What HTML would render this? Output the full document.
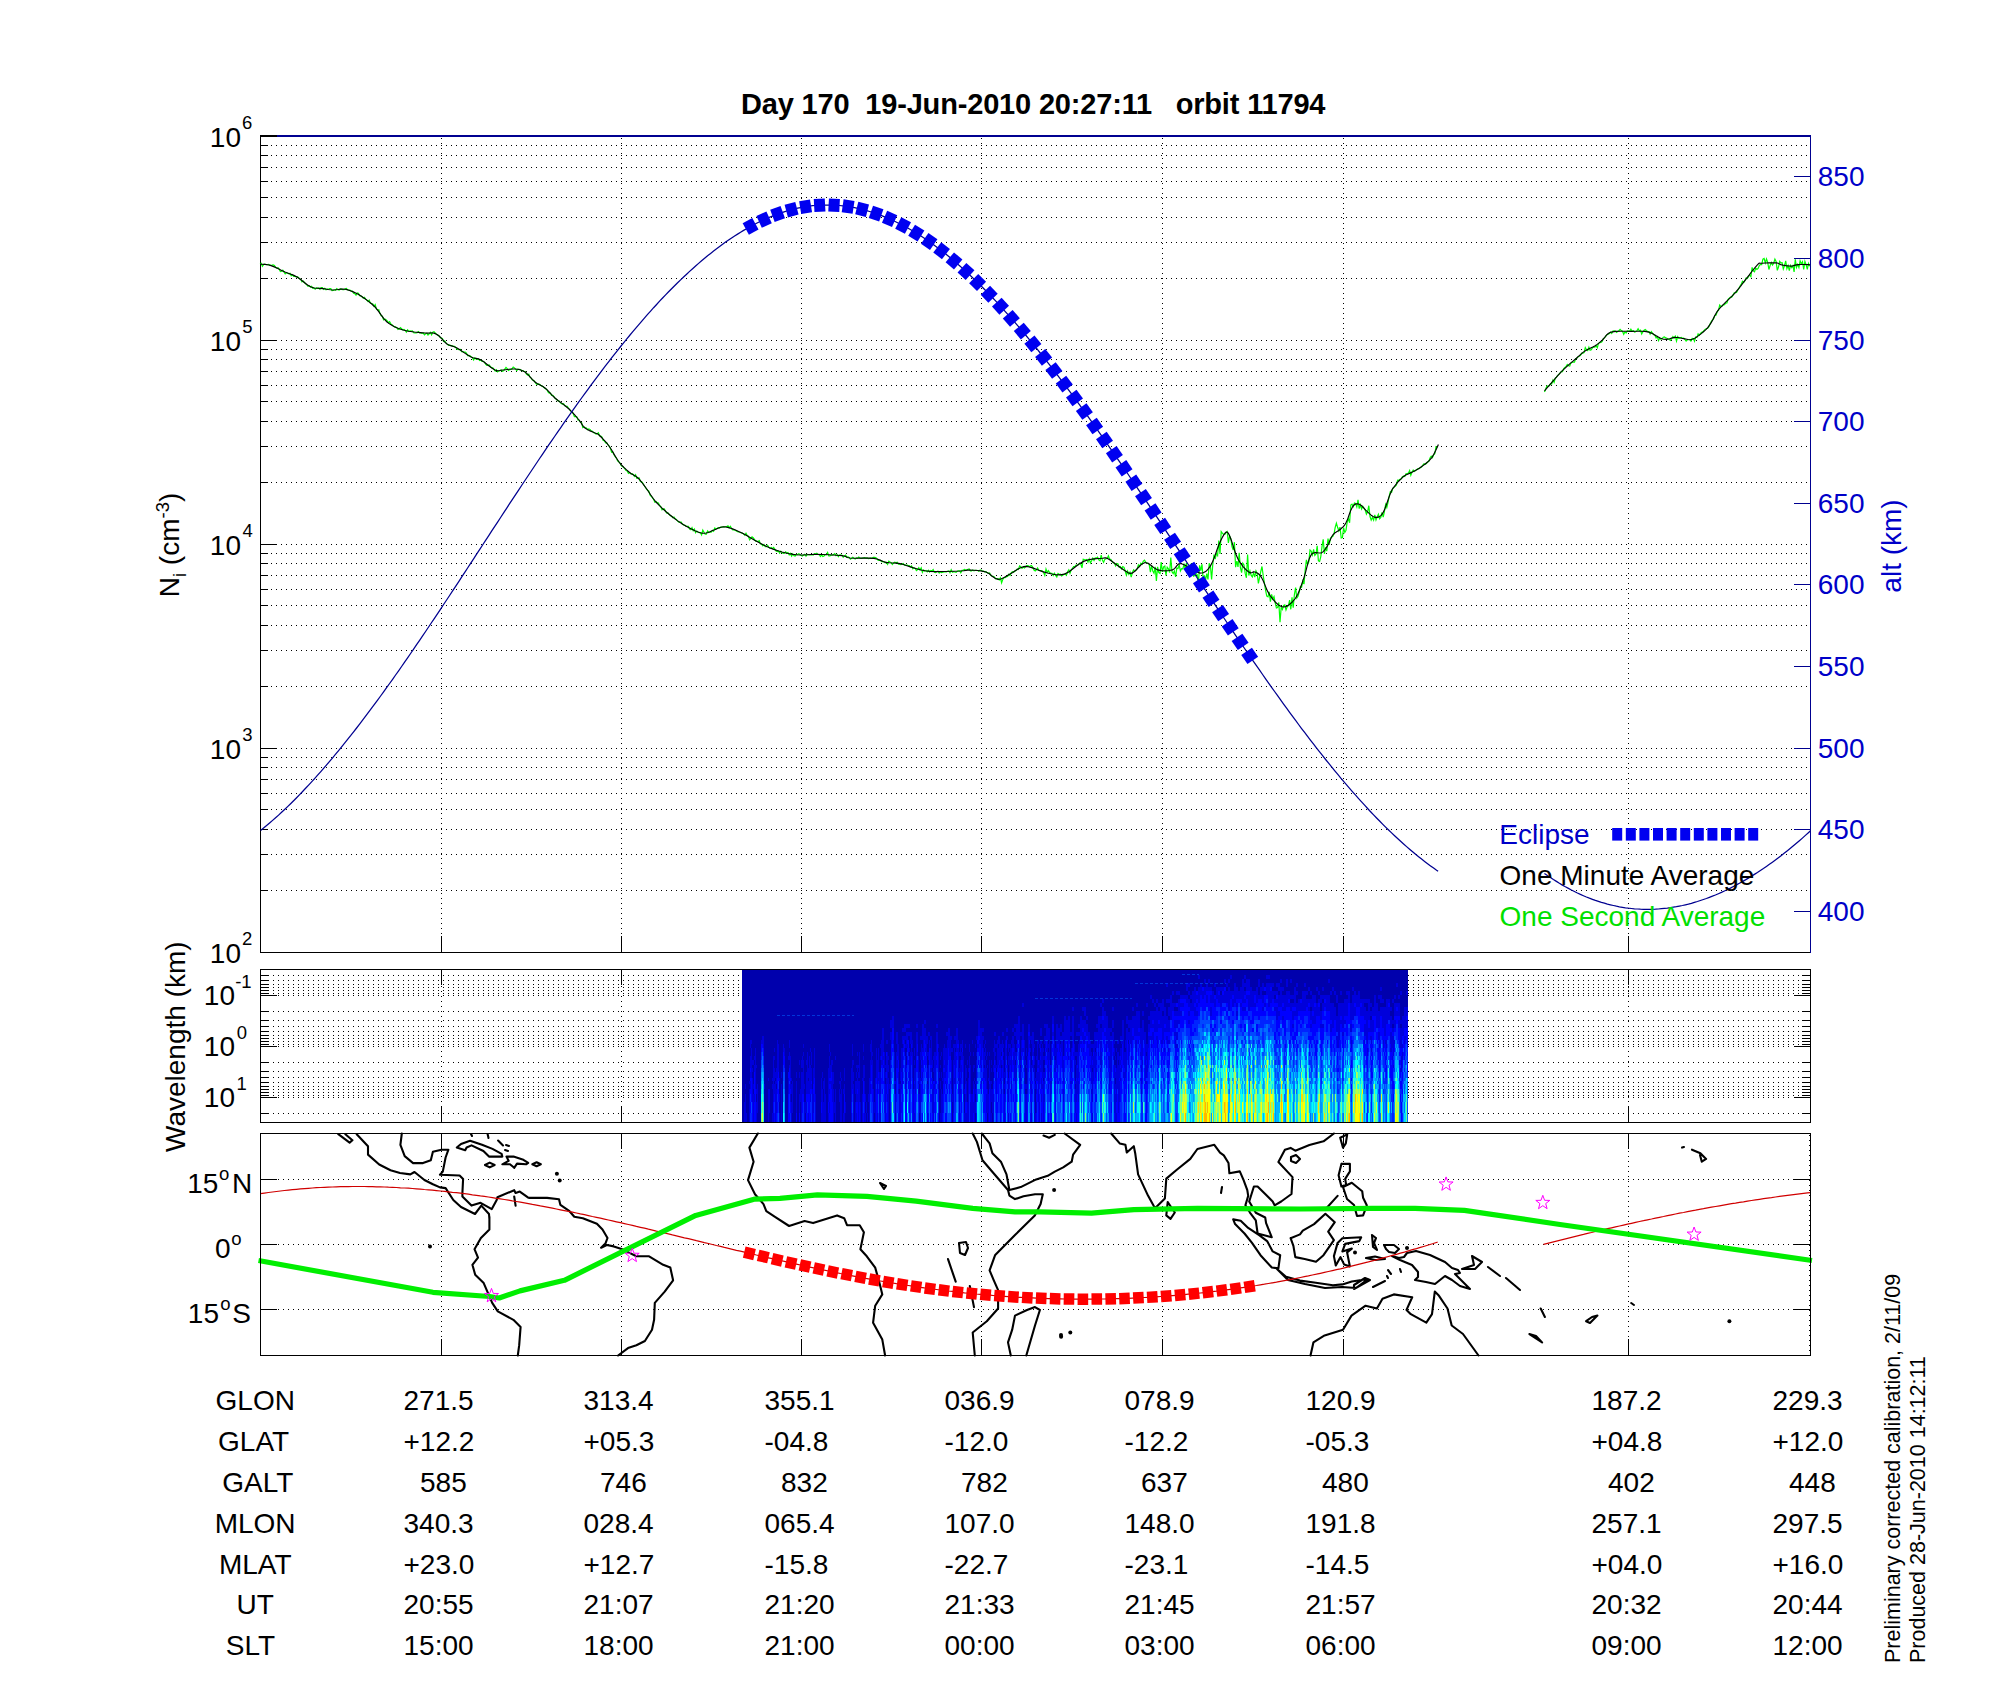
<!DOCTYPE html>
<html><head><meta charset="utf-8"><style>
html,body{margin:0;padding:0;background:#fff;width:2000px;height:1700px;overflow:hidden}
svg{display:block}
text{font-family:"Liberation Sans",sans-serif;font-size:28px}
</style></head><body>
<svg width="2000" height="1700" viewBox="0 0 2000 1700">
<rect width="2000" height="1700" fill="#fff"/>
<text x="741" y="114" font-weight="bold" style="white-space:pre;font-size:29px" textLength="584.5" lengthAdjust="spacing">Day 170  19-Jun-2010 20:27:11   orbit 11794</text>
<g shape-rendering="crispEdges" fill="none">
<path d="M261 890.5H1810M261 854.5H1810M261 829.5H1810M261 809.5H1810M261 793.5H1810M261 779.5H1810M261 767.5H1810M261 757.5H1810M261 748.5H1810M261 686.5H1810M261 650.5H1810M261 625.5H1810M261 605.5H1810M261 589.5H1810M261 575.5H1810M261 563.5H1810M261 553.5H1810M261 544.5H1810M261 482.5H1810M261 446.5H1810M261 421.5H1810M261 401.5H1810M261 385.5H1810M261 371.5H1810M261 359.5H1810M261 349.5H1810M261 340.5H1810M261 278.5H1810M261 242.5H1810M261 217.5H1810M261 197.5H1810M261 181.5H1810M261 167.5H1810M261 155.5H1810M261 145.5H1810M441.5 138V936M621.5 138V936M801.5 138V936M981.5 138V936M1162.5 138V936M1343.5 138V936M1628.5 138V936" stroke="#000" stroke-width="1" stroke-dasharray="1 4"/>
<path d="M260 890.5H268M260 854.5H268M260 829.5H268M260 809.5H268M260 793.5H268M260 779.5H268M260 767.5H268M260 757.5H268M260 748.5H277M260 686.5H268M260 650.5H268M260 625.5H268M260 605.5H268M260 589.5H268M260 575.5H268M260 563.5H268M260 553.5H268M260 544.5H277M260 482.5H268M260 446.5H268M260 421.5H268M260 401.5H268M260 385.5H268M260 371.5H268M260 359.5H268M260 349.5H268M260 340.5H277M260 278.5H268M260 242.5H268M260 217.5H268M260 197.5H268M260 181.5H268M260 167.5H268M260 155.5H268M260 145.5H268M260 136H277M441.5 936V952M621.5 936V952M801.5 936V952M981.5 936V952M1162.5 936V952M1343.5 936V952M1628.5 936V952" stroke="#000" stroke-width="1"/>
<path d="M260.5 135V953M260 952.5H1811" stroke="#000" stroke-width="1"/>
<path d="M1810.5 135V953M1794 911.5H1810M1794 829.5H1810M1794 748.5H1810M1794 666.5H1810M1794 584.5H1810M1794 503.5H1810M1794 421.5H1810M1794 340.5H1810M1794 258.5H1810M1794 176.5H1810" stroke="#000090" stroke-width="1"/>
<path d="M260 136H1811" stroke="#000090" stroke-width="2"/>
<path d="M260 136H277" stroke="#000" stroke-width="2"/>
</g>
<text x="209.87" y="962.50">10</text>
<text x="242.07" y="945.00" style="font-size:18.5px">2</text>
<text x="209.87" y="758.50">10</text>
<text x="242.30" y="741.00" style="font-size:18.5px">3</text>
<text x="209.87" y="554.50">10</text>
<text x="242.58" y="537.00" style="font-size:18.5px">4</text>
<text x="209.87" y="350.50">10</text>
<text x="242.26" y="333.00" style="font-size:18.5px">5</text>
<text x="209.87" y="146.50">10</text>
<text x="242.06" y="129.00" style="font-size:18.5px">6</text>
<text x="1817.78" y="921.00" fill="#0000c8">400</text>
<text x="1817.78" y="839.00" fill="#0000c8">450</text>
<text x="1817.78" y="758.00" fill="#0000c8">500</text>
<text x="1817.78" y="676.00" fill="#0000c8">550</text>
<text x="1817.78" y="594.00" fill="#0000c8">600</text>
<text x="1817.78" y="513.00" fill="#0000c8">650</text>
<text x="1817.78" y="431.00" fill="#0000c8">700</text>
<text x="1817.78" y="350.00" fill="#0000c8">750</text>
<text x="1817.78" y="268.00" fill="#0000c8">800</text>
<text x="1817.78" y="186.00" fill="#0000c8">850</text>
<text transform="translate(178.8 545) rotate(-90)" text-anchor="middle"><tspan>N</tspan><tspan style="font-size:18.5px" dy="7">i</tspan><tspan dy="-7"> (cm</tspan><tspan style="font-size:18.5px" dy="-10">-3</tspan><tspan dy="10">)</tspan></text>
<text transform="translate(1900.8 546) rotate(-90)" text-anchor="middle" fill="#0000c8">alt (km)</text>
<path d="M260 263.8 L261.2 263.3 L262.4 266.2 L263.6 264.6 L264.8 264.2 L266 264.5 L267.2 264.9 L268.4 264.3 L269.6 264.9 L270.8 265.4 L272 265.2 L273.2 264.9 L274.4 265.4 L275.6 267.4 L276.8 268.2 L278 267.8 L279.2 269.2 L280.4 271.6 L281.6 271.2 L282.8 270.1 L284 272.1 L285.2 273.8 L286.4 272.8 L287.6 273 L288.8 273.8 L290 273.3 L291.2 275.7 L292.4 274.6 L293.6 276.3 L294.8 276.3 L296 276.8 L297.2 276.6 L298.4 277.5 L299.6 278.9 L300.8 279.4 L302 281.8 L303.2 281.1 L304.4 282.5 L305.6 283.9 L306.8 284.9 L308 286.3 L309.2 285.8 L310.4 287 L311.6 286.3 L312.8 288.3 L314 288 L315.2 289.2 L316.4 287.9 L317.6 288.2 L318.8 288.2 L320 289.3 L321.2 287.6 L322.4 287.6 L323.6 289.3 L324.8 288.3 L326 289.7 L327.2 289.1 L328.4 289.3 L329.6 288.5 L330.8 288.5 L332 290.6 L333.2 290.5 L334.4 289.8 L335.6 290.2 L336.8 288.6 L338 289.6 L339.2 290 L340.4 288.9 L341.6 289.1 L342.8 289.7 L344 289.7 L345.2 288.9 L346.4 288.5 L347.6 289.8 L348.8 290.2 L350 290.2 L351.2 291.2 L352.4 291.1 L353.6 293.3 L354.8 293.7 L356 295.1 L357.2 292.9 L358.4 293.2 L359.6 295.6 L360.8 295.8 L362 296.7 L363.2 298.2 L364.4 297.3 L365.6 298.8 L366.8 300.2 L368 301.6 L369.2 300.1 L370.4 303.2 L371.6 303.5 L372.8 304 L374 306.3 L375.2 304.7 L376.4 308.9 L377.6 310.1 L378.8 309.8 L380 313.6 L381.2 315.7 L382.4 316.3 L383.6 319.8 L384.8 319 L386 319.8 L387.2 320.8 L388.4 322.8 L389.6 321.7 L390.8 323.9 L392 324.8 L393.2 325.9 L394.4 326.8 L395.6 326.9 L396.8 327.6 L398 329.5 L399.2 328.9 L400.4 327.6 L401.6 328.7 L402.8 329.9 L404 329.4 L405.2 330.3 L406.4 332 L407.6 329.8 L408.8 331.3 L410 330.9 L411.2 331.2 L412.4 331 L413.6 332.8 L414.8 332.9 L416 332.8 L417.2 332.7 L418.4 331.7 L419.6 333 L420.8 333 L422 333.4 L423.2 333 L424.4 334.8 L425.6 333.7 L426.8 333.2 L428 335.1 L429.2 333.9 L430.4 332.3 L431.6 334.8 L432.8 332.2 L434 331.7 L435.2 332.8 L436.4 334.2 L437.6 335.1 L438.8 335.4 L440 337.3 L441.2 338.2 L442.4 338.5 L443.6 341.4 L444.8 341 L446 342.9 L447.2 344.1 L448.4 345.2 L449.6 344.8 L450.8 345.6 L452 345.9 L453.2 346.2 L454.4 346.4 L455.6 347.2 L456.8 349 L458 349.4 L459.2 349.7 L460.4 349.5 L461.6 351.6 L462.8 351.7 L464 352.1 L465.2 352 L466.4 353.1 L467.6 355.6 L468.8 355.4 L470 355.9 L471.2 356.7 L472.4 357.6 L473.6 359.9 L474.8 357.8 L476 359 L477.2 359.4 L478.4 358.7 L479.6 360.5 L480.8 359.9 L482 361.4 L483.2 361.3 L484.4 362.1 L485.6 364.1 L486.8 365.4 L488 365.2 L489.2 364.9 L490.4 366.6 L491.6 367.6 L492.8 367.9 L494 369.3 L495.2 371.1 L496.4 369.8 L497.6 371.8 L498.8 370.8 L500 370.6 L501.2 370 L502.4 371.2 L503.6 370.8 L504.8 369.1 L506 367.4 L507.2 368.6 L508.4 370.4 L509.6 369.7 L510.8 369.4 L512 368.9 L513.2 367 L514.4 367.9 L515.6 369.2 L516.8 370.5 L518 369.2 L519.2 369.3 L520.4 369.6 L521.6 370.7 L522.8 370.7 L524 371.3 L525.2 371.6 L526.4 374.1 L527.6 375 L528.8 374.2 L530 377.2 L531.2 378.1 L532.4 380 L533.6 380.3 L534.8 381.6 L536 383.6 L537.2 384.5 L538.4 384 L539.6 384.3 L540.8 385.5 L542 386.1 L543.2 386.7 L544.4 388 L545.6 388.6 L546.8 389.6 L548 392 L549.2 393.2 L550.4 393.2 L551.6 395.3 L552.8 395.3 L554 396.7 L555.2 398.5 L556.4 399.2 L557.6 400.6 L558.8 400.8 L560 402.2 L561.2 403.5 L562.4 404.1 L563.6 403.7 L564.8 405.7 L566 406.1 L567.2 406.2 L568.4 408 L569.6 409.5 L570.8 411.3 L572 411.5 L573.2 413.6 L574.4 416.7 L575.6 416.7 L576.8 416.8 L578 419.9 L579.2 420.3 L580.4 422.3 L581.6 422.8 L582.8 427.7 L584 427 L585.2 427.6 L586.4 428 L587.6 429.7 L588.8 429 L590 429.4 L591.2 430.9 L592.4 431.2 L593.6 432.7 L594.8 432.8 L596 434 L597.2 433.7 L598.4 432.8 L599.6 435.9 L600.8 436 L602 437 L603.2 440.4 L604.4 440.8 L605.6 442.8 L606.8 442.8 L608 444.8 L609.2 446 L610.4 448.3 L611.6 452.2 L612.8 451.9 L614 454.7 L615.2 456.7 L616.4 458 L617.6 460.8 L618.8 461.8 L620 463.1 L621.2 465.7 L622.4 466.6 L623.6 467.3 L624.8 468.7 L626 470.6 L627.2 471 L628.4 473.3 L629.6 472.5 L630.8 473.8 L632 473.6 L633.2 474.5 L634.4 476.4 L635.6 474.8 L636.8 478.4 L638 478.2 L639.2 478 L640.4 481.7 L641.6 481.7 L642.8 483.1 L644 485.3 L645.2 487 L646.4 488.9 L647.6 490.2 L648.8 491.2 L650 494.9 L651.2 496.4 L652.4 497.6 L653.6 499.3 L654.8 502.2 L656 501.5 L657.2 502.7 L658.4 503 L659.6 505.5 L660.8 506.6 L662 509.8 L663.2 509 L664.4 508.8 L665.6 511.4 L666.8 513.1 L668 512.9 L669.2 514.7 L670.4 515.7 L671.6 516.1 L672.8 517.8 L674 517 L675.2 518.8 L676.4 519.4 L677.6 521.2 L678.8 522.2 L680 522 L681.2 522.1 L682.4 524.3 L683.6 524.9 L684.8 525 L686 526.3 L687.2 526.3 L688.4 526.4 L689.6 529.1 L690.8 529.7 L692 527.6 L693.2 530.8 L694.4 529 L695.6 532.6 L696.8 531 L698 532 L699.2 532.7 L700.4 532.7 L701.6 534.9 L702.8 530.1 L704 532.2 L705.2 534.1 L706.4 534.2 L707.6 530.9 L708.8 532.5 L710 532.1 L711.2 532.1 L712.4 530.3 L713.6 531.3 L714.8 527.9 L716 528.9 L717.2 528.3 L718.4 527.6 L719.6 528 L720.8 527.1 L722 527.1 L723.2 526.8 L724.4 527 L725.6 526.5 L726.8 526.6 L728 525.9 L729.2 527.9 L730.4 526.3 L731.6 528.6 L732.8 529.8 L734 529.9 L735.2 530.2 L736.4 530.9 L737.6 531.6 L738.8 532 L740 532.2 L741.2 533 L742.4 533 L743.6 533.9 L744.8 535.3 L746 533.2 L747.2 535.5 L748.4 536.2 L749.6 539.8 L750.8 538.3 L752 536.9 L753.2 537.8 L754.4 539.4 L755.6 541.2 L756.8 541 L758 541.5 L759.2 540.7 L760.4 543.9 L761.6 544.1 L762.8 545.8 L764 544.5 L765.2 546.6 L766.4 546.7 L767.6 545.3 L768.8 547.4 L770 548.2 L771.2 547.5 L772.4 548.7 L773.6 547.5 L774.8 549 L776 551.1 L777.2 551.5 L778.4 550.9 L779.6 553.1 L780.8 551.2 L782 552.6 L783.2 553.3 L784.4 553.1 L785.6 551.9 L786.8 553 L788 552.5 L789.2 554.9 L790.4 553.4 L791.6 556.2 L792.8 553.9 L794 555.7 L795.2 556 L796.4 554.4 L797.6 554.7 L798.8 553.7 L800 554.5 L801.2 555.5 L802.4 556 L803.6 554.9 L804.8 554.2 L806 556.1 L807.2 554.4 L808.4 554.7 L809.6 554.8 L810.8 554.8 L812 554.6 L813.2 555.1 L814.4 553.6 L815.6 553.9 L816.8 553.2 L818 554.5 L819.2 554.7 L820.4 556.5 L821.6 554.8 L822.8 556.6 L824 556 L825.2 554.7 L826.4 554.7 L827.6 552.5 L828.8 555.9 L830 555.9 L831.2 554.9 L832.4 555.2 L833.6 554.4 L834.8 553.6 L836 555.6 L837.2 554.6 L838.4 556.6 L839.6 555 L840.8 554.9 L842 555.2 L843.2 557.2 L844.4 555.9 L845.6 555.1 L846.8 557.2 L848 556.9 L849.2 557.4 L850.4 559.1 L851.6 558.3 L852.8 557.3 L854 558.3 L855.2 559 L856.4 557.9 L857.6 558.2 L858.8 557 L860 558.2 L861.2 558.3 L862.4 558.1 L863.6 557.8 L864.8 557.7 L866 558.2 L867.2 557.9 L868.4 558.7 L869.6 558.4 L870.8 558.1 L872 558.4 L873.2 557.4 L874.4 557.3 L875.6 557.5 L876.8 558.5 L878 560.1 L879.2 560.3 L880.4 560.3 L881.6 561.6 L882.8 561.4 L884 562.1 L885.2 562.9 L886.4 562.3 L887.6 564.3 L888.8 561.2 L890 562 L891.2 562.6 L892.4 564.5 L893.6 563 L894.8 562.3 L896 562.9 L897.2 562.3 L898.4 564.1 L899.6 564.2 L900.8 564.7 L902 564.3 L903.2 563.6 L904.4 565.1 L905.6 565 L906.8 565.1 L908 565.4 L909.2 565.6 L910.4 566.9 L911.6 565.9 L912.8 568.8 L914 567.8 L915.2 568.5 L916.4 570.5 L917.6 569.5 L918.8 567.6 L920 570 L921.2 567.8 L922.4 572.4 L923.6 570 L924.8 571.1 L926 570.4 L927.2 571.8 L928.4 570.3 L929.6 572 L930.8 570.5 L932 570.9 L933.2 569.5 L934.4 572.2 L935.6 572.5 L936.8 571.5 L938 571.2 L939.2 573 L940.4 571.7 L941.6 572.6 L942.8 572.1 L944 571.9 L945.2 571.8 L946.4 571.9 L947.6 571.3 L948.8 570.9 L950 572.8 L951.2 569.8 L952.4 572.2 L953.6 571.7 L954.8 572 L956 572.4 L957.2 571.3 L958.4 570.8 L959.6 570.8 L960.8 572.8 L962 570.3 L963.2 570.3 L964.4 569.5 L965.6 569.9 L966.8 570 L968 569.2 L969.2 569 L970.4 570.9 L971.6 570.9 L972.8 570 L974 570.9 L975.2 570.3 L976.4 570.4 L977.6 570.5 L978.8 571.2 L980 570.1 L981.2 570.1 L982.4 571.3 L983.6 571.2 L984.8 571.8 L986 571.6 L987.2 572.8 L988.4 573.3 L989.6 573 L990.8 575.3 L992 576.1 L993.2 576.4 L994.4 576.9 L995.6 578.8 L996.8 578.6 L998 578.6 L999.2 579.9 L1000.4 577.9 L1001.6 582.8 L1002.8 579.4 L1004 577.6 L1005.2 577.7 L1006.4 576.8 L1007.6 576.4 L1008.8 574.3 L1010 575.4 L1011.2 572.9 L1012.4 571.8 L1013.6 572.2 L1014.8 571.1 L1016 570.5 L1017.2 568.9 L1018.4 569.4 L1019.6 565.9 L1020.8 566.6 L1022 568.3 L1023.2 567.1 L1024.4 567.9 L1025.6 566.9 L1026.8 565.5 L1028 565.6 L1029.2 566.9 L1030.4 565.9 L1031.6 565.6 L1032.8 567.4 L1034 570.1 L1035.2 570.9 L1036.4 569.8 L1037.6 567.9 L1038.8 570.5 L1040 570.7 L1041.2 570.6 L1042.4 571 L1043.6 572.4 L1044.8 575.3 L1046 569.1 L1047.2 572.4 L1048.4 570.6 L1049.6 572.5 L1050.8 573.3 L1052 573.4 L1053.2 575.5 L1054.4 573.2 L1055.6 575.3 L1056.8 576.9 L1058 573.5 L1059.2 574.5 L1060.4 574.2 L1061.6 576 L1062.8 575.2 L1064 574 L1065.2 573.8 L1066.4 575.2 L1067.6 571.7 L1068.8 569.8 L1070 573.2 L1071.2 569.8 L1072.4 568.4 L1073.6 566.7 L1074.8 566.7 L1076 565.2 L1077.2 565.2 L1078.4 564.7 L1079.6 563.2 L1080.8 564.3 L1082 567.8 L1083.2 559.2 L1084.4 559.6 L1085.6 559.8 L1086.8 559.4 L1088 562.2 L1089.2 558.9 L1090.4 562.9 L1091.6 560.7 L1092.8 558.2 L1094 560.5 L1095.2 557.9 L1096.4 558 L1097.6 557.1 L1098.8 559.9 L1100 560.8 L1101.2 555.2 L1102.4 560 L1103.6 562.4 L1104.8 559.4 L1106 558.8 L1107.2 558.4 L1108.4 555.9 L1109.6 559.1 L1110.8 559.2 L1112 561.4 L1113.2 562.7 L1114.4 563.3 L1115.6 565.8 L1116.8 563.4 L1118 563.9 L1119.2 567.1 L1120.4 566.5 L1121.6 568.9 L1122.8 566.6 L1124 567.3 L1125.2 571 L1126.4 575.1 L1127.6 571.2 L1128.8 574.3 L1130 572.2 L1131.2 577.1 L1132.4 572.5 L1133.6 569.8 L1134.8 571 L1136 570.4 L1137.2 568.8 L1138.4 564.9 L1139.6 566.5 L1140.8 563.2 L1142 564.2 L1143.2 561.3 L1144.4 560.2 L1145.6 561.9 L1146.8 563.2 L1148 563.3 L1149.2 564.4 L1150.4 572.1 L1151.6 565.6 L1152.8 571 L1154 573.2 L1155.2 566.9 L1156.4 580.9 L1157.6 566.8 L1158.8 572.6 L1160 573.5 L1161.2 562.1 L1162.4 571.9 L1163.6 566.9 L1164.8 566 L1166 575.5 L1167.2 567.3 L1168.4 568.8 L1169.6 572.5 L1170.8 557.6 L1172 571.9 L1173.2 573.5 L1174.4 571.1 L1175.6 577 L1176.8 568.1 L1178 568.5 L1179.2 564.9 L1180.4 571 L1181.6 568.7 L1182.8 568.8 L1184 564.5 L1185.2 568.8 L1186.4 563.4 L1187.6 568.1 L1188.8 571.8 L1190 573.7 L1191.2 563.5 L1192.4 569.2 L1193.6 576.2 L1194.8 575.6 L1196 573.7 L1197.2 574.5 L1198.4 583.7 L1199.6 565.3 L1200.8 570.6 L1202 564.2 L1203.2 580.1 L1204.4 575.4 L1205.6 580 L1206.8 573.5 L1208 579.4 L1209.2 563.3 L1210.4 566 L1211.6 579.4 L1212.8 564.3 L1214 554.6 L1215.2 559.2 L1216.4 553.5 L1217.6 555.5 L1218.8 540.5 L1220 554 L1221.2 531.6 L1222.4 533.1 L1223.6 534.4 L1224.8 534.4 L1226 532.1 L1227.2 531.5 L1228.4 542.9 L1229.6 536.2 L1230.8 538.5 L1232 546.5 L1233.2 550.1 L1234.4 542.2 L1235.6 567.2 L1236.8 561 L1238 567 L1239.2 552.8 L1240.4 567.6 L1241.6 572.7 L1242.8 563.1 L1244 564.9 L1245.2 573.4 L1246.4 577.8 L1247.6 554.5 L1248.8 575.5 L1250 571 L1251.2 575.5 L1252.4 576.9 L1253.6 572.7 L1254.8 577.1 L1256 571 L1257.2 573.5 L1258.4 583.4 L1259.6 577.4 L1260.8 571.5 L1262 566.5 L1263.2 575.7 L1264.4 583.1 L1265.6 590.3 L1266.8 596.2 L1268 596.8 L1269.2 591.9 L1270.4 601.6 L1271.6 594.3 L1272.8 598.9 L1274 596.5 L1275.2 602.8 L1276.4 608 L1277.6 607.5 L1278.8 602.5 L1280 622.2 L1281.2 607.3 L1282.4 609.5 L1283.6 605.5 L1284.8 604.9 L1286 610 L1287.2 606.8 L1288.4 605.6 L1289.6 600.2 L1290.8 609.3 L1292 597.2 L1293.2 607.7 L1294.4 594.5 L1295.6 587.6 L1296.8 598 L1298 596.3 L1299.2 592.1 L1300.4 586.5 L1301.6 587.3 L1302.8 580.9 L1304 584.1 L1305.2 570 L1306.4 559.8 L1307.6 564.5 L1308.8 561.8 L1310 550 L1311.2 551.1 L1312.4 554.9 L1313.6 549.4 L1314.8 555.5 L1316 554.1 L1317.2 545.8 L1318.4 560.9 L1319.6 561.4 L1320.8 556.6 L1322 546.7 L1323.2 539.3 L1324.4 553.8 L1325.6 547.3 L1326.8 551.1 L1328 538.5 L1329.2 544.8 L1330.4 538.4 L1331.6 537.2 L1332.8 536.3 L1334 533.8 L1335.2 527.5 L1336.4 523.2 L1337.6 527.3 L1338.8 530.8 L1340 527.1 L1341.2 538 L1342.4 537.6 L1343.6 527.7 L1344.8 532.3 L1346 530.2 L1347.2 522 L1348.4 518.6 L1349.6 522.8 L1350.8 505.1 L1352 504.1 L1353.2 506.7 L1354.4 503.1 L1355.6 503.5 L1356.8 506.8 L1358 499.8 L1359.2 508.6 L1360.4 504.9 L1361.6 509 L1362.8 506.3 L1364 508.2 L1365.2 510.2 L1366.4 514.2 L1367.6 511.7 L1368.8 505.7 L1370 516.5 L1371.2 520.2 L1372.4 517.5 L1373.6 520.2 L1374.8 514.8 L1376 519.9 L1377.2 516.7 L1378.4 514.3 L1379.6 518.8 L1380.8 517.5 L1382 512.4 L1383.2 517 L1384.4 511.7 L1385.6 504.5 L1386.8 507.5 L1388 502.3 L1389.2 496.1 L1390.4 491.5 L1391.6 492.3 L1392.8 488.4 L1394 487.4 L1395.2 486.4 L1396.4 485 L1397.6 480.2 L1398.8 480.3 L1400 479.4 L1401.2 479.1 L1402.4 476.8 L1403.6 476.1 L1404.8 476.5 L1406 473.8 L1407.2 473.5 L1408.4 473.2 L1409.6 470.6 L1410.8 475.3 L1412 472.2 L1413.2 470 L1414.4 471.5 L1415.6 470.6 L1416.8 469.4 L1418 468.6 L1419.2 468.6 L1420.4 467.5 L1421.6 467 L1422.8 465 L1424 463.7 L1425.2 464.3 L1426.4 463.5 L1427.6 461.8 L1428.8 461.5 L1430 457.9 L1431.2 456.2 L1432.4 457.6 L1433.6 454.9 L1434.8 453.6 L1436 446.8 L1437.2 447.8" fill="none" stroke="#00ff00" stroke-width="1.2"/>
<path d="M1544.5 391.9 L1545.7 389 L1546.9 386 L1548.1 386.4 L1549.3 385.7 L1550.5 383.7 L1551.7 384 L1552.9 380.1 L1554.1 382.4 L1555.3 378.2 L1556.5 377.1 L1557.7 375.3 L1558.9 374.4 L1560.1 373 L1561.3 371.3 L1562.5 371.5 L1563.7 368.7 L1564.9 367.5 L1566.1 366.3 L1567.3 364.5 L1568.5 365.8 L1569.7 366 L1570.9 363.1 L1572.1 362.4 L1573.3 362.2 L1574.5 362.1 L1575.7 358.6 L1576.9 358.2 L1578.1 356.7 L1579.3 356.3 L1580.5 355.3 L1581.7 353.2 L1582.9 353.2 L1584.1 352.5 L1585.3 347.6 L1586.5 349.7 L1587.7 350.6 L1588.9 347.2 L1590.1 350.2 L1591.3 349.8 L1592.5 347.8 L1593.7 347.1 L1594.9 347.2 L1596.1 345.5 L1597.3 347.7 L1598.5 343.3 L1599.7 342.6 L1600.9 342.4 L1602.1 341.5 L1603.3 338.6 L1604.5 337.9 L1605.7 336.3 L1606.9 334.7 L1608.1 334.3 L1609.3 333.5 L1610.5 332.2 L1611.7 333.4 L1612.9 331 L1614.1 330.8 L1615.3 331.1 L1616.5 332.5 L1617.7 331.6 L1618.9 330.7 L1620.1 329.3 L1621.3 330.6 L1622.5 331.2 L1623.7 334.2 L1624.9 331.9 L1626.1 333 L1627.3 331 L1628.5 331.1 L1629.7 331.4 L1630.9 329.2 L1632.1 331.3 L1633.3 330.8 L1634.5 332.1 L1635.7 331.7 L1636.9 330.9 L1638.1 328.8 L1639.3 330.9 L1640.5 330.2 L1641.7 333.9 L1642.9 331.8 L1644.1 330.3 L1645.3 329.5 L1646.5 330.7 L1647.7 331.6 L1648.9 331.6 L1650.1 334.2 L1651.3 331.7 L1652.5 333.1 L1653.7 334.7 L1654.9 335.2 L1656.1 338 L1657.3 336.6 L1658.5 340.6 L1659.7 337.9 L1660.9 339.3 L1662.1 338.6 L1663.3 337.3 L1664.5 336.9 L1665.7 337.9 L1666.9 338.3 L1668.1 339 L1669.3 339.4 L1670.5 340.3 L1671.7 338.7 L1672.9 336.5 L1674.1 337.9 L1675.3 336.1 L1676.5 341 L1677.7 336.6 L1678.9 338.4 L1680.1 338 L1681.3 337.4 L1682.5 338.3 L1683.7 338.1 L1684.9 339.5 L1686.1 341 L1687.3 339.8 L1688.5 339.5 L1689.7 339.5 L1690.9 341.1 L1692.1 338.3 L1693.3 338.5 L1694.5 341.2 L1695.7 337 L1696.9 337.5 L1698.1 333.9 L1699.3 335.2 L1700.5 333.4 L1701.7 332.3 L1702.9 331.9 L1704.1 330.3 L1705.3 329.2 L1706.5 328.7 L1707.7 328.3 L1708.9 326.8 L1710.1 324.1 L1711.3 321.6 L1712.5 320 L1713.7 318.6 L1714.9 315.4 L1716.1 315 L1717.3 311.3 L1718.5 310.5 L1719.7 305.1 L1720.9 306.4 L1722.1 306.1 L1723.3 304.8 L1724.5 304.6 L1725.7 303.1 L1726.9 303 L1728.1 299.4 L1729.3 298.2 L1730.5 297 L1731.7 297.1 L1732.9 295.4 L1734.1 293.1 L1735.3 292.7 L1736.5 292.4 L1737.7 290.1 L1738.9 288.5 L1740.1 286 L1741.3 284 L1742.5 281.3 L1743.7 282.5 L1744.9 280.8 L1746.1 278 L1747.3 278.6 L1748.5 276.8 L1749.7 274.8 L1750.9 276.6 L1752.1 267.4 L1753.3 270.8 L1754.5 271.7 L1755.7 268.2 L1756.9 269.5 L1758.1 268.4 L1759.3 265.5 L1760.5 264.3 L1761.7 264.5 L1762.9 259.2 L1764.1 258.4 L1765.3 263 L1766.5 259 L1767.7 262.4 L1768.9 269.5 L1770.1 265.6 L1771.3 262.6 L1772.5 265.1 L1773.7 263.2 L1774.9 259.2 L1776.1 261.5 L1777.3 270.4 L1778.5 267 L1779.7 261.3 L1780.9 262.8 L1782.1 262.7 L1783.3 269 L1784.5 265.7 L1785.7 260.9 L1786.9 268.7 L1788.1 265.5 L1789.3 270.7 L1790.5 265.5 L1791.7 267.6 L1792.9 265.7 L1794.1 271.9 L1795.3 259.4 L1796.5 267.5 L1797.7 264.4 L1798.9 267.5 L1800.1 260.8 L1801.3 263.8 L1802.5 261.7 L1803.7 269.5 L1804.9 261.5 L1806.1 264.7 L1807.3 269.4 L1808.5 263.4 L1809.7 266.2" fill="none" stroke="#00ff00" stroke-width="1.2"/>
<path d="M260 264 L261.9 264.2 L264.6 264.4 L267.8 264.8 L271 265.6 L274.3 266.9 L277.9 268.6 L281.6 270.4 L285 272 L288.1 273.2 L291 274.3 L293.9 275.4 L297 277 L300.4 279.3 L304 282.2 L307.6 285 L311 287 L314.2 288 L317.2 288.3 L320.2 288.4 L323 288.6 L325.6 289 L328.1 289.5 L330.5 289.8 L333 290 L335.5 289.8 L338.1 289.5 L340.6 289.1 L343 289 L345.1 289.2 L347 289.6 L348.9 290.2 L351 291 L353.3 291.9 L355.6 292.9 L358.2 294.3 L361 296 L364.3 298.2 L367.9 300.9 L371.5 303.8 L375 307 L378 310.6 L380.9 314.7 L383.8 318.6 L387 322 L390.6 324.6 L394.4 326.8 L398.5 328.5 L403 330 L408.4 331.2 L414.5 332 L420.3 332.6 L425 333 L428 333.1 L430 333 L431.5 332.9 L433 333 L434.6 333.4 L436 334 L437.4 334.8 L439 336 L440.8 337.7 L442.8 339.9 L444.8 342.2 L447 344 L449.3 345.2 L451.6 345.9 L454.2 346.7 L457 348 L460.3 350 L464 352.6 L467.7 355.1 L471 357 L473.7 358 L476 358.4 L478.3 358.9 L481 360 L484.4 362.2 L488.1 365.2 L491.8 368 L495 370 L497.3 370.7 L499.1 370.7 L500.9 370.3 L503 370 L505.8 369.7 L508.9 369.3 L512 369 L515 369 L517.6 369.3 L520.1 369.8 L522.5 370.7 L525 372 L527.5 374.1 L530 376.8 L532.5 379.6 L535 382 L537.5 383.7 L540 385 L542.5 386.3 L545 388 L547.4 390.2 L549.8 392.7 L552.2 395.3 L555 398 L558.3 400.7 L562 403.4 L565.7 406.2 L569 409 L571.9 411.8 L574.5 414.7 L576.9 417.5 L579 420 L580.7 422.3 L582 424.4 L583.3 426.3 L585 428 L587.4 429.5 L590.1 430.9 L592.8 432 L595 433 L596.3 433.5 L597 433.6 L597.7 433.9 L599 435 L601.1 437 L603.6 439.6 L606.4 442.7 L609 446 L611.5 449.8 L614 454.1 L616.5 458.3 L619 462 L621.5 465 L624.1 467.6 L626.6 469.9 L629 472 L631.3 473.7 L633.6 475 L635.8 476.3 L638 478 L640 480.1 L641.9 482.5 L643.9 485.1 L646 488 L648.3 491.2 L650.6 494.8 L653.2 498.5 L656 502 L659.2 505.4 L662.8 508.8 L666.4 512 L670 515 L673.5 517.8 L677 520.4 L680.5 522.8 L684 525 L687.6 527.1 L691.4 529.1 L694.9 530.7 L698 532 L700.4 532.8 L702.4 533.1 L704.1 533.2 L706 533 L708 532.5 L710 531.8 L712 530.8 L714 530 L716 529.2 L718 528.2 L720 527.5 L722 527 L723.9 526.9 L725.8 527 L727.7 527.4 L730 528 L732.6 528.9 L735.5 530 L738.6 531.4 L742 533 L745.8 535 L750 537.4 L754.2 539.9 L758 542 L761.2 543.7 L764 545.2 L766.8 546.6 L770 548 L773.8 549.4 L777.9 550.8 L782 552 L786 553 L789.6 553.8 L793 554.4 L796.4 554.8 L800 555 L803.6 555 L807.2 554.8 L811.2 554.5 L816 554.4 L822.2 554.5 L829.5 554.8 L836.5 555.2 L842 555.6 L844.9 556.2 L846.1 556.8 L847.3 557.5 L850 558 L855.2 558.2 L861.8 558.1 L868.5 558.1 L874 558.4 L877.8 559.2 L880.6 560.4 L883.1 561.5 L886 562.4 L889.4 562.8 L892.9 563 L896.5 563.1 L900 563.6 L903.5 564.5 L906.9 565.7 L910.4 566.9 L914 568 L917.5 569 L921 570 L925 570.8 L930 571.4 L937 571.6 L945.4 571.5 L953.6 571.2 L960 571 L963.8 570.7 L965.9 570.4 L967.5 570.1 L970 570 L973.7 570.2 L977.9 570.5 L982.1 571.1 L986 572 L989.3 573.8 L992.2 576.2 L995.1 578.3 L998 579.4 L1001 579 L1004.1 577.5 L1007.1 575.7 L1010 574 L1012.7 572.4 L1015.2 570.7 L1017.7 569.2 L1020 568 L1022 567.2 L1023.7 566.6 L1025.7 566.4 L1028.5 566.7 L1032.6 567.9 L1037.5 569.7 L1042.6 571.6 L1047.5 573 L1051.8 574 L1056 574.7 L1060.2 574.9 L1064.5 574.1 L1069.1 571.7 L1073.9 568 L1078.7 564.2 L1083.5 561.4 L1088.6 559.8 L1093.8 558.9 L1098.7 558.5 L1102.6 558.2 L1104.9 557.9 L1106 557.9 L1107 558.3 L1108.9 559.3 L1112.2 561.5 L1116.2 564.5 L1120.3 567.5 L1123.8 569.9 L1126.3 571.5 L1128.1 572.8 L1129.9 573.4 L1132.2 573.1 L1135.1 571 L1138.3 567.5 L1141.7 564.2 L1145 562.5 L1148.1 563.3 L1151.2 565.5 L1154.4 568.1 L1157.7 569.9 L1161.4 570.6 L1165.4 570.8 L1169.2 570.5 L1172.5 569.9 L1174.8 568.4 L1176.5 566.1 L1178.3 564.1 L1181 563.5 L1185.2 565.2 L1190.4 568.4 L1195.6 571.5 L1200 573.1 L1203.3 572.8 L1206 571.3 L1208.3 568.9 L1210.6 565.7 L1212.9 561.1 L1215.1 555.4 L1217.1 549.5 L1219 544.5 L1220.8 540.6 L1222.5 537.1 L1224 534.5 L1225.4 532.8 L1226.5 532.1 L1227.4 532.2 L1228.4 533.4 L1229.7 536 L1231.5 540.7 L1233.5 547.1 L1235.7 553.7 L1238.1 559.3 L1240.7 563.5 L1243.5 567.1 L1246.3 570 L1248.7 572 L1250.6 572.8 L1252.1 572.5 L1253.5 571.9 L1255 572 L1256.5 572.7 L1258.1 573.5 L1259.7 575 L1261.4 577.3 L1263.3 581.1 L1265.3 585.9 L1267.4 590.9 L1269.9 595.3 L1272.8 599.1 L1276 602.8 L1279.3 605.6 L1282.6 607 L1285.9 606.6 L1289.2 604.8 L1292.4 601.9 L1295.3 598.5 L1297.8 594.2 L1300 589 L1302 583.4 L1303.8 578.1 L1305.4 572.8 L1306.8 567.3 L1308.1 562.3 L1309.4 558.4 L1310.6 555.9 L1311.6 554.3 L1312.7 553.4 L1314.1 552.7 L1315.8 552.5 L1317.8 552.8 L1319.8 553 L1321.6 552.7 L1323.2 551.6 L1324.6 550.1 L1325.9 548.2 L1327.3 546.1 L1328.7 543.5 L1330 540.4 L1331.4 537.3 L1332.9 534.8 L1334.7 533 L1336.7 531.7 L1338.7 530.5 L1340.5 529.2 L1342 527.8 L1343.4 526.6 L1344.7 524.9 L1346.1 522.6 L1347.7 518.9 L1349.3 514.3 L1351 509.9 L1352.7 506.6 L1354.3 504.8 L1355.9 503.9 L1357.5 503.8 L1359.3 504.2 L1361.3 505.5 L1363.5 507.7 L1365.7 510.2 L1367.8 512.2 L1369.7 513.9 L1371.6 515.6 L1373.4 516.8 L1375.3 517.4 L1377.2 517.4 L1379 516.9 L1380.9 515.6 L1382.8 513.2 L1384.8 509 L1386.8 503.5 L1388.8 497.8 L1390.4 493.4 L1391.5 490.9 L1392.1 489.5 L1392.9 488.4 L1394.1 486.8 L1396 484.4 L1398.4 481.5 L1401 478.8 L1403.5 476.5 L1405.8 475 L1408.2 473.9 L1410.5 472.9 L1412.9 471.8 L1415.3 470.5 L1417.7 469.2 L1420 467.7 L1422.4 466.1 L1424.8 464.3 L1427.3 462.3 L1429.6 460.1 L1431.8 457.6 L1433.8 454.3 L1435.7 450.5 L1437.3 447 L1438.4 444.5" fill="none" stroke="#000" stroke-width="1.15"/>
<path d="M1544.5 390.8 L1547.7 387.1 L1552.3 381.8 L1557.3 376.1 L1561.9 371.2 L1565.9 367.4 L1569.7 363.9 L1573.3 360.9 L1576.4 358.2 L1579 355.9 L1581 354.1 L1583 352.4 L1585.1 350.9 L1587.6 349.5 L1590.2 348.3 L1592.8 347.1 L1595.2 345.8 L1597.2 344.4 L1598.9 343.1 L1600.6 341.6 L1602.5 340 L1604.3 338 L1606 335.7 L1608.2 333.6 L1611.2 332.1 L1615.5 331.4 L1620.8 331.2 L1626.4 331.2 L1631.5 331.3 L1636.1 331.2 L1640.6 331.2 L1644.8 331.4 L1648.9 332.1 L1652.8 333.7 L1656.5 335.9 L1660 338 L1663.4 339.3 L1666.6 339.4 L1669.6 338.7 L1672.4 337.9 L1675 337.4 L1677.4 337.5 L1679.5 337.8 L1681.6 338.3 L1683.7 338.6 L1685.8 339 L1687.9 339.5 L1690 339.7 L1692.4 339.3 L1695.2 337.9 L1698.3 335.9 L1701.3 333.6 L1704 331.3 L1706.1 329.3 L1707.9 327.3 L1709.5 325.1 L1711.2 322.6 L1712.8 319.7 L1714.3 316.6 L1716.1 313.2 L1718.5 309.6 L1722 305.8 L1726.2 301.7 L1730.5 297.6 L1734.4 293.6 L1737.6 289.9 L1740.5 286.3 L1743.2 282.7 L1746 279.1 L1749.1 275.2 L1752.2 271 L1755.2 267.3 L1757.6 264.6 L1759 263.3 L1759.6 263 L1760.4 263.2 L1762 263.2 L1765.2 263 L1769.3 262.9 L1773.4 262.8 L1776.5 262.9 L1778.2 263.2 L1778.9 263.6 L1779.5 264.1 L1780.8 264.6 L1783 265.1 L1785.7 265.6 L1788.5 265.9 L1791 266.1 L1792.9 265.9 L1794.5 265.4 L1796.2 264.9 L1798.2 264.6 L1801.1 264.5 L1804.5 264.5 L1807.6 264.6 L1809.8 264.6" fill="none" stroke="#000" stroke-width="1.15"/>
<path d="M260.6 830.5 L263.6 828.1 L266.6 825.6 L269.6 823 L272.6 820.4 L275.6 817.8 L278.6 815.1 L281.6 812.3 L284.6 809.5 L287.6 806.6 L290.6 803.7 L293.6 800.7 L296.6 797.7 L299.6 794.6 L302.6 791.5 L305.6 788.3 L308.6 785.1 L311.6 781.9 L314.6 778.6 L317.6 775.2 L320.6 771.8 L323.6 768.4 L326.6 764.9 L329.6 761.4 L332.6 757.8 L335.6 754.2 L338.6 750.6 L341.6 746.9 L344.6 743.2 L347.6 739.4 L350.6 735.7 L353.6 731.8 L356.6 728 L359.6 724.1 L362.6 720.2 L365.6 716.2 L368.6 712.2 L371.6 708.2 L374.6 704.1 L377.6 700.1 L380.6 696 L383.6 691.8 L386.6 687.7 L389.6 683.5 L392.6 679.3 L395.6 675 L398.6 670.8 L401.6 666.5 L404.6 662.2 L407.6 657.8 L410.6 653.5 L413.6 649.1 L416.6 644.7 L419.6 640.3 L422.6 635.9 L425.6 631.5 L428.6 627 L431.6 622.5 L434.6 618.1 L437.6 613.6 L440.6 609.1 L443.6 604.5 L446.6 600 L449.6 595.5 L452.6 590.9 L455.6 586.3 L458.6 581.8 L461.6 577.2 L464.6 572.6 L467.6 568 L470.6 563.4 L473.6 558.8 L476.6 554.2 L479.6 549.6 L482.6 545 L485.6 540.4 L488.6 535.8 L491.6 531.2 L494.6 526.7 L497.6 522.1 L500.6 517.5 L503.6 512.9 L506.6 508.3 L509.6 503.7 L512.6 499.2 L515.6 494.6 L518.6 490.1 L521.6 485.5 L524.6 481 L527.6 476.5 L530.6 472 L533.6 467.5 L536.6 463 L539.6 458.5 L542.6 454.1 L545.6 449.7 L548.6 445.2 L551.6 440.8 L554.6 436.5 L557.6 432.1 L560.6 427.8 L563.6 423.4 L566.6 419.1 L569.6 414.9 L572.6 410.6 L575.6 406.4 L578.6 402.2 L581.6 398 L584.6 393.9 L587.6 389.8 L590.6 385.7 L593.6 381.6 L596.6 377.6 L599.6 373.6 L602.6 369.6 L605.6 365.7 L608.6 361.8 L611.6 357.9 L614.6 354.1 L617.6 350.3 L620.6 346.5 L623.6 342.8 L626.6 339.1 L629.6 335.5 L632.6 331.8 L635.6 328.3 L638.6 324.8 L641.6 321.3 L644.6 317.8 L647.6 314.4 L650.6 311.1 L653.6 307.7 L656.6 304.5 L659.6 301.2 L662.6 298 L665.6 294.9 L668.6 291.8 L671.6 288.7 L674.6 285.7 L677.6 282.8 L680.6 279.9 L683.6 277 L686.6 274.2 L689.6 271.4 L692.6 268.7 L695.6 266 L698.6 263.4 L701.6 260.8 L704.6 258.3 L707.6 255.8 L710.6 253.4 L713.6 251.1 L716.6 248.7 L719.6 246.5 L722.6 244.3 L725.6 242.1 L728.6 240 L731.6 238 L734.6 236 L737.6 234.1 L740.6 232.2 L743.6 230.4 L746.6 228.7 L749.6 227 L752.6 225.3 L755.6 223.8 L758.6 222.2 L761.6 220.8 L764.6 219.4 L767.6 218.1 L770.6 216.8 L773.6 215.6 L776.6 214.4 L779.6 213.3 L782.6 212.3 L785.6 211.4 L788.6 210.5 L791.6 209.7 L794.6 208.9 L797.6 208.2 L800.6 207.6 L803.6 207 L806.6 206.5 L809.6 206.1 L812.6 205.7 L815.6 205.5 L818.6 205.2 L821.6 205.1 L824.6 205 L827.6 205 L830.6 205 L833.6 205.1 L836.6 205.3 L839.6 205.5 L842.6 205.8 L845.6 206.2 L848.6 206.6 L851.6 207.1 L854.6 207.7 L857.6 208.3 L860.6 209 L863.6 209.8 L866.6 210.6 L869.6 211.5 L872.6 212.4 L875.6 213.4 L878.6 214.5 L881.6 215.6 L884.6 216.8 L887.6 218 L890.6 219.4 L893.6 220.7 L896.6 222.2 L899.6 223.7 L902.6 225.2 L905.6 226.8 L908.6 228.5 L911.6 230.2 L914.6 232 L917.6 233.9 L920.6 235.8 L923.6 237.7 L926.6 239.8 L929.6 241.8 L932.6 244 L935.6 246.2 L938.6 248.4 L941.6 250.7 L944.6 253.1 L947.6 255.5 L950.6 258 L953.6 260.5 L956.6 263.1 L959.6 265.7 L962.6 268.4 L965.6 271.1 L968.6 273.9 L971.6 276.7 L974.6 279.6 L977.6 282.5 L980.6 285.4 L983.6 288.5 L986.6 291.5 L989.6 294.6 L992.6 297.8 L995.6 300.9 L998.6 304.2 L1001.6 307.4 L1004.6 310.8 L1007.6 314.1 L1010.6 317.5 L1013.6 320.9 L1016.6 324.4 L1019.6 327.9 L1022.6 331.5 L1025.6 335 L1028.6 338.7 L1031.6 342.3 L1034.6 346 L1037.6 349.7 L1040.6 353.5 L1043.6 357.3 L1046.6 361.1 L1049.6 364.9 L1052.6 368.8 L1055.6 372.7 L1058.6 376.6 L1061.6 380.6 L1064.6 384.6 L1067.6 388.6 L1070.6 392.7 L1073.6 396.7 L1076.6 400.8 L1079.6 404.9 L1082.6 409.1 L1085.6 413.2 L1088.6 417.4 L1091.6 421.6 L1094.6 425.9 L1097.6 430.1 L1100.6 434.4 L1103.6 438.7 L1106.6 443 L1109.6 447.3 L1112.6 451.6 L1115.6 456 L1118.6 460.4 L1121.6 464.7 L1124.6 469.1 L1127.6 473.5 L1130.6 478 L1133.6 482.4 L1136.6 486.9 L1139.6 491.3 L1142.6 495.8 L1145.6 500.2 L1148.6 504.7 L1151.6 509.2 L1154.6 513.7 L1157.6 518.2 L1160.6 522.7 L1163.6 527.2 L1166.6 531.8 L1169.6 536.3 L1172.6 540.8 L1175.6 545.3 L1178.6 549.9 L1181.6 554.4 L1184.6 558.9 L1187.6 563.5 L1190.6 568 L1193.6 572.5 L1196.6 577 L1199.6 581.6 L1202.6 586.1 L1205.6 590.6 L1208.6 595.1 L1211.6 599.6 L1214.6 604.1 L1217.6 608.6 L1220.6 613.1 L1223.6 617.5 L1226.6 622 L1229.6 626.4 L1232.6 630.9 L1235.6 635.3 L1238.6 639.7 L1241.6 644.1 L1244.6 648.5 L1247.6 652.9 L1250.6 657.3 L1253.6 661.6 L1256.6 665.9 L1259.6 670.2 L1262.6 674.5 L1265.6 678.8 L1268.6 683.1 L1271.6 687.3 L1274.6 691.5 L1277.6 695.7 L1280.6 699.9 L1283.6 704.1 L1286.6 708.2 L1289.6 712.3 L1292.6 716.4 L1295.6 720.4 L1298.6 724.5 L1301.6 728.5 L1304.6 732.4 L1307.6 736.4 L1310.6 740.3 L1313.6 744.2 L1316.6 748.1 L1319.6 751.9 L1322.6 755.7 L1325.6 759.5 L1328.6 763.2 L1331.6 766.9 L1334.6 770.6 L1337.6 774.2 L1340.6 777.8 L1343.6 781.4 L1346.6 784.9 L1349.6 788.4 L1352.6 791.8 L1355.6 795.2 L1358.6 798.6 L1361.6 801.9 L1364.6 805.2 L1367.6 808.5 L1370.6 811.7 L1373.6 814.9 L1376.6 818 L1379.6 821 L1382.6 824.1 L1385.6 827.1 L1388.6 830 L1391.6 832.9 L1394.6 835.7 L1397.6 838.5 L1400.6 841.3 L1403.6 844 L1406.6 846.6 L1409.6 849.2 L1412.6 851.8 L1415.6 854.3 L1418.6 856.7 L1421.6 859.1 L1424.6 861.4 L1427.6 863.7 L1430.6 865.9 L1433.6 868.1 L1436.6 870.2 L1438.1 871.2" fill="none" stroke="#000090" stroke-width="1.25"/>
<path d="M1544.4 873.4 L1547.4 875.5 L1550.4 877.5 L1553.4 879.5 L1556.4 881.4 L1559.4 883.3 L1562.4 885.1 L1565.4 886.8 L1568.4 888.4 L1571.4 890 L1574.4 891.5 L1577.4 893 L1580.4 894.4 L1583.4 895.7 L1586.4 897 L1589.4 898.2 L1592.4 899.3 L1595.4 900.4 L1598.4 901.4 L1601.4 902.4 L1604.4 903.2 L1607.4 904.1 L1610.4 904.8 L1613.4 905.5 L1616.4 906.2 L1619.4 906.8 L1622.4 907.3 L1625.4 907.8 L1628.4 908.2 L1631.4 908.5 L1634.4 908.8 L1637.4 909 L1640.4 909.2 L1643.4 909.3 L1646.4 909.4 L1649.4 909.4 L1652.4 909.3 L1655.4 909.2 L1658.4 909 L1661.4 908.7 L1664.4 908.4 L1667.4 908.1 L1670.4 907.7 L1673.4 907.2 L1676.4 906.7 L1679.4 906.1 L1682.4 905.5 L1685.4 904.8 L1688.4 904.1 L1691.4 903.3 L1694.4 902.4 L1697.4 901.5 L1700.4 900.5 L1703.4 899.5 L1706.4 898.5 L1709.4 897.3 L1712.4 896.2 L1715.4 895 L1718.4 893.7 L1721.4 892.4 L1724.4 891 L1727.4 889.5 L1730.4 888.1 L1733.4 886.5 L1736.4 884.9 L1739.4 883.3 L1742.4 881.6 L1745.4 879.9 L1748.4 878.1 L1751.4 876.3 L1754.4 874.4 L1757.4 872.5 L1760.4 870.5 L1763.4 868.5 L1766.4 866.4 L1769.4 864.3 L1772.4 862.2 L1775.4 860 L1778.4 857.7 L1781.4 855.4 L1784.4 853.1 L1787.4 850.7 L1790.4 848.3 L1793.4 845.8 L1796.4 843.3 L1799.4 840.7 L1802.4 838.1 L1805.4 835.4 L1808.4 832.7 L1810.5 830.8" fill="none" stroke="#000090" stroke-width="1.25"/>
<g fill="#0000f0"><rect x="745.1" y="219.9" width="11.0" height="13.0" transform="rotate(-28.8 750.6 226.4)"/><rect x="758.6" y="213.1" width="11.0" height="13.0" transform="rotate(-24.6 764.1 219.6)"/><rect x="772.1" y="207.6" width="11.0" height="13.0" transform="rotate(-20.0 777.6 214.1)"/><rect x="786.1" y="203.2" width="11.0" height="13.0" transform="rotate(-14.8 791.6 209.7)"/><rect x="800.1" y="200.2" width="11.0" height="13.0" transform="rotate(-9.1 805.6 206.7)"/><rect x="814.1" y="198.7" width="11.0" height="13.0" transform="rotate(-3.2 819.6 205.2)"/><rect x="828.6" y="198.7" width="11.0" height="13.0" transform="rotate(2.9 834.1 205.2)"/><rect x="842.6" y="200.1" width="11.0" height="13.0" transform="rotate(8.6 848.1 206.6)"/><rect x="856.6" y="202.9" width="11.0" height="13.0" transform="rotate(14.1 862.1 209.4)"/><rect x="870.6" y="207.1" width="11.0" height="13.0" transform="rotate(19.2 876.1 213.6)"/><rect x="884.1" y="212.4" width="11.0" height="13.0" transform="rotate(23.8 889.6 218.9)"/><rect x="897.6" y="219.0" width="11.0" height="13.0" transform="rotate(28.0 903.1 225.5)"/><rect x="910.8" y="226.6" width="11.0" height="13.0" transform="rotate(31.7 916.3 233.1)"/><rect x="923.7" y="235.0" width="11.0" height="13.0" transform="rotate(35.0 929.2 241.5)"/><rect x="936.1" y="244.2" width="11.0" height="13.0" transform="rotate(37.9 941.6 250.7)"/><rect x="948.5" y="254.4" width="11.0" height="13.0" transform="rotate(40.4 954.0 260.9)"/><rect x="960.5" y="264.9" width="11.0" height="13.0" transform="rotate(42.6 966.0 271.4)"/><rect x="972.1" y="276.0" width="11.0" height="13.0" transform="rotate(44.4 977.6 282.5)"/><rect x="983.7" y="287.7" width="11.0" height="13.0" transform="rotate(46.1 989.2 294.2)"/><rect x="995.0" y="299.7" width="11.0" height="13.0" transform="rotate(47.5 1000.5 306.2)"/><rect x="1005.8" y="311.8" width="11.0" height="13.0" transform="rotate(48.8 1011.3 318.3)"/><rect x="1016.8" y="324.6" width="11.0" height="13.0" transform="rotate(49.9 1022.3 331.1)"/><rect x="1027.4" y="337.4" width="11.0" height="13.0" transform="rotate(50.8 1032.9 343.9)"/><rect x="1038.1" y="350.8" width="11.0" height="13.0" transform="rotate(51.7 1043.6 357.3)"/><rect x="1048.4" y="364.0" width="11.0" height="13.0" transform="rotate(52.5 1053.9 370.5)"/><rect x="1058.8" y="377.6" width="11.0" height="13.0" transform="rotate(53.1 1064.3 384.1)"/><rect x="1069.0" y="391.5" width="11.0" height="13.0" transform="rotate(53.7 1074.5 398.0)"/><rect x="1078.9" y="405.1" width="11.0" height="13.0" transform="rotate(54.2 1084.4 411.6)"/><rect x="1089.1" y="419.4" width="11.0" height="13.0" transform="rotate(54.7 1094.6 425.9)"/><rect x="1099.0" y="433.5" width="11.0" height="13.0" transform="rotate(55.1 1104.5 440.0)"/><rect x="1108.9" y="447.7" width="11.0" height="13.0" transform="rotate(55.4 1114.4 454.2)"/><rect x="1118.5" y="461.8" width="11.0" height="13.0" transform="rotate(55.7 1124.0 468.3)"/><rect x="1128.4" y="476.3" width="11.0" height="13.0" transform="rotate(56.0 1133.9 482.8)"/><rect x="1138.0" y="490.6" width="11.0" height="13.0" transform="rotate(56.2 1143.5 497.1)"/><rect x="1147.6" y="505.0" width="11.0" height="13.0" transform="rotate(56.3 1153.1 511.5)"/><rect x="1157.2" y="519.4" width="11.0" height="13.0" transform="rotate(56.4 1162.7 525.9)"/><rect x="1167.1" y="534.3" width="11.0" height="13.0" transform="rotate(56.5 1172.6 540.8)"/><rect x="1176.7" y="548.8" width="11.0" height="13.0" transform="rotate(56.5 1182.2 555.3)"/><rect x="1186.3" y="563.3" width="11.0" height="13.0" transform="rotate(56.5 1191.8 569.8)"/><rect x="1195.9" y="577.8" width="11.0" height="13.0" transform="rotate(56.4 1201.4 584.3)"/><rect x="1205.5" y="592.2" width="11.0" height="13.0" transform="rotate(56.3 1211.0 598.7)"/><rect x="1215.1" y="606.6" width="11.0" height="13.0" transform="rotate(56.2 1220.6 613.1)"/><rect x="1224.7" y="620.8" width="11.0" height="13.0" transform="rotate(56.0 1230.2 627.3)"/><rect x="1234.6" y="635.4" width="11.0" height="13.0" transform="rotate(55.7 1240.1 641.9)"/><rect x="1244.2" y="649.4" width="11.0" height="13.0" transform="rotate(55.5 1249.7 655.9)"/></g>
<text x="1499.30" y="843.60" fill="#0000c8">Eclipse</text>
<g fill="#0000f0"><rect x="1612.2" y="828" width="10" height="12.6"/><rect x="1625.8" y="828" width="10" height="12.6"/><rect x="1639.4" y="828" width="10" height="12.6"/><rect x="1653.0" y="828" width="10" height="12.6"/><rect x="1666.6" y="828" width="10" height="12.6"/><rect x="1680.2" y="828" width="10" height="12.6"/><rect x="1693.8" y="828" width="10" height="12.6"/><rect x="1707.4" y="828" width="10" height="12.6"/><rect x="1721.0" y="828" width="10" height="12.6"/><rect x="1734.6" y="828" width="10" height="12.6"/><rect x="1748.2" y="828" width="10" height="12.6"/></g>
<text x="1499.57" y="884.70">One Minute Average</text>
<text x="1499.57" y="926.00" fill="#00e000">One Second Average</text>
<g shape-rendering="crispEdges" fill="none">
<path d="M263 975.5H1800M263 980.5H1800M263 984.5H1800M263 987.5H1800M263 990.5H1800M263 993.5H1800M263 995.5H1792M263 1011.5H1800M263 1020.5H1800M263 1026.5H1800M263 1031.5H1800M263 1035.5H1800M263 1038.5H1800M263 1041.5H1800M263 1044.5H1800M263 1046.5H1792M263 1062.5H1800M263 1071.5H1800M263 1077.5H1800M263 1082.5H1800M263 1086.5H1800M263 1089.5H1800M263 1092.5H1800M263 1095.5H1800M263 1097.5H1792M263 1113.5H1800M441.5 986V1106M621.5 986V1106M801.5 986V1106M981.5 986V1106M1162.5 986V1106M1343.5 986V1106M1628.5 986V1106" stroke="#000" stroke-dasharray="1 4"/>
<path d="M260 975.5H268M1802 975.5H1811M260 980.5H268M1802 980.5H1811M260 984.5H268M1802 984.5H1811M260 987.5H268M1802 987.5H1811M260 990.5H268M1802 990.5H1811M260 993.5H268M1802 993.5H1811M260 995.5H277M1794 995.5H1811M260 1011.5H268M1802 1011.5H1811M260 1020.5H268M1802 1020.5H1811M260 1026.5H268M1802 1026.5H1811M260 1031.5H268M1802 1031.5H1811M260 1035.5H268M1802 1035.5H1811M260 1038.5H268M1802 1038.5H1811M260 1041.5H268M1802 1041.5H1811M260 1044.5H268M1802 1044.5H1811M260 1046.5H277M1794 1046.5H1811M260 1062.5H268M1802 1062.5H1811M260 1071.5H268M1802 1071.5H1811M260 1077.5H268M1802 1077.5H1811M260 1082.5H268M1802 1082.5H1811M260 1086.5H268M1802 1086.5H1811M260 1089.5H268M1802 1089.5H1811M260 1092.5H268M1802 1092.5H1811M260 1095.5H268M1802 1095.5H1811M260 1097.5H277M1794 1097.5H1811M260 1113.5H268M1802 1113.5H1811M441.5 969V985M441.5 1106V1122M621.5 969V985M621.5 1106V1122M801.5 969V985M801.5 1106V1122M981.5 969V985M981.5 1106V1122M1162.5 969V985M1162.5 1106V1122M1343.5 969V985M1343.5 1106V1122M1628.5 969V985M1628.5 1106V1122" stroke="#000"/>
</g>
<g shape-rendering="crispEdges"><rect x="742" y="969" width="666" height="153" fill="#0000ad"/><path fill="#0000db" d="M744 1113.2h3V1122h-3zM749 1113.2h1V1122h-1zM753 1113.2h1V1122h-1zM756 1113.2h1V1122h-1zM768 1113.2h1V1122h-1zM772 1113.2h2V1122h-2zM775 1113.2h1V1122h-1zM779 1113.2h1V1122h-1zM781 1113.2h1V1122h-1zM791 1113.2h1V1122h-1zM801 1113.2h1V1122h-1zM804 1113.2h1V1122h-1zM808 1113.2h1V1122h-1zM812 1113.2h1V1122h-1zM815 1113.2h1V1122h-1zM821 1113.2h5V1122h-5zM828 1113.2h1V1122h-1zM833 1113.2h1V1122h-1zM835 1113.2h1V1122h-1zM840 1113.2h2V1122h-2zM843 1113.2h2V1122h-2zM851 1113.2h1V1122h-1zM853 1113.2h1V1122h-1zM855 1113.2h2V1122h-2zM858 1113.2h1V1122h-1zM860 1113.2h1V1122h-1zM862 1113.2h1V1122h-1zM864 1113.2h2V1122h-2zM867 1113.2h1V1122h-1zM869 1113.2h1V1122h-1zM873 1113.2h1V1122h-1zM875 1113.2h1V1122h-1zM877 1113.2h1V1122h-1zM879 1113.2h2V1122h-2zM885 1113.2h1V1122h-1zM888 1113.2h1V1122h-1zM890 1113.2h1V1122h-1zM899 1113.2h2V1122h-2zM913 1113.2h2V1122h-2zM920 1113.2h1V1122h-1zM927 1113.2h1V1122h-1zM933 1113.2h1V1122h-1zM940 1113.2h2V1122h-2zM959 1113.2h1V1122h-1zM964 1113.2h5V1122h-5zM970 1113.2h3V1122h-3zM974 1113.2h1V1122h-1zM988 1113.2h1V1122h-1zM990 1113.2h2V1122h-2zM993 1113.2h1V1122h-1zM1004 1113.2h1V1122h-1zM1008 1113.2h1V1122h-1zM1025 1113.2h2V1122h-2zM1031 1113.2h1V1122h-1zM1034 1113.2h2V1122h-2zM1039 1113.2h1V1122h-1zM1041 1113.2h1V1122h-1zM1043 1113.2h1V1122h-1zM1076 1113.2h1V1122h-1zM1092 1113.2h1V1122h-1zM1115 1113.2h2V1122h-2zM744 1101.8h2V1113.2h-2zM749 1101.8h1V1113.2h-1zM753 1101.8h1V1113.2h-1zM756 1101.8h2V1113.2h-2zM768 1101.8h2V1113.2h-2zM775 1101.8h2V1113.2h-2zM781 1101.8h1V1113.2h-1zM791 1101.8h2V1113.2h-2zM796 1101.8h1V1113.2h-1zM799 1101.8h1V1113.2h-1zM801 1101.8h1V1113.2h-1zM804 1101.8h3V1113.2h-3zM812 1101.8h2V1113.2h-2zM815 1101.8h1V1113.2h-1zM822 1101.8h4V1113.2h-4zM829 1101.8h1V1113.2h-1zM833 1101.8h3V1113.2h-3zM840 1101.8h2V1113.2h-2zM845 1101.8h1V1113.2h-1zM853 1101.8h1V1113.2h-1zM855 1101.8h1V1113.2h-1zM858 1101.8h1V1113.2h-1zM860 1101.8h1V1113.2h-1zM862 1101.8h1V1113.2h-1zM866 1101.8h1V1113.2h-1zM869 1101.8h1V1113.2h-1zM873 1101.8h3V1113.2h-3zM879 1101.8h1V1113.2h-1zM885 1101.8h1V1113.2h-1zM888 1101.8h1V1113.2h-1zM895 1101.8h1V1113.2h-1zM899 1101.8h2V1113.2h-2zM913 1101.8h1V1113.2h-1zM919 1101.8h2V1113.2h-2zM932 1101.8h2V1113.2h-2zM941 1101.8h2V1113.2h-2zM953 1101.8h1V1113.2h-1zM959 1101.8h1V1113.2h-1zM967 1101.8h2V1113.2h-2zM970 1101.8h6V1113.2h-6zM986 1101.8h3V1113.2h-3zM990 1101.8h1V1113.2h-1zM992 1101.8h2V1113.2h-2zM1004 1101.8h1V1113.2h-1zM1025 1101.8h2V1113.2h-2zM1031 1101.8h1V1113.2h-1zM1036 1101.8h1V1113.2h-1zM1039 1101.8h1V1113.2h-1zM1043 1101.8h1V1113.2h-1zM1075 1101.8h1V1113.2h-1zM1114 1101.8h2V1113.2h-2zM1118 1101.8h1V1113.2h-1zM745 1094.4h1V1101.8h-1zM749 1094.4h1V1101.8h-1zM752 1094.4h3V1101.8h-3zM757 1094.4h1V1101.8h-1zM768 1094.4h2V1101.8h-2zM773 1094.4h1V1101.8h-1zM775 1094.4h2V1101.8h-2zM779 1094.4h1V1101.8h-1zM781 1094.4h1V1101.8h-1zM790 1094.4h1V1101.8h-1zM792 1094.4h1V1101.8h-1zM796 1094.4h1V1101.8h-1zM799 1094.4h3V1101.8h-3zM810 1094.4h1V1101.8h-1zM812 1094.4h2V1101.8h-2zM815 1094.4h1V1101.8h-1zM821 1094.4h2V1101.8h-2zM824 1094.4h2V1101.8h-2zM828 1094.4h1V1101.8h-1zM832 1094.4h2V1101.8h-2zM835 1094.4h1V1101.8h-1zM839 1094.4h3V1101.8h-3zM851 1094.4h1V1101.8h-1zM853 1094.4h1V1101.8h-1zM856 1094.4h4V1101.8h-4zM862 1094.4h1V1101.8h-1zM865 1094.4h1V1101.8h-1zM868 1094.4h2V1101.8h-2zM873 1094.4h1V1101.8h-1zM875 1094.4h1V1101.8h-1zM879 1094.4h1V1101.8h-1zM885 1094.4h1V1101.8h-1zM887 1094.4h2V1101.8h-2zM895 1094.4h1V1101.8h-1zM899 1094.4h2V1101.8h-2zM913 1094.4h1V1101.8h-1zM919 1094.4h2V1101.8h-2zM932 1094.4h2V1101.8h-2zM941 1094.4h2V1101.8h-2zM951 1094.4h3V1101.8h-3zM959 1094.4h1V1101.8h-1zM965 1094.4h2V1101.8h-2zM968 1094.4h1V1101.8h-1zM971 1094.4h2V1101.8h-2zM974 1094.4h1V1101.8h-1zM986 1094.4h3V1101.8h-3zM990 1094.4h4V1101.8h-4zM1004 1094.4h1V1101.8h-1zM1008 1094.4h1V1101.8h-1zM1025 1094.4h2V1101.8h-2zM1034 1094.4h1V1101.8h-1zM1038 1094.4h1V1101.8h-1zM1041 1094.4h1V1101.8h-1zM1043 1094.4h2V1101.8h-2zM1050 1094.4h1V1101.8h-1zM1063 1094.4h1V1101.8h-1zM1075 1094.4h2V1101.8h-2zM1078 1094.4h1V1101.8h-1zM1092 1094.4h1V1101.8h-1zM1114 1094.4h3V1101.8h-3zM1118 1094.4h2V1101.8h-2zM749 1088.8h1V1094.4h-1zM752 1088.8h1V1094.4h-1zM756 1088.8h2V1094.4h-2zM768 1088.8h2V1094.4h-2zM773 1088.8h4V1094.4h-4zM781 1088.8h1V1094.4h-1zM788 1088.8h1V1094.4h-1zM791 1088.8h2V1094.4h-2zM796 1088.8h1V1094.4h-1zM800 1088.8h4V1094.4h-4zM806 1088.8h4V1094.4h-4zM812 1088.8h1V1094.4h-1zM821 1088.8h2V1094.4h-2zM824 1088.8h1V1094.4h-1zM828 1088.8h2V1094.4h-2zM832 1088.8h2V1094.4h-2zM835 1088.8h1V1094.4h-1zM839 1088.8h1V1094.4h-1zM841 1088.8h1V1094.4h-1zM843 1088.8h2V1094.4h-2zM851 1088.8h1V1094.4h-1zM853 1088.8h1V1094.4h-1zM855 1088.8h2V1094.4h-2zM858 1088.8h2V1094.4h-2zM864 1088.8h1V1094.4h-1zM869 1088.8h2V1094.4h-2zM873 1088.8h1V1094.4h-1zM875 1088.8h1V1094.4h-1zM877 1088.8h1V1094.4h-1zM879 1088.8h2V1094.4h-2zM885 1088.8h2V1094.4h-2zM888 1088.8h1V1094.4h-1zM898 1088.8h1V1094.4h-1zM900 1088.8h1V1094.4h-1zM906 1088.8h1V1094.4h-1zM913 1088.8h1V1094.4h-1zM915 1088.8h1V1094.4h-1zM918 1088.8h1V1094.4h-1zM920 1088.8h1V1094.4h-1zM927 1088.8h1V1094.4h-1zM932 1088.8h2V1094.4h-2zM941 1088.8h1V1094.4h-1zM953 1088.8h1V1094.4h-1zM959 1088.8h2V1094.4h-2zM963 1088.8h2V1094.4h-2zM966 1088.8h1V1094.4h-1zM968 1088.8h1V1094.4h-1zM970 1088.8h1V1094.4h-1zM974 1088.8h2V1094.4h-2zM987 1088.8h1V1094.4h-1zM990 1088.8h3V1094.4h-3zM996 1088.8h1V1094.4h-1zM1001 1088.8h1V1094.4h-1zM1003 1088.8h1V1094.4h-1zM1007 1088.8h2V1094.4h-2zM1015 1088.8h1V1094.4h-1zM1027 1088.8h1V1094.4h-1zM1031 1088.8h1V1094.4h-1zM1034 1088.8h1V1094.4h-1zM1036 1088.8h1V1094.4h-1zM1038 1088.8h1V1094.4h-1zM1043 1088.8h1V1094.4h-1zM1050 1088.8h1V1094.4h-1zM1063 1088.8h1V1094.4h-1zM1075 1088.8h4V1094.4h-4zM1091 1088.8h2V1094.4h-2zM1114 1088.8h1V1094.4h-1zM1116 1088.8h1V1094.4h-1zM1118 1088.8h2V1094.4h-2zM1141 1088.8h1V1094.4h-1zM745 1084.4h1V1088.8h-1zM750 1084.4h1V1088.8h-1zM752 1084.4h2V1088.8h-2zM755 1084.4h1V1088.8h-1zM757 1084.4h1V1088.8h-1zM764 1084.4h1V1088.8h-1zM772 1084.4h4V1088.8h-4zM781 1084.4h1V1088.8h-1zM788 1084.4h1V1088.8h-1zM790 1084.4h3V1088.8h-3zM796 1084.4h1V1088.8h-1zM801 1084.4h4V1088.8h-4zM806 1084.4h6V1088.8h-6zM821 1084.4h1V1088.8h-1zM823 1084.4h2V1088.8h-2zM828 1084.4h1V1088.8h-1zM831 1084.4h2V1088.8h-2zM840 1084.4h1V1088.8h-1zM844 1084.4h1V1088.8h-1zM851 1084.4h3V1088.8h-3zM855 1084.4h5V1088.8h-5zM864 1084.4h1V1088.8h-1zM869 1084.4h2V1088.8h-2zM872 1084.4h1V1088.8h-1zM875 1084.4h1V1088.8h-1zM877 1084.4h1V1088.8h-1zM879 1084.4h2V1088.8h-2zM885 1084.4h2V1088.8h-2zM888 1084.4h3V1088.8h-3zM894 1084.4h1V1088.8h-1zM899 1084.4h3V1088.8h-3zM905 1084.4h1V1088.8h-1zM910 1084.4h1V1088.8h-1zM914 1084.4h2V1088.8h-2zM920 1084.4h1V1088.8h-1zM927 1084.4h2V1088.8h-2zM933 1084.4h2V1088.8h-2zM938 1084.4h1V1088.8h-1zM940 1084.4h1V1088.8h-1zM946 1084.4h1V1088.8h-1zM951 1084.4h1V1088.8h-1zM953 1084.4h1V1088.8h-1zM959 1084.4h1V1088.8h-1zM963 1084.4h1V1088.8h-1zM966 1084.4h1V1088.8h-1zM968 1084.4h1V1088.8h-1zM970 1084.4h1V1088.8h-1zM973 1084.4h2V1088.8h-2zM986 1084.4h1V1088.8h-1zM989 1084.4h2V1088.8h-2zM996 1084.4h1V1088.8h-1zM1003 1084.4h2V1088.8h-2zM1008 1084.4h1V1088.8h-1zM1011 1084.4h1V1088.8h-1zM1020 1084.4h1V1088.8h-1zM1025 1084.4h3V1088.8h-3zM1030 1084.4h2V1088.8h-2zM1035 1084.4h2V1088.8h-2zM1038 1084.4h1V1088.8h-1zM1041 1084.4h3V1088.8h-3zM1048 1084.4h1V1088.8h-1zM1050 1084.4h1V1088.8h-1zM1076 1084.4h3V1088.8h-3zM1092 1084.4h1V1088.8h-1zM1109 1084.4h1V1088.8h-1zM1114 1084.4h6V1088.8h-6zM749 1080.7h2V1084.4h-2zM752 1080.7h1V1084.4h-1zM755 1080.7h1V1084.4h-1zM773 1080.7h1V1084.4h-1zM775 1080.7h2V1084.4h-2zM788 1080.7h1V1084.4h-1zM790 1080.7h1V1084.4h-1zM792 1080.7h1V1084.4h-1zM796 1080.7h1V1084.4h-1zM801 1080.7h3V1084.4h-3zM806 1080.7h5V1084.4h-5zM813 1080.7h1V1084.4h-1zM821 1080.7h1V1084.4h-1zM823 1080.7h2V1084.4h-2zM828 1080.7h6V1084.4h-6zM839 1080.7h2V1084.4h-2zM851 1080.7h2V1084.4h-2zM855 1080.7h5V1084.4h-5zM864 1080.7h1V1084.4h-1zM869 1080.7h1V1084.4h-1zM872 1080.7h1V1084.4h-1zM875 1080.7h1V1084.4h-1zM877 1080.7h1V1084.4h-1zM879 1080.7h2V1084.4h-2zM884 1080.7h1V1084.4h-1zM886 1080.7h3V1084.4h-3zM890 1080.7h1V1084.4h-1zM895 1080.7h1V1084.4h-1zM898 1080.7h1V1084.4h-1zM902 1080.7h1V1084.4h-1zM905 1080.7h2V1084.4h-2zM910 1080.7h1V1084.4h-1zM915 1080.7h1V1084.4h-1zM918 1080.7h2V1084.4h-2zM922 1080.7h1V1084.4h-1zM928 1080.7h1V1084.4h-1zM932 1080.7h1V1084.4h-1zM935 1080.7h1V1084.4h-1zM940 1080.7h1V1084.4h-1zM943 1080.7h1V1084.4h-1zM945 1080.7h1V1084.4h-1zM951 1080.7h1V1084.4h-1zM953 1080.7h3V1084.4h-3zM959 1080.7h2V1084.4h-2zM963 1080.7h1V1084.4h-1zM965 1080.7h2V1084.4h-2zM968 1080.7h1V1084.4h-1zM970 1080.7h1V1084.4h-1zM973 1080.7h1V1084.4h-1zM975 1080.7h2V1084.4h-2zM981 1080.7h1V1084.4h-1zM983 1080.7h1V1084.4h-1zM986 1080.7h1V1084.4h-1zM990 1080.7h2V1084.4h-2zM993 1080.7h1V1084.4h-1zM996 1080.7h1V1084.4h-1zM1001 1080.7h1V1084.4h-1zM1003 1080.7h1V1084.4h-1zM1007 1080.7h2V1084.4h-2zM1011 1080.7h1V1084.4h-1zM1015 1080.7h1V1084.4h-1zM1020 1080.7h1V1084.4h-1zM1024 1080.7h1V1084.4h-1zM1027 1080.7h1V1084.4h-1zM1030 1080.7h1V1084.4h-1zM1038 1080.7h2V1084.4h-2zM1041 1080.7h1V1084.4h-1zM1043 1080.7h2V1084.4h-2zM1050 1080.7h2V1084.4h-2zM1055 1080.7h1V1084.4h-1zM1063 1080.7h1V1084.4h-1zM1070 1080.7h2V1084.4h-2zM1075 1080.7h4V1084.4h-4zM1091 1080.7h2V1084.4h-2zM1109 1080.7h1V1084.4h-1zM1114 1080.7h1V1084.4h-1zM1116 1080.7h4V1084.4h-4zM1141 1080.7h1V1084.4h-1zM1145 1080.7h2V1084.4h-2zM752 1077.5h1V1080.7h-1zM755 1077.5h1V1080.7h-1zM768 1077.5h1V1080.7h-1zM772 1077.5h3V1080.7h-3zM776 1077.5h1V1080.7h-1zM779 1077.5h1V1080.7h-1zM788 1077.5h1V1080.7h-1zM791 1077.5h1V1080.7h-1zM801 1077.5h3V1080.7h-3zM806 1077.5h2V1080.7h-2zM809 1077.5h3V1080.7h-3zM813 1077.5h1V1080.7h-1zM821 1077.5h1V1080.7h-1zM824 1077.5h1V1080.7h-1zM828 1077.5h1V1080.7h-1zM832 1077.5h2V1080.7h-2zM841 1077.5h1V1080.7h-1zM844 1077.5h1V1080.7h-1zM851 1077.5h3V1080.7h-3zM857 1077.5h1V1080.7h-1zM862 1077.5h2V1080.7h-2zM869 1077.5h2V1080.7h-2zM872 1077.5h1V1080.7h-1zM875 1077.5h1V1080.7h-1zM877 1077.5h4V1080.7h-4zM884 1077.5h1V1080.7h-1zM886 1077.5h3V1080.7h-3zM890 1077.5h1V1080.7h-1zM894 1077.5h1V1080.7h-1zM898 1077.5h1V1080.7h-1zM900 1077.5h1V1080.7h-1zM902 1077.5h1V1080.7h-1zM905 1077.5h2V1080.7h-2zM909 1077.5h2V1080.7h-2zM914 1077.5h2V1080.7h-2zM919 1077.5h3V1080.7h-3zM927 1077.5h2V1080.7h-2zM932 1077.5h1V1080.7h-1zM934 1077.5h2V1080.7h-2zM938 1077.5h1V1080.7h-1zM942 1077.5h2V1080.7h-2zM951 1077.5h1V1080.7h-1zM953 1077.5h3V1080.7h-3zM958 1077.5h3V1080.7h-3zM963 1077.5h1V1080.7h-1zM965 1077.5h1V1080.7h-1zM968 1077.5h1V1080.7h-1zM970 1077.5h1V1080.7h-1zM974 1077.5h1V1080.7h-1zM976 1077.5h1V1080.7h-1zM985 1077.5h2V1080.7h-2zM988 1077.5h2V1080.7h-2zM993 1077.5h1V1080.7h-1zM995 1077.5h2V1080.7h-2zM1000 1077.5h1V1080.7h-1zM1003 1077.5h1V1080.7h-1zM1008 1077.5h1V1080.7h-1zM1015 1077.5h1V1080.7h-1zM1020 1077.5h1V1080.7h-1zM1024 1077.5h1V1080.7h-1zM1027 1077.5h1V1080.7h-1zM1031 1077.5h1V1080.7h-1zM1034 1077.5h6V1080.7h-6zM1041 1077.5h1V1080.7h-1zM1044 1077.5h1V1080.7h-1zM1048 1077.5h1V1080.7h-1zM1063 1077.5h1V1080.7h-1zM1077 1077.5h1V1080.7h-1zM1091 1077.5h3V1080.7h-3zM1101 1077.5h1V1080.7h-1zM1109 1077.5h2V1080.7h-2zM1114 1077.5h1V1080.7h-1zM1116 1077.5h3V1080.7h-3zM1120 1077.5h1V1080.7h-1zM1124 1077.5h1V1080.7h-1zM1141 1077.5h1V1080.7h-1zM750 1072.3h2V1077.5h-2zM755 1072.3h1V1077.5h-1zM773 1072.3h5V1077.5h-5zM781 1072.3h1V1077.5h-1zM790 1072.3h1V1077.5h-1zM796 1072.3h1V1077.5h-1zM799 1072.3h1V1077.5h-1zM801 1072.3h3V1077.5h-3zM806 1072.3h6V1077.5h-6zM813 1072.3h2V1077.5h-2zM822 1072.3h1V1077.5h-1zM828 1072.3h3V1077.5h-3zM832 1072.3h2V1077.5h-2zM840 1072.3h1V1077.5h-1zM844 1072.3h1V1077.5h-1zM851 1072.3h3V1077.5h-3zM856 1072.3h1V1077.5h-1zM858 1072.3h2V1077.5h-2zM863 1072.3h2V1077.5h-2zM870 1072.3h1V1077.5h-1zM872 1072.3h1V1077.5h-1zM876 1072.3h2V1077.5h-2zM879 1072.3h2V1077.5h-2zM884 1072.3h2V1077.5h-2zM887 1072.3h1V1077.5h-1zM890 1072.3h1V1077.5h-1zM894 1072.3h1V1077.5h-1zM898 1072.3h1V1077.5h-1zM900 1072.3h1V1077.5h-1zM902 1072.3h1V1077.5h-1zM905 1072.3h2V1077.5h-2zM909 1072.3h2V1077.5h-2zM912 1072.3h1V1077.5h-1zM914 1072.3h2V1077.5h-2zM918 1072.3h2V1077.5h-2zM922 1072.3h1V1077.5h-1zM927 1072.3h2V1077.5h-2zM934 1072.3h2V1077.5h-2zM938 1072.3h2V1077.5h-2zM941 1072.3h1V1077.5h-1zM943 1072.3h3V1077.5h-3zM951 1072.3h1V1077.5h-1zM953 1072.3h1V1077.5h-1zM955 1072.3h1V1077.5h-1zM959 1072.3h1V1077.5h-1zM961 1072.3h1V1077.5h-1zM963 1072.3h1V1077.5h-1zM965 1072.3h2V1077.5h-2zM970 1072.3h1V1077.5h-1zM976 1072.3h1V1077.5h-1zM983 1072.3h4V1077.5h-4zM989 1072.3h1V1077.5h-1zM996 1072.3h1V1077.5h-1zM998 1072.3h1V1077.5h-1zM1001 1072.3h1V1077.5h-1zM1003 1072.3h3V1077.5h-3zM1014 1072.3h3V1077.5h-3zM1019 1072.3h2V1077.5h-2zM1027 1072.3h1V1077.5h-1zM1031 1072.3h1V1077.5h-1zM1034 1072.3h1V1077.5h-1zM1036 1072.3h4V1077.5h-4zM1042 1072.3h3V1077.5h-3zM1048 1072.3h1V1077.5h-1zM1050 1072.3h2V1077.5h-2zM1063 1072.3h1V1077.5h-1zM1071 1072.3h1V1077.5h-1zM1074 1072.3h1V1077.5h-1zM1076 1072.3h3V1077.5h-3zM1091 1072.3h3V1077.5h-3zM1095 1072.3h1V1077.5h-1zM1109 1072.3h2V1077.5h-2zM1114 1072.3h6V1077.5h-6zM1123 1072.3h3V1077.5h-3zM1145 1072.3h2V1077.5h-2zM751 1068h2V1072.3h-2zM754 1068h2V1072.3h-2zM773 1068h2V1072.3h-2zM776 1068h3V1072.3h-3zM790 1068h1V1072.3h-1zM803 1068h1V1072.3h-1zM807 1068h5V1072.3h-5zM813 1068h2V1072.3h-2zM828 1068h4V1072.3h-4zM844 1068h1V1072.3h-1zM851 1068h2V1072.3h-2zM857 1068h1V1072.3h-1zM859 1068h1V1072.3h-1zM863 1068h2V1072.3h-2zM870 1068h1V1072.3h-1zM872 1068h1V1072.3h-1zM876 1068h3V1072.3h-3zM884 1068h1V1072.3h-1zM886 1068h3V1072.3h-3zM890 1068h1V1072.3h-1zM894 1068h1V1072.3h-1zM900 1068h3V1072.3h-3zM905 1068h1V1072.3h-1zM909 1068h2V1072.3h-2zM912 1068h1V1072.3h-1zM914 1068h2V1072.3h-2zM918 1068h1V1072.3h-1zM927 1068h2V1072.3h-2zM930 1068h2V1072.3h-2zM933 1068h3V1072.3h-3zM938 1068h1V1072.3h-1zM945 1068h2V1072.3h-2zM951 1068h1V1072.3h-1zM953 1068h1V1072.3h-1zM955 1068h1V1072.3h-1zM958 1068h4V1072.3h-4zM963 1068h1V1072.3h-1zM965 1068h2V1072.3h-2zM968 1068h1V1072.3h-1zM970 1068h1V1072.3h-1zM973 1068h1V1072.3h-1zM976 1068h1V1072.3h-1zM984 1068h3V1072.3h-3zM989 1068h1V1072.3h-1zM991 1068h1V1072.3h-1zM993 1068h1V1072.3h-1zM1001 1068h1V1072.3h-1zM1003 1068h1V1072.3h-1zM1005 1068h1V1072.3h-1zM1007 1068h1V1072.3h-1zM1009 1068h1V1072.3h-1zM1011 1068h1V1072.3h-1zM1014 1068h3V1072.3h-3zM1020 1068h1V1072.3h-1zM1024 1068h1V1072.3h-1zM1027 1068h1V1072.3h-1zM1030 1068h2V1072.3h-2zM1033 1068h2V1072.3h-2zM1039 1068h4V1072.3h-4zM1048 1068h1V1072.3h-1zM1050 1068h1V1072.3h-1zM1054 1068h2V1072.3h-2zM1063 1068h1V1072.3h-1zM1070 1068h1V1072.3h-1zM1074 1068h1V1072.3h-1zM1076 1068h3V1072.3h-3zM1083 1068h1V1072.3h-1zM1091 1068h1V1072.3h-1zM1093 1068h1V1072.3h-1zM1095 1068h2V1072.3h-2zM1100 1068h1V1072.3h-1zM1110 1068h2V1072.3h-2zM1114 1068h1V1072.3h-1zM1116 1068h6V1072.3h-6zM1125 1068h2V1072.3h-2zM1141 1068h1V1072.3h-1zM1145 1068h3V1072.3h-3zM1400 1068h2V1072.3h-2zM750 1064.5h2V1068h-2zM754 1064.5h3V1068h-3zM773 1064.5h1V1068h-1zM777 1064.5h2V1068h-2zM789 1064.5h2V1068h-2zM801 1064.5h3V1068h-3zM807 1064.5h1V1068h-1zM809 1064.5h2V1068h-2zM814 1064.5h1V1068h-1zM829 1064.5h3V1068h-3zM852 1064.5h1V1068h-1zM856 1064.5h4V1068h-4zM863 1064.5h2V1068h-2zM870 1064.5h1V1068h-1zM872 1064.5h1V1068h-1zM876 1064.5h3V1068h-3zM883 1064.5h6V1068h-6zM890 1064.5h1V1068h-1zM894 1064.5h1V1068h-1zM896 1064.5h2V1068h-2zM901 1064.5h2V1068h-2zM905 1064.5h2V1068h-2zM909 1064.5h2V1068h-2zM912 1064.5h1V1068h-1zM918 1064.5h1V1068h-1zM921 1064.5h2V1068h-2zM928 1064.5h1V1068h-1zM932 1064.5h1V1068h-1zM934 1064.5h2V1068h-2zM938 1064.5h1V1068h-1zM940 1064.5h1V1068h-1zM943 1064.5h4V1068h-4zM951 1064.5h1V1068h-1zM953 1064.5h1V1068h-1zM955 1064.5h1V1068h-1zM958 1064.5h1V1068h-1zM960 1064.5h2V1068h-2zM963 1064.5h1V1068h-1zM965 1064.5h1V1068h-1zM969 1064.5h2V1068h-2zM973 1064.5h2V1068h-2zM976 1064.5h1V1068h-1zM981 1064.5h1V1068h-1zM983 1064.5h1V1068h-1zM985 1064.5h1V1068h-1zM987 1064.5h1V1068h-1zM989 1064.5h1V1068h-1zM993 1064.5h5V1068h-5zM999 1064.5h2V1068h-2zM1002 1064.5h2V1068h-2zM1007 1064.5h1V1068h-1zM1009 1064.5h1V1068h-1zM1011 1064.5h1V1068h-1zM1014 1064.5h2V1068h-2zM1024 1064.5h1V1068h-1zM1026 1064.5h2V1068h-2zM1030 1064.5h4V1068h-4zM1037 1064.5h3V1068h-3zM1041 1064.5h2V1068h-2zM1044 1064.5h1V1068h-1zM1047 1064.5h2V1068h-2zM1055 1064.5h1V1068h-1zM1057 1064.5h1V1068h-1zM1062 1064.5h2V1068h-2zM1070 1064.5h2V1068h-2zM1074 1064.5h1V1068h-1zM1076 1064.5h1V1068h-1zM1078 1064.5h1V1068h-1zM1090 1064.5h6V1068h-6zM1101 1064.5h1V1068h-1zM1109 1064.5h3V1068h-3zM1114 1064.5h2V1068h-2zM1117 1064.5h3V1068h-3zM1121 1064.5h1V1068h-1zM1124 1064.5h3V1068h-3zM1141 1064.5h1V1068h-1zM1145 1064.5h3V1068h-3zM1393 1064.5h1V1068h-1zM1401 1064.5h1V1068h-1zM750 1060h4V1064.5h-4zM755 1060h1V1064.5h-1zM773 1060h1V1064.5h-1zM777 1060h2V1064.5h-2zM790 1060h1V1064.5h-1zM799 1060h1V1064.5h-1zM801 1060h3V1064.5h-3zM806 1060h2V1064.5h-2zM809 1060h1V1064.5h-1zM811 1060h1V1064.5h-1zM814 1060h1V1064.5h-1zM829 1060h1V1064.5h-1zM831 1060h2V1064.5h-2zM852 1060h2V1064.5h-2zM859 1060h1V1064.5h-1zM870 1060h3V1064.5h-3zM876 1060h3V1064.5h-3zM881 1060h2V1064.5h-2zM884 1060h1V1064.5h-1zM886 1060h2V1064.5h-2zM890 1060h1V1064.5h-1zM894 1060h1V1064.5h-1zM896 1060h2V1064.5h-2zM901 1060h2V1064.5h-2zM905 1060h1V1064.5h-1zM909 1060h2V1064.5h-2zM912 1060h1V1064.5h-1zM914 1060h1V1064.5h-1zM918 1060h1V1064.5h-1zM922 1060h1V1064.5h-1zM930 1060h3V1064.5h-3zM934 1060h3V1064.5h-3zM938 1060h1V1064.5h-1zM943 1060h1V1064.5h-1zM945 1060h3V1064.5h-3zM951 1060h1V1064.5h-1zM953 1060h3V1064.5h-3zM958 1060h1V1064.5h-1zM960 1060h1V1064.5h-1zM963 1060h1V1064.5h-1zM967 1060h1V1064.5h-1zM969 1060h1V1064.5h-1zM976 1060h1V1064.5h-1zM980 1060h1V1064.5h-1zM983 1060h3V1064.5h-3zM989 1060h1V1064.5h-1zM991 1060h1V1064.5h-1zM995 1060h1V1064.5h-1zM997 1060h2V1064.5h-2zM1000 1060h2V1064.5h-2zM1003 1060h1V1064.5h-1zM1005 1060h1V1064.5h-1zM1008 1060h4V1064.5h-4zM1013 1060h2V1064.5h-2zM1019 1060h2V1064.5h-2zM1024 1060h2V1064.5h-2zM1027 1060h1V1064.5h-1zM1030 1060h1V1064.5h-1zM1032 1060h1V1064.5h-1zM1034 1060h1V1064.5h-1zM1037 1060h1V1064.5h-1zM1039 1060h4V1064.5h-4zM1048 1060h1V1064.5h-1zM1051 1060h1V1064.5h-1zM1055 1060h2V1064.5h-2zM1062 1060h2V1064.5h-2zM1070 1060h2V1064.5h-2zM1074 1060h2V1064.5h-2zM1077 1060h2V1064.5h-2zM1091 1060h1V1064.5h-1zM1093 1060h4V1064.5h-4zM1100 1060h2V1064.5h-2zM1109 1060h3V1064.5h-3zM1117 1060h1V1064.5h-1zM1119 1060h2V1064.5h-2zM1123 1060h4V1064.5h-4zM1128 1060h1V1064.5h-1zM1142 1060h1V1064.5h-1zM1145 1060h1V1064.5h-1zM1147 1060h1V1064.5h-1zM1401 1060h1V1064.5h-1zM750 1056.3h2V1060h-2zM754 1056.3h2V1060h-2zM773 1056.3h2V1060h-2zM777 1056.3h2V1060h-2zM788 1056.3h3V1060h-3zM802 1056.3h1V1060h-1zM807 1056.3h1V1060h-1zM809 1056.3h1V1060h-1zM811 1056.3h1V1060h-1zM814 1056.3h1V1060h-1zM829 1056.3h1V1060h-1zM835 1056.3h1V1060h-1zM859 1056.3h1V1060h-1zM863 1056.3h1V1060h-1zM871 1056.3h1V1060h-1zM876 1056.3h1V1060h-1zM878 1056.3h1V1060h-1zM880 1056.3h1V1060h-1zM882 1056.3h3V1060h-3zM886 1056.3h3V1060h-3zM894 1056.3h1V1060h-1zM896 1056.3h1V1060h-1zM898 1056.3h1V1060h-1zM901 1056.3h2V1060h-2zM905 1056.3h1V1060h-1zM909 1056.3h2V1060h-2zM912 1056.3h1V1060h-1zM918 1056.3h1V1060h-1zM920 1056.3h3V1060h-3zM928 1056.3h1V1060h-1zM930 1056.3h2V1060h-2zM933 1056.3h3V1060h-3zM938 1056.3h1V1060h-1zM940 1056.3h1V1060h-1zM943 1056.3h5V1060h-5zM954 1056.3h3V1060h-3zM958 1056.3h1V1060h-1zM961 1056.3h3V1060h-3zM969 1056.3h1V1060h-1zM980 1056.3h2V1060h-2zM983 1056.3h2V1060h-2zM986 1056.3h1V1060h-1zM994 1056.3h1V1060h-1zM997 1056.3h4V1060h-4zM1005 1056.3h1V1060h-1zM1008 1056.3h2V1060h-2zM1011 1056.3h1V1060h-1zM1013 1056.3h2V1060h-2zM1016 1056.3h1V1060h-1zM1019 1056.3h1V1060h-1zM1021 1056.3h1V1060h-1zM1024 1056.3h1V1060h-1zM1027 1056.3h1V1060h-1zM1030 1056.3h1V1060h-1zM1034 1056.3h1V1060h-1zM1036 1056.3h2V1060h-2zM1041 1056.3h4V1060h-4zM1047 1056.3h3V1060h-3zM1051 1056.3h1V1060h-1zM1054 1056.3h1V1060h-1zM1056 1056.3h1V1060h-1zM1062 1056.3h1V1060h-1zM1068 1056.3h1V1060h-1zM1070 1056.3h1V1060h-1zM1074 1056.3h1V1060h-1zM1077 1056.3h2V1060h-2zM1083 1056.3h1V1060h-1zM1091 1056.3h5V1060h-5zM1100 1056.3h2V1060h-2zM1108 1056.3h4V1060h-4zM1113 1056.3h1V1060h-1zM1115 1056.3h1V1060h-1zM1117 1056.3h3V1060h-3zM1121 1056.3h1V1060h-1zM1123 1056.3h4V1060h-4zM1128 1056.3h1V1060h-1zM1131 1056.3h1V1060h-1zM1141 1056.3h1V1060h-1zM1145 1056.3h3V1060h-3zM1392 1056.3h1V1060h-1zM1401 1056.3h2V1060h-2zM751 1052.2h1V1056.3h-1zM755 1052.2h1V1056.3h-1zM777 1052.2h2V1056.3h-2zM784 1052.2h1V1056.3h-1zM789 1052.2h1V1056.3h-1zM803 1052.2h1V1056.3h-1zM807 1052.2h1V1056.3h-1zM811 1052.2h1V1056.3h-1zM814 1052.2h1V1056.3h-1zM830 1052.2h1V1056.3h-1zM852 1052.2h1V1056.3h-1zM857 1052.2h1V1056.3h-1zM859 1052.2h1V1056.3h-1zM871 1052.2h2V1056.3h-2zM876 1052.2h1V1056.3h-1zM878 1052.2h1V1056.3h-1zM881 1052.2h2V1056.3h-2zM884 1052.2h1V1056.3h-1zM887 1052.2h1V1056.3h-1zM894 1052.2h1V1056.3h-1zM896 1052.2h3V1056.3h-3zM901 1052.2h2V1056.3h-2zM906 1052.2h1V1056.3h-1zM908 1052.2h1V1056.3h-1zM910 1052.2h3V1056.3h-3zM914 1052.2h1V1056.3h-1zM916 1052.2h2V1056.3h-2zM920 1052.2h2V1056.3h-2zM926 1052.2h3V1056.3h-3zM930 1052.2h2V1056.3h-2zM934 1052.2h3V1056.3h-3zM938 1052.2h1V1056.3h-1zM941 1052.2h1V1056.3h-1zM943 1052.2h5V1056.3h-5zM949 1052.2h2V1056.3h-2zM954 1052.2h2V1056.3h-2zM958 1052.2h5V1056.3h-5zM970 1052.2h1V1056.3h-1zM973 1052.2h1V1056.3h-1zM976 1052.2h1V1056.3h-1zM981 1052.2h1V1056.3h-1zM983 1052.2h3V1056.3h-3zM987 1052.2h1V1056.3h-1zM989 1052.2h1V1056.3h-1zM994 1052.2h2V1056.3h-2zM997 1052.2h4V1056.3h-4zM1003 1052.2h1V1056.3h-1zM1005 1052.2h2V1056.3h-2zM1009 1052.2h3V1056.3h-3zM1013 1052.2h4V1056.3h-4zM1019 1052.2h1V1056.3h-1zM1024 1052.2h1V1056.3h-1zM1026 1052.2h1V1056.3h-1zM1032 1052.2h2V1056.3h-2zM1037 1052.2h1V1056.3h-1zM1040 1052.2h3V1056.3h-3zM1045 1052.2h1V1056.3h-1zM1047 1052.2h3V1056.3h-3zM1051 1052.2h1V1056.3h-1zM1054 1052.2h3V1056.3h-3zM1060 1052.2h1V1056.3h-1zM1062 1052.2h1V1056.3h-1zM1064 1052.2h1V1056.3h-1zM1067 1052.2h1V1056.3h-1zM1070 1052.2h2V1056.3h-2zM1073 1052.2h6V1056.3h-6zM1089 1052.2h3V1056.3h-3zM1094 1052.2h3V1056.3h-3zM1098 1052.2h1V1056.3h-1zM1100 1052.2h2V1056.3h-2zM1110 1052.2h2V1056.3h-2zM1113 1052.2h2V1056.3h-2zM1117 1052.2h2V1056.3h-2zM1120 1052.2h2V1056.3h-2zM1123 1052.2h4V1056.3h-4zM1128 1052.2h1V1056.3h-1zM1140 1052.2h3V1056.3h-3zM1145 1052.2h1V1056.3h-1zM1147 1052.2h1V1056.3h-1zM1367 1052.2h1V1056.3h-1zM1393 1052.2h1V1056.3h-1zM1402 1052.2h1V1056.3h-1zM751 1047.9h1V1052.2h-1zM755 1047.9h1V1052.2h-1zM774 1047.9h1V1052.2h-1zM777 1047.9h2V1052.2h-2zM783 1047.9h2V1052.2h-2zM810 1047.9h1V1052.2h-1zM814 1047.9h1V1052.2h-1zM829 1047.9h1V1052.2h-1zM852 1047.9h1V1052.2h-1zM863 1047.9h1V1052.2h-1zM870 1047.9h2V1052.2h-2zM876 1047.9h1V1052.2h-1zM878 1047.9h1V1052.2h-1zM881 1047.9h3V1052.2h-3zM897 1047.9h2V1052.2h-2zM901 1047.9h2V1052.2h-2zM904 1047.9h1V1052.2h-1zM909 1047.9h1V1052.2h-1zM911 1047.9h1V1052.2h-1zM914 1047.9h1V1052.2h-1zM916 1047.9h1V1052.2h-1zM921 1047.9h3V1052.2h-3zM925 1047.9h2V1052.2h-2zM930 1047.9h2V1052.2h-2zM936 1047.9h1V1052.2h-1zM943 1047.9h5V1052.2h-5zM949 1047.9h4V1052.2h-4zM954 1047.9h1V1052.2h-1zM956 1047.9h3V1052.2h-3zM960 1047.9h1V1052.2h-1zM969 1047.9h1V1052.2h-1zM981 1047.9h1V1052.2h-1zM983 1047.9h1V1052.2h-1zM985 1047.9h1V1052.2h-1zM993 1047.9h2V1052.2h-2zM997 1047.9h5V1052.2h-5zM1005 1047.9h2V1052.2h-2zM1008 1047.9h1V1052.2h-1zM1010 1047.9h2V1052.2h-2zM1014 1047.9h1V1052.2h-1zM1019 1047.9h1V1052.2h-1zM1021 1047.9h4V1052.2h-4zM1026 1047.9h1V1052.2h-1zM1028 1047.9h1V1052.2h-1zM1030 1047.9h1V1052.2h-1zM1032 1047.9h1V1052.2h-1zM1037 1047.9h1V1052.2h-1zM1041 1047.9h3V1052.2h-3zM1046 1047.9h2V1052.2h-2zM1049 1047.9h1V1052.2h-1zM1051 1047.9h1V1052.2h-1zM1054 1047.9h4V1052.2h-4zM1059 1047.9h1V1052.2h-1zM1061 1047.9h2V1052.2h-2zM1064 1047.9h1V1052.2h-1zM1071 1047.9h1V1052.2h-1zM1074 1047.9h1V1052.2h-1zM1078 1047.9h2V1052.2h-2zM1081 1047.9h1V1052.2h-1zM1083 1047.9h1V1052.2h-1zM1089 1047.9h2V1052.2h-2zM1093 1047.9h2V1052.2h-2zM1100 1047.9h1V1052.2h-1zM1106 1047.9h1V1052.2h-1zM1109 1047.9h3V1052.2h-3zM1114 1047.9h1V1052.2h-1zM1116 1047.9h1V1052.2h-1zM1120 1047.9h2V1052.2h-2zM1123 1047.9h1V1052.2h-1zM1126 1047.9h1V1052.2h-1zM1128 1047.9h2V1052.2h-2zM1136 1047.9h1V1052.2h-1zM1141 1047.9h2V1052.2h-2zM1145 1047.9h3V1052.2h-3zM1161 1047.9h1V1052.2h-1zM1164 1047.9h1V1052.2h-1zM1168 1047.9h1V1052.2h-1zM1367 1047.9h1V1052.2h-1zM1371 1047.9h1V1052.2h-1zM1390 1047.9h2V1052.2h-2zM1393 1047.9h1V1052.2h-1zM750 1043.7h1V1047.9h-1zM763 1043.7h1V1047.9h-1zM777 1043.7h2V1047.9h-2zM783 1043.7h1V1047.9h-1zM789 1043.7h1V1047.9h-1zM803 1043.7h1V1047.9h-1zM829 1043.7h1V1047.9h-1zM852 1043.7h1V1047.9h-1zM863 1043.7h1V1047.9h-1zM870 1043.7h2V1047.9h-2zM880 1043.7h4V1047.9h-4zM897 1043.7h2V1047.9h-2zM903 1043.7h1V1047.9h-1zM905 1043.7h3V1047.9h-3zM912 1043.7h1V1047.9h-1zM916 1043.7h1V1047.9h-1zM921 1043.7h1V1047.9h-1zM923 1043.7h1V1047.9h-1zM926 1043.7h1V1047.9h-1zM929 1043.7h1V1047.9h-1zM931 1043.7h1V1047.9h-1zM936 1043.7h1V1047.9h-1zM938 1043.7h1V1047.9h-1zM944 1043.7h1V1047.9h-1zM947 1043.7h4V1047.9h-4zM953 1043.7h4V1047.9h-4zM960 1043.7h3V1047.9h-3zM965 1043.7h1V1047.9h-1zM969 1043.7h1V1047.9h-1zM975 1043.7h1V1047.9h-1zM977 1043.7h2V1047.9h-2zM981 1043.7h2V1047.9h-2zM984 1043.7h1V1047.9h-1zM994 1043.7h4V1047.9h-4zM999 1043.7h5V1047.9h-5zM1005 1043.7h1V1047.9h-1zM1008 1043.7h3V1047.9h-3zM1012 1043.7h3V1047.9h-3zM1016 1043.7h1V1047.9h-1zM1021 1043.7h1V1047.9h-1zM1024 1043.7h1V1047.9h-1zM1028 1043.7h2V1047.9h-2zM1032 1043.7h3V1047.9h-3zM1037 1043.7h1V1047.9h-1zM1039 1043.7h2V1047.9h-2zM1042 1043.7h1V1047.9h-1zM1045 1043.7h1V1047.9h-1zM1047 1043.7h3V1047.9h-3zM1051 1043.7h1V1047.9h-1zM1054 1043.7h1V1047.9h-1zM1056 1043.7h1V1047.9h-1zM1059 1043.7h4V1047.9h-4zM1064 1043.7h1V1047.9h-1zM1067 1043.7h1V1047.9h-1zM1072 1043.7h1V1047.9h-1zM1074 1043.7h1V1047.9h-1zM1078 1043.7h2V1047.9h-2zM1087 1043.7h10V1047.9h-10zM1098 1043.7h1V1047.9h-1zM1100 1043.7h2V1047.9h-2zM1106 1043.7h1V1047.9h-1zM1108 1043.7h4V1047.9h-4zM1113 1043.7h1V1047.9h-1zM1123 1043.7h1V1047.9h-1zM1125 1043.7h2V1047.9h-2zM1128 1043.7h2V1047.9h-2zM1131 1043.7h1V1047.9h-1zM1135 1043.7h2V1047.9h-2zM1141 1043.7h2V1047.9h-2zM1145 1043.7h4V1047.9h-4zM1151 1043.7h1V1047.9h-1zM1157 1043.7h1V1047.9h-1zM1175 1043.7h3V1047.9h-3zM1337 1043.7h2V1047.9h-2zM1351 1043.7h1V1047.9h-1zM1379 1043.7h1V1047.9h-1zM1383 1043.7h1V1047.9h-1zM1386 1043.7h1V1047.9h-1zM1391 1043.7h3V1047.9h-3zM1400 1043.7h3V1047.9h-3zM750 1039.6h2V1043.7h-2zM761 1039.6h3V1043.7h-3zM777 1039.6h1V1043.7h-1zM789 1039.6h1V1043.7h-1zM871 1039.6h1V1043.7h-1zM881 1039.6h3V1043.7h-3zM886 1039.6h2V1043.7h-2zM891 1039.6h1V1043.7h-1zM893 1039.6h1V1043.7h-1zM896 1039.6h2V1043.7h-2zM902 1039.6h1V1043.7h-1zM904 1039.6h1V1043.7h-1zM906 1039.6h1V1043.7h-1zM910 1039.6h3V1043.7h-3zM916 1039.6h2V1043.7h-2zM923 1039.6h1V1043.7h-1zM925 1039.6h3V1043.7h-3zM929 1039.6h1V1043.7h-1zM931 1039.6h1V1043.7h-1zM936 1039.6h2V1043.7h-2zM947 1039.6h4V1043.7h-4zM956 1039.6h3V1043.7h-3zM962 1039.6h1V1043.7h-1zM972 1039.6h1V1043.7h-1zM979 1039.6h4V1043.7h-4zM985 1039.6h1V1043.7h-1zM994 1039.6h1V1043.7h-1zM997 1039.6h3V1043.7h-3zM1002 1039.6h1V1043.7h-1zM1005 1039.6h1V1043.7h-1zM1011 1039.6h3V1043.7h-3zM1019 1039.6h1V1043.7h-1zM1021 1039.6h1V1043.7h-1zM1024 1039.6h1V1043.7h-1zM1028 1039.6h1V1043.7h-1zM1031 1039.6h3V1043.7h-3zM1037 1039.6h2V1043.7h-2zM1040 1039.6h2V1043.7h-2zM1044 1039.6h2V1043.7h-2zM1047 1039.6h1V1043.7h-1zM1049 1039.6h1V1043.7h-1zM1054 1039.6h1V1043.7h-1zM1056 1039.6h4V1043.7h-4zM1061 1039.6h2V1043.7h-2zM1064 1039.6h1V1043.7h-1zM1067 1039.6h1V1043.7h-1zM1072 1039.6h1V1043.7h-1zM1079 1039.6h3V1043.7h-3zM1083 1039.6h2V1043.7h-2zM1087 1039.6h1V1043.7h-1zM1090 1039.6h1V1043.7h-1zM1094 1039.6h3V1043.7h-3zM1098 1039.6h1V1043.7h-1zM1100 1039.6h2V1043.7h-2zM1106 1039.6h6V1043.7h-6zM1113 1039.6h2V1043.7h-2zM1117 1039.6h2V1043.7h-2zM1121 1039.6h3V1043.7h-3zM1125 1039.6h2V1043.7h-2zM1130 1039.6h2V1043.7h-2zM1135 1039.6h2V1043.7h-2zM1138 1039.6h1V1043.7h-1zM1140 1039.6h3V1043.7h-3zM1144 1039.6h2V1043.7h-2zM1148 1039.6h1V1043.7h-1zM1153 1039.6h1V1043.7h-1zM1157 1039.6h1V1043.7h-1zM1161 1039.6h2V1043.7h-2zM1164 1039.6h1V1043.7h-1zM1167 1039.6h3V1043.7h-3zM1175 1039.6h1V1043.7h-1zM1337 1039.6h2V1043.7h-2zM1351 1039.6h1V1043.7h-1zM1364 1039.6h1V1043.7h-1zM1367 1039.6h1V1043.7h-1zM1371 1039.6h1V1043.7h-1zM1383 1039.6h1V1043.7h-1zM1385 1039.6h2V1043.7h-2zM1390 1039.6h5V1043.7h-5zM1400 1039.6h2V1043.7h-2zM1404 1039.6h1V1043.7h-1zM1407 1039.6h1V1043.7h-1zM762 1035.7h2V1039.6h-2zM882 1035.7h2V1039.6h-2zM890 1035.7h2V1039.6h-2zM896 1035.7h2V1039.6h-2zM902 1035.7h6V1039.6h-6zM910 1035.7h2V1039.6h-2zM916 1035.7h2V1039.6h-2zM920 1035.7h8V1039.6h-8zM930 1035.7h2V1039.6h-2zM936 1035.7h2V1039.6h-2zM948 1035.7h4V1039.6h-4zM954 1035.7h4V1039.6h-4zM976 1035.7h2V1039.6h-2zM980 1035.7h4V1039.6h-4zM998 1035.7h2V1039.6h-2zM1006 1035.7h2V1039.6h-2zM1012 1035.7h2V1039.6h-2zM1016 1035.7h4V1039.6h-4zM1022 1035.7h2V1039.6h-2zM1028 1035.7h6V1039.6h-6zM1044 1035.7h6V1039.6h-6zM1056 1035.7h14V1039.6h-14zM1072 1035.7h2V1039.6h-2zM1082 1035.7h4V1039.6h-4zM1088 1035.7h2V1039.6h-2zM1094 1035.7h8V1039.6h-8zM1106 1035.7h8V1039.6h-8zM1120 1035.7h4V1039.6h-4zM1126 1035.7h8V1039.6h-8zM1140 1035.7h6V1039.6h-6zM1148 1035.7h6V1039.6h-6zM1156 1035.7h2V1039.6h-2zM1162 1035.7h2V1039.6h-2zM1166 1035.7h2V1039.6h-2zM1176 1035.7h2V1039.6h-2zM1336 1035.7h4V1039.6h-4zM1366 1035.7h2V1039.6h-2zM1370 1035.7h2V1039.6h-2zM1378 1035.7h2V1039.6h-2zM1390 1035.7h4V1039.6h-4zM1400 1035.7h2V1039.6h-2zM1404 1035.7h2V1039.6h-2zM882 1031.6h2V1035.7h-2zM890 1031.6h2V1035.7h-2zM896 1031.6h2V1035.7h-2zM906 1031.6h6V1035.7h-6zM916 1031.6h2V1035.7h-2zM922 1031.6h4V1035.7h-4zM928 1031.6h2V1035.7h-2zM936 1031.6h2V1035.7h-2zM946 1031.6h4V1035.7h-4zM956 1031.6h2V1035.7h-2zM978 1031.6h4V1035.7h-4zM994 1031.6h2V1035.7h-2zM1002 1031.6h2V1035.7h-2zM1014 1031.6h10V1035.7h-10zM1032 1031.6h2V1035.7h-2zM1040 1031.6h2V1035.7h-2zM1046 1031.6h4V1035.7h-4zM1052 1031.6h2V1035.7h-2zM1056 1031.6h4V1035.7h-4zM1062 1031.6h12V1035.7h-12zM1076 1031.6h8V1035.7h-8zM1086 1031.6h4V1035.7h-4zM1094 1031.6h8V1035.7h-8zM1104 1031.6h6V1035.7h-6zM1112 1031.6h2V1035.7h-2zM1122 1031.6h2V1035.7h-2zM1126 1031.6h6V1035.7h-6zM1134 1031.6h12V1035.7h-12zM1152 1031.6h2V1035.7h-2zM1162 1031.6h2V1035.7h-2zM1174 1031.6h4V1035.7h-4zM1338 1031.6h2V1035.7h-2zM1342 1031.6h2V1035.7h-2zM1364 1031.6h4V1035.7h-4zM1378 1031.6h2V1035.7h-2zM1384 1031.6h2V1035.7h-2zM1390 1031.6h2V1035.7h-2zM1400 1031.6h4V1035.7h-4zM882 1027.6h2V1031.6h-2zM902 1027.6h4V1031.6h-4zM922 1027.6h4V1031.6h-4zM948 1027.6h2V1031.6h-2zM956 1027.6h2V1031.6h-2zM978 1027.6h6V1031.6h-6zM1006 1027.6h2V1031.6h-2zM1012 1027.6h2V1031.6h-2zM1016 1027.6h4V1031.6h-4zM1022 1027.6h2V1031.6h-2zM1028 1027.6h2V1031.6h-2zM1040 1027.6h2V1031.6h-2zM1046 1027.6h4V1031.6h-4zM1056 1027.6h6V1031.6h-6zM1064 1027.6h6V1031.6h-6zM1072 1027.6h2V1031.6h-2zM1080 1027.6h2V1031.6h-2zM1084 1027.6h4V1031.6h-4zM1098 1027.6h6V1031.6h-6zM1106 1027.6h6V1031.6h-6zM1122 1027.6h2V1031.6h-2zM1126 1027.6h2V1031.6h-2zM1130 1027.6h2V1031.6h-2zM1134 1027.6h4V1031.6h-4zM1140 1027.6h4V1031.6h-4zM1148 1027.6h2V1031.6h-2zM1154 1027.6h4V1031.6h-4zM1162 1027.6h8V1031.6h-8zM1330 1027.6h2V1031.6h-2zM1336 1027.6h4V1031.6h-4zM1350 1027.6h2V1031.6h-2zM1364 1027.6h10V1031.6h-10zM1384 1027.6h2V1031.6h-2zM1392 1027.6h2V1031.6h-2zM1400 1027.6h4V1031.6h-4zM890 1023.6h4V1027.6h-4zM904 1023.6h6V1027.6h-6zM916 1023.6h2V1027.6h-2zM922 1023.6h2V1027.6h-2zM936 1023.6h2V1027.6h-2zM978 1023.6h2V1027.6h-2zM1014 1023.6h6V1027.6h-6zM1022 1023.6h2V1027.6h-2zM1028 1023.6h2V1027.6h-2zM1044 1023.6h4V1027.6h-4zM1056 1023.6h2V1027.6h-2zM1060 1023.6h2V1027.6h-2zM1064 1023.6h6V1027.6h-6zM1072 1023.6h2V1027.6h-2zM1078 1023.6h10V1027.6h-10zM1096 1023.6h4V1027.6h-4zM1102 1023.6h6V1027.6h-6zM1112 1023.6h2V1027.6h-2zM1122 1023.6h2V1027.6h-2zM1128 1023.6h12V1027.6h-12zM1142 1023.6h2V1027.6h-2zM1148 1023.6h16V1027.6h-16zM1166 1023.6h4V1027.6h-4zM1174 1023.6h4V1027.6h-4zM1292 1023.6h2V1027.6h-2zM1310 1023.6h2V1027.6h-2zM1320 1023.6h4V1027.6h-4zM1330 1023.6h4V1027.6h-4zM1336 1023.6h4V1027.6h-4zM1342 1023.6h2V1027.6h-2zM1350 1023.6h2V1027.6h-2zM1364 1023.6h4V1027.6h-4zM1370 1023.6h4V1027.6h-4zM1376 1023.6h4V1027.6h-4zM1382 1023.6h4V1027.6h-4zM1390 1023.6h2V1027.6h-2zM1394 1023.6h2V1027.6h-2zM1398 1023.6h2V1027.6h-2zM1402 1023.6h6V1027.6h-6zM890 1019.6h4V1023.6h-4zM924 1019.6h2V1023.6h-2zM978 1019.6h2V1023.6h-2zM1018 1019.6h2V1023.6h-2zM1052 1019.6h2V1023.6h-2zM1064 1019.6h6V1023.6h-6zM1072 1019.6h2V1023.6h-2zM1080 1019.6h6V1023.6h-6zM1098 1019.6h10V1023.6h-10zM1112 1019.6h2V1023.6h-2zM1122 1019.6h2V1023.6h-2zM1126 1019.6h14V1023.6h-14zM1142 1019.6h2V1023.6h-2zM1150 1019.6h2V1023.6h-2zM1154 1019.6h4V1023.6h-4zM1160 1019.6h10V1023.6h-10zM1174 1019.6h6V1023.6h-6zM1188 1019.6h2V1023.6h-2zM1312 1019.6h4V1023.6h-4zM1332 1019.6h2V1023.6h-2zM1336 1019.6h10V1023.6h-10zM1366 1019.6h2V1023.6h-2zM1370 1019.6h4V1023.6h-4zM1376 1019.6h4V1023.6h-4zM1382 1019.6h6V1023.6h-6zM1390 1019.6h6V1023.6h-6zM1398 1019.6h10V1023.6h-10zM892 1015.5h2V1019.6h-2zM1018 1015.5h2V1019.6h-2zM1052 1015.5h2V1019.6h-2zM1064 1015.5h2V1019.6h-2zM1068 1015.5h2V1019.6h-2zM1072 1015.5h2V1019.6h-2zM1080 1015.5h2V1019.6h-2zM1086 1015.5h2V1019.6h-2zM1098 1015.5h4V1019.6h-4zM1104 1015.5h4V1019.6h-4zM1126 1015.5h2V1019.6h-2zM1132 1015.5h8V1019.6h-8zM1148 1015.5h20V1019.6h-20zM1170 1015.5h2V1019.6h-2zM1276 1015.5h2V1019.6h-2zM1282 1015.5h2V1019.6h-2zM1292 1015.5h2V1019.6h-2zM1310 1015.5h6V1019.6h-6zM1320 1015.5h2V1019.6h-2zM1330 1015.5h10V1019.6h-10zM1342 1015.5h2V1019.6h-2zM1350 1015.5h4V1019.6h-4zM1364 1015.5h6V1019.6h-6zM1376 1015.5h4V1019.6h-4zM1382 1015.5h10V1019.6h-10zM1402 1015.5h4V1019.6h-4zM1084 1011.2h2V1015.5h-2zM1102 1011.2h4V1015.5h-4zM1136 1011.2h4V1015.5h-4zM1142 1011.2h2V1015.5h-2zM1150 1011.2h12V1015.5h-12zM1164 1011.2h2V1015.5h-2zM1168 1011.2h4V1015.5h-4zM1174 1011.2h8V1015.5h-8zM1188 1011.2h2V1015.5h-2zM1194 1011.2h4V1015.5h-4zM1210 1011.2h2V1015.5h-2zM1236 1011.2h2V1015.5h-2zM1276 1011.2h4V1015.5h-4zM1292 1011.2h6V1015.5h-6zM1310 1011.2h2V1015.5h-2zM1314 1011.2h8V1015.5h-8zM1330 1011.2h6V1015.5h-6zM1338 1011.2h10V1015.5h-10zM1350 1011.2h6V1015.5h-6zM1360 1011.2h30V1015.5h-30zM1394 1011.2h6V1015.5h-6zM1404 1011.2h4V1015.5h-4zM1072 1007.2h2V1011.2h-2zM1082 1007.2h4V1011.2h-4zM1102 1007.2h2V1011.2h-2zM1112 1007.2h2V1011.2h-2zM1132 1007.2h2V1011.2h-2zM1156 1007.2h2V1011.2h-2zM1160 1007.2h6V1011.2h-6zM1168 1007.2h6V1011.2h-6zM1178 1007.2h2V1011.2h-2zM1190 1007.2h6V1011.2h-6zM1210 1007.2h2V1011.2h-2zM1228 1007.2h2V1011.2h-2zM1242 1007.2h4V1011.2h-4zM1248 1007.2h2V1011.2h-2zM1262 1007.2h2V1011.2h-2zM1274 1007.2h4V1011.2h-4zM1282 1007.2h4V1011.2h-4zM1290 1007.2h2V1011.2h-2zM1296 1007.2h10V1011.2h-10zM1308 1007.2h2V1011.2h-2zM1312 1007.2h8V1011.2h-8zM1322 1007.2h2V1011.2h-2zM1326 1007.2h10V1011.2h-10zM1338 1007.2h10V1011.2h-10zM1350 1007.2h6V1011.2h-6zM1360 1007.2h6V1011.2h-6zM1368 1007.2h2V1011.2h-2zM1372 1007.2h6V1011.2h-6zM1380 1007.2h12V1011.2h-12zM1394 1007.2h2V1011.2h-2zM1398 1007.2h2V1011.2h-2zM1404 1007.2h4V1011.2h-4zM1022 1003.1h2V1007.2h-2zM1100 1003.1h2V1007.2h-2zM1136 1003.1h2V1007.2h-2zM1146 1003.1h2V1007.2h-2zM1154 1003.1h2V1007.2h-2zM1158 1003.1h6V1007.2h-6zM1170 1003.1h6V1007.2h-6zM1178 1003.1h6V1007.2h-6zM1188 1003.1h6V1007.2h-6zM1196 1003.1h2V1007.2h-2zM1214 1003.1h2V1007.2h-2zM1220 1003.1h2V1007.2h-2zM1228 1003.1h2V1007.2h-2zM1232 1003.1h2V1007.2h-2zM1236 1003.1h2V1007.2h-2zM1240 1003.1h2V1007.2h-2zM1248 1003.1h8V1007.2h-8zM1264 1003.1h2V1007.2h-2zM1268 1003.1h2V1007.2h-2zM1278 1003.1h4V1007.2h-4zM1284 1003.1h24V1007.2h-24zM1310 1003.1h4V1007.2h-4zM1316 1003.1h2V1007.2h-2zM1322 1003.1h12V1007.2h-12zM1338 1003.1h10V1007.2h-10zM1350 1003.1h4V1007.2h-4zM1356 1003.1h4V1007.2h-4zM1362 1003.1h2V1007.2h-2zM1368 1003.1h4V1007.2h-4zM1374 1003.1h4V1007.2h-4zM1386 1003.1h2V1007.2h-2zM1394 1003.1h6V1007.2h-6zM1102 999h2V1003.1h-2zM1152 999h2V1003.1h-2zM1156 999h2V1003.1h-2zM1162 999h2V1003.1h-2zM1166 999h6V1003.1h-6zM1178 999h2V1003.1h-2zM1186 999h4V1003.1h-4zM1192 999h4V1003.1h-4zM1198 999h2V1003.1h-2zM1206 999h2V1003.1h-2zM1210 999h6V1003.1h-6zM1218 999h12V1003.1h-12zM1232 999h4V1003.1h-4zM1242 999h4V1003.1h-4zM1248 999h6V1003.1h-6zM1256 999h2V1003.1h-2zM1262 999h2V1003.1h-2zM1268 999h4V1003.1h-4zM1274 999h14V1003.1h-14zM1294 999h2V1003.1h-2zM1298 999h2V1003.1h-2zM1302 999h14V1003.1h-14zM1318 999h4V1003.1h-4zM1326 999h4V1003.1h-4zM1336 999h2V1003.1h-2zM1344 999h6V1003.1h-6zM1352 999h18V1003.1h-18zM1374 999h2V1003.1h-2zM1380 999h4V1003.1h-4zM1386 999h4V1003.1h-4zM1392 999h2V1003.1h-2zM1150 995h2V999h-2zM1170 995h2V999h-2zM1180 995h8V999h-8zM1190 995h10V999h-10zM1202 995h2V999h-2zM1206 995h2V999h-2zM1210 995h4V999h-4zM1216 995h16V999h-16zM1234 995h10V999h-10zM1246 995h8V999h-8zM1256 995h8V999h-8zM1268 995h6V999h-6zM1278 995h18V999h-18zM1302 995h4V999h-4zM1312 995h4V999h-4zM1320 995h10V999h-10zM1336 995h2V999h-2zM1348 995h2V999h-2zM1352 995h8V999h-8zM1374 995h2V999h-2zM1378 995h4V999h-4zM1394 995h2V999h-2zM1398 995h2V999h-2zM1172 990.9h2V995h-2zM1176 990.9h4V995h-4zM1188 990.9h2V995h-2zM1192 990.9h4V995h-4zM1198 990.9h8V995h-8zM1212 990.9h2V995h-2zM1216 990.9h2V995h-2zM1224 990.9h22V995h-22zM1250 990.9h8V995h-8zM1260 990.9h2V995h-2zM1266 990.9h12V995h-12zM1280 990.9h2V995h-2zM1286 990.9h4V995h-4zM1294 990.9h4V995h-4zM1302 990.9h6V995h-6zM1310 990.9h2V995h-2zM1318 990.9h2V995h-2zM1330 990.9h2V995h-2zM1334 990.9h2V995h-2zM1340 990.9h2V995h-2zM1346 990.9h4V995h-4zM1354 990.9h2V995h-2zM1358 990.9h2V995h-2zM1400 990.9h2V995h-2zM1406 990.9h2V995h-2zM1186 986.8h2V990.9h-2zM1194 986.8h2V990.9h-2zM1198 986.8h4V990.9h-4zM1204 986.8h8V990.9h-8zM1216 986.8h8V990.9h-8zM1228 986.8h2V990.9h-2zM1234 986.8h4V990.9h-4zM1240 986.8h4V990.9h-4zM1246 986.8h6V990.9h-6zM1256 986.8h2V990.9h-2zM1260 986.8h4V990.9h-4zM1266 986.8h4V990.9h-4zM1278 986.8h6V990.9h-6zM1294 986.8h2V990.9h-2zM1308 986.8h2V990.9h-2zM1316 986.8h2V990.9h-2zM1322 986.8h2V990.9h-2zM1332 986.8h2V990.9h-2zM1352 986.8h2V990.9h-2zM1380 986.8h2V990.9h-2zM1166 982.8h2V986.8h-2zM1186 982.8h4V986.8h-4zM1200 982.8h2V986.8h-2zM1206 982.8h2V986.8h-2zM1214 982.8h2V986.8h-2zM1226 982.8h2V986.8h-2zM1234 982.8h2V986.8h-2zM1242 982.8h8V986.8h-8zM1258 982.8h2V986.8h-2zM1262 982.8h2V986.8h-2zM1266 982.8h8V986.8h-8zM1276 982.8h4V986.8h-4zM1286 982.8h2V986.8h-2zM1296 982.8h2V986.8h-2zM1304 982.8h2V986.8h-2zM1396 982.8h2V986.8h-2zM1204 978.7h2V982.8h-2zM1208 978.7h2V982.8h-2zM1224 978.7h2V982.8h-2zM1228 978.7h2V982.8h-2zM1242 978.7h2V982.8h-2zM1246 978.7h4V982.8h-4zM1258 978.7h2V982.8h-2zM1280 978.7h2V982.8h-2zM1286 978.7h2V982.8h-2zM1290 978.7h2V982.8h-2zM1328 978.7h2V982.8h-2zM1198 974.7h2V978.7h-2zM1230 974.7h2V978.7h-2zM1244 974.7h2V978.7h-2zM1266 974.7h4V978.7h-4z"/><path fill="#0000ff" d="M752 1113.2h1V1122h-1zM754 1113.2h2V1122h-2zM774 1113.2h1V1122h-1zM776 1113.2h1V1122h-1zM788 1113.2h2V1122h-2zM796 1113.2h1V1122h-1zM799 1113.2h1V1122h-1zM806 1113.2h2V1122h-2zM809 1113.2h2V1122h-2zM813 1113.2h1V1122h-1zM829 1113.2h4V1122h-4zM857 1113.2h1V1122h-1zM859 1113.2h1V1122h-1zM863 1113.2h1V1122h-1zM876 1113.2h1V1122h-1zM886 1113.2h2V1122h-2zM898 1113.2h1V1122h-1zM902 1113.2h1V1122h-1zM905 1113.2h2V1122h-2zM912 1113.2h1V1122h-1zM915 1113.2h1V1122h-1zM922 1113.2h1V1122h-1zM928 1113.2h1V1122h-1zM930 1113.2h1V1122h-1zM932 1113.2h1V1122h-1zM935 1113.2h1V1122h-1zM938 1113.2h1V1122h-1zM942 1113.2h1V1122h-1zM945 1113.2h2V1122h-2zM951 1113.2h1V1122h-1zM953 1113.2h1V1122h-1zM960 1113.2h1V1122h-1zM973 1113.2h1V1122h-1zM976 1113.2h1V1122h-1zM985 1113.2h2V1122h-2zM989 1113.2h1V1122h-1zM996 1113.2h1V1122h-1zM1000 1113.2h1V1122h-1zM1003 1113.2h1V1122h-1zM1005 1113.2h1V1122h-1zM1010 1113.2h1V1122h-1zM1015 1113.2h1V1122h-1zM1020 1113.2h1V1122h-1zM1024 1113.2h1V1122h-1zM1027 1113.2h1V1122h-1zM1030 1113.2h1V1122h-1zM1036 1113.2h1V1122h-1zM1038 1113.2h1V1122h-1zM1042 1113.2h1V1122h-1zM1044 1113.2h1V1122h-1zM1048 1113.2h1V1122h-1zM1050 1113.2h2V1122h-2zM1055 1113.2h1V1122h-1zM1063 1113.2h1V1122h-1zM1071 1113.2h1V1122h-1zM1074 1113.2h2V1122h-2zM1077 1113.2h2V1122h-2zM1091 1113.2h1V1122h-1zM1114 1113.2h1V1122h-1zM1117 1113.2h3V1122h-3zM1124 1113.2h2V1122h-2zM1145 1113.2h2V1122h-2zM1401 1113.2h1V1122h-1zM750 1101.8h1V1113.2h-1zM752 1101.8h1V1113.2h-1zM754 1101.8h2V1113.2h-2zM773 1101.8h1V1113.2h-1zM777 1101.8h1V1113.2h-1zM788 1101.8h1V1113.2h-1zM790 1101.8h1V1113.2h-1zM802 1101.8h1V1113.2h-1zM808 1101.8h2V1113.2h-2zM821 1101.8h1V1113.2h-1zM828 1101.8h1V1113.2h-1zM830 1101.8h3V1113.2h-3zM844 1101.8h1V1113.2h-1zM851 1101.8h1V1113.2h-1zM856 1101.8h2V1113.2h-2zM859 1101.8h1V1113.2h-1zM864 1101.8h1V1113.2h-1zM876 1101.8h2V1113.2h-2zM880 1101.8h1V1113.2h-1zM884 1101.8h1V1113.2h-1zM887 1101.8h1V1113.2h-1zM890 1101.8h1V1113.2h-1zM901 1101.8h2V1113.2h-2zM905 1101.8h2V1113.2h-2zM909 1101.8h1V1113.2h-1zM912 1101.8h1V1113.2h-1zM914 1101.8h2V1113.2h-2zM927 1101.8h1V1113.2h-1zM934 1101.8h2V1113.2h-2zM943 1101.8h1V1113.2h-1zM951 1101.8h1V1113.2h-1zM961 1101.8h1V1113.2h-1zM965 1101.8h2V1113.2h-2zM983 1101.8h3V1113.2h-3zM989 1101.8h1V1113.2h-1zM996 1101.8h2V1113.2h-2zM1000 1101.8h2V1113.2h-2zM1003 1101.8h1V1113.2h-1zM1007 1101.8h1V1113.2h-1zM1014 1101.8h2V1113.2h-2zM1020 1101.8h1V1113.2h-1zM1027 1101.8h1V1113.2h-1zM1034 1101.8h1V1113.2h-1zM1038 1101.8h1V1113.2h-1zM1041 1101.8h2V1113.2h-2zM1044 1101.8h1V1113.2h-1zM1050 1101.8h1V1113.2h-1zM1055 1101.8h1V1113.2h-1zM1063 1101.8h1V1113.2h-1zM1076 1101.8h3V1113.2h-3zM1091 1101.8h1V1113.2h-1zM1111 1101.8h1V1113.2h-1zM1116 1101.8h2V1113.2h-2zM1119 1101.8h1V1113.2h-1zM1124 1101.8h1V1113.2h-1zM1146 1101.8h1V1113.2h-1zM1401 1101.8h1V1113.2h-1zM751 1094.4h1V1101.8h-1zM755 1094.4h1V1101.8h-1zM774 1094.4h1V1101.8h-1zM778 1094.4h1V1101.8h-1zM788 1094.4h1V1101.8h-1zM802 1094.4h2V1101.8h-2zM806 1094.4h4V1101.8h-4zM814 1094.4h1V1101.8h-1zM829 1094.4h3V1101.8h-3zM844 1094.4h1V1101.8h-1zM863 1094.4h2V1101.8h-2zM872 1094.4h1V1101.8h-1zM876 1094.4h2V1101.8h-2zM880 1094.4h1V1101.8h-1zM884 1094.4h1V1101.8h-1zM886 1094.4h1V1101.8h-1zM890 1094.4h1V1101.8h-1zM896 1094.4h1V1101.8h-1zM902 1094.4h1V1101.8h-1zM905 1094.4h2V1101.8h-2zM909 1094.4h1V1101.8h-1zM912 1094.4h1V1101.8h-1zM914 1094.4h2V1101.8h-2zM918 1094.4h1V1101.8h-1zM921 1094.4h1V1101.8h-1zM927 1094.4h2V1101.8h-2zM930 1094.4h2V1101.8h-2zM935 1094.4h1V1101.8h-1zM938 1094.4h1V1101.8h-1zM943 1094.4h1V1101.8h-1zM945 1094.4h2V1101.8h-2zM955 1094.4h1V1101.8h-1zM960 1094.4h2V1101.8h-2zM963 1094.4h1V1101.8h-1zM970 1094.4h1V1101.8h-1zM973 1094.4h1V1101.8h-1zM976 1094.4h1V1101.8h-1zM984 1094.4h2V1101.8h-2zM989 1094.4h1V1101.8h-1zM996 1094.4h1V1101.8h-1zM998 1094.4h1V1101.8h-1zM1000 1094.4h2V1101.8h-2zM1003 1094.4h1V1101.8h-1zM1005 1094.4h1V1101.8h-1zM1007 1094.4h1V1101.8h-1zM1011 1094.4h1V1101.8h-1zM1013 1094.4h1V1101.8h-1zM1015 1094.4h2V1101.8h-2zM1020 1094.4h1V1101.8h-1zM1027 1094.4h1V1101.8h-1zM1030 1094.4h2V1101.8h-2zM1036 1094.4h2V1101.8h-2zM1039 1094.4h1V1101.8h-1zM1042 1094.4h1V1101.8h-1zM1055 1094.4h1V1101.8h-1zM1060 1094.4h1V1101.8h-1zM1071 1094.4h1V1101.8h-1zM1074 1094.4h1V1101.8h-1zM1077 1094.4h1V1101.8h-1zM1091 1094.4h1V1101.8h-1zM1095 1094.4h2V1101.8h-2zM1117 1094.4h1V1101.8h-1zM1120 1094.4h1V1101.8h-1zM1124 1094.4h2V1101.8h-2zM1141 1094.4h1V1101.8h-1zM1146 1094.4h1V1101.8h-1zM1393 1094.4h1V1101.8h-1zM1400 1094.4h1V1101.8h-1zM750 1088.8h2V1094.4h-2zM754 1088.8h2V1094.4h-2zM777 1088.8h2V1094.4h-2zM789 1088.8h2V1094.4h-2zM810 1088.8h2V1094.4h-2zM813 1088.8h2V1094.4h-2zM830 1088.8h2V1094.4h-2zM852 1088.8h1V1094.4h-1zM857 1088.8h1V1094.4h-1zM863 1088.8h1V1094.4h-1zM871 1088.8h2V1094.4h-2zM876 1088.8h1V1094.4h-1zM878 1088.8h1V1094.4h-1zM882 1088.8h1V1094.4h-1zM884 1088.8h1V1094.4h-1zM887 1088.8h1V1094.4h-1zM890 1088.8h1V1094.4h-1zM894 1088.8h1V1094.4h-1zM896 1088.8h1V1094.4h-1zM901 1088.8h2V1094.4h-2zM905 1088.8h1V1094.4h-1zM909 1088.8h1V1094.4h-1zM912 1088.8h1V1094.4h-1zM914 1088.8h1V1094.4h-1zM921 1088.8h2V1094.4h-2zM928 1088.8h1V1094.4h-1zM934 1088.8h3V1094.4h-3zM938 1088.8h1V1094.4h-1zM943 1088.8h2V1094.4h-2zM947 1088.8h1V1094.4h-1zM949 1088.8h1V1094.4h-1zM951 1088.8h1V1094.4h-1zM955 1088.8h1V1094.4h-1zM958 1088.8h1V1094.4h-1zM961 1088.8h1V1094.4h-1zM965 1088.8h1V1094.4h-1zM969 1088.8h1V1094.4h-1zM973 1088.8h1V1094.4h-1zM976 1088.8h1V1094.4h-1zM981 1088.8h1V1094.4h-1zM983 1088.8h4V1094.4h-4zM989 1088.8h1V1094.4h-1zM993 1088.8h1V1094.4h-1zM995 1088.8h1V1094.4h-1zM997 1088.8h2V1094.4h-2zM1005 1088.8h1V1094.4h-1zM1010 1088.8h2V1094.4h-2zM1016 1088.8h1V1094.4h-1zM1020 1088.8h1V1094.4h-1zM1024 1088.8h1V1094.4h-1zM1030 1088.8h1V1094.4h-1zM1032 1088.8h1V1094.4h-1zM1037 1088.8h1V1094.4h-1zM1040 1088.8h3V1094.4h-3zM1044 1088.8h1V1094.4h-1zM1047 1088.8h2V1094.4h-2zM1051 1088.8h1V1094.4h-1zM1054 1088.8h2V1094.4h-2zM1062 1088.8h1V1094.4h-1zM1064 1088.8h1V1094.4h-1zM1071 1088.8h1V1094.4h-1zM1109 1088.8h3V1094.4h-3zM1115 1088.8h1V1094.4h-1zM1120 1088.8h2V1094.4h-2zM1124 1088.8h1V1094.4h-1zM1126 1088.8h1V1094.4h-1zM1128 1088.8h1V1094.4h-1zM1145 1088.8h3V1094.4h-3zM1168 1088.8h1V1094.4h-1zM1402 1088.8h1V1094.4h-1zM751 1084.4h1V1088.8h-1zM754 1084.4h1V1088.8h-1zM777 1084.4h1V1088.8h-1zM789 1084.4h1V1088.8h-1zM813 1084.4h2V1088.8h-2zM829 1084.4h2V1088.8h-2zM863 1084.4h1V1088.8h-1zM871 1084.4h1V1088.8h-1zM884 1084.4h1V1088.8h-1zM887 1084.4h1V1088.8h-1zM896 1084.4h1V1088.8h-1zM898 1084.4h1V1088.8h-1zM902 1084.4h1V1088.8h-1zM906 1084.4h1V1088.8h-1zM908 1084.4h2V1088.8h-2zM912 1084.4h1V1088.8h-1zM918 1084.4h1V1088.8h-1zM921 1084.4h2V1088.8h-2zM930 1084.4h3V1088.8h-3zM935 1084.4h1V1088.8h-1zM943 1084.4h2V1088.8h-2zM949 1084.4h1V1088.8h-1zM955 1084.4h1V1088.8h-1zM958 1084.4h1V1088.8h-1zM960 1084.4h1V1088.8h-1zM965 1084.4h1V1088.8h-1zM969 1084.4h1V1088.8h-1zM976 1084.4h1V1088.8h-1zM980 1084.4h2V1088.8h-2zM983 1084.4h3V1088.8h-3zM993 1084.4h1V1088.8h-1zM995 1084.4h1V1088.8h-1zM997 1084.4h2V1088.8h-2zM1000 1084.4h2V1088.8h-2zM1005 1084.4h1V1088.8h-1zM1009 1084.4h1V1088.8h-1zM1015 1084.4h2V1088.8h-2zM1019 1084.4h1V1088.8h-1zM1021 1084.4h1V1088.8h-1zM1024 1084.4h1V1088.8h-1zM1034 1084.4h1V1088.8h-1zM1039 1084.4h1V1088.8h-1zM1044 1084.4h1V1088.8h-1zM1051 1084.4h1V1088.8h-1zM1054 1084.4h2V1088.8h-2zM1063 1084.4h2V1088.8h-2zM1070 1084.4h2V1088.8h-2zM1074 1084.4h1V1088.8h-1zM1083 1084.4h1V1088.8h-1zM1095 1084.4h1V1088.8h-1zM1101 1084.4h1V1088.8h-1zM1110 1084.4h2V1088.8h-2zM1120 1084.4h2V1088.8h-2zM1124 1084.4h3V1088.8h-3zM1128 1084.4h1V1088.8h-1zM1141 1084.4h1V1088.8h-1zM1144 1084.4h4V1088.8h-4zM1351 1084.4h1V1088.8h-1zM1392 1084.4h2V1088.8h-2zM1400 1084.4h2V1088.8h-2zM751 1080.7h1V1084.4h-1zM754 1080.7h1V1084.4h-1zM777 1080.7h1V1084.4h-1zM811 1080.7h1V1084.4h-1zM814 1080.7h1V1084.4h-1zM863 1080.7h1V1084.4h-1zM870 1080.7h1V1084.4h-1zM876 1080.7h1V1084.4h-1zM878 1080.7h1V1084.4h-1zM881 1080.7h3V1084.4h-3zM894 1080.7h1V1084.4h-1zM896 1080.7h1V1084.4h-1zM901 1080.7h1V1084.4h-1zM903 1080.7h1V1084.4h-1zM908 1080.7h2V1084.4h-2zM912 1080.7h1V1084.4h-1zM914 1080.7h1V1084.4h-1zM920 1080.7h1V1084.4h-1zM930 1080.7h1V1084.4h-1zM933 1080.7h2V1084.4h-2zM936 1080.7h1V1084.4h-1zM938 1080.7h1V1084.4h-1zM944 1080.7h1V1084.4h-1zM946 1080.7h2V1084.4h-2zM950 1080.7h1V1084.4h-1zM961 1080.7h1V1084.4h-1zM969 1080.7h1V1084.4h-1zM984 1080.7h2V1084.4h-2zM989 1080.7h1V1084.4h-1zM995 1080.7h1V1084.4h-1zM997 1080.7h4V1084.4h-4zM1005 1080.7h1V1084.4h-1zM1009 1080.7h1V1084.4h-1zM1016 1080.7h1V1084.4h-1zM1019 1080.7h1V1084.4h-1zM1031 1080.7h2V1084.4h-2zM1034 1080.7h1V1084.4h-1zM1036 1080.7h2V1084.4h-2zM1040 1080.7h1V1084.4h-1zM1042 1080.7h1V1084.4h-1zM1048 1080.7h2V1084.4h-2zM1054 1080.7h1V1084.4h-1zM1057 1080.7h2V1084.4h-2zM1060 1080.7h1V1084.4h-1zM1062 1080.7h1V1084.4h-1zM1064 1080.7h1V1084.4h-1zM1072 1080.7h1V1084.4h-1zM1074 1080.7h1V1084.4h-1zM1079 1080.7h1V1084.4h-1zM1084 1080.7h1V1084.4h-1zM1093 1080.7h3V1084.4h-3zM1100 1080.7h2V1084.4h-2zM1110 1080.7h2V1084.4h-2zM1120 1080.7h2V1084.4h-2zM1123 1080.7h4V1084.4h-4zM1131 1080.7h1V1084.4h-1zM1142 1080.7h1V1084.4h-1zM1147 1080.7h1V1084.4h-1zM1168 1080.7h1V1084.4h-1zM1392 1080.7h2V1084.4h-2zM1400 1080.7h2V1084.4h-2zM750 1077.5h2V1080.7h-2zM754 1077.5h1V1080.7h-1zM777 1077.5h2V1080.7h-2zM789 1077.5h2V1080.7h-2zM814 1077.5h1V1080.7h-1zM829 1077.5h3V1080.7h-3zM871 1077.5h1V1080.7h-1zM876 1077.5h1V1080.7h-1zM881 1077.5h2V1080.7h-2zM896 1077.5h1V1080.7h-1zM901 1077.5h1V1080.7h-1zM912 1077.5h1V1080.7h-1zM918 1077.5h1V1080.7h-1zM922 1077.5h1V1080.7h-1zM930 1077.5h2V1080.7h-2zM944 1077.5h4V1080.7h-4zM961 1077.5h1V1080.7h-1zM969 1077.5h1V1080.7h-1zM981 1077.5h4V1080.7h-4zM997 1077.5h3V1080.7h-3zM1001 1077.5h1V1080.7h-1zM1005 1077.5h1V1080.7h-1zM1007 1077.5h1V1080.7h-1zM1009 1077.5h1V1080.7h-1zM1011 1077.5h1V1080.7h-1zM1013 1077.5h2V1080.7h-2zM1016 1077.5h1V1080.7h-1zM1019 1077.5h1V1080.7h-1zM1021 1077.5h1V1080.7h-1zM1030 1077.5h1V1080.7h-1zM1040 1077.5h1V1080.7h-1zM1042 1077.5h1V1080.7h-1zM1047 1077.5h1V1080.7h-1zM1049 1077.5h3V1080.7h-3zM1054 1077.5h2V1080.7h-2zM1057 1077.5h1V1080.7h-1zM1059 1077.5h2V1080.7h-2zM1064 1077.5h1V1080.7h-1zM1070 1077.5h3V1080.7h-3zM1074 1077.5h1V1080.7h-1zM1076 1077.5h1V1080.7h-1zM1078 1077.5h2V1080.7h-2zM1089 1077.5h2V1080.7h-2zM1094 1077.5h3V1080.7h-3zM1098 1077.5h1V1080.7h-1zM1119 1077.5h1V1080.7h-1zM1121 1077.5h1V1080.7h-1zM1125 1077.5h2V1080.7h-2zM1128 1077.5h1V1080.7h-1zM1140 1077.5h1V1080.7h-1zM1142 1077.5h1V1080.7h-1zM1144 1077.5h2V1080.7h-2zM1163 1077.5h1V1080.7h-1zM1337 1077.5h1V1080.7h-1zM1351 1077.5h1V1080.7h-1zM1391 1077.5h2V1080.7h-2zM1402 1077.5h1V1080.7h-1zM754 1072.3h1V1077.5h-1zM778 1072.3h1V1077.5h-1zM788 1072.3h2V1077.5h-2zM831 1072.3h1V1077.5h-1zM871 1072.3h1V1077.5h-1zM878 1072.3h1V1077.5h-1zM882 1072.3h1V1077.5h-1zM886 1072.3h1V1077.5h-1zM896 1072.3h2V1077.5h-2zM901 1072.3h1V1077.5h-1zM908 1072.3h1V1077.5h-1zM921 1072.3h1V1077.5h-1zM926 1072.3h1V1077.5h-1zM930 1072.3h1V1077.5h-1zM946 1072.3h2V1077.5h-2zM954 1072.3h1V1077.5h-1zM958 1072.3h1V1077.5h-1zM960 1072.3h1V1077.5h-1zM969 1072.3h1V1077.5h-1zM994 1072.3h2V1077.5h-2zM999 1072.3h2V1077.5h-2zM1002 1072.3h1V1077.5h-1zM1007 1072.3h1V1077.5h-1zM1009 1072.3h3V1077.5h-3zM1024 1072.3h1V1077.5h-1zM1030 1072.3h1V1077.5h-1zM1040 1072.3h2V1077.5h-2zM1045 1072.3h1V1077.5h-1zM1047 1072.3h1V1077.5h-1zM1054 1072.3h4V1077.5h-4zM1060 1072.3h1V1077.5h-1zM1070 1072.3h1V1077.5h-1zM1079 1072.3h1V1077.5h-1zM1084 1072.3h1V1077.5h-1zM1087 1072.3h1V1077.5h-1zM1089 1072.3h1V1077.5h-1zM1094 1072.3h1V1077.5h-1zM1096 1072.3h1V1077.5h-1zM1098 1072.3h1V1077.5h-1zM1100 1072.3h2V1077.5h-2zM1111 1072.3h1V1077.5h-1zM1113 1072.3h1V1077.5h-1zM1120 1072.3h1V1077.5h-1zM1126 1072.3h1V1077.5h-1zM1128 1072.3h1V1077.5h-1zM1131 1072.3h1V1077.5h-1zM1135 1072.3h1V1077.5h-1zM1141 1072.3h2V1077.5h-2zM1144 1072.3h1V1077.5h-1zM1147 1072.3h1V1077.5h-1zM1167 1072.3h2V1077.5h-2zM1371 1072.3h2V1077.5h-2zM1379 1072.3h1V1077.5h-1zM1386 1072.3h1V1077.5h-1zM1390 1072.3h3V1077.5h-3zM1400 1072.3h1V1077.5h-1zM1402 1072.3h1V1077.5h-1zM750 1068h1V1072.3h-1zM789 1068h1V1072.3h-1zM871 1068h1V1072.3h-1zM882 1068h1V1072.3h-1zM896 1068h3V1072.3h-3zM906 1068h1V1072.3h-1zM916 1068h2V1072.3h-2zM921 1068h3V1072.3h-3zM943 1068h2V1072.3h-2zM947 1068h1V1072.3h-1zM949 1068h2V1072.3h-2zM954 1068h1V1072.3h-1zM962 1068h1V1072.3h-1zM969 1068h1V1072.3h-1zM981 1068h1V1072.3h-1zM983 1068h1V1072.3h-1zM994 1068h2V1072.3h-2zM997 1068h4V1072.3h-4zM1002 1068h1V1072.3h-1zM1010 1068h1V1072.3h-1zM1012 1068h2V1072.3h-2zM1019 1068h1V1072.3h-1zM1021 1068h1V1072.3h-1zM1028 1068h1V1072.3h-1zM1037 1068h2V1072.3h-2zM1045 1068h1V1072.3h-1zM1047 1068h1V1072.3h-1zM1049 1068h1V1072.3h-1zM1051 1068h1V1072.3h-1zM1057 1068h1V1072.3h-1zM1060 1068h1V1072.3h-1zM1062 1068h1V1072.3h-1zM1064 1068h1V1072.3h-1zM1071 1068h2V1072.3h-2zM1084 1068h1V1072.3h-1zM1088 1068h1V1072.3h-1zM1090 1068h1V1072.3h-1zM1094 1068h1V1072.3h-1zM1101 1068h1V1072.3h-1zM1108 1068h2V1072.3h-2zM1113 1068h1V1072.3h-1zM1115 1068h1V1072.3h-1zM1123 1068h2V1072.3h-2zM1131 1068h1V1072.3h-1zM1135 1068h1V1072.3h-1zM1142 1068h1V1072.3h-1zM1144 1068h1V1072.3h-1zM1157 1068h1V1072.3h-1zM1164 1068h1V1072.3h-1zM1168 1068h1V1072.3h-1zM1177 1068h1V1072.3h-1zM1337 1068h2V1072.3h-2zM1367 1068h1V1072.3h-1zM1371 1068h1V1072.3h-1zM1379 1068h1V1072.3h-1zM1385 1068h2V1072.3h-2zM1390 1068h3V1072.3h-3zM1407 1068h1V1072.3h-1zM784 1064.5h1V1068h-1zM871 1064.5h1V1068h-1zM881 1064.5h2V1068h-2zM891 1064.5h1V1068h-1zM898 1064.5h1V1068h-1zM903 1064.5h1V1068h-1zM916 1064.5h2V1068h-2zM923 1064.5h1V1068h-1zM925 1064.5h1V1068h-1zM930 1064.5h2V1068h-2zM936 1064.5h2V1068h-2zM947 1064.5h1V1068h-1zM949 1064.5h2V1068h-2zM954 1064.5h1V1068h-1zM956 1064.5h1V1068h-1zM962 1064.5h1V1068h-1zM977 1064.5h1V1068h-1zM979 1064.5h2V1068h-2zM998 1064.5h1V1068h-1zM1005 1064.5h2V1068h-2zM1010 1064.5h1V1068h-1zM1012 1064.5h2V1068h-2zM1016 1064.5h1V1068h-1zM1019 1064.5h1V1068h-1zM1021 1064.5h1V1068h-1zM1028 1064.5h1V1068h-1zM1040 1064.5h1V1068h-1zM1049 1064.5h3V1068h-3zM1054 1064.5h1V1068h-1zM1056 1064.5h1V1068h-1zM1060 1064.5h2V1068h-2zM1064 1064.5h1V1068h-1zM1072 1064.5h1V1068h-1zM1077 1064.5h1V1068h-1zM1081 1064.5h1V1068h-1zM1083 1064.5h2V1068h-2zM1086 1064.5h4V1068h-4zM1096 1064.5h1V1068h-1zM1098 1064.5h1V1068h-1zM1106 1064.5h1V1068h-1zM1108 1064.5h1V1068h-1zM1113 1064.5h1V1068h-1zM1120 1064.5h1V1068h-1zM1122 1064.5h2V1068h-2zM1129 1064.5h1V1068h-1zM1132 1064.5h1V1068h-1zM1136 1064.5h1V1068h-1zM1140 1064.5h1V1068h-1zM1142 1064.5h1V1068h-1zM1148 1064.5h1V1068h-1zM1151 1064.5h1V1068h-1zM1158 1064.5h1V1068h-1zM1161 1064.5h1V1068h-1zM1167 1064.5h2V1068h-2zM1176 1064.5h1V1068h-1zM1351 1064.5h1V1068h-1zM1364 1064.5h1V1068h-1zM1367 1064.5h1V1068h-1zM1371 1064.5h1V1068h-1zM1379 1064.5h1V1068h-1zM1386 1064.5h1V1068h-1zM1390 1064.5h3V1068h-3zM1402 1064.5h1V1068h-1zM1407 1064.5h1V1068h-1zM783 1060h2V1064.5h-2zM883 1060h1V1064.5h-1zM898 1060h1V1064.5h-1zM907 1060h2V1064.5h-2zM911 1060h1V1064.5h-1zM916 1060h2V1064.5h-2zM921 1060h1V1064.5h-1zM923 1060h4V1064.5h-4zM929 1060h1V1064.5h-1zM937 1060h1V1064.5h-1zM944 1060h1V1064.5h-1zM949 1060h2V1064.5h-2zM956 1060h1V1064.5h-1zM961 1060h2V1064.5h-2zM978 1060h1V1064.5h-1zM981 1060h1V1064.5h-1zM994 1060h1V1064.5h-1zM999 1060h1V1064.5h-1zM1002 1060h1V1064.5h-1zM1012 1060h1V1064.5h-1zM1016 1060h1V1064.5h-1zM1021 1060h1V1064.5h-1zM1028 1060h1V1064.5h-1zM1033 1060h1V1064.5h-1zM1038 1060h1V1064.5h-1zM1045 1060h3V1064.5h-3zM1049 1060h1V1064.5h-1zM1054 1060h1V1064.5h-1zM1057 1060h5V1064.5h-5zM1064 1060h1V1064.5h-1zM1067 1060h1V1064.5h-1zM1072 1060h1V1064.5h-1zM1081 1060h1V1064.5h-1zM1084 1060h1V1064.5h-1zM1087 1060h4V1064.5h-4zM1092 1060h1V1064.5h-1zM1106 1060h1V1064.5h-1zM1108 1060h1V1064.5h-1zM1121 1060h2V1064.5h-2zM1131 1060h1V1064.5h-1zM1135 1060h2V1064.5h-2zM1141 1060h1V1064.5h-1zM1144 1060h1V1064.5h-1zM1146 1060h1V1064.5h-1zM1148 1060h1V1064.5h-1zM1153 1060h1V1064.5h-1zM1157 1060h2V1064.5h-2zM1161 1060h1V1064.5h-1zM1163 1060h2V1064.5h-2zM1167 1060h3V1064.5h-3zM1176 1060h1V1064.5h-1zM1337 1060h1V1064.5h-1zM1351 1060h1V1064.5h-1zM1366 1060h2V1064.5h-2zM1371 1060h2V1064.5h-2zM1379 1060h1V1064.5h-1zM1385 1060h1V1064.5h-1zM1390 1060h1V1064.5h-1zM1392 1060h2V1064.5h-2zM1399 1060h2V1064.5h-2zM1402 1060h1V1064.5h-1zM783 1056.3h2V1060h-2zM881 1056.3h1V1060h-1zM891 1056.3h1V1060h-1zM897 1056.3h1V1060h-1zM903 1056.3h1V1060h-1zM907 1056.3h1V1060h-1zM911 1056.3h1V1060h-1zM916 1056.3h1V1060h-1zM924 1056.3h3V1060h-3zM929 1056.3h1V1060h-1zM936 1056.3h2V1060h-2zM948 1056.3h3V1060h-3zM957 1056.3h1V1060h-1zM982 1056.3h1V1060h-1zM1001 1056.3h2V1060h-2zM1006 1056.3h1V1060h-1zM1010 1056.3h1V1060h-1zM1015 1056.3h1V1060h-1zM1023 1056.3h1V1060h-1zM1028 1056.3h2V1060h-2zM1033 1056.3h1V1060h-1zM1040 1056.3h1V1060h-1zM1045 1056.3h2V1060h-2zM1052 1056.3h1V1060h-1zM1057 1056.3h5V1060h-5zM1063 1056.3h5V1060h-5zM1069 1056.3h1V1060h-1zM1071 1056.3h3V1060h-3zM1080 1056.3h1V1060h-1zM1084 1056.3h2V1060h-2zM1087 1056.3h4V1060h-4zM1096 1056.3h1V1060h-1zM1098 1056.3h2V1060h-2zM1104 1056.3h1V1060h-1zM1106 1056.3h1V1060h-1zM1120 1056.3h1V1060h-1zM1122 1056.3h1V1060h-1zM1127 1056.3h1V1060h-1zM1132 1056.3h1V1060h-1zM1135 1056.3h2V1060h-2zM1140 1056.3h1V1060h-1zM1142 1056.3h1V1060h-1zM1144 1056.3h1V1060h-1zM1148 1056.3h2V1060h-2zM1153 1056.3h1V1060h-1zM1157 1056.3h2V1060h-2zM1161 1056.3h2V1060h-2zM1164 1056.3h1V1060h-1zM1169 1056.3h1V1060h-1zM1175 1056.3h3V1060h-3zM1316 1056.3h1V1060h-1zM1337 1056.3h1V1060h-1zM1366 1056.3h2V1060h-2zM1370 1056.3h1V1060h-1zM1372 1056.3h1V1060h-1zM1378 1056.3h3V1060h-3zM1385 1056.3h2V1060h-2zM1390 1056.3h2V1060h-2zM1404 1056.3h1V1060h-1zM763 1052.2h1V1056.3h-1zM783 1052.2h1V1056.3h-1zM883 1052.2h1V1056.3h-1zM886 1052.2h1V1056.3h-1zM891 1052.2h1V1056.3h-1zM904 1052.2h1V1056.3h-1zM922 1052.2h3V1056.3h-3zM929 1052.2h1V1056.3h-1zM937 1052.2h1V1056.3h-1zM948 1052.2h1V1056.3h-1zM956 1052.2h2V1056.3h-2zM979 1052.2h2V1056.3h-2zM982 1052.2h1V1056.3h-1zM1002 1052.2h1V1056.3h-1zM1012 1052.2h1V1056.3h-1zM1021 1052.2h2V1056.3h-2zM1028 1052.2h2V1056.3h-2zM1053 1052.2h1V1056.3h-1zM1057 1052.2h3V1056.3h-3zM1061 1052.2h1V1056.3h-1zM1065 1052.2h1V1056.3h-1zM1068 1052.2h1V1056.3h-1zM1072 1052.2h1V1056.3h-1zM1079 1052.2h1V1056.3h-1zM1082 1052.2h7V1056.3h-7zM1093 1052.2h1V1056.3h-1zM1106 1052.2h4V1056.3h-4zM1112 1052.2h1V1056.3h-1zM1122 1052.2h1V1056.3h-1zM1127 1052.2h1V1056.3h-1zM1129 1052.2h1V1056.3h-1zM1131 1052.2h2V1056.3h-2zM1135 1052.2h2V1056.3h-2zM1138 1052.2h1V1056.3h-1zM1143 1052.2h2V1056.3h-2zM1148 1052.2h2V1056.3h-2zM1151 1052.2h1V1056.3h-1zM1153 1052.2h1V1056.3h-1zM1155 1052.2h1V1056.3h-1zM1157 1052.2h2V1056.3h-2zM1161 1052.2h5V1056.3h-5zM1167 1052.2h3V1056.3h-3zM1175 1052.2h2V1056.3h-2zM1309 1052.2h1V1056.3h-1zM1315 1052.2h2V1056.3h-2zM1321 1052.2h1V1056.3h-1zM1334 1052.2h1V1056.3h-1zM1337 1052.2h1V1056.3h-1zM1343 1052.2h1V1056.3h-1zM1364 1052.2h3V1056.3h-3zM1371 1052.2h2V1056.3h-2zM1378 1052.2h3V1056.3h-3zM1384 1052.2h1V1056.3h-1zM1386 1052.2h1V1056.3h-1zM1390 1052.2h3V1056.3h-3zM1399 1052.2h3V1056.3h-3zM1403 1052.2h2V1056.3h-2zM1407 1052.2h1V1056.3h-1zM761 1047.9h1V1052.2h-1zM763 1047.9h1V1052.2h-1zM891 1047.9h3V1052.2h-3zM903 1047.9h1V1052.2h-1zM907 1047.9h2V1052.2h-2zM917 1047.9h1V1052.2h-1zM924 1047.9h1V1052.2h-1zM929 1047.9h1V1052.2h-1zM937 1047.9h1V1052.2h-1zM948 1047.9h1V1052.2h-1zM962 1047.9h1V1052.2h-1zM977 1047.9h4V1052.2h-4zM982 1047.9h1V1052.2h-1zM1002 1047.9h1V1052.2h-1zM1012 1047.9h2V1052.2h-2zM1017 1047.9h1V1052.2h-1zM1029 1047.9h1V1052.2h-1zM1033 1047.9h1V1052.2h-1zM1040 1047.9h1V1052.2h-1zM1045 1047.9h1V1052.2h-1zM1052 1047.9h2V1052.2h-2zM1058 1047.9h1V1052.2h-1zM1060 1047.9h1V1052.2h-1zM1065 1047.9h5V1052.2h-5zM1072 1047.9h2V1052.2h-2zM1082 1047.9h1V1052.2h-1zM1084 1047.9h1V1052.2h-1zM1086 1047.9h3V1052.2h-3zM1096 1047.9h1V1052.2h-1zM1098 1047.9h1V1052.2h-1zM1101 1047.9h2V1052.2h-2zM1104 1047.9h2V1052.2h-2zM1108 1047.9h1V1052.2h-1zM1112 1047.9h2V1052.2h-2zM1122 1047.9h1V1052.2h-1zM1127 1047.9h1V1052.2h-1zM1131 1047.9h2V1052.2h-2zM1135 1047.9h1V1052.2h-1zM1138 1047.9h1V1052.2h-1zM1140 1047.9h1V1052.2h-1zM1143 1047.9h2V1052.2h-2zM1148 1047.9h2V1052.2h-2zM1153 1047.9h1V1052.2h-1zM1155 1047.9h1V1052.2h-1zM1157 1047.9h2V1052.2h-2zM1163 1047.9h1V1052.2h-1zM1165 1047.9h1V1052.2h-1zM1169 1047.9h1V1052.2h-1zM1175 1047.9h4V1052.2h-4zM1190 1047.9h1V1052.2h-1zM1296 1047.9h1V1052.2h-1zM1315 1047.9h2V1052.2h-2zM1321 1047.9h1V1052.2h-1zM1331 1047.9h1V1052.2h-1zM1334 1047.9h1V1052.2h-1zM1340 1047.9h1V1052.2h-1zM1343 1047.9h1V1052.2h-1zM1350 1047.9h2V1052.2h-2zM1364 1047.9h3V1052.2h-3zM1368 1047.9h1V1052.2h-1zM1377 1047.9h3V1052.2h-3zM1383 1047.9h1V1052.2h-1zM1385 1047.9h2V1052.2h-2zM1392 1047.9h1V1052.2h-1zM1394 1047.9h1V1052.2h-1zM1400 1047.9h3V1052.2h-3zM1404 1047.9h1V1052.2h-1zM761 1043.7h2V1047.9h-2zM891 1043.7h1V1047.9h-1zM893 1043.7h1V1047.9h-1zM904 1043.7h1V1047.9h-1zM908 1043.7h1V1047.9h-1zM911 1043.7h1V1047.9h-1zM917 1043.7h1V1047.9h-1zM924 1043.7h2V1047.9h-2zM937 1043.7h1V1047.9h-1zM957 1043.7h2V1047.9h-2zM979 1043.7h2V1047.9h-2zM1006 1043.7h1V1047.9h-1zM1017 1043.7h3V1047.9h-3zM1022 1043.7h2V1047.9h-2zM1046 1043.7h1V1047.9h-1zM1053 1043.7h1V1047.9h-1zM1057 1043.7h2V1047.9h-2zM1065 1043.7h1V1047.9h-1zM1068 1043.7h1V1047.9h-1zM1073 1043.7h1V1047.9h-1zM1080 1043.7h5V1047.9h-5zM1086 1043.7h1V1047.9h-1zM1097 1043.7h1V1047.9h-1zM1104 1043.7h2V1047.9h-2zM1107 1043.7h1V1047.9h-1zM1112 1043.7h1V1047.9h-1zM1122 1043.7h1V1047.9h-1zM1127 1043.7h1V1047.9h-1zM1132 1043.7h1V1047.9h-1zM1139 1043.7h2V1047.9h-2zM1144 1043.7h1V1047.9h-1zM1149 1043.7h1V1047.9h-1zM1152 1043.7h5V1047.9h-5zM1161 1043.7h2V1047.9h-2zM1164 1043.7h1V1047.9h-1zM1167 1043.7h1V1047.9h-1zM1189 1043.7h1V1047.9h-1zM1193 1043.7h1V1047.9h-1zM1285 1043.7h1V1047.9h-1zM1293 1043.7h1V1047.9h-1zM1297 1043.7h1V1047.9h-1zM1309 1043.7h1V1047.9h-1zM1311 1043.7h1V1047.9h-1zM1315 1043.7h2V1047.9h-2zM1320 1043.7h2V1047.9h-2zM1330 1043.7h2V1047.9h-2zM1333 1043.7h1V1047.9h-1zM1336 1043.7h1V1047.9h-1zM1339 1043.7h2V1047.9h-2zM1342 1043.7h2V1047.9h-2zM1363 1043.7h5V1047.9h-5zM1370 1043.7h3V1047.9h-3zM1380 1043.7h1V1047.9h-1zM1384 1043.7h2V1047.9h-2zM1390 1043.7h1V1047.9h-1zM1394 1043.7h1V1047.9h-1zM1399 1043.7h1V1047.9h-1zM1403 1043.7h2V1047.9h-2zM1407 1043.7h1V1047.9h-1zM892 1039.6h1V1043.7h-1zM903 1039.6h1V1043.7h-1zM907 1039.6h2V1043.7h-2zM924 1039.6h1V1043.7h-1zM977 1039.6h2V1043.7h-2zM1006 1039.6h1V1043.7h-1zM1017 1039.6h1V1043.7h-1zM1022 1039.6h2V1043.7h-2zM1029 1039.6h1V1043.7h-1zM1046 1039.6h1V1043.7h-1zM1052 1039.6h1V1043.7h-1zM1065 1039.6h2V1043.7h-2zM1068 1039.6h2V1043.7h-2zM1073 1039.6h1V1043.7h-1zM1082 1039.6h1V1043.7h-1zM1085 1039.6h2V1043.7h-2zM1088 1039.6h2V1043.7h-2zM1097 1039.6h1V1043.7h-1zM1099 1039.6h1V1043.7h-1zM1103 1039.6h2V1043.7h-2zM1112 1039.6h1V1043.7h-1zM1127 1039.6h1V1043.7h-1zM1129 1039.6h1V1043.7h-1zM1132 1039.6h1V1043.7h-1zM1137 1039.6h1V1043.7h-1zM1149 1039.6h1V1043.7h-1zM1151 1039.6h1V1043.7h-1zM1154 1039.6h3V1043.7h-3zM1158 1039.6h1V1043.7h-1zM1160 1039.6h1V1043.7h-1zM1163 1039.6h1V1043.7h-1zM1166 1039.6h1V1043.7h-1zM1174 1039.6h1V1043.7h-1zM1181 1039.6h1V1043.7h-1zM1190 1039.6h1V1043.7h-1zM1276 1039.6h1V1043.7h-1zM1279 1039.6h1V1043.7h-1zM1289 1039.6h2V1043.7h-2zM1293 1039.6h1V1043.7h-1zM1296 1039.6h1V1043.7h-1zM1310 1039.6h1V1043.7h-1zM1314 1039.6h1V1043.7h-1zM1316 1039.6h2V1043.7h-2zM1321 1039.6h2V1043.7h-2zM1327 1039.6h1V1043.7h-1zM1330 1039.6h2V1043.7h-2zM1334 1039.6h1V1043.7h-1zM1336 1039.6h1V1043.7h-1zM1339 1039.6h2V1043.7h-2zM1342 1039.6h2V1043.7h-2zM1345 1039.6h1V1043.7h-1zM1350 1039.6h1V1043.7h-1zM1352 1039.6h1V1043.7h-1zM1363 1039.6h1V1043.7h-1zM1366 1039.6h1V1043.7h-1zM1377 1039.6h1V1043.7h-1zM1379 1039.6h2V1043.7h-2zM1384 1039.6h1V1043.7h-1zM1399 1039.6h1V1043.7h-1zM1403 1039.6h1V1043.7h-1zM1405 1039.6h1V1043.7h-1zM892 1035.7h2V1039.6h-2zM978 1035.7h2V1039.6h-2zM1052 1035.7h2V1039.6h-2zM1080 1035.7h2V1039.6h-2zM1086 1035.7h2V1039.6h-2zM1102 1035.7h4V1039.6h-4zM1134 1035.7h6V1039.6h-6zM1154 1035.7h2V1039.6h-2zM1158 1035.7h4V1039.6h-4zM1164 1035.7h2V1039.6h-2zM1168 1035.7h2V1039.6h-2zM1174 1035.7h2V1039.6h-2zM1274 1035.7h2V1039.6h-2zM1292 1035.7h4V1039.6h-4zM1308 1035.7h6V1039.6h-6zM1320 1035.7h4V1039.6h-4zM1330 1035.7h2V1039.6h-2zM1342 1035.7h2V1039.6h-2zM1350 1035.7h2V1039.6h-2zM1364 1035.7h2V1039.6h-2zM1368 1035.7h2V1039.6h-2zM1372 1035.7h2V1039.6h-2zM1376 1035.7h2V1039.6h-2zM1382 1035.7h6V1039.6h-6zM1398 1035.7h2V1039.6h-2zM1402 1035.7h2V1039.6h-2zM1406 1035.7h2V1039.6h-2zM892 1031.6h2V1035.7h-2zM1028 1031.6h2V1035.7h-2zM1084 1031.6h2V1035.7h-2zM1102 1031.6h2V1035.7h-2zM1132 1031.6h2V1035.7h-2zM1148 1031.6h4V1035.7h-4zM1154 1031.6h8V1035.7h-8zM1164 1031.6h8V1035.7h-8zM1190 1031.6h4V1035.7h-4zM1274 1031.6h2V1035.7h-2zM1278 1031.6h2V1035.7h-2zM1284 1031.6h2V1035.7h-2zM1290 1031.6h2V1035.7h-2zM1294 1031.6h4V1035.7h-4zM1312 1031.6h4V1035.7h-4zM1320 1031.6h4V1035.7h-4zM1330 1031.6h6V1035.7h-6zM1346 1031.6h2V1035.7h-2zM1368 1031.6h6V1035.7h-6zM1376 1031.6h2V1035.7h-2zM1380 1031.6h4V1035.7h-4zM1386 1031.6h4V1035.7h-4zM1392 1031.6h2V1035.7h-2zM1398 1031.6h2V1035.7h-2zM1404 1031.6h4V1035.7h-4zM892 1027.6h2V1031.6h-2zM1052 1027.6h2V1031.6h-2zM1082 1027.6h2V1031.6h-2zM1104 1027.6h2V1031.6h-2zM1132 1027.6h2V1031.6h-2zM1138 1027.6h2V1031.6h-2zM1150 1027.6h4V1031.6h-4zM1158 1027.6h4V1031.6h-4zM1170 1027.6h6V1031.6h-6zM1178 1027.6h2V1031.6h-2zM1190 1027.6h2V1031.6h-2zM1194 1027.6h2V1031.6h-2zM1212 1027.6h2V1031.6h-2zM1244 1027.6h2V1031.6h-2zM1252 1027.6h2V1031.6h-2zM1256 1027.6h2V1031.6h-2zM1276 1027.6h2V1031.6h-2zM1284 1027.6h2V1031.6h-2zM1290 1027.6h4V1031.6h-4zM1296 1027.6h2V1031.6h-2zM1310 1027.6h8V1031.6h-8zM1320 1027.6h4V1031.6h-4zM1326 1027.6h2V1031.6h-2zM1332 1027.6h4V1031.6h-4zM1340 1027.6h8V1031.6h-8zM1360 1027.6h4V1031.6h-4zM1374 1027.6h2V1031.6h-2zM1378 1027.6h6V1031.6h-6zM1386 1027.6h6V1031.6h-6zM1394 1027.6h2V1031.6h-2zM1398 1027.6h2V1031.6h-2zM1404 1027.6h4V1031.6h-4zM1052 1023.6h2V1027.6h-2zM1164 1023.6h2V1027.6h-2zM1172 1023.6h2V1027.6h-2zM1180 1023.6h4V1027.6h-4zM1186 1023.6h6V1027.6h-6zM1210 1023.6h2V1027.6h-2zM1214 1023.6h2V1027.6h-2zM1240 1023.6h2V1027.6h-2zM1244 1023.6h2V1027.6h-2zM1256 1023.6h2V1027.6h-2zM1276 1023.6h4V1027.6h-4zM1282 1023.6h4V1027.6h-4zM1290 1023.6h2V1027.6h-2zM1296 1023.6h2V1027.6h-2zM1300 1023.6h2V1027.6h-2zM1306 1023.6h4V1027.6h-4zM1312 1023.6h8V1027.6h-8zM1326 1023.6h2V1027.6h-2zM1334 1023.6h2V1027.6h-2zM1340 1023.6h2V1027.6h-2zM1346 1023.6h2V1027.6h-2zM1352 1023.6h2V1027.6h-2zM1360 1023.6h4V1027.6h-4zM1368 1023.6h2V1027.6h-2zM1374 1023.6h2V1027.6h-2zM1380 1023.6h2V1027.6h-2zM1386 1023.6h4V1027.6h-4zM1152 1019.6h2V1023.6h-2zM1158 1019.6h2V1023.6h-2zM1172 1019.6h2V1023.6h-2zM1180 1019.6h4V1023.6h-4zM1186 1019.6h2V1023.6h-2zM1190 1019.6h4V1023.6h-4zM1220 1019.6h2V1023.6h-2zM1232 1019.6h2V1023.6h-2zM1250 1019.6h4V1023.6h-4zM1276 1019.6h4V1023.6h-4zM1282 1019.6h4V1023.6h-4zM1290 1019.6h4V1023.6h-4zM1296 1019.6h4V1023.6h-4zM1302 1019.6h2V1023.6h-2zM1308 1019.6h4V1023.6h-4zM1316 1019.6h6V1023.6h-6zM1326 1019.6h6V1023.6h-6zM1334 1019.6h2V1023.6h-2zM1346 1019.6h6V1023.6h-6zM1358 1019.6h8V1023.6h-8zM1368 1019.6h2V1023.6h-2zM1374 1019.6h2V1023.6h-2zM1380 1019.6h2V1023.6h-2zM1396 1019.6h2V1023.6h-2zM1102 1015.5h2V1019.6h-2zM1172 1015.5h26V1019.6h-26zM1210 1015.5h6V1019.6h-6zM1228 1015.5h2V1019.6h-2zM1236 1015.5h2V1019.6h-2zM1242 1015.5h2V1019.6h-2zM1248 1015.5h2V1019.6h-2zM1252 1015.5h2V1019.6h-2zM1258 1015.5h2V1019.6h-2zM1278 1015.5h4V1019.6h-4zM1284 1015.5h8V1019.6h-8zM1294 1015.5h4V1019.6h-4zM1300 1015.5h4V1019.6h-4zM1308 1015.5h2V1019.6h-2zM1316 1015.5h4V1019.6h-4zM1322 1015.5h8V1019.6h-8zM1340 1015.5h2V1019.6h-2zM1344 1015.5h6V1019.6h-6zM1358 1015.5h6V1019.6h-6zM1372 1015.5h4V1019.6h-4zM1380 1015.5h2V1019.6h-2zM1394 1015.5h6V1019.6h-6zM1406 1015.5h2V1019.6h-2zM1172 1011.2h2V1015.5h-2zM1184 1011.2h4V1015.5h-4zM1190 1011.2h4V1015.5h-4zM1198 1011.2h2V1015.5h-2zM1212 1011.2h6V1015.5h-6zM1220 1011.2h2V1015.5h-2zM1226 1011.2h2V1015.5h-2zM1232 1011.2h2V1015.5h-2zM1240 1011.2h8V1015.5h-8zM1252 1011.2h14V1015.5h-14zM1268 1011.2h8V1015.5h-8zM1280 1011.2h12V1015.5h-12zM1298 1011.2h12V1015.5h-12zM1312 1011.2h2V1015.5h-2zM1322 1011.2h2V1015.5h-2zM1326 1011.2h4V1015.5h-4zM1348 1011.2h2V1015.5h-2zM1356 1011.2h4V1015.5h-4zM1180 1007.2h10V1011.2h-10zM1196 1007.2h4V1011.2h-4zM1202 1007.2h4V1011.2h-4zM1208 1007.2h2V1011.2h-2zM1212 1007.2h4V1011.2h-4zM1220 1007.2h6V1011.2h-6zM1230 1007.2h2V1011.2h-2zM1236 1007.2h2V1011.2h-2zM1240 1007.2h2V1011.2h-2zM1250 1007.2h6V1011.2h-6zM1258 1007.2h4V1011.2h-4zM1266 1007.2h6V1011.2h-6zM1278 1007.2h4V1011.2h-4zM1286 1007.2h4V1011.2h-4zM1292 1007.2h4V1011.2h-4zM1306 1007.2h2V1011.2h-2zM1324 1007.2h2V1011.2h-2zM1348 1007.2h2V1011.2h-2zM1356 1007.2h4V1011.2h-4zM1396 1007.2h2V1011.2h-2zM1176 1003.1h2V1007.2h-2zM1184 1003.1h4V1007.2h-4zM1194 1003.1h2V1007.2h-2zM1198 1003.1h16V1007.2h-16zM1216 1003.1h4V1007.2h-4zM1226 1003.1h2V1007.2h-2zM1230 1003.1h2V1007.2h-2zM1234 1003.1h2V1007.2h-2zM1242 1003.1h6V1007.2h-6zM1256 1003.1h8V1007.2h-8zM1266 1003.1h2V1007.2h-2zM1270 1003.1h8V1007.2h-8zM1282 1003.1h2V1007.2h-2zM1308 1003.1h2V1007.2h-2zM1314 1003.1h2V1007.2h-2zM1318 1003.1h2V1007.2h-2zM1348 1003.1h2V1007.2h-2zM1354 1003.1h2V1007.2h-2zM1360 1003.1h2V1007.2h-2zM1388 1003.1h2V1007.2h-2zM1180 999h6V1003.1h-6zM1196 999h2V1003.1h-2zM1200 999h6V1003.1h-6zM1208 999h2V1003.1h-2zM1216 999h2V1003.1h-2zM1230 999h2V1003.1h-2zM1236 999h6V1003.1h-6zM1246 999h2V1003.1h-2zM1254 999h2V1003.1h-2zM1258 999h4V1003.1h-4zM1264 999h2V1003.1h-2zM1272 999h2V1003.1h-2zM1288 999h2V1003.1h-2zM1300 999h2V1003.1h-2zM1324 999h2V1003.1h-2zM1200 995h2V999h-2zM1204 995h2V999h-2zM1208 995h2V999h-2zM1214 995h2V999h-2zM1232 995h2V999h-2zM1244 995h2V999h-2zM1254 995h2V999h-2zM1264 995h4V999h-4zM1276 995h2V999h-2zM1196 990.9h2V995h-2zM1206 990.9h6V995h-6zM1218 990.9h2V995h-2zM1222 990.9h2V995h-2zM1246 990.9h4V995h-4zM1202 986.8h2V990.9h-2zM1224 986.8h2V990.9h-2zM1264 986.8h2V990.9h-2zM1270 986.8h2V990.9h-2z"/><path fill="#0024ff" d="M750 1113.2h2V1122h-2zM777 1113.2h1V1122h-1zM790 1113.2h1V1122h-1zM802 1113.2h2V1122h-2zM811 1113.2h1V1122h-1zM814 1113.2h1V1122h-1zM852 1113.2h1V1122h-1zM872 1113.2h1V1122h-1zM878 1113.2h1V1122h-1zM884 1113.2h1V1122h-1zM894 1113.2h1V1122h-1zM896 1113.2h1V1122h-1zM901 1113.2h1V1122h-1zM909 1113.2h2V1122h-2zM918 1113.2h1V1122h-1zM921 1113.2h1V1122h-1zM931 1113.2h1V1122h-1zM943 1113.2h1V1122h-1zM954 1113.2h2V1122h-2zM958 1113.2h1V1122h-1zM961 1113.2h1V1122h-1zM963 1113.2h1V1122h-1zM969 1113.2h1V1122h-1zM983 1113.2h2V1122h-2zM997 1113.2h1V1122h-1zM1001 1113.2h1V1122h-1zM1007 1113.2h1V1122h-1zM1009 1113.2h1V1122h-1zM1011 1113.2h1V1122h-1zM1013 1113.2h2V1122h-2zM1016 1113.2h1V1122h-1zM1019 1113.2h1V1122h-1zM1037 1113.2h1V1122h-1zM1040 1113.2h1V1122h-1zM1047 1113.2h1V1122h-1zM1049 1113.2h1V1122h-1zM1054 1113.2h1V1122h-1zM1070 1113.2h1V1122h-1zM1094 1113.2h3V1122h-3zM1101 1113.2h1V1122h-1zM1109 1113.2h3V1122h-3zM1120 1113.2h2V1122h-2zM1123 1113.2h1V1122h-1zM1126 1113.2h1V1122h-1zM1128 1113.2h1V1122h-1zM1141 1113.2h2V1122h-2zM1176 1113.2h1V1122h-1zM1367 1113.2h1V1122h-1zM1392 1113.2h2V1122h-2zM1402 1113.2h1V1122h-1zM774 1101.8h1V1113.2h-1zM778 1101.8h1V1113.2h-1zM789 1101.8h1V1113.2h-1zM803 1101.8h1V1113.2h-1zM807 1101.8h1V1113.2h-1zM810 1101.8h2V1113.2h-2zM814 1101.8h1V1113.2h-1zM863 1101.8h1V1113.2h-1zM871 1101.8h2V1113.2h-2zM882 1101.8h1V1113.2h-1zM886 1101.8h1V1113.2h-1zM894 1101.8h1V1113.2h-1zM896 1101.8h3V1113.2h-3zM910 1101.8h1V1113.2h-1zM918 1101.8h1V1113.2h-1zM928 1101.8h1V1113.2h-1zM930 1101.8h2V1113.2h-2zM938 1101.8h1V1113.2h-1zM946 1101.8h1V1113.2h-1zM954 1101.8h2V1113.2h-2zM960 1101.8h1V1113.2h-1zM963 1101.8h1V1113.2h-1zM969 1101.8h1V1113.2h-1zM976 1101.8h1V1113.2h-1zM995 1101.8h1V1113.2h-1zM998 1101.8h2V1113.2h-2zM1002 1101.8h1V1113.2h-1zM1005 1101.8h1V1113.2h-1zM1008 1101.8h2V1113.2h-2zM1011 1101.8h1V1113.2h-1zM1024 1101.8h1V1113.2h-1zM1030 1101.8h1V1113.2h-1zM1037 1101.8h1V1113.2h-1zM1040 1101.8h1V1113.2h-1zM1047 1101.8h1V1113.2h-1zM1054 1101.8h1V1113.2h-1zM1064 1101.8h1V1113.2h-1zM1070 1101.8h2V1113.2h-2zM1074 1101.8h1V1113.2h-1zM1090 1101.8h1V1113.2h-1zM1092 1101.8h1V1113.2h-1zM1094 1101.8h2V1113.2h-2zM1109 1101.8h2V1113.2h-2zM1120 1101.8h2V1113.2h-2zM1126 1101.8h1V1113.2h-1zM1141 1101.8h2V1113.2h-2zM1145 1101.8h1V1113.2h-1zM1147 1101.8h1V1113.2h-1zM1167 1101.8h2V1113.2h-2zM1367 1101.8h1V1113.2h-1zM1371 1101.8h1V1113.2h-1zM1392 1101.8h1V1113.2h-1zM1400 1101.8h1V1113.2h-1zM750 1094.4h1V1101.8h-1zM777 1094.4h1V1101.8h-1zM789 1094.4h1V1101.8h-1zM811 1094.4h1V1101.8h-1zM852 1094.4h1V1101.8h-1zM870 1094.4h2V1101.8h-2zM883 1094.4h1V1101.8h-1zM894 1094.4h1V1101.8h-1zM897 1094.4h2V1101.8h-2zM901 1094.4h1V1101.8h-1zM910 1094.4h1V1101.8h-1zM916 1094.4h1V1101.8h-1zM922 1094.4h1V1101.8h-1zM934 1094.4h1V1101.8h-1zM944 1094.4h1V1101.8h-1zM949 1094.4h1V1101.8h-1zM954 1094.4h1V1101.8h-1zM958 1094.4h1V1101.8h-1zM969 1094.4h1V1101.8h-1zM983 1094.4h1V1101.8h-1zM994 1094.4h2V1101.8h-2zM999 1094.4h1V1101.8h-1zM1002 1094.4h1V1101.8h-1zM1009 1094.4h2V1101.8h-2zM1012 1094.4h1V1101.8h-1zM1014 1094.4h1V1101.8h-1zM1019 1094.4h1V1101.8h-1zM1024 1094.4h1V1101.8h-1zM1028 1094.4h1V1101.8h-1zM1032 1094.4h1V1101.8h-1zM1040 1094.4h1V1101.8h-1zM1047 1094.4h3V1101.8h-3zM1051 1094.4h1V1101.8h-1zM1054 1094.4h1V1101.8h-1zM1064 1094.4h1V1101.8h-1zM1067 1094.4h1V1101.8h-1zM1070 1094.4h1V1101.8h-1zM1089 1094.4h1V1101.8h-1zM1100 1094.4h2V1101.8h-2zM1109 1094.4h3V1101.8h-3zM1121 1094.4h1V1101.8h-1zM1123 1094.4h1V1101.8h-1zM1126 1094.4h1V1101.8h-1zM1128 1094.4h1V1101.8h-1zM1145 1094.4h1V1101.8h-1zM1147 1094.4h1V1101.8h-1zM1167 1094.4h1V1101.8h-1zM1351 1094.4h1V1101.8h-1zM1367 1094.4h1V1101.8h-1zM1371 1094.4h1V1101.8h-1zM1379 1094.4h1V1101.8h-1zM1391 1094.4h2V1101.8h-2zM1402 1094.4h1V1101.8h-1zM881 1088.8h1V1094.4h-1zM897 1088.8h1V1094.4h-1zM910 1088.8h1V1094.4h-1zM916 1088.8h1V1094.4h-1zM923 1088.8h2V1094.4h-2zM926 1088.8h1V1094.4h-1zM930 1088.8h1V1094.4h-1zM945 1088.8h2V1094.4h-2zM950 1088.8h1V1094.4h-1zM954 1088.8h1V1094.4h-1zM999 1088.8h2V1094.4h-2zM1002 1088.8h1V1094.4h-1zM1009 1088.8h1V1094.4h-1zM1012 1088.8h3V1094.4h-3zM1019 1088.8h1V1094.4h-1zM1028 1088.8h1V1094.4h-1zM1039 1088.8h1V1094.4h-1zM1049 1088.8h1V1094.4h-1zM1057 1088.8h1V1094.4h-1zM1059 1088.8h3V1094.4h-3zM1068 1088.8h1V1094.4h-1zM1070 1088.8h1V1094.4h-1zM1072 1088.8h1V1094.4h-1zM1074 1088.8h1V1094.4h-1zM1079 1088.8h1V1094.4h-1zM1088 1088.8h2V1094.4h-2zM1093 1088.8h4V1094.4h-4zM1100 1088.8h2V1094.4h-2zM1106 1088.8h1V1094.4h-1zM1108 1088.8h1V1094.4h-1zM1117 1088.8h1V1094.4h-1zM1122 1088.8h2V1094.4h-2zM1125 1088.8h1V1094.4h-1zM1142 1088.8h1V1094.4h-1zM1157 1088.8h1V1094.4h-1zM1161 1088.8h1V1094.4h-1zM1167 1088.8h1V1094.4h-1zM1337 1088.8h2V1094.4h-2zM1351 1088.8h1V1094.4h-1zM1367 1088.8h1V1094.4h-1zM1371 1088.8h1V1094.4h-1zM1379 1088.8h1V1094.4h-1zM1383 1088.8h1V1094.4h-1zM1392 1088.8h2V1094.4h-2zM1400 1088.8h2V1094.4h-2zM778 1084.4h1V1088.8h-1zM876 1084.4h1V1088.8h-1zM878 1084.4h1V1088.8h-1zM881 1084.4h3V1088.8h-3zM897 1084.4h1V1088.8h-1zM911 1084.4h1V1088.8h-1zM916 1084.4h2V1088.8h-2zM924 1084.4h1V1088.8h-1zM926 1084.4h1V1088.8h-1zM937 1084.4h1V1088.8h-1zM945 1084.4h1V1088.8h-1zM947 1084.4h2V1088.8h-2zM950 1084.4h1V1088.8h-1zM954 1084.4h1V1088.8h-1zM956 1084.4h1V1088.8h-1zM961 1084.4h1V1088.8h-1zM994 1084.4h1V1088.8h-1zM999 1084.4h1V1088.8h-1zM1006 1084.4h2V1088.8h-2zM1012 1084.4h3V1088.8h-3zM1028 1084.4h1V1088.8h-1zM1032 1084.4h2V1088.8h-2zM1037 1084.4h1V1088.8h-1zM1040 1084.4h1V1088.8h-1zM1046 1084.4h2V1088.8h-2zM1049 1084.4h1V1088.8h-1zM1057 1084.4h1V1088.8h-1zM1060 1084.4h1V1088.8h-1zM1062 1084.4h1V1088.8h-1zM1068 1084.4h2V1088.8h-2zM1079 1084.4h1V1088.8h-1zM1081 1084.4h1V1088.8h-1zM1087 1084.4h1V1088.8h-1zM1090 1084.4h2V1088.8h-2zM1093 1084.4h2V1088.8h-2zM1096 1084.4h1V1088.8h-1zM1100 1084.4h1V1088.8h-1zM1106 1084.4h1V1088.8h-1zM1108 1084.4h1V1088.8h-1zM1113 1084.4h1V1088.8h-1zM1123 1084.4h1V1088.8h-1zM1131 1084.4h1V1088.8h-1zM1135 1084.4h2V1088.8h-2zM1140 1084.4h1V1088.8h-1zM1142 1084.4h1V1088.8h-1zM1153 1084.4h1V1088.8h-1zM1157 1084.4h1V1088.8h-1zM1161 1084.4h1V1088.8h-1zM1164 1084.4h1V1088.8h-1zM1167 1084.4h2V1088.8h-2zM1175 1084.4h1V1088.8h-1zM1177 1084.4h1V1088.8h-1zM1337 1084.4h1V1088.8h-1zM1364 1084.4h1V1088.8h-1zM1366 1084.4h2V1088.8h-2zM1379 1084.4h1V1088.8h-1zM1390 1084.4h2V1088.8h-2zM1394 1084.4h1V1088.8h-1zM1402 1084.4h1V1088.8h-1zM778 1080.7h1V1084.4h-1zM789 1080.7h1V1084.4h-1zM871 1080.7h1V1084.4h-1zM891 1080.7h1V1084.4h-1zM897 1080.7h1V1084.4h-1zM916 1080.7h2V1084.4h-2zM921 1080.7h1V1084.4h-1zM931 1080.7h1V1084.4h-1zM949 1080.7h1V1084.4h-1zM956 1080.7h3V1084.4h-3zM962 1080.7h1V1084.4h-1zM977 1080.7h1V1084.4h-1zM980 1080.7h1V1084.4h-1zM994 1080.7h1V1084.4h-1zM1006 1080.7h1V1084.4h-1zM1010 1080.7h1V1084.4h-1zM1013 1080.7h2V1084.4h-2zM1021 1080.7h1V1084.4h-1zM1028 1080.7h1V1084.4h-1zM1033 1080.7h1V1084.4h-1zM1045 1080.7h1V1084.4h-1zM1047 1080.7h1V1084.4h-1zM1056 1080.7h1V1084.4h-1zM1059 1080.7h1V1084.4h-1zM1061 1080.7h1V1084.4h-1zM1067 1080.7h1V1084.4h-1zM1069 1080.7h1V1084.4h-1zM1083 1080.7h1V1084.4h-1zM1088 1080.7h1V1084.4h-1zM1090 1080.7h1V1084.4h-1zM1096 1080.7h1V1084.4h-1zM1112 1080.7h2V1084.4h-2zM1128 1080.7h1V1084.4h-1zM1140 1080.7h1V1084.4h-1zM1148 1080.7h2V1084.4h-2zM1151 1080.7h1V1084.4h-1zM1161 1080.7h1V1084.4h-1zM1163 1080.7h2V1084.4h-2zM1167 1080.7h1V1084.4h-1zM1175 1080.7h2V1084.4h-2zM1321 1080.7h1V1084.4h-1zM1342 1080.7h1V1084.4h-1zM1370 1080.7h2V1084.4h-2zM1383 1080.7h4V1084.4h-4zM1390 1080.7h1V1084.4h-1zM1402 1080.7h1V1084.4h-1zM883 1077.5h1V1080.7h-1zM897 1077.5h1V1080.7h-1zM907 1077.5h1V1080.7h-1zM911 1077.5h1V1080.7h-1zM916 1077.5h1V1080.7h-1zM923 1077.5h1V1080.7h-1zM936 1077.5h1V1080.7h-1zM949 1077.5h2V1080.7h-2zM956 1077.5h1V1080.7h-1zM962 1077.5h1V1080.7h-1zM1002 1077.5h1V1080.7h-1zM1010 1077.5h1V1080.7h-1zM1028 1077.5h2V1080.7h-2zM1032 1077.5h2V1080.7h-2zM1046 1077.5h1V1080.7h-1zM1056 1077.5h1V1080.7h-1zM1058 1077.5h1V1080.7h-1zM1061 1077.5h1V1080.7h-1zM1066 1077.5h2V1080.7h-2zM1069 1077.5h1V1080.7h-1zM1073 1077.5h1V1080.7h-1zM1081 1077.5h3V1080.7h-3zM1087 1077.5h1V1080.7h-1zM1100 1077.5h1V1080.7h-1zM1106 1077.5h1V1080.7h-1zM1111 1077.5h1V1080.7h-1zM1122 1077.5h2V1080.7h-2zM1129 1077.5h1V1080.7h-1zM1131 1077.5h1V1080.7h-1zM1135 1077.5h2V1080.7h-2zM1146 1077.5h4V1080.7h-4zM1157 1077.5h2V1080.7h-2zM1164 1077.5h1V1080.7h-1zM1167 1077.5h3V1080.7h-3zM1175 1077.5h2V1080.7h-2zM1321 1077.5h1V1080.7h-1zM1338 1077.5h1V1080.7h-1zM1342 1077.5h2V1080.7h-2zM1364 1077.5h1V1080.7h-1zM1367 1077.5h2V1080.7h-2zM1371 1077.5h2V1080.7h-2zM1383 1077.5h1V1080.7h-1zM1385 1077.5h2V1080.7h-2zM1390 1077.5h1V1080.7h-1zM1399 1077.5h1V1080.7h-1zM1401 1077.5h1V1080.7h-1zM881 1072.3h1V1077.5h-1zM883 1072.3h1V1077.5h-1zM891 1072.3h1V1077.5h-1zM903 1072.3h1V1077.5h-1zM911 1072.3h1V1077.5h-1zM916 1072.3h2V1077.5h-2zM923 1072.3h2V1077.5h-2zM929 1072.3h1V1077.5h-1zM931 1072.3h1V1077.5h-1zM936 1072.3h1V1077.5h-1zM948 1072.3h2V1077.5h-2zM956 1072.3h2V1077.5h-2zM962 1072.3h1V1077.5h-1zM977 1072.3h1V1077.5h-1zM980 1072.3h3V1077.5h-3zM997 1072.3h1V1077.5h-1zM1006 1072.3h1V1077.5h-1zM1013 1072.3h1V1077.5h-1zM1021 1072.3h2V1077.5h-2zM1028 1072.3h1V1077.5h-1zM1032 1072.3h2V1077.5h-2zM1049 1072.3h1V1077.5h-1zM1059 1072.3h1V1077.5h-1zM1062 1072.3h1V1077.5h-1zM1064 1072.3h1V1077.5h-1zM1067 1072.3h1V1077.5h-1zM1069 1072.3h1V1077.5h-1zM1072 1072.3h1V1077.5h-1zM1081 1072.3h1V1077.5h-1zM1083 1072.3h1V1077.5h-1zM1088 1072.3h1V1077.5h-1zM1090 1072.3h1V1077.5h-1zM1106 1072.3h3V1077.5h-3zM1121 1072.3h2V1077.5h-2zM1129 1072.3h1V1077.5h-1zM1132 1072.3h1V1077.5h-1zM1148 1072.3h2V1077.5h-2zM1155 1072.3h1V1077.5h-1zM1157 1072.3h2V1077.5h-2zM1161 1072.3h3V1077.5h-3zM1169 1072.3h1V1077.5h-1zM1176 1072.3h1V1077.5h-1zM1316 1072.3h1V1077.5h-1zM1321 1072.3h1V1077.5h-1zM1331 1072.3h1V1077.5h-1zM1337 1072.3h1V1077.5h-1zM1339 1072.3h1V1077.5h-1zM1342 1072.3h1V1077.5h-1zM1364 1072.3h1V1077.5h-1zM1366 1072.3h2V1077.5h-2zM1383 1072.3h1V1077.5h-1zM1385 1072.3h1V1077.5h-1zM1399 1072.3h1V1077.5h-1zM1401 1072.3h1V1077.5h-1zM1407 1072.3h1V1077.5h-1zM783 1068h2V1072.3h-2zM881 1068h1V1072.3h-1zM883 1068h1V1072.3h-1zM904 1068h1V1072.3h-1zM907 1068h2V1072.3h-2zM911 1068h1V1072.3h-1zM924 1068h3V1072.3h-3zM929 1068h1V1072.3h-1zM936 1068h2V1072.3h-2zM948 1068h1V1072.3h-1zM956 1068h2V1072.3h-2zM980 1068h1V1072.3h-1zM982 1068h1V1072.3h-1zM1006 1068h1V1072.3h-1zM1023 1068h1V1072.3h-1zM1032 1068h1V1072.3h-1zM1046 1068h1V1072.3h-1zM1056 1068h1V1072.3h-1zM1058 1068h2V1072.3h-2zM1061 1068h1V1072.3h-1zM1067 1068h2V1072.3h-2zM1073 1068h1V1072.3h-1zM1079 1068h3V1072.3h-3zM1087 1068h1V1072.3h-1zM1089 1068h1V1072.3h-1zM1097 1068h2V1072.3h-2zM1106 1068h1V1072.3h-1zM1112 1068h1V1072.3h-1zM1122 1068h1V1072.3h-1zM1128 1068h2V1072.3h-2zM1136 1068h1V1072.3h-1zM1138 1068h1V1072.3h-1zM1140 1068h1V1072.3h-1zM1148 1068h1V1072.3h-1zM1151 1068h1V1072.3h-1zM1153 1068h1V1072.3h-1zM1161 1068h2V1072.3h-2zM1175 1068h2V1072.3h-2zM1284 1068h1V1072.3h-1zM1311 1068h1V1072.3h-1zM1316 1068h1V1072.3h-1zM1333 1068h2V1072.3h-2zM1336 1068h1V1072.3h-1zM1339 1068h2V1072.3h-2zM1342 1068h1V1072.3h-1zM1350 1068h1V1072.3h-1zM1364 1068h1V1072.3h-1zM1370 1068h1V1072.3h-1zM1372 1068h1V1072.3h-1zM1380 1068h1V1072.3h-1zM1384 1068h1V1072.3h-1zM1393 1068h2V1072.3h-2zM1399 1068h1V1072.3h-1zM1402 1068h1V1072.3h-1zM1404 1068h1V1072.3h-1zM783 1064.5h1V1068h-1zM893 1064.5h1V1068h-1zM904 1064.5h1V1068h-1zM907 1064.5h2V1068h-2zM911 1064.5h1V1068h-1zM926 1064.5h1V1068h-1zM929 1064.5h1V1068h-1zM948 1064.5h1V1068h-1zM957 1064.5h1V1068h-1zM982 1064.5h1V1068h-1zM1018 1064.5h1V1068h-1zM1022 1064.5h1V1068h-1zM1029 1064.5h1V1068h-1zM1045 1064.5h2V1068h-2zM1058 1064.5h2V1068h-2zM1065 1064.5h5V1068h-5zM1073 1064.5h1V1068h-1zM1079 1064.5h2V1068h-2zM1082 1064.5h1V1068h-1zM1097 1064.5h1V1068h-1zM1099 1064.5h2V1068h-2zM1104 1064.5h1V1068h-1zM1107 1064.5h1V1068h-1zM1112 1064.5h1V1068h-1zM1128 1064.5h1V1068h-1zM1131 1064.5h1V1068h-1zM1135 1064.5h1V1068h-1zM1144 1064.5h1V1068h-1zM1150 1064.5h1V1068h-1zM1153 1064.5h1V1068h-1zM1157 1064.5h1V1068h-1zM1162 1064.5h1V1068h-1zM1169 1064.5h1V1068h-1zM1174 1064.5h1V1068h-1zM1190 1064.5h1V1068h-1zM1193 1064.5h1V1068h-1zM1284 1064.5h1V1068h-1zM1293 1064.5h1V1068h-1zM1311 1064.5h1V1068h-1zM1316 1064.5h1V1068h-1zM1321 1064.5h1V1068h-1zM1333 1064.5h2V1068h-2zM1336 1064.5h4V1068h-4zM1342 1064.5h2V1068h-2zM1350 1064.5h1V1068h-1zM1352 1064.5h1V1068h-1zM1366 1064.5h1V1068h-1zM1372 1064.5h1V1068h-1zM1378 1064.5h1V1068h-1zM1380 1064.5h1V1068h-1zM1383 1064.5h3V1068h-3zM1399 1064.5h2V1068h-2zM763 1060h1V1064.5h-1zM891 1060h1V1064.5h-1zM893 1060h1V1064.5h-1zM903 1060h1V1064.5h-1zM948 1060h1V1064.5h-1zM957 1060h1V1064.5h-1zM977 1060h1V1064.5h-1zM979 1060h1V1064.5h-1zM982 1060h1V1064.5h-1zM1006 1060h1V1064.5h-1zM1017 1060h1V1064.5h-1zM1023 1060h1V1064.5h-1zM1029 1060h1V1064.5h-1zM1065 1060h2V1064.5h-2zM1068 1060h2V1064.5h-2zM1073 1060h1V1064.5h-1zM1079 1060h2V1064.5h-2zM1082 1060h2V1064.5h-2zM1085 1060h1V1064.5h-1zM1097 1060h3V1064.5h-3zM1102 1060h1V1064.5h-1zM1104 1060h2V1064.5h-2zM1107 1060h1V1064.5h-1zM1112 1060h2V1064.5h-2zM1127 1060h1V1064.5h-1zM1129 1060h1V1064.5h-1zM1132 1060h1V1064.5h-1zM1137 1060h2V1064.5h-2zM1140 1060h1V1064.5h-1zM1149 1060h1V1064.5h-1zM1151 1060h1V1064.5h-1zM1155 1060h1V1064.5h-1zM1162 1060h1V1064.5h-1zM1166 1060h1V1064.5h-1zM1174 1060h1V1064.5h-1zM1178 1060h1V1064.5h-1zM1189 1060h1V1064.5h-1zM1275 1060h1V1064.5h-1zM1278 1060h2V1064.5h-2zM1284 1060h2V1064.5h-2zM1293 1060h1V1064.5h-1zM1296 1060h1V1064.5h-1zM1309 1060h3V1064.5h-3zM1316 1060h1V1064.5h-1zM1321 1060h1V1064.5h-1zM1330 1060h2V1064.5h-2zM1334 1060h1V1064.5h-1zM1338 1060h1V1064.5h-1zM1342 1060h2V1064.5h-2zM1352 1060h1V1064.5h-1zM1364 1060h2V1064.5h-2zM1370 1060h1V1064.5h-1zM1377 1060h1V1064.5h-1zM1380 1060h1V1064.5h-1zM1383 1060h2V1064.5h-2zM1391 1060h1V1064.5h-1zM1405 1060h1V1064.5h-1zM1407 1060h1V1064.5h-1zM761 1056.3h1V1060h-1zM763 1056.3h1V1060h-1zM893 1056.3h1V1060h-1zM904 1056.3h1V1060h-1zM908 1056.3h1V1060h-1zM917 1056.3h1V1060h-1zM923 1056.3h1V1060h-1zM977 1056.3h2V1060h-2zM1012 1056.3h1V1060h-1zM1018 1056.3h1V1060h-1zM1022 1056.3h1V1060h-1zM1032 1056.3h1V1060h-1zM1079 1056.3h1V1060h-1zM1081 1056.3h2V1060h-2zM1086 1056.3h1V1060h-1zM1097 1056.3h1V1060h-1zM1105 1056.3h1V1060h-1zM1107 1056.3h1V1060h-1zM1112 1056.3h1V1060h-1zM1129 1056.3h2V1060h-2zM1133 1056.3h1V1060h-1zM1138 1056.3h2V1060h-2zM1151 1056.3h2V1060h-2zM1155 1056.3h2V1060h-2zM1163 1056.3h1V1060h-1zM1165 1056.3h4V1060h-4zM1174 1056.3h1V1060h-1zM1178 1056.3h1V1060h-1zM1188 1056.3h2V1060h-2zM1193 1056.3h1V1060h-1zM1278 1056.3h1V1060h-1zM1284 1056.3h2V1060h-2zM1290 1056.3h1V1060h-1zM1293 1056.3h1V1060h-1zM1311 1056.3h1V1060h-1zM1314 1056.3h1V1060h-1zM1320 1056.3h1V1060h-1zM1331 1056.3h1V1060h-1zM1338 1056.3h3V1060h-3zM1342 1056.3h2V1060h-2zM1351 1056.3h2V1060h-2zM1364 1056.3h1V1060h-1zM1377 1056.3h1V1060h-1zM1383 1056.3h2V1060h-2zM1389 1056.3h1V1060h-1zM1393 1056.3h1V1060h-1zM1400 1056.3h1V1060h-1zM1403 1056.3h1V1060h-1zM1407 1056.3h1V1060h-1zM761 1052.2h1V1056.3h-1zM892 1052.2h2V1056.3h-2zM903 1052.2h1V1056.3h-1zM907 1052.2h1V1056.3h-1zM925 1052.2h1V1056.3h-1zM977 1052.2h2V1056.3h-2zM1017 1052.2h2V1056.3h-2zM1023 1052.2h1V1056.3h-1zM1046 1052.2h1V1056.3h-1zM1052 1052.2h1V1056.3h-1zM1066 1052.2h1V1056.3h-1zM1069 1052.2h1V1056.3h-1zM1080 1052.2h2V1056.3h-2zM1097 1052.2h1V1056.3h-1zM1099 1052.2h1V1056.3h-1zM1102 1052.2h1V1056.3h-1zM1104 1052.2h1V1056.3h-1zM1139 1052.2h1V1056.3h-1zM1154 1052.2h1V1056.3h-1zM1156 1052.2h1V1056.3h-1zM1160 1052.2h1V1056.3h-1zM1166 1052.2h1V1056.3h-1zM1178 1052.2h1V1056.3h-1zM1190 1052.2h1V1056.3h-1zM1192 1052.2h2V1056.3h-2zM1249 1052.2h1V1056.3h-1zM1275 1052.2h2V1056.3h-2zM1284 1052.2h1V1056.3h-1zM1286 1052.2h1V1056.3h-1zM1293 1052.2h1V1056.3h-1zM1296 1052.2h2V1056.3h-2zM1310 1052.2h1V1056.3h-1zM1312 1052.2h1V1056.3h-1zM1314 1052.2h1V1056.3h-1zM1322 1052.2h1V1056.3h-1zM1330 1052.2h2V1056.3h-2zM1339 1052.2h1V1056.3h-1zM1352 1052.2h1V1056.3h-1zM1368 1052.2h1V1056.3h-1zM1370 1052.2h1V1056.3h-1zM1377 1052.2h1V1056.3h-1zM1382 1052.2h1V1056.3h-1zM1385 1052.2h1V1056.3h-1zM1405 1052.2h1V1056.3h-1zM762 1047.9h1V1052.2h-1zM1080 1047.9h1V1052.2h-1zM1085 1047.9h1V1052.2h-1zM1097 1047.9h1V1052.2h-1zM1099 1047.9h1V1052.2h-1zM1107 1047.9h1V1052.2h-1zM1130 1047.9h1V1052.2h-1zM1137 1047.9h1V1052.2h-1zM1139 1047.9h1V1052.2h-1zM1150 1047.9h3V1052.2h-3zM1154 1047.9h1V1052.2h-1zM1156 1047.9h1V1052.2h-1zM1159 1047.9h2V1052.2h-2zM1167 1047.9h1V1052.2h-1zM1170 1047.9h1V1052.2h-1zM1181 1047.9h1V1052.2h-1zM1187 1047.9h1V1052.2h-1zM1189 1047.9h1V1052.2h-1zM1192 1047.9h2V1052.2h-2zM1228 1047.9h1V1052.2h-1zM1274 1047.9h2V1052.2h-2zM1279 1047.9h1V1052.2h-1zM1284 1047.9h2V1052.2h-2zM1289 1047.9h2V1052.2h-2zM1294 1047.9h1V1052.2h-1zM1297 1047.9h1V1052.2h-1zM1300 1047.9h1V1052.2h-1zM1309 1047.9h1V1052.2h-1zM1317 1047.9h1V1052.2h-1zM1320 1047.9h1V1052.2h-1zM1322 1047.9h1V1052.2h-1zM1330 1047.9h1V1052.2h-1zM1332 1047.9h2V1052.2h-2zM1335 1047.9h5V1052.2h-5zM1352 1047.9h1V1052.2h-1zM1363 1047.9h1V1052.2h-1zM1370 1047.9h1V1052.2h-1zM1372 1047.9h1V1052.2h-1zM1375 1047.9h1V1052.2h-1zM1380 1047.9h1V1052.2h-1zM1382 1047.9h1V1052.2h-1zM1384 1047.9h1V1052.2h-1zM1389 1047.9h1V1052.2h-1zM1399 1047.9h1V1052.2h-1zM1405 1047.9h1V1052.2h-1zM1407 1047.9h1V1052.2h-1zM892 1043.7h1V1047.9h-1zM1052 1043.7h1V1047.9h-1zM1066 1043.7h1V1047.9h-1zM1069 1043.7h1V1047.9h-1zM1085 1043.7h1V1047.9h-1zM1099 1043.7h1V1047.9h-1zM1102 1043.7h2V1047.9h-2zM1130 1043.7h1V1047.9h-1zM1133 1043.7h1V1047.9h-1zM1137 1043.7h2V1047.9h-2zM1143 1043.7h1V1047.9h-1zM1150 1043.7h1V1047.9h-1zM1158 1043.7h3V1047.9h-3zM1163 1043.7h1V1047.9h-1zM1165 1043.7h2V1047.9h-2zM1168 1043.7h1V1047.9h-1zM1174 1043.7h1V1047.9h-1zM1179 1043.7h1V1047.9h-1zM1181 1043.7h1V1047.9h-1zM1188 1043.7h1V1047.9h-1zM1191 1043.7h2V1047.9h-2zM1213 1043.7h1V1047.9h-1zM1228 1043.7h1V1047.9h-1zM1237 1043.7h1V1047.9h-1zM1244 1043.7h1V1047.9h-1zM1257 1043.7h1V1047.9h-1zM1263 1043.7h1V1047.9h-1zM1274 1043.7h7V1047.9h-7zM1284 1043.7h1V1047.9h-1zM1286 1043.7h1V1047.9h-1zM1289 1043.7h2V1047.9h-2zM1294 1043.7h3V1047.9h-3zM1298 1043.7h1V1047.9h-1zM1312 1043.7h1V1047.9h-1zM1314 1043.7h1V1047.9h-1zM1322 1043.7h1V1047.9h-1zM1327 1043.7h1V1047.9h-1zM1332 1043.7h1V1047.9h-1zM1334 1043.7h2V1047.9h-2zM1344 1043.7h2V1047.9h-2zM1347 1043.7h1V1047.9h-1zM1350 1043.7h1V1047.9h-1zM1352 1043.7h1V1047.9h-1zM1368 1043.7h1V1047.9h-1zM1373 1043.7h1V1047.9h-1zM1375 1043.7h1V1047.9h-1zM1378 1043.7h1V1047.9h-1zM1387 1043.7h1V1047.9h-1zM1389 1043.7h1V1047.9h-1zM1405 1043.7h1V1047.9h-1zM1018 1039.6h1V1043.7h-1zM1053 1039.6h1V1043.7h-1zM1102 1039.6h1V1043.7h-1zM1105 1039.6h1V1043.7h-1zM1133 1039.6h2V1043.7h-2zM1139 1039.6h1V1043.7h-1zM1143 1039.6h1V1043.7h-1zM1152 1039.6h1V1043.7h-1zM1165 1039.6h1V1043.7h-1zM1170 1039.6h1V1043.7h-1zM1172 1039.6h2V1043.7h-2zM1176 1039.6h1V1043.7h-1zM1178 1039.6h2V1043.7h-2zM1188 1039.6h1V1043.7h-1zM1192 1039.6h1V1043.7h-1zM1211 1039.6h1V1043.7h-1zM1213 1039.6h2V1043.7h-2zM1228 1039.6h2V1043.7h-2zM1233 1039.6h1V1043.7h-1zM1236 1039.6h1V1043.7h-1zM1241 1039.6h2V1043.7h-2zM1245 1039.6h1V1043.7h-1zM1249 1039.6h1V1043.7h-1zM1253 1039.6h1V1043.7h-1zM1258 1039.6h2V1043.7h-2zM1262 1039.6h2V1043.7h-2zM1275 1039.6h1V1043.7h-1zM1277 1039.6h1V1043.7h-1zM1283 1039.6h1V1043.7h-1zM1285 1039.6h2V1043.7h-2zM1292 1039.6h1V1043.7h-1zM1294 1039.6h1V1043.7h-1zM1299 1039.6h2V1043.7h-2zM1305 1039.6h2V1043.7h-2zM1309 1039.6h1V1043.7h-1zM1311 1039.6h1V1043.7h-1zM1313 1039.6h1V1043.7h-1zM1315 1039.6h1V1043.7h-1zM1323 1039.6h1V1043.7h-1zM1333 1039.6h1V1043.7h-1zM1335 1039.6h1V1043.7h-1zM1341 1039.6h1V1043.7h-1zM1344 1039.6h1V1043.7h-1zM1347 1039.6h1V1043.7h-1zM1353 1039.6h1V1043.7h-1zM1368 1039.6h3V1043.7h-3zM1372 1039.6h2V1043.7h-2zM1378 1039.6h1V1043.7h-1zM1382 1039.6h1V1043.7h-1zM1389 1039.6h1V1043.7h-1zM1397 1039.6h2V1043.7h-2zM1402 1039.6h1V1043.7h-1zM1406 1039.6h1V1043.7h-1zM1170 1035.7h2V1039.6h-2zM1178 1035.7h4V1039.6h-4zM1188 1035.7h4V1039.6h-4zM1212 1035.7h2V1039.6h-2zM1228 1035.7h2V1039.6h-2zM1232 1035.7h2V1039.6h-2zM1236 1035.7h2V1039.6h-2zM1244 1035.7h2V1039.6h-2zM1262 1035.7h2V1039.6h-2zM1276 1035.7h4V1039.6h-4zM1282 1035.7h4V1039.6h-4zM1290 1035.7h2V1039.6h-2zM1314 1035.7h4V1039.6h-4zM1332 1035.7h4V1039.6h-4zM1340 1035.7h2V1039.6h-2zM1344 1035.7h4V1039.6h-4zM1352 1035.7h2V1039.6h-2zM1360 1035.7h4V1039.6h-4zM1374 1035.7h2V1039.6h-2zM1380 1035.7h2V1039.6h-2zM1388 1035.7h2V1039.6h-2zM1396 1035.7h2V1039.6h-2zM1172 1031.6h2V1035.7h-2zM1178 1031.6h4V1035.7h-4zM1186 1031.6h4V1035.7h-4zM1194 1031.6h4V1035.7h-4zM1210 1031.6h2V1035.7h-2zM1214 1031.6h2V1035.7h-2zM1220 1031.6h2V1035.7h-2zM1232 1031.6h2V1035.7h-2zM1236 1031.6h2V1035.7h-2zM1242 1031.6h2V1035.7h-2zM1248 1031.6h2V1035.7h-2zM1256 1031.6h4V1035.7h-4zM1262 1031.6h2V1035.7h-2zM1276 1031.6h2V1035.7h-2zM1280 1031.6h2V1035.7h-2zM1292 1031.6h2V1035.7h-2zM1300 1031.6h2V1035.7h-2zM1308 1031.6h4V1035.7h-4zM1316 1031.6h2V1035.7h-2zM1326 1031.6h4V1035.7h-4zM1336 1031.6h2V1035.7h-2zM1340 1031.6h2V1035.7h-2zM1344 1031.6h2V1035.7h-2zM1348 1031.6h4V1035.7h-4zM1358 1031.6h4V1035.7h-4zM1374 1031.6h2V1035.7h-2zM1394 1031.6h4V1035.7h-4zM1176 1027.6h2V1031.6h-2zM1180 1027.6h4V1031.6h-4zM1186 1027.6h4V1031.6h-4zM1192 1027.6h2V1031.6h-2zM1196 1027.6h2V1031.6h-2zM1210 1027.6h2V1031.6h-2zM1214 1027.6h4V1031.6h-4zM1220 1027.6h2V1031.6h-2zM1232 1027.6h2V1031.6h-2zM1240 1027.6h2V1031.6h-2zM1248 1027.6h4V1031.6h-4zM1268 1027.6h2V1031.6h-2zM1272 1027.6h4V1031.6h-4zM1278 1027.6h4V1031.6h-4zM1286 1027.6h4V1031.6h-4zM1294 1027.6h2V1031.6h-2zM1298 1027.6h12V1031.6h-12zM1318 1027.6h2V1031.6h-2zM1324 1027.6h2V1031.6h-2zM1328 1027.6h2V1031.6h-2zM1348 1027.6h2V1031.6h-2zM1352 1027.6h4V1031.6h-4zM1376 1027.6h2V1031.6h-2zM1396 1027.6h2V1031.6h-2zM1170 1023.6h2V1027.6h-2zM1178 1023.6h2V1027.6h-2zM1192 1023.6h6V1027.6h-6zM1202 1023.6h2V1027.6h-2zM1216 1023.6h2V1027.6h-2zM1222 1023.6h4V1027.6h-4zM1230 1023.6h4V1027.6h-4zM1238 1023.6h2V1027.6h-2zM1242 1023.6h2V1027.6h-2zM1248 1023.6h4V1027.6h-4zM1258 1023.6h6V1027.6h-6zM1270 1023.6h6V1027.6h-6zM1288 1023.6h2V1027.6h-2zM1294 1023.6h2V1027.6h-2zM1298 1023.6h2V1027.6h-2zM1302 1023.6h2V1027.6h-2zM1324 1023.6h2V1027.6h-2zM1328 1023.6h2V1027.6h-2zM1344 1023.6h2V1027.6h-2zM1354 1023.6h6V1027.6h-6zM1396 1023.6h2V1027.6h-2zM1170 1019.6h2V1023.6h-2zM1184 1019.6h2V1023.6h-2zM1194 1019.6h6V1023.6h-6zM1210 1019.6h2V1023.6h-2zM1214 1019.6h4V1023.6h-4zM1228 1019.6h4V1023.6h-4zM1240 1019.6h4V1023.6h-4zM1248 1019.6h2V1023.6h-2zM1260 1019.6h12V1023.6h-12zM1274 1019.6h2V1023.6h-2zM1280 1019.6h2V1023.6h-2zM1288 1019.6h2V1023.6h-2zM1294 1019.6h2V1023.6h-2zM1300 1019.6h2V1023.6h-2zM1304 1019.6h4V1023.6h-4zM1322 1019.6h4V1023.6h-4zM1352 1019.6h4V1023.6h-4zM1388 1019.6h2V1023.6h-2zM1198 1015.5h2V1019.6h-2zM1202 1015.5h2V1019.6h-2zM1206 1015.5h2V1019.6h-2zM1216 1015.5h2V1019.6h-2zM1220 1015.5h2V1019.6h-2zM1224 1015.5h4V1019.6h-4zM1230 1015.5h6V1019.6h-6zM1240 1015.5h2V1019.6h-2zM1244 1015.5h4V1019.6h-4zM1250 1015.5h2V1019.6h-2zM1254 1015.5h4V1019.6h-4zM1260 1015.5h6V1019.6h-6zM1268 1015.5h8V1019.6h-8zM1298 1015.5h2V1019.6h-2zM1304 1015.5h4V1019.6h-4zM1354 1015.5h4V1019.6h-4zM1182 1011.2h2V1015.5h-2zM1202 1011.2h2V1015.5h-2zM1206 1011.2h4V1015.5h-4zM1218 1011.2h2V1015.5h-2zM1222 1011.2h2V1015.5h-2zM1230 1011.2h2V1015.5h-2zM1234 1011.2h2V1015.5h-2zM1248 1011.2h4V1015.5h-4zM1266 1011.2h2V1015.5h-2zM1324 1011.2h2V1015.5h-2zM1200 1007.2h2V1011.2h-2zM1216 1007.2h4V1011.2h-4zM1226 1007.2h2V1011.2h-2zM1232 1007.2h4V1011.2h-4zM1246 1007.2h2V1011.2h-2zM1256 1007.2h2V1011.2h-2zM1264 1007.2h2V1011.2h-2zM1272 1007.2h2V1011.2h-2zM1222 1003.1h4V1007.2h-4zM1238 1003.1h2V1007.2h-2zM1266 999h2V1003.1h-2z"/><path fill="#0049ff" d="M778 1113.2h1V1122h-1zM870 1113.2h2V1122h-2zM882 1113.2h2V1122h-2zM924 1113.2h1V1122h-1zM934 1113.2h1V1122h-1zM937 1113.2h1V1122h-1zM944 1113.2h1V1122h-1zM947 1113.2h4V1122h-4zM981 1113.2h1V1122h-1zM995 1113.2h1V1122h-1zM998 1113.2h2V1122h-2zM1032 1113.2h1V1122h-1zM1056 1113.2h1V1122h-1zM1058 1113.2h2V1122h-2zM1062 1113.2h1V1122h-1zM1064 1113.2h1V1122h-1zM1067 1113.2h1V1122h-1zM1072 1113.2h1V1122h-1zM1083 1113.2h1V1122h-1zM1087 1113.2h1V1122h-1zM1100 1113.2h1V1122h-1zM1106 1113.2h1V1122h-1zM1122 1113.2h1V1122h-1zM1129 1113.2h1V1122h-1zM1147 1113.2h2V1122h-2zM1164 1113.2h1V1122h-1zM1175 1113.2h1V1122h-1zM1177 1113.2h1V1122h-1zM1337 1113.2h2V1122h-2zM1351 1113.2h1V1122h-1zM1366 1113.2h1V1122h-1zM1372 1113.2h1V1122h-1zM1379 1113.2h1V1122h-1zM1386 1113.2h1V1122h-1zM1390 1113.2h2V1122h-2zM751 1101.8h1V1113.2h-1zM852 1101.8h1V1113.2h-1zM870 1101.8h1V1113.2h-1zM878 1101.8h1V1113.2h-1zM908 1101.8h1V1113.2h-1zM911 1101.8h1V1113.2h-1zM921 1101.8h2V1113.2h-2zM926 1101.8h1V1113.2h-1zM936 1101.8h1V1113.2h-1zM944 1101.8h2V1113.2h-2zM947 1101.8h1V1113.2h-1zM958 1101.8h1V1113.2h-1zM962 1101.8h1V1113.2h-1zM981 1101.8h1V1113.2h-1zM1010 1101.8h1V1113.2h-1zM1012 1101.8h2V1113.2h-2zM1016 1101.8h1V1113.2h-1zM1019 1101.8h1V1113.2h-1zM1045 1101.8h1V1113.2h-1zM1048 1101.8h1V1113.2h-1zM1057 1101.8h4V1113.2h-4zM1062 1101.8h1V1113.2h-1zM1068 1101.8h1V1113.2h-1zM1081 1101.8h1V1113.2h-1zM1083 1101.8h1V1113.2h-1zM1088 1101.8h1V1113.2h-1zM1093 1101.8h1V1113.2h-1zM1100 1101.8h2V1113.2h-2zM1108 1101.8h1V1113.2h-1zM1122 1101.8h2V1113.2h-2zM1125 1101.8h1V1113.2h-1zM1128 1101.8h1V1113.2h-1zM1135 1101.8h1V1113.2h-1zM1148 1101.8h1V1113.2h-1zM1163 1101.8h1V1113.2h-1zM1175 1101.8h3V1113.2h-3zM1338 1101.8h1V1113.2h-1zM1351 1101.8h1V1113.2h-1zM1364 1101.8h1V1113.2h-1zM1379 1101.8h1V1113.2h-1zM1386 1101.8h1V1113.2h-1zM1390 1101.8h1V1113.2h-1zM1393 1101.8h1V1113.2h-1zM1407 1101.8h1V1113.2h-1zM878 1094.4h1V1101.8h-1zM881 1094.4h2V1101.8h-2zM903 1094.4h1V1101.8h-1zM937 1094.4h1V1101.8h-1zM947 1094.4h2V1101.8h-2zM950 1094.4h1V1101.8h-1zM956 1094.4h1V1101.8h-1zM977 1094.4h1V1101.8h-1zM982 1094.4h1V1101.8h-1zM997 1094.4h1V1101.8h-1zM1033 1094.4h1V1101.8h-1zM1045 1094.4h1V1101.8h-1zM1056 1094.4h2V1101.8h-2zM1062 1094.4h1V1101.8h-1zM1068 1094.4h2V1101.8h-2zM1081 1094.4h1V1101.8h-1zM1090 1094.4h1V1101.8h-1zM1093 1094.4h2V1101.8h-2zM1108 1094.4h1V1101.8h-1zM1113 1094.4h1V1101.8h-1zM1129 1094.4h1V1101.8h-1zM1131 1094.4h1V1101.8h-1zM1144 1094.4h1V1101.8h-1zM1149 1094.4h1V1101.8h-1zM1157 1094.4h1V1101.8h-1zM1161 1094.4h1V1101.8h-1zM1163 1094.4h1V1101.8h-1zM1168 1094.4h1V1101.8h-1zM1175 1094.4h2V1101.8h-2zM1386 1094.4h1V1101.8h-1zM1401 1094.4h1V1101.8h-1zM883 1088.8h1V1094.4h-1zM907 1088.8h1V1094.4h-1zM911 1088.8h1V1094.4h-1zM929 1088.8h1V1094.4h-1zM931 1088.8h1V1094.4h-1zM937 1088.8h1V1094.4h-1zM948 1088.8h1V1094.4h-1zM956 1088.8h2V1094.4h-2zM962 1088.8h1V1094.4h-1zM977 1088.8h4V1094.4h-4zM994 1088.8h1V1094.4h-1zM1006 1088.8h1V1094.4h-1zM1021 1088.8h1V1094.4h-1zM1023 1088.8h1V1094.4h-1zM1029 1088.8h1V1094.4h-1zM1033 1088.8h1V1094.4h-1zM1046 1088.8h1V1094.4h-1zM1056 1088.8h1V1094.4h-1zM1069 1088.8h1V1094.4h-1zM1081 1088.8h1V1094.4h-1zM1083 1088.8h2V1094.4h-2zM1086 1088.8h2V1094.4h-2zM1090 1088.8h1V1094.4h-1zM1113 1088.8h1V1094.4h-1zM1129 1088.8h1V1094.4h-1zM1131 1088.8h1V1094.4h-1zM1135 1088.8h1V1094.4h-1zM1140 1088.8h1V1094.4h-1zM1144 1088.8h1V1094.4h-1zM1149 1088.8h1V1094.4h-1zM1162 1088.8h3V1094.4h-3zM1176 1088.8h3V1094.4h-3zM1316 1088.8h1V1094.4h-1zM1334 1088.8h1V1094.4h-1zM1339 1088.8h1V1094.4h-1zM1342 1088.8h1V1094.4h-1zM1366 1088.8h1V1094.4h-1zM1370 1088.8h1V1094.4h-1zM1372 1088.8h1V1094.4h-1zM1378 1088.8h1V1094.4h-1zM1384 1088.8h2V1094.4h-2zM1390 1088.8h2V1094.4h-2zM1404 1088.8h1V1094.4h-1zM1407 1088.8h1V1094.4h-1zM784 1084.4h1V1088.8h-1zM893 1084.4h1V1088.8h-1zM904 1084.4h1V1088.8h-1zM923 1084.4h1V1088.8h-1zM929 1084.4h1V1088.8h-1zM936 1084.4h1V1088.8h-1zM962 1084.4h1V1088.8h-1zM982 1084.4h1V1088.8h-1zM1002 1084.4h1V1088.8h-1zM1010 1084.4h1V1088.8h-1zM1022 1084.4h2V1088.8h-2zM1045 1084.4h1V1088.8h-1zM1059 1084.4h1V1088.8h-1zM1061 1084.4h1V1088.8h-1zM1066 1084.4h2V1088.8h-2zM1072 1084.4h2V1088.8h-2zM1084 1084.4h1V1088.8h-1zM1089 1084.4h1V1088.8h-1zM1098 1084.4h1V1088.8h-1zM1112 1084.4h1V1088.8h-1zM1122 1084.4h1V1088.8h-1zM1129 1084.4h1V1088.8h-1zM1148 1084.4h2V1088.8h-2zM1152 1084.4h1V1088.8h-1zM1154 1084.4h1V1088.8h-1zM1163 1084.4h1V1088.8h-1zM1285 1084.4h1V1088.8h-1zM1316 1084.4h1V1088.8h-1zM1320 1084.4h2V1088.8h-2zM1330 1084.4h1V1088.8h-1zM1333 1084.4h2V1088.8h-2zM1338 1084.4h3V1088.8h-3zM1342 1084.4h1V1088.8h-1zM1368 1084.4h1V1088.8h-1zM1370 1084.4h3V1088.8h-3zM1380 1084.4h1V1088.8h-1zM1384 1084.4h1V1088.8h-1zM1386 1084.4h1V1088.8h-1zM1404 1084.4h1V1088.8h-1zM784 1080.7h1V1084.4h-1zM904 1080.7h1V1084.4h-1zM907 1080.7h1V1084.4h-1zM911 1080.7h1V1084.4h-1zM923 1080.7h2V1084.4h-2zM926 1080.7h1V1084.4h-1zM929 1080.7h1V1084.4h-1zM937 1080.7h1V1084.4h-1zM948 1080.7h1V1084.4h-1zM982 1080.7h1V1084.4h-1zM1002 1080.7h1V1084.4h-1zM1012 1080.7h1V1084.4h-1zM1023 1080.7h1V1084.4h-1zM1029 1080.7h1V1084.4h-1zM1065 1080.7h1V1084.4h-1zM1068 1080.7h1V1084.4h-1zM1081 1080.7h1V1084.4h-1zM1086 1080.7h2V1084.4h-2zM1089 1080.7h1V1084.4h-1zM1098 1080.7h1V1084.4h-1zM1106 1080.7h3V1084.4h-3zM1122 1080.7h1V1084.4h-1zM1129 1080.7h1V1084.4h-1zM1132 1080.7h1V1084.4h-1zM1135 1080.7h1V1084.4h-1zM1137 1080.7h3V1084.4h-3zM1143 1080.7h2V1084.4h-2zM1157 1080.7h2V1084.4h-2zM1169 1080.7h1V1084.4h-1zM1177 1080.7h1V1084.4h-1zM1275 1080.7h1V1084.4h-1zM1310 1080.7h1V1084.4h-1zM1315 1080.7h1V1084.4h-1zM1320 1080.7h1V1084.4h-1zM1334 1080.7h1V1084.4h-1zM1337 1080.7h1V1084.4h-1zM1340 1080.7h1V1084.4h-1zM1350 1080.7h1V1084.4h-1zM1364 1080.7h1V1084.4h-1zM1367 1080.7h2V1084.4h-2zM1377 1080.7h1V1084.4h-1zM1379 1080.7h2V1084.4h-2zM1391 1080.7h1V1084.4h-1zM1394 1080.7h1V1084.4h-1zM1399 1080.7h1V1084.4h-1zM1403 1080.7h1V1084.4h-1zM1407 1080.7h1V1084.4h-1zM783 1077.5h2V1080.7h-2zM891 1077.5h1V1080.7h-1zM903 1077.5h2V1080.7h-2zM908 1077.5h1V1080.7h-1zM917 1077.5h1V1080.7h-1zM924 1077.5h3V1080.7h-3zM929 1077.5h1V1080.7h-1zM937 1077.5h1V1080.7h-1zM948 1077.5h1V1080.7h-1zM957 1077.5h1V1080.7h-1zM994 1077.5h1V1080.7h-1zM1006 1077.5h1V1080.7h-1zM1012 1077.5h1V1080.7h-1zM1045 1077.5h1V1080.7h-1zM1052 1077.5h1V1080.7h-1zM1062 1077.5h1V1080.7h-1zM1068 1077.5h1V1080.7h-1zM1080 1077.5h1V1080.7h-1zM1085 1077.5h2V1080.7h-2zM1088 1077.5h1V1080.7h-1zM1099 1077.5h1V1080.7h-1zM1104 1077.5h1V1080.7h-1zM1107 1077.5h2V1080.7h-2zM1112 1077.5h2V1080.7h-2zM1127 1077.5h1V1080.7h-1zM1132 1077.5h1V1080.7h-1zM1143 1077.5h1V1080.7h-1zM1153 1077.5h1V1080.7h-1zM1155 1077.5h1V1080.7h-1zM1174 1077.5h1V1080.7h-1zM1178 1077.5h1V1080.7h-1zM1278 1077.5h1V1080.7h-1zM1284 1077.5h2V1080.7h-2zM1311 1077.5h1V1080.7h-1zM1316 1077.5h1V1080.7h-1zM1320 1077.5h1V1080.7h-1zM1333 1077.5h1V1080.7h-1zM1339 1077.5h2V1080.7h-2zM1350 1077.5h1V1080.7h-1zM1365 1077.5h2V1080.7h-2zM1370 1077.5h1V1080.7h-1zM1378 1077.5h1V1080.7h-1zM1380 1077.5h1V1080.7h-1zM1384 1077.5h1V1080.7h-1zM1393 1077.5h1V1080.7h-1zM1400 1077.5h1V1080.7h-1zM1403 1077.5h2V1080.7h-2zM783 1072.3h2V1077.5h-2zM892 1072.3h1V1077.5h-1zM904 1072.3h1V1077.5h-1zM907 1072.3h1V1077.5h-1zM925 1072.3h1V1077.5h-1zM937 1072.3h1V1077.5h-1zM950 1072.3h1V1077.5h-1zM978 1072.3h2V1077.5h-2zM1012 1072.3h1V1077.5h-1zM1023 1072.3h1V1077.5h-1zM1029 1072.3h1V1077.5h-1zM1046 1072.3h1V1077.5h-1zM1053 1072.3h1V1077.5h-1zM1058 1072.3h1V1077.5h-1zM1061 1072.3h1V1077.5h-1zM1065 1072.3h2V1077.5h-2zM1068 1072.3h1V1077.5h-1zM1073 1072.3h1V1077.5h-1zM1080 1072.3h1V1077.5h-1zM1082 1072.3h1V1077.5h-1zM1085 1072.3h1V1077.5h-1zM1099 1072.3h1V1077.5h-1zM1105 1072.3h1V1077.5h-1zM1112 1072.3h1V1077.5h-1zM1127 1072.3h1V1077.5h-1zM1134 1072.3h1V1077.5h-1zM1136 1072.3h1V1077.5h-1zM1138 1072.3h1V1077.5h-1zM1140 1072.3h1V1077.5h-1zM1151 1072.3h3V1077.5h-3zM1164 1072.3h2V1077.5h-2zM1175 1072.3h1V1077.5h-1zM1178 1072.3h1V1077.5h-1zM1189 1072.3h2V1077.5h-2zM1211 1072.3h1V1077.5h-1zM1275 1072.3h1V1077.5h-1zM1277 1072.3h2V1077.5h-2zM1284 1072.3h1V1077.5h-1zM1290 1072.3h1V1077.5h-1zM1309 1072.3h3V1077.5h-3zM1315 1072.3h1V1077.5h-1zM1320 1072.3h1V1077.5h-1zM1322 1072.3h1V1077.5h-1zM1330 1072.3h1V1077.5h-1zM1334 1072.3h1V1077.5h-1zM1338 1072.3h1V1077.5h-1zM1343 1072.3h1V1077.5h-1zM1350 1072.3h3V1077.5h-3zM1365 1072.3h1V1077.5h-1zM1370 1072.3h1V1077.5h-1zM1389 1072.3h1V1077.5h-1zM1393 1072.3h1V1077.5h-1zM1403 1072.3h1V1077.5h-1zM1405 1072.3h1V1077.5h-1zM891 1068h3V1072.3h-3zM903 1068h1V1072.3h-1zM977 1068h1V1072.3h-1zM1018 1068h1V1072.3h-1zM1022 1068h1V1072.3h-1zM1029 1068h1V1072.3h-1zM1053 1068h1V1072.3h-1zM1065 1068h2V1072.3h-2zM1069 1068h1V1072.3h-1zM1082 1068h1V1072.3h-1zM1085 1068h2V1072.3h-2zM1099 1068h1V1072.3h-1zM1102 1068h1V1072.3h-1zM1105 1068h1V1072.3h-1zM1107 1068h1V1072.3h-1zM1127 1068h1V1072.3h-1zM1130 1068h1V1072.3h-1zM1132 1068h1V1072.3h-1zM1134 1068h1V1072.3h-1zM1139 1068h1V1072.3h-1zM1143 1068h1V1072.3h-1zM1149 1068h1V1072.3h-1zM1152 1068h1V1072.3h-1zM1155 1068h2V1072.3h-2zM1163 1068h1V1072.3h-1zM1169 1068h1V1072.3h-1zM1174 1068h1V1072.3h-1zM1190 1068h2V1072.3h-2zM1193 1068h1V1072.3h-1zM1211 1068h1V1072.3h-1zM1249 1068h1V1072.3h-1zM1253 1068h1V1072.3h-1zM1275 1068h1V1072.3h-1zM1279 1068h1V1072.3h-1zM1292 1068h1V1072.3h-1zM1294 1068h1V1072.3h-1zM1296 1068h2V1072.3h-2zM1309 1068h1V1072.3h-1zM1312 1068h1V1072.3h-1zM1315 1068h1V1072.3h-1zM1320 1068h3V1072.3h-3zM1330 1068h1V1072.3h-1zM1335 1068h1V1072.3h-1zM1343 1068h1V1072.3h-1zM1352 1068h1V1072.3h-1zM1366 1068h1V1072.3h-1zM1368 1068h1V1072.3h-1zM1378 1068h1V1072.3h-1zM1389 1068h1V1072.3h-1zM761 1064.5h1V1068h-1zM763 1064.5h1V1068h-1zM892 1064.5h1V1068h-1zM924 1064.5h1V1068h-1zM1017 1064.5h1V1068h-1zM1053 1064.5h1V1068h-1zM1085 1064.5h1V1068h-1zM1102 1064.5h1V1068h-1zM1127 1064.5h1V1068h-1zM1134 1064.5h1V1068h-1zM1137 1064.5h1V1068h-1zM1149 1064.5h1V1068h-1zM1152 1064.5h1V1068h-1zM1154 1064.5h3V1068h-3zM1163 1064.5h2V1068h-2zM1166 1064.5h1V1068h-1zM1175 1064.5h1V1068h-1zM1177 1064.5h2V1068h-2zM1188 1064.5h1V1068h-1zM1194 1064.5h1V1068h-1zM1228 1064.5h2V1068h-2zM1249 1064.5h1V1068h-1zM1253 1064.5h1V1068h-1zM1277 1064.5h1V1068h-1zM1279 1064.5h1V1068h-1zM1283 1064.5h1V1068h-1zM1290 1064.5h1V1068h-1zM1296 1064.5h2V1068h-2zM1300 1064.5h1V1068h-1zM1310 1064.5h1V1068h-1zM1312 1064.5h1V1068h-1zM1314 1064.5h1V1068h-1zM1317 1064.5h1V1068h-1zM1320 1064.5h1V1068h-1zM1322 1064.5h1V1068h-1zM1331 1064.5h1V1068h-1zM1340 1064.5h1V1068h-1zM1363 1064.5h1V1068h-1zM1365 1064.5h1V1068h-1zM1368 1064.5h3V1068h-3zM1375 1064.5h1V1068h-1zM1387 1064.5h1V1068h-1zM1394 1064.5h1V1068h-1zM1404 1064.5h1V1068h-1zM761 1060h1V1064.5h-1zM892 1060h1V1064.5h-1zM904 1060h1V1064.5h-1zM1052 1060h1V1064.5h-1zM1086 1060h1V1064.5h-1zM1130 1060h1V1064.5h-1zM1134 1060h1V1064.5h-1zM1139 1060h1V1064.5h-1zM1143 1060h1V1064.5h-1zM1150 1060h1V1064.5h-1zM1154 1060h1V1064.5h-1zM1156 1060h1V1064.5h-1zM1159 1060h2V1064.5h-2zM1165 1060h1V1064.5h-1zM1175 1060h1V1064.5h-1zM1177 1060h1V1064.5h-1zM1191 1060h4V1064.5h-4zM1211 1060h1V1064.5h-1zM1213 1060h1V1064.5h-1zM1228 1060h2V1064.5h-2zM1237 1060h1V1064.5h-1zM1274 1060h1V1064.5h-1zM1276 1060h2V1064.5h-2zM1283 1060h1V1064.5h-1zM1286 1060h1V1064.5h-1zM1289 1060h2V1064.5h-2zM1294 1060h1V1064.5h-1zM1297 1060h1V1064.5h-1zM1300 1060h1V1064.5h-1zM1314 1060h2V1064.5h-2zM1317 1060h1V1064.5h-1zM1320 1060h1V1064.5h-1zM1322 1060h1V1064.5h-1zM1333 1060h1V1064.5h-1zM1336 1060h1V1064.5h-1zM1339 1060h2V1064.5h-2zM1345 1060h1V1064.5h-1zM1347 1060h1V1064.5h-1zM1350 1060h1V1064.5h-1zM1363 1060h1V1064.5h-1zM1368 1060h2V1064.5h-2zM1376 1060h1V1064.5h-1zM1378 1060h1V1064.5h-1zM1382 1060h1V1064.5h-1zM1386 1060h2V1064.5h-2zM1389 1060h1V1064.5h-1zM1394 1060h1V1064.5h-1zM1404 1060h1V1064.5h-1zM892 1056.3h1V1060h-1zM979 1056.3h1V1060h-1zM1017 1056.3h1V1060h-1zM1053 1056.3h1V1060h-1zM1102 1056.3h1V1060h-1zM1143 1056.3h1V1060h-1zM1181 1056.3h1V1060h-1zM1187 1056.3h1V1060h-1zM1190 1056.3h2V1060h-2zM1194 1056.3h1V1060h-1zM1211 1056.3h1V1060h-1zM1213 1056.3h2V1060h-2zM1228 1056.3h2V1060h-2zM1244 1056.3h2V1060h-2zM1253 1056.3h1V1060h-1zM1257 1056.3h1V1060h-1zM1276 1056.3h2V1060h-2zM1279 1056.3h1V1060h-1zM1283 1056.3h1V1060h-1zM1291 1056.3h1V1060h-1zM1294 1056.3h1V1060h-1zM1297 1056.3h1V1060h-1zM1305 1056.3h2V1060h-2zM1309 1056.3h2V1060h-2zM1315 1056.3h1V1060h-1zM1317 1056.3h1V1060h-1zM1321 1056.3h1V1060h-1zM1327 1056.3h1V1060h-1zM1333 1056.3h2V1060h-2zM1336 1056.3h1V1060h-1zM1350 1056.3h1V1060h-1zM1363 1056.3h1V1060h-1zM1368 1056.3h1V1060h-1zM1371 1056.3h1V1060h-1zM1373 1056.3h1V1060h-1zM1375 1056.3h1V1060h-1zM1382 1056.3h1V1060h-1zM1388 1056.3h1V1060h-1zM1394 1056.3h1V1060h-1zM1399 1056.3h1V1060h-1zM1405 1056.3h2V1060h-2zM762 1052.2h1V1056.3h-1zM1105 1052.2h1V1056.3h-1zM1130 1052.2h1V1056.3h-1zM1133 1052.2h1V1056.3h-1zM1137 1052.2h1V1056.3h-1zM1150 1052.2h1V1056.3h-1zM1152 1052.2h1V1056.3h-1zM1173 1052.2h2V1056.3h-2zM1177 1052.2h1V1056.3h-1zM1179 1052.2h1V1056.3h-1zM1181 1052.2h2V1056.3h-2zM1187 1052.2h2V1056.3h-2zM1191 1052.2h1V1056.3h-1zM1194 1052.2h1V1056.3h-1zM1210 1052.2h2V1056.3h-2zM1213 1052.2h1V1056.3h-1zM1220 1052.2h2V1056.3h-2zM1229 1052.2h1V1056.3h-1zM1232 1052.2h2V1056.3h-2zM1236 1052.2h1V1056.3h-1zM1242 1052.2h2V1056.3h-2zM1259 1052.2h1V1056.3h-1zM1262 1052.2h2V1056.3h-2zM1274 1052.2h1V1056.3h-1zM1277 1052.2h1V1056.3h-1zM1279 1052.2h2V1056.3h-2zM1289 1052.2h3V1056.3h-3zM1294 1052.2h1V1056.3h-1zM1300 1052.2h1V1056.3h-1zM1305 1052.2h1V1056.3h-1zM1313 1052.2h1V1056.3h-1zM1323 1052.2h1V1056.3h-1zM1327 1052.2h1V1056.3h-1zM1332 1052.2h2V1056.3h-2zM1335 1052.2h1V1056.3h-1zM1338 1052.2h1V1056.3h-1zM1340 1052.2h1V1056.3h-1zM1342 1052.2h1V1056.3h-1zM1351 1052.2h1V1056.3h-1zM1363 1052.2h1V1056.3h-1zM1373 1052.2h3V1056.3h-3zM1383 1052.2h1V1056.3h-1zM1387 1052.2h1V1056.3h-1zM1389 1052.2h1V1056.3h-1zM1394 1052.2h1V1056.3h-1zM1396 1052.2h1V1056.3h-1zM1018 1047.9h1V1052.2h-1zM1103 1047.9h1V1052.2h-1zM1133 1047.9h1V1052.2h-1zM1162 1047.9h1V1052.2h-1zM1166 1047.9h1V1052.2h-1zM1171 1047.9h4V1052.2h-4zM1179 1047.9h1V1052.2h-1zM1188 1047.9h1V1052.2h-1zM1191 1047.9h1V1052.2h-1zM1210 1047.9h1V1052.2h-1zM1213 1047.9h2V1052.2h-2zM1220 1047.9h2V1052.2h-2zM1229 1047.9h1V1052.2h-1zM1236 1047.9h2V1052.2h-2zM1241 1047.9h1V1052.2h-1zM1249 1047.9h1V1052.2h-1zM1253 1047.9h1V1052.2h-1zM1257 1047.9h1V1052.2h-1zM1264 1047.9h1V1052.2h-1zM1276 1047.9h1V1052.2h-1zM1282 1047.9h2V1052.2h-2zM1286 1047.9h1V1052.2h-1zM1293 1047.9h1V1052.2h-1zM1299 1047.9h1V1052.2h-1zM1305 1047.9h1V1052.2h-1zM1310 1047.9h5V1052.2h-5zM1323 1047.9h1V1052.2h-1zM1325 1047.9h2V1052.2h-2zM1341 1047.9h1V1052.2h-1zM1346 1047.9h2V1052.2h-2zM1360 1047.9h1V1052.2h-1zM1369 1047.9h1V1052.2h-1zM1373 1047.9h1V1052.2h-1zM1376 1047.9h1V1052.2h-1zM1381 1047.9h1V1052.2h-1zM1387 1047.9h2V1052.2h-2zM1395 1047.9h1V1052.2h-1zM1403 1047.9h1V1052.2h-1zM1406 1047.9h1V1052.2h-1zM1134 1043.7h1V1047.9h-1zM1169 1043.7h4V1047.9h-4zM1178 1043.7h1V1047.9h-1zM1182 1043.7h1V1047.9h-1zM1187 1043.7h1V1047.9h-1zM1190 1043.7h1V1047.9h-1zM1197 1043.7h1V1047.9h-1zM1202 1043.7h1V1047.9h-1zM1210 1043.7h1V1047.9h-1zM1214 1043.7h1V1047.9h-1zM1218 1043.7h1V1047.9h-1zM1222 1043.7h1V1047.9h-1zM1229 1043.7h1V1047.9h-1zM1233 1043.7h1V1047.9h-1zM1236 1043.7h1V1047.9h-1zM1242 1043.7h2V1047.9h-2zM1250 1043.7h1V1047.9h-1zM1252 1043.7h2V1047.9h-2zM1258 1043.7h3V1047.9h-3zM1262 1043.7h1V1047.9h-1zM1264 1043.7h1V1047.9h-1zM1283 1043.7h1V1047.9h-1zM1291 1043.7h1V1047.9h-1zM1299 1043.7h2V1047.9h-2zM1303 1043.7h1V1047.9h-1zM1306 1043.7h1V1047.9h-1zM1310 1043.7h1V1047.9h-1zM1313 1043.7h1V1047.9h-1zM1317 1043.7h1V1047.9h-1zM1319 1043.7h1V1047.9h-1zM1325 1043.7h2V1047.9h-2zM1341 1043.7h1V1047.9h-1zM1346 1043.7h1V1047.9h-1zM1369 1043.7h1V1047.9h-1zM1374 1043.7h1V1047.9h-1zM1377 1043.7h1V1047.9h-1zM1382 1043.7h1V1047.9h-1zM1388 1043.7h1V1047.9h-1zM1398 1043.7h1V1047.9h-1zM1406 1043.7h1V1047.9h-1zM1150 1039.6h1V1043.7h-1zM1159 1039.6h1V1043.7h-1zM1171 1039.6h1V1043.7h-1zM1177 1039.6h1V1043.7h-1zM1182 1039.6h1V1043.7h-1zM1186 1039.6h1V1043.7h-1zM1191 1039.6h1V1043.7h-1zM1210 1039.6h1V1043.7h-1zM1212 1039.6h1V1043.7h-1zM1215 1039.6h1V1043.7h-1zM1217 1039.6h2V1043.7h-2zM1220 1039.6h1V1043.7h-1zM1222 1039.6h1V1043.7h-1zM1231 1039.6h2V1043.7h-2zM1248 1039.6h1V1043.7h-1zM1250 1039.6h1V1043.7h-1zM1252 1039.6h1V1043.7h-1zM1254 1039.6h1V1043.7h-1zM1256 1039.6h2V1043.7h-2zM1264 1039.6h1V1043.7h-1zM1282 1039.6h1V1043.7h-1zM1284 1039.6h1V1043.7h-1zM1297 1039.6h2V1043.7h-2zM1301 1039.6h1V1043.7h-1zM1303 1039.6h2V1043.7h-2zM1312 1039.6h1V1043.7h-1zM1318 1039.6h1V1043.7h-1zM1320 1039.6h1V1043.7h-1zM1325 1039.6h1V1043.7h-1zM1328 1039.6h1V1043.7h-1zM1332 1039.6h1V1043.7h-1zM1359 1039.6h4V1043.7h-4zM1365 1039.6h1V1043.7h-1zM1375 1039.6h2V1043.7h-2zM1381 1039.6h1V1043.7h-1zM1387 1039.6h2V1043.7h-2zM1172 1035.7h2V1039.6h-2zM1182 1035.7h2V1039.6h-2zM1186 1035.7h2V1039.6h-2zM1192 1035.7h8V1039.6h-8zM1202 1035.7h2V1039.6h-2zM1210 1035.7h2V1039.6h-2zM1218 1035.7h4V1039.6h-4zM1248 1035.7h2V1039.6h-2zM1252 1035.7h2V1039.6h-2zM1258 1035.7h4V1039.6h-4zM1264 1035.7h2V1039.6h-2zM1268 1035.7h2V1039.6h-2zM1286 1035.7h4V1039.6h-4zM1296 1035.7h6V1039.6h-6zM1304 1035.7h4V1039.6h-4zM1318 1035.7h2V1039.6h-2zM1324 1035.7h6V1039.6h-6zM1348 1035.7h2V1039.6h-2zM1354 1035.7h2V1039.6h-2zM1358 1035.7h2V1039.6h-2zM1394 1035.7h2V1039.6h-2zM1182 1031.6h4V1035.7h-4zM1198 1031.6h2V1035.7h-2zM1212 1031.6h2V1035.7h-2zM1226 1031.6h6V1035.7h-6zM1238 1031.6h4V1035.7h-4zM1250 1031.6h6V1035.7h-6zM1264 1031.6h2V1035.7h-2zM1268 1031.6h6V1035.7h-6zM1282 1031.6h2V1035.7h-2zM1286 1031.6h4V1035.7h-4zM1302 1031.6h6V1035.7h-6zM1318 1031.6h2V1035.7h-2zM1324 1031.6h2V1035.7h-2zM1352 1031.6h4V1035.7h-4zM1362 1031.6h2V1035.7h-2zM1184 1027.6h2V1031.6h-2zM1202 1027.6h2V1031.6h-2zM1206 1027.6h2V1031.6h-2zM1224 1027.6h2V1031.6h-2zM1228 1027.6h2V1031.6h-2zM1236 1027.6h4V1031.6h-4zM1242 1027.6h2V1031.6h-2zM1258 1027.6h2V1031.6h-2zM1262 1027.6h2V1031.6h-2zM1270 1027.6h2V1031.6h-2zM1282 1027.6h2V1031.6h-2zM1358 1027.6h2V1031.6h-2zM1184 1023.6h2V1027.6h-2zM1198 1023.6h4V1027.6h-4zM1204 1023.6h2V1027.6h-2zM1212 1023.6h2V1027.6h-2zM1218 1023.6h4V1027.6h-4zM1228 1023.6h2V1027.6h-2zM1236 1023.6h2V1027.6h-2zM1252 1023.6h2V1027.6h-2zM1264 1023.6h2V1027.6h-2zM1268 1023.6h2V1027.6h-2zM1286 1023.6h2V1027.6h-2zM1304 1023.6h2V1027.6h-2zM1348 1023.6h2V1027.6h-2zM1200 1019.6h10V1023.6h-10zM1218 1019.6h2V1023.6h-2zM1222 1019.6h4V1023.6h-4zM1234 1019.6h6V1023.6h-6zM1244 1019.6h2V1023.6h-2zM1254 1019.6h6V1023.6h-6zM1272 1019.6h2V1023.6h-2zM1286 1019.6h2V1023.6h-2zM1356 1019.6h2V1023.6h-2zM1200 1015.5h2V1019.6h-2zM1204 1015.5h2V1019.6h-2zM1218 1015.5h2V1019.6h-2zM1266 1015.5h2V1019.6h-2zM1200 1011.2h2V1015.5h-2zM1204 1011.2h2V1015.5h-2zM1224 1011.2h2V1015.5h-2zM1228 1011.2h2V1015.5h-2zM1238 1011.2h2V1015.5h-2zM1206 1007.2h2V1011.2h-2zM1238 1007.2h2V1011.2h-2z"/><path fill="#006dff" d="M881 1113.2h1V1122h-1zM891 1113.2h1V1122h-1zM897 1113.2h1V1122h-1zM907 1113.2h1V1122h-1zM916 1113.2h2V1122h-2zM926 1113.2h1V1122h-1zM929 1113.2h1V1122h-1zM962 1113.2h1V1122h-1zM994 1113.2h1V1122h-1zM1002 1113.2h1V1122h-1zM1012 1113.2h1V1122h-1zM1021 1113.2h1V1122h-1zM1045 1113.2h1V1122h-1zM1057 1113.2h1V1122h-1zM1060 1113.2h2V1122h-2zM1068 1113.2h1V1122h-1zM1073 1113.2h1V1122h-1zM1089 1113.2h2V1122h-2zM1093 1113.2h1V1122h-1zM1113 1113.2h1V1122h-1zM1131 1113.2h1V1122h-1zM1140 1113.2h1V1122h-1zM1157 1113.2h1V1122h-1zM1161 1113.2h3V1122h-3zM1168 1113.2h2V1122h-2zM1285 1113.2h1V1122h-1zM1293 1113.2h1V1122h-1zM1310 1113.2h1V1122h-1zM1334 1113.2h1V1122h-1zM1343 1113.2h1V1122h-1zM1370 1113.2h1V1122h-1zM1380 1113.2h1V1122h-1zM1383 1113.2h1V1122h-1zM1385 1113.2h1V1122h-1zM1394 1113.2h1V1122h-1zM1400 1113.2h1V1122h-1zM1407 1113.2h1V1122h-1zM883 1101.8h1V1113.2h-1zM891 1101.8h1V1113.2h-1zM893 1101.8h1V1113.2h-1zM916 1101.8h1V1113.2h-1zM924 1101.8h1V1113.2h-1zM929 1101.8h1V1113.2h-1zM949 1101.8h1V1113.2h-1zM956 1101.8h1V1113.2h-1zM994 1101.8h1V1113.2h-1zM1029 1101.8h1V1113.2h-1zM1032 1101.8h2V1113.2h-2zM1049 1101.8h1V1113.2h-1zM1051 1101.8h1V1113.2h-1zM1067 1101.8h1V1113.2h-1zM1072 1101.8h1V1113.2h-1zM1079 1101.8h1V1113.2h-1zM1087 1101.8h1V1113.2h-1zM1096 1101.8h2V1113.2h-2zM1106 1101.8h1V1113.2h-1zM1113 1101.8h1V1113.2h-1zM1131 1101.8h1V1113.2h-1zM1157 1101.8h1V1113.2h-1zM1161 1101.8h1V1113.2h-1zM1164 1101.8h1V1113.2h-1zM1189 1101.8h1V1113.2h-1zM1293 1101.8h1V1113.2h-1zM1339 1101.8h1V1113.2h-1zM1368 1101.8h1V1113.2h-1zM1378 1101.8h1V1113.2h-1zM1383 1101.8h1V1113.2h-1zM1385 1101.8h1V1113.2h-1zM1402 1101.8h1V1113.2h-1zM1404 1101.8h1V1113.2h-1zM893 1094.4h1V1101.8h-1zM908 1094.4h1V1101.8h-1zM911 1094.4h1V1101.8h-1zM917 1094.4h1V1101.8h-1zM923 1094.4h1V1101.8h-1zM926 1094.4h1V1101.8h-1zM936 1094.4h1V1101.8h-1zM957 1094.4h1V1101.8h-1zM980 1094.4h2V1101.8h-2zM1006 1094.4h1V1101.8h-1zM1017 1094.4h1V1101.8h-1zM1021 1094.4h2V1101.8h-2zM1046 1094.4h1V1101.8h-1zM1058 1094.4h2V1101.8h-2zM1061 1094.4h1V1101.8h-1zM1065 1094.4h2V1101.8h-2zM1072 1094.4h2V1101.8h-2zM1079 1094.4h1V1101.8h-1zM1083 1094.4h2V1101.8h-2zM1087 1094.4h2V1101.8h-2zM1106 1094.4h1V1101.8h-1zM1112 1094.4h1V1101.8h-1zM1122 1094.4h1V1101.8h-1zM1135 1094.4h2V1101.8h-2zM1142 1094.4h1V1101.8h-1zM1155 1094.4h1V1101.8h-1zM1158 1094.4h1V1101.8h-1zM1164 1094.4h1V1101.8h-1zM1169 1094.4h1V1101.8h-1zM1177 1094.4h2V1101.8h-2zM1279 1094.4h1V1101.8h-1zM1284 1094.4h2V1101.8h-2zM1311 1094.4h1V1101.8h-1zM1316 1094.4h1V1101.8h-1zM1331 1094.4h1V1101.8h-1zM1337 1094.4h3V1101.8h-3zM1350 1094.4h1V1101.8h-1zM1366 1094.4h1V1101.8h-1zM1368 1094.4h1V1101.8h-1zM1380 1094.4h1V1101.8h-1zM1384 1094.4h2V1101.8h-2zM1390 1094.4h1V1101.8h-1zM1407 1094.4h1V1101.8h-1zM784 1088.8h1V1094.4h-1zM908 1088.8h1V1094.4h-1zM982 1088.8h1V1094.4h-1zM1022 1088.8h1V1094.4h-1zM1045 1088.8h1V1094.4h-1zM1058 1088.8h1V1094.4h-1zM1067 1088.8h1V1094.4h-1zM1073 1088.8h1V1094.4h-1zM1080 1088.8h1V1094.4h-1zM1098 1088.8h1V1094.4h-1zM1104 1088.8h1V1094.4h-1zM1107 1088.8h1V1094.4h-1zM1130 1088.8h1V1094.4h-1zM1132 1088.8h1V1094.4h-1zM1136 1088.8h1V1094.4h-1zM1138 1088.8h1V1094.4h-1zM1148 1088.8h1V1094.4h-1zM1151 1088.8h1V1094.4h-1zM1153 1088.8h1V1094.4h-1zM1158 1088.8h1V1094.4h-1zM1190 1088.8h1V1094.4h-1zM1229 1088.8h1V1094.4h-1zM1249 1088.8h1V1094.4h-1zM1275 1088.8h1V1094.4h-1zM1278 1088.8h2V1094.4h-2zM1285 1088.8h1V1094.4h-1zM1293 1088.8h2V1094.4h-2zM1296 1088.8h1V1094.4h-1zM1320 1088.8h2V1094.4h-2zM1331 1088.8h1V1094.4h-1zM1333 1088.8h1V1094.4h-1zM1352 1088.8h1V1094.4h-1zM1368 1088.8h1V1094.4h-1zM1380 1088.8h1V1094.4h-1zM1386 1088.8h1V1094.4h-1zM1394 1088.8h1V1094.4h-1zM783 1084.4h1V1088.8h-1zM891 1084.4h2V1088.8h-2zM907 1084.4h1V1088.8h-1zM925 1084.4h1V1088.8h-1zM1056 1084.4h1V1088.8h-1zM1058 1084.4h1V1088.8h-1zM1080 1084.4h1V1088.8h-1zM1082 1084.4h1V1088.8h-1zM1086 1084.4h1V1088.8h-1zM1088 1084.4h1V1088.8h-1zM1099 1084.4h1V1088.8h-1zM1105 1084.4h1V1088.8h-1zM1127 1084.4h1V1088.8h-1zM1130 1084.4h1V1088.8h-1zM1132 1084.4h1V1088.8h-1zM1138 1084.4h1V1088.8h-1zM1143 1084.4h1V1088.8h-1zM1158 1084.4h1V1088.8h-1zM1160 1084.4h1V1088.8h-1zM1162 1084.4h1V1088.8h-1zM1165 1084.4h1V1088.8h-1zM1178 1084.4h1V1088.8h-1zM1188 1084.4h1V1088.8h-1zM1190 1084.4h1V1088.8h-1zM1249 1084.4h1V1088.8h-1zM1275 1084.4h1V1088.8h-1zM1277 1084.4h3V1088.8h-3zM1293 1084.4h2V1088.8h-2zM1309 1084.4h1V1088.8h-1zM1311 1084.4h1V1088.8h-1zM1331 1084.4h1V1088.8h-1zM1343 1084.4h1V1088.8h-1zM1350 1084.4h1V1088.8h-1zM1382 1084.4h1V1088.8h-1zM1385 1084.4h1V1088.8h-1zM1399 1084.4h1V1088.8h-1zM1407 1084.4h1V1088.8h-1zM783 1080.7h1V1084.4h-1zM893 1080.7h1V1084.4h-1zM925 1080.7h1V1084.4h-1zM978 1080.7h1V1084.4h-1zM1022 1080.7h1V1084.4h-1zM1046 1080.7h1V1084.4h-1zM1073 1080.7h1V1084.4h-1zM1085 1080.7h1V1084.4h-1zM1103 1080.7h1V1084.4h-1zM1105 1080.7h1V1084.4h-1zM1127 1080.7h1V1084.4h-1zM1136 1080.7h1V1084.4h-1zM1150 1080.7h1V1084.4h-1zM1153 1080.7h1V1084.4h-1zM1155 1080.7h2V1084.4h-2zM1174 1080.7h1V1084.4h-1zM1178 1080.7h1V1084.4h-1zM1189 1080.7h1V1084.4h-1zM1191 1080.7h2V1084.4h-2zM1211 1080.7h1V1084.4h-1zM1228 1080.7h1V1084.4h-1zM1249 1080.7h1V1084.4h-1zM1276 1080.7h1V1084.4h-1zM1278 1080.7h1V1084.4h-1zM1283 1080.7h1V1084.4h-1zM1290 1080.7h1V1084.4h-1zM1292 1080.7h3V1084.4h-3zM1297 1080.7h1V1084.4h-1zM1309 1080.7h1V1084.4h-1zM1311 1080.7h2V1084.4h-2zM1316 1080.7h1V1084.4h-1zM1322 1080.7h1V1084.4h-1zM1330 1080.7h2V1084.4h-2zM1333 1080.7h1V1084.4h-1zM1338 1080.7h1V1084.4h-1zM1351 1080.7h2V1084.4h-2zM1365 1080.7h2V1084.4h-2zM1369 1080.7h1V1084.4h-1zM1372 1080.7h1V1084.4h-1zM1378 1080.7h1V1084.4h-1zM1387 1080.7h1V1084.4h-1zM893 1077.5h1V1080.7h-1zM977 1077.5h4V1080.7h-4zM1017 1077.5h1V1080.7h-1zM1022 1077.5h2V1080.7h-2zM1084 1077.5h1V1080.7h-1zM1097 1077.5h1V1080.7h-1zM1130 1077.5h1V1080.7h-1zM1138 1077.5h2V1080.7h-2zM1151 1077.5h1V1080.7h-1zM1154 1077.5h1V1080.7h-1zM1161 1077.5h1V1080.7h-1zM1165 1077.5h1V1080.7h-1zM1181 1077.5h1V1080.7h-1zM1190 1077.5h4V1080.7h-4zM1211 1077.5h1V1080.7h-1zM1213 1077.5h2V1080.7h-2zM1228 1077.5h1V1080.7h-1zM1249 1077.5h1V1080.7h-1zM1253 1077.5h1V1080.7h-1zM1276 1077.5h2V1080.7h-2zM1279 1077.5h1V1080.7h-1zM1289 1077.5h2V1080.7h-2zM1293 1077.5h1V1080.7h-1zM1296 1077.5h1V1080.7h-1zM1312 1077.5h1V1080.7h-1zM1330 1077.5h2V1080.7h-2zM1334 1077.5h1V1080.7h-1zM1336 1077.5h1V1080.7h-1zM1352 1077.5h1V1080.7h-1zM1363 1077.5h1V1080.7h-1zM1369 1077.5h1V1080.7h-1zM1379 1077.5h1V1080.7h-1zM1387 1077.5h1V1080.7h-1zM1405 1077.5h1V1080.7h-1zM893 1072.3h1V1077.5h-1zM1018 1072.3h1V1077.5h-1zM1086 1072.3h1V1077.5h-1zM1097 1072.3h1V1077.5h-1zM1104 1072.3h1V1077.5h-1zM1137 1072.3h1V1077.5h-1zM1143 1072.3h1V1077.5h-1zM1150 1072.3h1V1077.5h-1zM1154 1072.3h1V1077.5h-1zM1156 1072.3h1V1077.5h-1zM1166 1072.3h1V1077.5h-1zM1188 1072.3h1V1077.5h-1zM1191 1072.3h2V1077.5h-2zM1214 1072.3h1V1077.5h-1zM1228 1072.3h1V1077.5h-1zM1245 1072.3h1V1077.5h-1zM1249 1072.3h1V1077.5h-1zM1253 1072.3h1V1077.5h-1zM1276 1072.3h1V1077.5h-1zM1283 1072.3h1V1077.5h-1zM1286 1072.3h1V1077.5h-1zM1293 1072.3h1V1077.5h-1zM1297 1072.3h1V1077.5h-1zM1305 1072.3h2V1077.5h-2zM1314 1072.3h1V1077.5h-1zM1317 1072.3h1V1077.5h-1zM1323 1072.3h1V1077.5h-1zM1327 1072.3h1V1077.5h-1zM1336 1072.3h1V1077.5h-1zM1340 1072.3h1V1077.5h-1zM1363 1072.3h1V1077.5h-1zM1368 1072.3h1V1077.5h-1zM1376 1072.3h1V1077.5h-1zM1378 1072.3h1V1077.5h-1zM1380 1072.3h1V1077.5h-1zM1387 1072.3h1V1077.5h-1zM1394 1072.3h1V1077.5h-1zM1404 1072.3h1V1077.5h-1zM1406 1072.3h1V1077.5h-1zM761 1068h1V1072.3h-1zM763 1068h1V1072.3h-1zM978 1068h2V1072.3h-2zM1017 1068h1V1072.3h-1zM1052 1068h1V1072.3h-1zM1104 1068h1V1072.3h-1zM1137 1068h1V1072.3h-1zM1150 1068h1V1072.3h-1zM1154 1068h1V1072.3h-1zM1158 1068h1V1072.3h-1zM1160 1068h1V1072.3h-1zM1165 1068h3V1072.3h-3zM1173 1068h1V1072.3h-1zM1189 1068h1V1072.3h-1zM1194 1068h1V1072.3h-1zM1213 1068h1V1072.3h-1zM1244 1068h2V1072.3h-2zM1274 1068h1V1072.3h-1zM1276 1068h2V1072.3h-2zM1283 1068h1V1072.3h-1zM1286 1068h1V1072.3h-1zM1305 1068h1V1072.3h-1zM1317 1068h1V1072.3h-1zM1325 1068h1V1072.3h-1zM1332 1068h1V1072.3h-1zM1341 1068h1V1072.3h-1zM1351 1068h1V1072.3h-1zM1360 1068h1V1072.3h-1zM1363 1068h1V1072.3h-1zM1373 1068h1V1072.3h-1zM1377 1068h1V1072.3h-1zM1383 1068h1V1072.3h-1zM1387 1068h1V1072.3h-1zM1403 1068h1V1072.3h-1zM1405 1068h1V1072.3h-1zM978 1064.5h1V1068h-1zM1023 1064.5h1V1068h-1zM1052 1064.5h1V1068h-1zM1103 1064.5h1V1068h-1zM1105 1064.5h1V1068h-1zM1130 1064.5h1V1068h-1zM1138 1064.5h2V1068h-2zM1143 1064.5h1V1068h-1zM1159 1064.5h1V1068h-1zM1165 1064.5h1V1068h-1zM1170 1064.5h1V1068h-1zM1173 1064.5h1V1068h-1zM1181 1064.5h1V1068h-1zM1187 1064.5h1V1068h-1zM1189 1064.5h1V1068h-1zM1220 1064.5h2V1068h-2zM1232 1064.5h2V1068h-2zM1237 1064.5h1V1068h-1zM1245 1064.5h1V1068h-1zM1257 1064.5h1V1068h-1zM1262 1064.5h1V1068h-1zM1274 1064.5h1V1068h-1zM1286 1064.5h1V1068h-1zM1289 1064.5h1V1068h-1zM1291 1064.5h2V1068h-2zM1294 1064.5h1V1068h-1zM1305 1064.5h2V1068h-2zM1315 1064.5h1V1068h-1zM1323 1064.5h1V1068h-1zM1328 1064.5h3V1068h-3zM1373 1064.5h2V1068h-2zM1377 1064.5h1V1068h-1zM1382 1064.5h1V1068h-1zM1388 1064.5h1V1068h-1zM1403 1064.5h1V1068h-1zM1405 1064.5h1V1068h-1zM762 1060h1V1064.5h-1zM1018 1060h1V1064.5h-1zM1022 1060h1V1064.5h-1zM1053 1060h1V1064.5h-1zM1152 1060h1V1064.5h-1zM1173 1060h1V1064.5h-1zM1179 1060h1V1064.5h-1zM1190 1060h1V1064.5h-1zM1196 1060h1V1064.5h-1zM1214 1060h1V1064.5h-1zM1221 1060h1V1064.5h-1zM1232 1060h1V1064.5h-1zM1236 1060h1V1064.5h-1zM1240 1060h1V1064.5h-1zM1242 1060h1V1064.5h-1zM1250 1060h1V1064.5h-1zM1252 1060h2V1064.5h-2zM1257 1060h3V1064.5h-3zM1263 1060h1V1064.5h-1zM1280 1060h1V1064.5h-1zM1292 1060h1V1064.5h-1zM1295 1060h1V1064.5h-1zM1308 1060h1V1064.5h-1zM1312 1060h2V1064.5h-2zM1327 1060h1V1064.5h-1zM1360 1060h1V1064.5h-1zM1374 1060h2V1064.5h-2zM1381 1060h1V1064.5h-1zM1403 1060h1V1064.5h-1zM1406 1060h1V1064.5h-1zM762 1056.3h1V1060h-1zM1103 1056.3h1V1060h-1zM1134 1056.3h1V1060h-1zM1137 1056.3h1V1060h-1zM1150 1056.3h1V1060h-1zM1154 1056.3h1V1060h-1zM1159 1056.3h2V1060h-2zM1172 1056.3h2V1060h-2zM1179 1056.3h1V1060h-1zM1182 1056.3h1V1060h-1zM1186 1056.3h1V1060h-1zM1192 1056.3h1V1060h-1zM1195 1056.3h2V1060h-2zM1202 1056.3h1V1060h-1zM1218 1056.3h1V1060h-1zM1220 1056.3h1V1060h-1zM1232 1056.3h1V1060h-1zM1236 1056.3h2V1060h-2zM1242 1056.3h1V1060h-1zM1248 1056.3h3V1060h-3zM1258 1056.3h2V1060h-2zM1262 1056.3h2V1060h-2zM1269 1056.3h1V1060h-1zM1274 1056.3h2V1060h-2zM1286 1056.3h1V1060h-1zM1296 1056.3h1V1060h-1zM1299 1056.3h2V1060h-2zM1308 1056.3h1V1060h-1zM1312 1056.3h2V1060h-2zM1323 1056.3h1V1060h-1zM1325 1056.3h1V1060h-1zM1330 1056.3h1V1060h-1zM1332 1056.3h1V1060h-1zM1341 1056.3h1V1060h-1zM1345 1056.3h1V1060h-1zM1347 1056.3h1V1060h-1zM1353 1056.3h2V1060h-2zM1365 1056.3h1V1060h-1zM1369 1056.3h1V1060h-1zM1376 1056.3h1V1060h-1zM1387 1056.3h1V1060h-1zM1397 1056.3h2V1060h-2zM1103 1052.2h1V1056.3h-1zM1134 1052.2h1V1056.3h-1zM1159 1052.2h1V1056.3h-1zM1170 1052.2h3V1056.3h-3zM1184 1052.2h1V1056.3h-1zM1186 1052.2h1V1056.3h-1zM1189 1052.2h1V1056.3h-1zM1199 1052.2h1V1056.3h-1zM1215 1052.2h1V1056.3h-1zM1218 1052.2h1V1056.3h-1zM1240 1052.2h2V1056.3h-2zM1245 1052.2h1V1056.3h-1zM1256 1052.2h3V1056.3h-3zM1264 1052.2h1V1056.3h-1zM1269 1052.2h1V1056.3h-1zM1278 1052.2h1V1056.3h-1zM1283 1052.2h1V1056.3h-1zM1285 1052.2h1V1056.3h-1zM1292 1052.2h1V1056.3h-1zM1299 1052.2h1V1056.3h-1zM1304 1052.2h1V1056.3h-1zM1308 1052.2h1V1056.3h-1zM1311 1052.2h1V1056.3h-1zM1317 1052.2h1V1056.3h-1zM1319 1052.2h2V1056.3h-2zM1325 1052.2h2V1056.3h-2zM1336 1052.2h1V1056.3h-1zM1341 1052.2h1V1056.3h-1zM1345 1052.2h1V1056.3h-1zM1347 1052.2h4V1056.3h-4zM1353 1052.2h2V1056.3h-2zM1357 1052.2h1V1056.3h-1zM1359 1052.2h1V1056.3h-1zM1361 1052.2h1V1056.3h-1zM1369 1052.2h1V1056.3h-1zM1376 1052.2h1V1056.3h-1zM1381 1052.2h1V1056.3h-1zM1395 1052.2h1V1056.3h-1zM1398 1052.2h1V1056.3h-1zM1406 1052.2h1V1056.3h-1zM1134 1047.9h1V1052.2h-1zM1186 1047.9h1V1052.2h-1zM1197 1047.9h1V1052.2h-1zM1211 1047.9h1V1052.2h-1zM1217 1047.9h2V1052.2h-2zM1227 1047.9h1V1052.2h-1zM1233 1047.9h1V1052.2h-1zM1240 1047.9h1V1052.2h-1zM1243 1047.9h3V1052.2h-3zM1248 1047.9h1V1052.2h-1zM1251 1047.9h2V1052.2h-2zM1259 1047.9h1V1052.2h-1zM1271 1047.9h2V1052.2h-2zM1278 1047.9h1V1052.2h-1zM1280 1047.9h1V1052.2h-1zM1292 1047.9h1V1052.2h-1zM1295 1047.9h1V1052.2h-1zM1303 1047.9h1V1052.2h-1zM1306 1047.9h1V1052.2h-1zM1327 1047.9h1V1052.2h-1zM1342 1047.9h1V1052.2h-1zM1344 1047.9h2V1052.2h-2zM1353 1047.9h1V1052.2h-1zM1374 1047.9h1V1052.2h-1zM1397 1047.9h1V1052.2h-1zM1173 1043.7h1V1047.9h-1zM1180 1043.7h1V1047.9h-1zM1183 1043.7h1V1047.9h-1zM1186 1043.7h1V1047.9h-1zM1194 1043.7h3V1047.9h-3zM1198 1043.7h1V1047.9h-1zM1201 1043.7h1V1047.9h-1zM1215 1043.7h1V1047.9h-1zM1225 1043.7h1V1047.9h-1zM1227 1043.7h1V1047.9h-1zM1231 1043.7h2V1047.9h-2zM1254 1043.7h1V1047.9h-1zM1271 1043.7h1V1047.9h-1zM1273 1043.7h1V1047.9h-1zM1281 1043.7h2V1047.9h-2zM1287 1043.7h1V1047.9h-1zM1304 1043.7h2V1047.9h-2zM1308 1043.7h1V1047.9h-1zM1323 1043.7h2V1047.9h-2zM1328 1043.7h2V1047.9h-2zM1353 1043.7h5V1047.9h-5zM1376 1043.7h1V1047.9h-1zM1396 1043.7h1V1047.9h-1zM1180 1039.6h1V1043.7h-1zM1183 1039.6h1V1043.7h-1zM1189 1039.6h1V1043.7h-1zM1193 1039.6h1V1043.7h-1zM1198 1039.6h4V1043.7h-4zM1203 1039.6h1V1043.7h-1zM1206 1039.6h1V1043.7h-1zM1216 1039.6h1V1043.7h-1zM1225 1039.6h1V1043.7h-1zM1230 1039.6h1V1043.7h-1zM1238 1039.6h1V1043.7h-1zM1243 1039.6h2V1043.7h-2zM1246 1039.6h1V1043.7h-1zM1251 1039.6h1V1043.7h-1zM1261 1039.6h1V1043.7h-1zM1272 1039.6h3V1043.7h-3zM1278 1039.6h1V1043.7h-1zM1280 1039.6h1V1043.7h-1zM1288 1039.6h1V1043.7h-1zM1291 1039.6h1V1043.7h-1zM1295 1039.6h1V1043.7h-1zM1307 1039.6h2V1043.7h-2zM1324 1039.6h1V1043.7h-1zM1326 1039.6h1V1043.7h-1zM1329 1039.6h1V1043.7h-1zM1346 1039.6h1V1043.7h-1zM1349 1039.6h1V1043.7h-1zM1354 1039.6h5V1043.7h-5zM1395 1039.6h2V1043.7h-2zM1184 1035.7h2V1039.6h-2zM1200 1035.7h2V1039.6h-2zM1204 1035.7h2V1039.6h-2zM1214 1035.7h4V1039.6h-4zM1222 1035.7h6V1039.6h-6zM1230 1035.7h2V1039.6h-2zM1238 1035.7h6V1039.6h-6zM1254 1035.7h4V1039.6h-4zM1270 1035.7h4V1039.6h-4zM1280 1035.7h2V1039.6h-2zM1302 1035.7h2V1039.6h-2zM1200 1031.6h4V1035.7h-4zM1206 1031.6h2V1035.7h-2zM1224 1031.6h2V1035.7h-2zM1244 1031.6h4V1035.7h-4zM1260 1031.6h2V1035.7h-2zM1266 1031.6h2V1035.7h-2zM1298 1031.6h2V1035.7h-2zM1356 1031.6h2V1035.7h-2zM1198 1027.6h4V1031.6h-4zM1204 1027.6h2V1031.6h-2zM1208 1027.6h2V1031.6h-2zM1218 1027.6h2V1031.6h-2zM1222 1027.6h2V1031.6h-2zM1226 1027.6h2V1031.6h-2zM1230 1027.6h2V1031.6h-2zM1254 1027.6h2V1031.6h-2zM1260 1027.6h2V1031.6h-2zM1264 1027.6h4V1031.6h-4zM1356 1027.6h2V1031.6h-2zM1206 1023.6h4V1027.6h-4zM1226 1023.6h2V1027.6h-2zM1254 1023.6h2V1027.6h-2zM1266 1023.6h2V1027.6h-2zM1280 1023.6h2V1027.6h-2zM1212 1019.6h2V1023.6h-2zM1226 1019.6h2V1023.6h-2zM1246 1019.6h2V1023.6h-2zM1208 1015.5h2V1019.6h-2zM1222 1015.5h2V1019.6h-2zM1238 1015.5h2V1019.6h-2z"/><path fill="#0092ff" d="M903 1113.2h1V1122h-1zM911 1113.2h1V1122h-1zM936 1113.2h1V1122h-1zM980 1113.2h1V1122h-1zM1006 1113.2h1V1122h-1zM1023 1113.2h1V1122h-1zM1028 1113.2h2V1122h-2zM1033 1113.2h1V1122h-1zM1065 1113.2h1V1122h-1zM1069 1113.2h1V1122h-1zM1079 1113.2h1V1122h-1zM1084 1113.2h1V1122h-1zM1098 1113.2h1V1122h-1zM1107 1113.2h2V1122h-2zM1112 1113.2h1V1122h-1zM1132 1113.2h1V1122h-1zM1135 1113.2h1V1122h-1zM1144 1113.2h1V1122h-1zM1149 1113.2h1V1122h-1zM1155 1113.2h1V1122h-1zM1158 1113.2h1V1122h-1zM1165 1113.2h1V1122h-1zM1178 1113.2h1V1122h-1zM1193 1113.2h1V1122h-1zM1211 1113.2h1V1122h-1zM1228 1113.2h1V1122h-1zM1275 1113.2h1V1122h-1zM1284 1113.2h1V1122h-1zM1294 1113.2h1V1122h-1zM1312 1113.2h1V1122h-1zM1314 1113.2h2V1122h-2zM1320 1113.2h1V1122h-1zM1342 1113.2h1V1122h-1zM1364 1113.2h1V1122h-1zM1371 1113.2h1V1122h-1zM1378 1113.2h1V1122h-1zM1399 1113.2h1V1122h-1zM1403 1113.2h1V1122h-1zM784 1101.8h1V1113.2h-1zM881 1101.8h1V1113.2h-1zM903 1101.8h1V1113.2h-1zM917 1101.8h1V1113.2h-1zM923 1101.8h1V1113.2h-1zM948 1101.8h1V1113.2h-1zM950 1101.8h1V1113.2h-1zM957 1101.8h1V1113.2h-1zM980 1101.8h1V1113.2h-1zM982 1101.8h1V1113.2h-1zM1006 1101.8h1V1113.2h-1zM1021 1101.8h1V1113.2h-1zM1023 1101.8h1V1113.2h-1zM1028 1101.8h1V1113.2h-1zM1056 1101.8h1V1113.2h-1zM1061 1101.8h1V1113.2h-1zM1073 1101.8h1V1113.2h-1zM1084 1101.8h1V1113.2h-1zM1089 1101.8h1V1113.2h-1zM1098 1101.8h1V1113.2h-1zM1112 1101.8h1V1113.2h-1zM1129 1101.8h1V1113.2h-1zM1132 1101.8h1V1113.2h-1zM1136 1101.8h1V1113.2h-1zM1149 1101.8h1V1113.2h-1zM1152 1101.8h2V1113.2h-2zM1162 1101.8h1V1113.2h-1zM1166 1101.8h1V1113.2h-1zM1190 1101.8h1V1113.2h-1zM1275 1101.8h1V1113.2h-1zM1320 1101.8h2V1113.2h-2zM1331 1101.8h1V1113.2h-1zM1333 1101.8h2V1113.2h-2zM1350 1101.8h1V1113.2h-1zM1370 1101.8h1V1113.2h-1zM1384 1101.8h1V1113.2h-1zM1394 1101.8h1V1113.2h-1zM1399 1101.8h1V1113.2h-1zM783 1094.4h2V1101.8h-2zM907 1094.4h1V1101.8h-1zM929 1094.4h1V1101.8h-1zM962 1094.4h1V1101.8h-1zM1023 1094.4h1V1101.8h-1zM1029 1094.4h1V1101.8h-1zM1097 1094.4h3V1101.8h-3zM1105 1094.4h1V1101.8h-1zM1107 1094.4h1V1101.8h-1zM1127 1094.4h1V1101.8h-1zM1132 1094.4h1V1101.8h-1zM1140 1094.4h1V1101.8h-1zM1143 1094.4h1V1101.8h-1zM1148 1094.4h1V1101.8h-1zM1150 1094.4h2V1101.8h-2zM1153 1094.4h1V1101.8h-1zM1189 1094.4h1V1101.8h-1zM1193 1094.4h1V1101.8h-1zM1275 1094.4h1V1101.8h-1zM1278 1094.4h1V1101.8h-1zM1293 1094.4h2V1101.8h-2zM1310 1094.4h1V1101.8h-1zM1315 1094.4h1V1101.8h-1zM1320 1094.4h1V1101.8h-1zM1330 1094.4h1V1101.8h-1zM1333 1094.4h2V1101.8h-2zM1340 1094.4h1V1101.8h-1zM1342 1094.4h2V1101.8h-2zM1377 1094.4h2V1101.8h-2zM1383 1094.4h1V1101.8h-1zM1389 1094.4h1V1101.8h-1zM783 1088.8h1V1094.4h-1zM891 1088.8h1V1094.4h-1zM903 1088.8h2V1094.4h-2zM917 1088.8h1V1094.4h-1zM925 1088.8h1V1094.4h-1zM1065 1088.8h2V1094.4h-2zM1082 1088.8h1V1094.4h-1zM1097 1088.8h1V1094.4h-1zM1099 1088.8h1V1094.4h-1zM1112 1088.8h1V1094.4h-1zM1127 1088.8h1V1094.4h-1zM1139 1088.8h1V1094.4h-1zM1143 1088.8h1V1094.4h-1zM1152 1088.8h1V1094.4h-1zM1155 1088.8h1V1094.4h-1zM1174 1088.8h2V1094.4h-2zM1191 1088.8h3V1094.4h-3zM1214 1088.8h1V1094.4h-1zM1228 1088.8h1V1094.4h-1zM1245 1088.8h1V1094.4h-1zM1263 1088.8h1V1094.4h-1zM1277 1088.8h1V1094.4h-1zM1286 1088.8h1V1094.4h-1zM1289 1088.8h1V1094.4h-1zM1309 1088.8h2V1094.4h-2zM1315 1088.8h1V1094.4h-1zM1322 1088.8h1V1094.4h-1zM1336 1088.8h1V1094.4h-1zM1340 1088.8h1V1094.4h-1zM1343 1088.8h1V1094.4h-1zM1363 1088.8h3V1094.4h-3zM1387 1088.8h1V1094.4h-1zM1399 1088.8h1V1094.4h-1zM903 1084.4h1V1088.8h-1zM957 1084.4h1V1088.8h-1zM977 1084.4h3V1088.8h-3zM1029 1084.4h1V1088.8h-1zM1102 1084.4h1V1088.8h-1zM1107 1084.4h1V1088.8h-1zM1139 1084.4h1V1088.8h-1zM1150 1084.4h2V1088.8h-2zM1155 1084.4h2V1088.8h-2zM1169 1084.4h2V1088.8h-2zM1176 1084.4h1V1088.8h-1zM1181 1084.4h1V1088.8h-1zM1189 1084.4h1V1088.8h-1zM1192 1084.4h1V1088.8h-1zM1194 1084.4h1V1088.8h-1zM1213 1084.4h1V1088.8h-1zM1221 1084.4h1V1088.8h-1zM1229 1084.4h1V1088.8h-1zM1237 1084.4h1V1088.8h-1zM1244 1084.4h1V1088.8h-1zM1253 1084.4h1V1088.8h-1zM1263 1084.4h1V1088.8h-1zM1274 1084.4h1V1088.8h-1zM1297 1084.4h1V1088.8h-1zM1300 1084.4h1V1088.8h-1zM1315 1084.4h1V1088.8h-1zM1335 1084.4h2V1088.8h-2zM1352 1084.4h1V1088.8h-1zM1365 1084.4h1V1088.8h-1zM1375 1084.4h1V1088.8h-1zM1378 1084.4h1V1088.8h-1zM1383 1084.4h1V1088.8h-1zM1387 1084.4h1V1088.8h-1zM1389 1084.4h1V1088.8h-1zM1403 1084.4h1V1088.8h-1zM1405 1084.4h1V1088.8h-1zM979 1080.7h1V1084.4h-1zM1052 1080.7h2V1084.4h-2zM1066 1080.7h1V1084.4h-1zM1080 1080.7h1V1084.4h-1zM1082 1080.7h1V1084.4h-1zM1097 1080.7h1V1084.4h-1zM1099 1080.7h1V1084.4h-1zM1102 1080.7h1V1084.4h-1zM1104 1080.7h1V1084.4h-1zM1130 1080.7h1V1084.4h-1zM1134 1080.7h1V1084.4h-1zM1152 1080.7h1V1084.4h-1zM1154 1080.7h1V1084.4h-1zM1160 1080.7h1V1084.4h-1zM1162 1080.7h1V1084.4h-1zM1165 1080.7h2V1084.4h-2zM1170 1080.7h1V1084.4h-1zM1181 1080.7h1V1084.4h-1zM1187 1080.7h2V1084.4h-2zM1193 1080.7h2V1084.4h-2zM1213 1080.7h1V1084.4h-1zM1242 1080.7h1V1084.4h-1zM1245 1080.7h1V1084.4h-1zM1253 1080.7h1V1084.4h-1zM1258 1080.7h1V1084.4h-1zM1263 1080.7h1V1084.4h-1zM1274 1080.7h1V1084.4h-1zM1296 1080.7h1V1084.4h-1zM1314 1080.7h1V1084.4h-1zM1317 1080.7h1V1084.4h-1zM1335 1080.7h2V1084.4h-2zM1339 1080.7h1V1084.4h-1zM1341 1080.7h1V1084.4h-1zM1343 1080.7h1V1084.4h-1zM1345 1080.7h1V1084.4h-1zM1363 1080.7h1V1084.4h-1zM1373 1080.7h1V1084.4h-1zM1382 1080.7h1V1084.4h-1zM1404 1080.7h2V1084.4h-2zM761 1077.5h1V1080.7h-1zM763 1077.5h1V1080.7h-1zM892 1077.5h1V1080.7h-1zM1053 1077.5h1V1080.7h-1zM1065 1077.5h1V1080.7h-1zM1102 1077.5h1V1080.7h-1zM1105 1077.5h1V1080.7h-1zM1133 1077.5h2V1080.7h-2zM1137 1077.5h1V1080.7h-1zM1150 1077.5h1V1080.7h-1zM1156 1077.5h1V1080.7h-1zM1162 1077.5h1V1080.7h-1zM1177 1077.5h1V1080.7h-1zM1187 1077.5h3V1080.7h-3zM1194 1077.5h1V1080.7h-1zM1221 1077.5h1V1080.7h-1zM1229 1077.5h1V1080.7h-1zM1232 1077.5h1V1080.7h-1zM1237 1077.5h1V1080.7h-1zM1244 1077.5h2V1080.7h-2zM1250 1077.5h1V1080.7h-1zM1259 1077.5h1V1080.7h-1zM1263 1077.5h1V1080.7h-1zM1274 1077.5h2V1080.7h-2zM1283 1077.5h1V1080.7h-1zM1294 1077.5h1V1080.7h-1zM1306 1077.5h1V1080.7h-1zM1315 1077.5h1V1080.7h-1zM1317 1077.5h1V1080.7h-1zM1327 1077.5h1V1080.7h-1zM1341 1077.5h1V1080.7h-1zM1345 1077.5h1V1080.7h-1zM1375 1077.5h2V1080.7h-2zM1382 1077.5h1V1080.7h-1zM1394 1077.5h1V1080.7h-1zM1407 1077.5h1V1080.7h-1zM761 1072.3h1V1077.5h-1zM763 1072.3h1V1077.5h-1zM1017 1072.3h1V1077.5h-1zM1052 1072.3h1V1077.5h-1zM1102 1072.3h2V1077.5h-2zM1130 1072.3h1V1077.5h-1zM1139 1072.3h1V1077.5h-1zM1160 1072.3h1V1077.5h-1zM1170 1072.3h1V1077.5h-1zM1177 1072.3h1V1077.5h-1zM1181 1072.3h1V1077.5h-1zM1196 1072.3h1V1077.5h-1zM1210 1072.3h1V1077.5h-1zM1237 1072.3h1V1077.5h-1zM1244 1072.3h1V1077.5h-1zM1250 1072.3h1V1077.5h-1zM1252 1072.3h1V1077.5h-1zM1257 1072.3h3V1077.5h-3zM1269 1072.3h1V1077.5h-1zM1274 1072.3h1V1077.5h-1zM1279 1072.3h2V1077.5h-2zM1285 1072.3h1V1077.5h-1zM1289 1072.3h1V1077.5h-1zM1295 1072.3h2V1077.5h-2zM1300 1072.3h1V1077.5h-1zM1313 1072.3h1V1077.5h-1zM1332 1072.3h2V1077.5h-2zM1335 1072.3h1V1077.5h-1zM1345 1072.3h2V1077.5h-2zM1373 1072.3h1V1077.5h-1zM1377 1072.3h1V1077.5h-1zM1382 1072.3h1V1077.5h-1zM1384 1072.3h1V1077.5h-1zM1397 1072.3h1V1077.5h-1zM762 1068h1V1072.3h-1zM1103 1068h1V1072.3h-1zM1133 1068h1V1072.3h-1zM1170 1068h2V1072.3h-2zM1178 1068h1V1072.3h-1zM1186 1068h2V1072.3h-2zM1192 1068h1V1072.3h-1zM1195 1068h1V1072.3h-1zM1210 1068h1V1072.3h-1zM1229 1068h1V1072.3h-1zM1233 1068h1V1072.3h-1zM1241 1068h1V1072.3h-1zM1250 1068h1V1072.3h-1zM1252 1068h1V1072.3h-1zM1258 1068h1V1072.3h-1zM1262 1068h2V1072.3h-2zM1278 1068h1V1072.3h-1zM1290 1068h2V1072.3h-2zM1293 1068h1V1072.3h-1zM1295 1068h1V1072.3h-1zM1306 1068h1V1072.3h-1zM1310 1068h1V1072.3h-1zM1314 1068h1V1072.3h-1zM1319 1068h1V1072.3h-1zM1323 1068h1V1072.3h-1zM1327 1068h1V1072.3h-1zM1331 1068h1V1072.3h-1zM1346 1068h1V1072.3h-1zM1365 1068h1V1072.3h-1zM1369 1068h1V1072.3h-1zM1381 1068h2V1072.3h-2zM1396 1068h1V1072.3h-1zM1406 1068h1V1072.3h-1zM762 1064.5h1V1068h-1zM1160 1064.5h1V1068h-1zM1171 1064.5h2V1068h-2zM1191 1064.5h1V1068h-1zM1195 1064.5h3V1068h-3zM1211 1064.5h1V1068h-1zM1214 1064.5h1V1068h-1zM1236 1064.5h1V1068h-1zM1240 1064.5h1V1068h-1zM1243 1064.5h2V1068h-2zM1252 1064.5h1V1068h-1zM1254 1064.5h1V1068h-1zM1256 1064.5h1V1068h-1zM1258 1064.5h1V1068h-1zM1260 1064.5h1V1068h-1zM1264 1064.5h1V1068h-1zM1272 1064.5h1V1068h-1zM1275 1064.5h1V1068h-1zM1278 1064.5h1V1068h-1zM1280 1064.5h1V1068h-1zM1285 1064.5h1V1068h-1zM1298 1064.5h1V1068h-1zM1304 1064.5h1V1068h-1zM1309 1064.5h1V1068h-1zM1313 1064.5h1V1068h-1zM1319 1064.5h1V1068h-1zM1324 1064.5h2V1068h-2zM1327 1064.5h1V1068h-1zM1332 1064.5h1V1068h-1zM1335 1064.5h1V1068h-1zM1341 1064.5h1V1068h-1zM1344 1064.5h2V1068h-2zM1357 1064.5h1V1068h-1zM1360 1064.5h1V1068h-1zM1376 1064.5h1V1068h-1zM1381 1064.5h1V1068h-1zM1389 1064.5h1V1068h-1zM1103 1060h1V1064.5h-1zM1133 1060h1V1064.5h-1zM1170 1060h3V1064.5h-3zM1180 1060h3V1064.5h-3zM1184 1060h1V1064.5h-1zM1186 1060h1V1064.5h-1zM1195 1060h1V1064.5h-1zM1197 1060h2V1064.5h-2zM1202 1060h1V1064.5h-1zM1215 1060h1V1064.5h-1zM1217 1060h1V1064.5h-1zM1220 1060h1V1064.5h-1zM1244 1060h1V1064.5h-1zM1248 1060h1V1064.5h-1zM1256 1060h1V1064.5h-1zM1260 1060h1V1064.5h-1zM1262 1060h1V1064.5h-1zM1269 1060h1V1064.5h-1zM1272 1060h1V1064.5h-1zM1291 1060h1V1064.5h-1zM1298 1060h1V1064.5h-1zM1305 1060h2V1064.5h-2zM1319 1060h1V1064.5h-1zM1325 1060h1V1064.5h-1zM1332 1060h1V1064.5h-1zM1335 1060h1V1064.5h-1zM1341 1060h1V1064.5h-1zM1349 1060h1V1064.5h-1zM1373 1060h1V1064.5h-1zM1398 1060h1V1064.5h-1zM1170 1056.3h2V1060h-2zM1199 1056.3h1V1060h-1zM1201 1056.3h1V1060h-1zM1212 1056.3h1V1060h-1zM1217 1056.3h1V1060h-1zM1221 1056.3h2V1060h-2zM1225 1056.3h1V1060h-1zM1240 1056.3h1V1060h-1zM1254 1056.3h1V1060h-1zM1260 1056.3h1V1060h-1zM1280 1056.3h1V1060h-1zM1282 1056.3h1V1060h-1zM1298 1056.3h1V1060h-1zM1322 1056.3h1V1060h-1zM1326 1056.3h1V1060h-1zM1329 1056.3h1V1060h-1zM1335 1056.3h1V1060h-1zM1344 1056.3h1V1060h-1zM1349 1056.3h1V1060h-1zM1357 1056.3h1V1060h-1zM1360 1056.3h2V1060h-2zM1374 1056.3h1V1060h-1zM1381 1056.3h1V1060h-1zM1395 1056.3h1V1060h-1zM1180 1052.2h1V1056.3h-1zM1195 1052.2h1V1056.3h-1zM1201 1052.2h1V1056.3h-1zM1205 1052.2h1V1056.3h-1zM1214 1052.2h1V1056.3h-1zM1222 1052.2h1V1056.3h-1zM1228 1052.2h1V1056.3h-1zM1244 1052.2h1V1056.3h-1zM1252 1052.2h2V1056.3h-2zM1265 1052.2h2V1056.3h-2zM1271 1052.2h2V1056.3h-2zM1282 1052.2h1V1056.3h-1zM1295 1052.2h1V1056.3h-1zM1298 1052.2h1V1056.3h-1zM1306 1052.2h1V1056.3h-1zM1318 1052.2h1V1056.3h-1zM1329 1052.2h1V1056.3h-1zM1344 1052.2h1V1056.3h-1zM1346 1052.2h1V1056.3h-1zM1388 1052.2h1V1056.3h-1zM1397 1052.2h1V1056.3h-1zM1182 1047.9h1V1052.2h-1zM1184 1047.9h1V1052.2h-1zM1194 1047.9h1V1052.2h-1zM1196 1047.9h1V1052.2h-1zM1198 1047.9h1V1052.2h-1zM1222 1047.9h2V1052.2h-2zM1225 1047.9h1V1052.2h-1zM1232 1047.9h1V1052.2h-1zM1239 1047.9h1V1052.2h-1zM1242 1047.9h1V1052.2h-1zM1246 1047.9h1V1052.2h-1zM1258 1047.9h1V1052.2h-1zM1260 1047.9h1V1052.2h-1zM1263 1047.9h1V1052.2h-1zM1268 1047.9h1V1052.2h-1zM1273 1047.9h1V1052.2h-1zM1277 1047.9h1V1052.2h-1zM1291 1047.9h1V1052.2h-1zM1298 1047.9h1V1052.2h-1zM1301 1047.9h1V1052.2h-1zM1304 1047.9h1V1052.2h-1zM1318 1047.9h2V1052.2h-2zM1329 1047.9h1V1052.2h-1zM1349 1047.9h1V1052.2h-1zM1354 1047.9h2V1052.2h-2zM1359 1047.9h1V1052.2h-1zM1361 1047.9h2V1052.2h-2zM1398 1047.9h1V1052.2h-1zM1184 1043.7h2V1047.9h-2zM1211 1043.7h1V1047.9h-1zM1217 1043.7h1V1047.9h-1zM1220 1043.7h2V1047.9h-2zM1230 1043.7h1V1047.9h-1zM1238 1043.7h1V1047.9h-1zM1241 1043.7h1V1047.9h-1zM1245 1043.7h1V1047.9h-1zM1249 1043.7h1V1047.9h-1zM1261 1043.7h1V1047.9h-1zM1266 1043.7h1V1047.9h-1zM1268 1043.7h1V1047.9h-1zM1270 1043.7h1V1047.9h-1zM1292 1043.7h1V1047.9h-1zM1302 1043.7h1V1047.9h-1zM1307 1043.7h1V1047.9h-1zM1318 1043.7h1V1047.9h-1zM1348 1043.7h2V1047.9h-2zM1359 1043.7h3V1047.9h-3zM1381 1043.7h1V1047.9h-1zM1395 1043.7h1V1047.9h-1zM1397 1043.7h1V1047.9h-1zM1184 1039.6h1V1043.7h-1zM1187 1039.6h1V1043.7h-1zM1194 1039.6h4V1043.7h-4zM1205 1039.6h1V1043.7h-1zM1219 1039.6h1V1043.7h-1zM1226 1039.6h2V1043.7h-2zM1234 1039.6h2V1043.7h-2zM1237 1039.6h1V1043.7h-1zM1239 1039.6h2V1043.7h-2zM1255 1039.6h1V1043.7h-1zM1260 1039.6h1V1043.7h-1zM1265 1039.6h1V1043.7h-1zM1269 1039.6h1V1043.7h-1zM1271 1039.6h1V1043.7h-1zM1287 1039.6h1V1043.7h-1zM1302 1039.6h1V1043.7h-1zM1319 1039.6h1V1043.7h-1zM1374 1039.6h1V1043.7h-1zM1206 1035.7h2V1039.6h-2zM1266 1035.7h2V1039.6h-2zM1218 1031.6h2V1035.7h-2zM1222 1031.6h2V1035.7h-2zM1234 1031.6h2V1035.7h-2zM1234 1027.6h2V1031.6h-2zM1234 1023.6h2V1027.6h-2z"/><path fill="#00b6ff" d="M784 1113.2h1V1122h-1zM908 1113.2h1V1122h-1zM956 1113.2h2V1122h-2zM979 1113.2h1V1122h-1zM982 1113.2h1V1122h-1zM1017 1113.2h1V1122h-1zM1046 1113.2h1V1122h-1zM1081 1113.2h1V1122h-1zM1086 1113.2h1V1122h-1zM1088 1113.2h1V1122h-1zM1097 1113.2h1V1122h-1zM1102 1113.2h1V1122h-1zM1105 1113.2h1V1122h-1zM1127 1113.2h1V1122h-1zM1136 1113.2h3V1122h-3zM1143 1113.2h1V1122h-1zM1150 1113.2h3V1122h-3zM1156 1113.2h1V1122h-1zM1166 1113.2h2V1122h-2zM1190 1113.2h1V1122h-1zM1192 1113.2h1V1122h-1zM1244 1113.2h1V1122h-1zM1249 1113.2h1V1122h-1zM1253 1113.2h1V1122h-1zM1263 1113.2h1V1122h-1zM1276 1113.2h3V1122h-3zM1283 1113.2h1V1122h-1zM1290 1113.2h1V1122h-1zM1311 1113.2h1V1122h-1zM1321 1113.2h2V1122h-2zM1331 1113.2h1V1122h-1zM1333 1113.2h1V1122h-1zM1339 1113.2h1V1122h-1zM1350 1113.2h1V1122h-1zM1352 1113.2h1V1122h-1zM1384 1113.2h1V1122h-1zM1389 1113.2h1V1122h-1zM937 1101.8h1V1113.2h-1zM979 1101.8h1V1113.2h-1zM1022 1101.8h1V1113.2h-1zM1046 1101.8h1V1113.2h-1zM1053 1101.8h1V1113.2h-1zM1065 1101.8h2V1113.2h-2zM1127 1101.8h1V1113.2h-1zM1140 1101.8h1V1113.2h-1zM1144 1101.8h1V1113.2h-1zM1155 1101.8h2V1113.2h-2zM1158 1101.8h1V1113.2h-1zM1165 1101.8h1V1113.2h-1zM1169 1101.8h2V1113.2h-2zM1192 1101.8h1V1113.2h-1zM1228 1101.8h2V1113.2h-2zM1276 1101.8h4V1113.2h-4zM1296 1101.8h1V1113.2h-1zM1309 1101.8h2V1113.2h-2zM1322 1101.8h1V1113.2h-1zM1330 1101.8h1V1113.2h-1zM1337 1101.8h1V1113.2h-1zM1352 1101.8h1V1113.2h-1zM1372 1101.8h1V1113.2h-1zM1391 1101.8h1V1113.2h-1zM1403 1101.8h1V1113.2h-1zM891 1094.4h1V1101.8h-1zM904 1094.4h1V1101.8h-1zM924 1094.4h2V1101.8h-2zM1085 1094.4h1V1101.8h-1zM1138 1094.4h2V1101.8h-2zM1154 1094.4h1V1101.8h-1zM1156 1094.4h1V1101.8h-1zM1160 1094.4h1V1101.8h-1zM1162 1094.4h1V1101.8h-1zM1166 1094.4h1V1101.8h-1zM1174 1094.4h1V1101.8h-1zM1191 1094.4h2V1101.8h-2zM1194 1094.4h1V1101.8h-1zM1211 1094.4h1V1101.8h-1zM1214 1094.4h1V1101.8h-1zM1229 1094.4h1V1101.8h-1zM1245 1094.4h1V1101.8h-1zM1253 1094.4h1V1101.8h-1zM1276 1094.4h1V1101.8h-1zM1286 1094.4h1V1101.8h-1zM1290 1094.4h1V1101.8h-1zM1296 1094.4h2V1101.8h-2zM1321 1094.4h2V1101.8h-2zM1336 1094.4h1V1101.8h-1zM1352 1094.4h1V1101.8h-1zM1364 1094.4h2V1101.8h-2zM1370 1094.4h1V1101.8h-1zM1372 1094.4h1V1101.8h-1zM1382 1094.4h1V1101.8h-1zM1394 1094.4h1V1101.8h-1zM1399 1094.4h1V1101.8h-1zM1403 1094.4h3V1101.8h-3zM763 1088.8h1V1094.4h-1zM892 1088.8h2V1094.4h-2zM1052 1088.8h2V1094.4h-2zM1085 1088.8h1V1094.4h-1zM1102 1088.8h2V1094.4h-2zM1105 1088.8h1V1094.4h-1zM1150 1088.8h1V1094.4h-1zM1154 1088.8h1V1094.4h-1zM1156 1088.8h1V1094.4h-1zM1160 1088.8h1V1094.4h-1zM1165 1088.8h1V1094.4h-1zM1179 1088.8h1V1094.4h-1zM1211 1088.8h1V1094.4h-1zM1213 1088.8h1V1094.4h-1zM1220 1088.8h1V1094.4h-1zM1242 1088.8h1V1094.4h-1zM1244 1088.8h1V1094.4h-1zM1257 1088.8h1V1094.4h-1zM1274 1088.8h1V1094.4h-1zM1290 1088.8h1V1094.4h-1zM1297 1088.8h1V1094.4h-1zM1305 1088.8h1V1094.4h-1zM1311 1088.8h3V1094.4h-3zM1317 1088.8h1V1094.4h-1zM1332 1088.8h1V1094.4h-1zM1335 1088.8h1V1094.4h-1zM1347 1088.8h1V1094.4h-1zM1350 1088.8h1V1094.4h-1zM1369 1088.8h1V1094.4h-1zM1373 1088.8h1V1094.4h-1zM1377 1088.8h1V1094.4h-1zM1382 1088.8h1V1094.4h-1zM1389 1088.8h1V1094.4h-1zM1403 1088.8h1V1094.4h-1zM1405 1088.8h1V1094.4h-1zM761 1084.4h1V1088.8h-1zM763 1084.4h1V1088.8h-1zM1017 1084.4h1V1088.8h-1zM1052 1084.4h2V1088.8h-2zM1065 1084.4h1V1088.8h-1zM1085 1084.4h1V1088.8h-1zM1097 1084.4h1V1088.8h-1zM1103 1084.4h2V1088.8h-2zM1134 1084.4h1V1088.8h-1zM1166 1084.4h1V1088.8h-1zM1174 1084.4h1V1088.8h-1zM1193 1084.4h1V1088.8h-1zM1211 1084.4h1V1088.8h-1zM1214 1084.4h1V1088.8h-1zM1220 1084.4h1V1088.8h-1zM1236 1084.4h1V1088.8h-1zM1241 1084.4h2V1088.8h-2zM1245 1084.4h1V1088.8h-1zM1256 1084.4h2V1088.8h-2zM1262 1084.4h1V1088.8h-1zM1264 1084.4h1V1088.8h-1zM1276 1084.4h1V1088.8h-1zM1280 1084.4h1V1088.8h-1zM1282 1084.4h1V1088.8h-1zM1284 1084.4h1V1088.8h-1zM1286 1084.4h1V1088.8h-1zM1289 1084.4h1V1088.8h-1zM1291 1084.4h1V1088.8h-1zM1305 1084.4h2V1088.8h-2zM1310 1084.4h1V1088.8h-1zM1314 1084.4h1V1088.8h-1zM1317 1084.4h1V1088.8h-1zM1323 1084.4h1V1088.8h-1zM1332 1084.4h1V1088.8h-1zM1347 1084.4h1V1088.8h-1zM1363 1084.4h1V1088.8h-1zM1369 1084.4h1V1088.8h-1zM1376 1084.4h2V1088.8h-2zM1381 1084.4h1V1088.8h-1zM1388 1084.4h1V1088.8h-1zM1398 1084.4h1V1088.8h-1zM761 1080.7h1V1084.4h-1zM763 1080.7h1V1084.4h-1zM892 1080.7h1V1084.4h-1zM1017 1080.7h2V1084.4h-2zM1210 1080.7h1V1084.4h-1zM1214 1080.7h1V1084.4h-1zM1220 1080.7h2V1084.4h-2zM1229 1080.7h1V1084.4h-1zM1233 1080.7h1V1084.4h-1zM1236 1080.7h1V1084.4h-1zM1252 1080.7h1V1084.4h-1zM1257 1080.7h1V1084.4h-1zM1259 1080.7h1V1084.4h-1zM1264 1080.7h1V1084.4h-1zM1279 1080.7h1V1084.4h-1zM1284 1080.7h3V1084.4h-3zM1289 1080.7h1V1084.4h-1zM1291 1080.7h1V1084.4h-1zM1305 1080.7h1V1084.4h-1zM1313 1080.7h1V1084.4h-1zM1327 1080.7h1V1084.4h-1zM1375 1080.7h1V1084.4h-1zM1389 1080.7h1V1084.4h-1zM1395 1080.7h1V1084.4h-1zM1406 1080.7h1V1084.4h-1zM1018 1077.5h1V1080.7h-1zM1103 1077.5h1V1080.7h-1zM1152 1077.5h1V1080.7h-1zM1160 1077.5h1V1080.7h-1zM1166 1077.5h1V1080.7h-1zM1170 1077.5h2V1080.7h-2zM1202 1077.5h1V1080.7h-1zM1218 1077.5h1V1080.7h-1zM1220 1077.5h1V1080.7h-1zM1227 1077.5h1V1080.7h-1zM1233 1077.5h1V1080.7h-1zM1240 1077.5h1V1080.7h-1zM1242 1077.5h1V1080.7h-1zM1248 1077.5h1V1080.7h-1zM1257 1077.5h1V1080.7h-1zM1282 1077.5h1V1080.7h-1zM1291 1077.5h2V1080.7h-2zM1297 1077.5h1V1080.7h-1zM1300 1077.5h1V1080.7h-1zM1305 1077.5h1V1080.7h-1zM1309 1077.5h2V1080.7h-2zM1313 1077.5h1V1080.7h-1zM1323 1077.5h1V1080.7h-1zM1325 1077.5h1V1080.7h-1zM1329 1077.5h1V1080.7h-1zM1332 1077.5h1V1080.7h-1zM1344 1077.5h1V1080.7h-1zM1346 1077.5h2V1080.7h-2zM1360 1077.5h1V1080.7h-1zM1373 1077.5h2V1080.7h-2zM1377 1077.5h1V1080.7h-1zM1389 1077.5h1V1080.7h-1zM1398 1077.5h1V1080.7h-1zM762 1072.3h1V1077.5h-1zM1133 1072.3h1V1077.5h-1zM1174 1072.3h1V1077.5h-1zM1183 1072.3h1V1077.5h-1zM1194 1072.3h1V1077.5h-1zM1213 1072.3h1V1077.5h-1zM1217 1072.3h2V1077.5h-2zM1220 1072.3h1V1077.5h-1zM1236 1072.3h1V1077.5h-1zM1241 1072.3h1V1077.5h-1zM1243 1072.3h1V1077.5h-1zM1262 1072.3h1V1077.5h-1zM1282 1072.3h1V1077.5h-1zM1291 1072.3h2V1077.5h-2zM1294 1072.3h1V1077.5h-1zM1312 1072.3h1V1077.5h-1zM1326 1072.3h1V1077.5h-1zM1348 1072.3h1V1077.5h-1zM1369 1072.3h1V1077.5h-1zM1374 1072.3h1V1077.5h-1zM1395 1072.3h1V1077.5h-1zM1172 1068h1V1072.3h-1zM1179 1068h1V1072.3h-1zM1181 1068h1V1072.3h-1zM1188 1068h1V1072.3h-1zM1196 1068h2V1072.3h-2zM1199 1068h1V1072.3h-1zM1227 1068h1V1072.3h-1zM1236 1068h2V1072.3h-2zM1240 1068h1V1072.3h-1zM1248 1068h1V1072.3h-1zM1254 1068h1V1072.3h-1zM1257 1068h1V1072.3h-1zM1259 1068h2V1072.3h-2zM1269 1068h1V1072.3h-1zM1280 1068h1V1072.3h-1zM1285 1068h1V1072.3h-1zM1289 1068h1V1072.3h-1zM1298 1068h2V1072.3h-2zM1301 1068h1V1072.3h-1zM1313 1068h1V1072.3h-1zM1318 1068h1V1072.3h-1zM1354 1068h1V1072.3h-1zM1375 1068h2V1072.3h-2zM1395 1068h1V1072.3h-1zM1133 1064.5h1V1068h-1zM1179 1064.5h2V1068h-2zM1182 1064.5h2V1068h-2zM1186 1064.5h1V1068h-1zM1199 1064.5h1V1068h-1zM1206 1064.5h1V1068h-1zM1213 1064.5h1V1068h-1zM1217 1064.5h2V1068h-2zM1222 1064.5h1V1068h-1zM1227 1064.5h1V1068h-1zM1241 1064.5h1V1068h-1zM1246 1064.5h1V1068h-1zM1248 1064.5h1V1068h-1zM1259 1064.5h1V1068h-1zM1263 1064.5h1V1068h-1zM1266 1064.5h1V1068h-1zM1271 1064.5h1V1068h-1zM1295 1064.5h1V1068h-1zM1346 1064.5h3V1068h-3zM1353 1064.5h2V1068h-2zM1395 1064.5h4V1068h-4zM1406 1064.5h1V1068h-1zM1187 1060h2V1064.5h-2zM1203 1060h1V1064.5h-1zM1212 1060h1V1064.5h-1zM1225 1060h1V1064.5h-1zM1233 1060h1V1064.5h-1zM1243 1060h1V1064.5h-1zM1245 1060h1V1064.5h-1zM1249 1060h1V1064.5h-1zM1254 1060h1V1064.5h-1zM1265 1060h1V1064.5h-1zM1271 1060h1V1064.5h-1zM1282 1060h1V1064.5h-1zM1299 1060h1V1064.5h-1zM1318 1060h1V1064.5h-1zM1323 1060h1V1064.5h-1zM1326 1060h1V1064.5h-1zM1328 1060h1V1064.5h-1zM1344 1060h1V1064.5h-1zM1346 1060h1V1064.5h-1zM1353 1060h2V1064.5h-2zM1359 1060h1V1064.5h-1zM1362 1060h1V1064.5h-1zM1395 1060h3V1064.5h-3zM1180 1056.3h1V1060h-1zM1183 1056.3h1V1060h-1zM1185 1056.3h1V1060h-1zM1203 1056.3h1V1060h-1zM1210 1056.3h1V1060h-1zM1227 1056.3h1V1060h-1zM1233 1056.3h1V1060h-1zM1238 1056.3h1V1060h-1zM1252 1056.3h1V1060h-1zM1256 1056.3h1V1060h-1zM1264 1056.3h1V1060h-1zM1266 1056.3h1V1060h-1zM1272 1056.3h2V1060h-2zM1288 1056.3h2V1060h-2zM1292 1056.3h1V1060h-1zM1301 1056.3h2V1060h-2zM1304 1056.3h1V1060h-1zM1318 1056.3h2V1060h-2zM1324 1056.3h1V1060h-1zM1328 1056.3h1V1060h-1zM1348 1056.3h1V1060h-1zM1355 1056.3h1V1060h-1zM1362 1056.3h1V1060h-1zM1396 1056.3h1V1060h-1zM1183 1052.2h1V1056.3h-1zM1198 1052.2h1V1056.3h-1zM1202 1052.2h1V1056.3h-1zM1206 1052.2h1V1056.3h-1zM1212 1052.2h1V1056.3h-1zM1216 1052.2h2V1056.3h-2zM1227 1052.2h1V1056.3h-1zM1237 1052.2h3V1056.3h-3zM1246 1052.2h1V1056.3h-1zM1248 1052.2h1V1056.3h-1zM1250 1052.2h1V1056.3h-1zM1255 1052.2h1V1056.3h-1zM1260 1052.2h2V1056.3h-2zM1268 1052.2h1V1056.3h-1zM1273 1052.2h1V1056.3h-1zM1301 1052.2h1V1056.3h-1zM1324 1052.2h1V1056.3h-1zM1328 1052.2h1V1056.3h-1zM1356 1052.2h1V1056.3h-1zM1358 1052.2h1V1056.3h-1zM1360 1052.2h1V1056.3h-1zM1362 1052.2h1V1056.3h-1zM1180 1047.9h1V1052.2h-1zM1183 1047.9h1V1052.2h-1zM1200 1047.9h1V1052.2h-1zM1203 1047.9h1V1052.2h-1zM1207 1047.9h1V1052.2h-1zM1224 1047.9h1V1052.2h-1zM1230 1047.9h1V1052.2h-1zM1255 1047.9h2V1052.2h-2zM1265 1047.9h2V1052.2h-2zM1269 1047.9h2V1052.2h-2zM1308 1047.9h1V1052.2h-1zM1324 1047.9h1V1052.2h-1zM1328 1047.9h1V1052.2h-1zM1348 1047.9h1V1052.2h-1zM1356 1047.9h1V1052.2h-1zM1358 1047.9h1V1052.2h-1zM1396 1047.9h1V1052.2h-1zM1199 1043.7h2V1047.9h-2zM1203 1043.7h1V1047.9h-1zM1207 1043.7h1V1047.9h-1zM1219 1043.7h1V1047.9h-1zM1226 1043.7h1V1047.9h-1zM1234 1043.7h1V1047.9h-1zM1239 1043.7h1V1047.9h-1zM1246 1043.7h1V1047.9h-1zM1248 1043.7h1V1047.9h-1zM1255 1043.7h2V1047.9h-2zM1265 1043.7h1V1047.9h-1zM1269 1043.7h1V1047.9h-1zM1272 1043.7h1V1047.9h-1zM1301 1043.7h1V1047.9h-1zM1358 1043.7h1V1047.9h-1zM1362 1043.7h1V1047.9h-1zM1185 1039.6h1V1043.7h-1zM1204 1039.6h1V1043.7h-1zM1209 1039.6h1V1043.7h-1zM1221 1039.6h1V1043.7h-1zM1223 1039.6h2V1043.7h-2zM1247 1039.6h1V1043.7h-1zM1268 1039.6h1V1043.7h-1zM1281 1039.6h1V1043.7h-1zM1348 1039.6h1V1043.7h-1zM1246 1035.7h2V1039.6h-2zM1250 1035.7h2V1039.6h-2zM1356 1035.7h2V1039.6h-2zM1208 1031.6h2V1035.7h-2zM1216 1031.6h2V1035.7h-2zM1246 1027.6h2V1031.6h-2zM1246 1023.6h2V1027.6h-2z"/><path fill="#00dbff" d="M892 1113.2h2V1122h-2zM923 1113.2h1V1122h-1zM925 1113.2h1V1122h-1zM977 1113.2h2V1122h-2zM1022 1113.2h1V1122h-1zM1104 1113.2h1V1122h-1zM1174 1113.2h1V1122h-1zM1213 1113.2h1V1122h-1zM1221 1113.2h1V1122h-1zM1237 1113.2h1V1122h-1zM1245 1113.2h1V1122h-1zM1274 1113.2h1V1122h-1zM1296 1113.2h2V1122h-2zM1305 1113.2h1V1122h-1zM1316 1113.2h1V1122h-1zM1327 1113.2h1V1122h-1zM1330 1113.2h1V1122h-1zM1336 1113.2h1V1122h-1zM1340 1113.2h1V1122h-1zM1363 1113.2h1V1122h-1zM1365 1113.2h1V1122h-1zM1404 1113.2h2V1122h-2zM783 1101.8h1V1113.2h-1zM904 1101.8h1V1113.2h-1zM977 1101.8h2V1113.2h-2zM1052 1101.8h1V1113.2h-1zM1069 1101.8h1V1113.2h-1zM1086 1101.8h1V1113.2h-1zM1099 1101.8h1V1113.2h-1zM1103 1101.8h1V1113.2h-1zM1107 1101.8h1V1113.2h-1zM1130 1101.8h1V1113.2h-1zM1134 1101.8h1V1113.2h-1zM1151 1101.8h1V1113.2h-1zM1174 1101.8h1V1113.2h-1zM1188 1101.8h1V1113.2h-1zM1191 1101.8h1V1113.2h-1zM1194 1101.8h1V1113.2h-1zM1213 1101.8h1V1113.2h-1zM1244 1101.8h1V1113.2h-1zM1283 1101.8h1V1113.2h-1zM1285 1101.8h1V1113.2h-1zM1290 1101.8h1V1113.2h-1zM1292 1101.8h1V1113.2h-1zM1294 1101.8h1V1113.2h-1zM1297 1101.8h1V1113.2h-1zM1311 1101.8h1V1113.2h-1zM1313 1101.8h1V1113.2h-1zM1315 1101.8h2V1113.2h-2zM1327 1101.8h1V1113.2h-1zM1332 1101.8h1V1113.2h-1zM1342 1101.8h2V1113.2h-2zM1363 1101.8h1V1113.2h-1zM1365 1101.8h2V1113.2h-2zM1373 1101.8h1V1113.2h-1zM1380 1101.8h1V1113.2h-1zM763 1094.4h1V1101.8h-1zM892 1094.4h1V1101.8h-1zM978 1094.4h2V1101.8h-2zM1052 1094.4h1V1101.8h-1zM1080 1094.4h1V1101.8h-1zM1082 1094.4h1V1101.8h-1zM1086 1094.4h1V1101.8h-1zM1152 1094.4h1V1101.8h-1zM1165 1094.4h1V1101.8h-1zM1170 1094.4h1V1101.8h-1zM1190 1094.4h1V1101.8h-1zM1220 1094.4h1V1101.8h-1zM1228 1094.4h1V1101.8h-1zM1244 1094.4h1V1101.8h-1zM1289 1094.4h1V1101.8h-1zM1309 1094.4h1V1101.8h-1zM1312 1094.4h1V1101.8h-1zM1314 1094.4h1V1101.8h-1zM1317 1094.4h1V1101.8h-1zM1363 1094.4h1V1101.8h-1zM1369 1094.4h1V1101.8h-1zM1387 1094.4h1V1101.8h-1zM761 1088.8h1V1094.4h-1zM1017 1088.8h1V1094.4h-1zM1137 1088.8h1V1094.4h-1zM1166 1088.8h1V1094.4h-1zM1169 1088.8h2V1094.4h-2zM1172 1088.8h1V1094.4h-1zM1187 1088.8h3V1094.4h-3zM1217 1088.8h1V1094.4h-1zM1232 1088.8h1V1094.4h-1zM1236 1088.8h1V1094.4h-1zM1240 1088.8h1V1094.4h-1zM1254 1088.8h1V1094.4h-1zM1258 1088.8h1V1094.4h-1zM1271 1088.8h1V1094.4h-1zM1292 1088.8h1V1094.4h-1zM1306 1088.8h1V1094.4h-1zM1314 1088.8h1V1094.4h-1zM1325 1088.8h2V1094.4h-2zM1330 1088.8h1V1094.4h-1zM1406 1088.8h1V1094.4h-1zM1018 1084.4h1V1088.8h-1zM1137 1084.4h1V1088.8h-1zM1172 1084.4h1V1088.8h-1zM1187 1084.4h1V1088.8h-1zM1210 1084.4h1V1088.8h-1zM1217 1084.4h2V1088.8h-2zM1228 1084.4h1V1088.8h-1zM1232 1084.4h1V1088.8h-1zM1258 1084.4h1V1088.8h-1zM1272 1084.4h1V1088.8h-1zM1283 1084.4h1V1088.8h-1zM1290 1084.4h1V1088.8h-1zM1292 1084.4h1V1088.8h-1zM1296 1084.4h1V1088.8h-1zM1303 1084.4h1V1088.8h-1zM1312 1084.4h1V1088.8h-1zM1327 1084.4h1V1088.8h-1zM1341 1084.4h1V1088.8h-1zM1344 1084.4h1V1088.8h-1zM1406 1084.4h1V1088.8h-1zM762 1080.7h1V1084.4h-1zM1133 1080.7h1V1084.4h-1zM1172 1080.7h1V1084.4h-1zM1179 1080.7h1V1084.4h-1zM1182 1080.7h1V1084.4h-1zM1186 1080.7h1V1084.4h-1zM1190 1080.7h1V1084.4h-1zM1196 1080.7h1V1084.4h-1zM1212 1080.7h1V1084.4h-1zM1218 1080.7h1V1084.4h-1zM1240 1080.7h1V1084.4h-1zM1243 1080.7h1V1084.4h-1zM1254 1080.7h1V1084.4h-1zM1269 1080.7h1V1084.4h-1zM1277 1080.7h1V1084.4h-1zM1280 1080.7h1V1084.4h-1zM1295 1080.7h1V1084.4h-1zM1299 1080.7h2V1084.4h-2zM1323 1080.7h1V1084.4h-1zM1326 1080.7h1V1084.4h-1zM1332 1080.7h1V1084.4h-1zM1344 1080.7h1V1084.4h-1zM1354 1080.7h1V1084.4h-1zM1360 1080.7h1V1084.4h-1zM1376 1080.7h1V1084.4h-1zM1398 1080.7h1V1084.4h-1zM762 1077.5h1V1080.7h-1zM1159 1077.5h1V1080.7h-1zM1173 1077.5h1V1080.7h-1zM1179 1077.5h1V1080.7h-1zM1182 1077.5h1V1080.7h-1zM1186 1077.5h1V1080.7h-1zM1196 1077.5h2V1080.7h-2zM1210 1077.5h1V1080.7h-1zM1212 1077.5h1V1080.7h-1zM1215 1077.5h1V1080.7h-1zM1222 1077.5h1V1080.7h-1zM1241 1077.5h1V1080.7h-1zM1252 1077.5h1V1080.7h-1zM1256 1077.5h1V1080.7h-1zM1258 1077.5h1V1080.7h-1zM1260 1077.5h1V1080.7h-1zM1262 1077.5h1V1080.7h-1zM1271 1077.5h1V1080.7h-1zM1299 1077.5h1V1080.7h-1zM1314 1077.5h1V1080.7h-1zM1318 1077.5h1V1080.7h-1zM1322 1077.5h1V1080.7h-1zM1324 1077.5h1V1080.7h-1zM1328 1077.5h1V1080.7h-1zM1335 1077.5h1V1080.7h-1zM1397 1077.5h1V1080.7h-1zM1406 1077.5h1V1080.7h-1zM1159 1072.3h1V1077.5h-1zM1173 1072.3h1V1077.5h-1zM1179 1072.3h1V1077.5h-1zM1182 1072.3h1V1077.5h-1zM1193 1072.3h1V1077.5h-1zM1199 1072.3h1V1077.5h-1zM1215 1072.3h1V1077.5h-1zM1240 1072.3h1V1077.5h-1zM1248 1072.3h1V1077.5h-1zM1254 1072.3h1V1077.5h-1zM1256 1072.3h1V1077.5h-1zM1260 1072.3h1V1077.5h-1zM1264 1072.3h1V1077.5h-1zM1271 1072.3h1V1077.5h-1zM1298 1072.3h2V1077.5h-2zM1319 1072.3h1V1077.5h-1zM1328 1072.3h1V1077.5h-1zM1347 1072.3h1V1077.5h-1zM1349 1072.3h1V1077.5h-1zM1353 1072.3h1V1077.5h-1zM1355 1072.3h1V1077.5h-1zM1361 1072.3h1V1077.5h-1zM1375 1072.3h1V1077.5h-1zM1159 1068h1V1072.3h-1zM1180 1068h1V1072.3h-1zM1182 1068h1V1072.3h-1zM1202 1068h1V1072.3h-1zM1212 1068h1V1072.3h-1zM1215 1068h1V1072.3h-1zM1217 1068h1V1072.3h-1zM1220 1068h1V1072.3h-1zM1243 1068h1V1072.3h-1zM1251 1068h1V1072.3h-1zM1256 1068h1V1072.3h-1zM1261 1068h1V1072.3h-1zM1264 1068h1V1072.3h-1zM1268 1068h1V1072.3h-1zM1271 1068h1V1072.3h-1zM1273 1068h1V1072.3h-1zM1282 1068h1V1072.3h-1zM1300 1068h1V1072.3h-1zM1308 1068h1V1072.3h-1zM1326 1068h1V1072.3h-1zM1329 1068h1V1072.3h-1zM1344 1068h1V1072.3h-1zM1347 1068h1V1072.3h-1zM1357 1068h1V1072.3h-1zM1361 1068h1V1072.3h-1zM1397 1068h2V1072.3h-2zM1184 1064.5h1V1068h-1zM1192 1064.5h1V1068h-1zM1198 1064.5h1V1068h-1zM1238 1064.5h1V1068h-1zM1242 1064.5h1V1068h-1zM1250 1064.5h1V1068h-1zM1255 1064.5h1V1068h-1zM1270 1064.5h1V1068h-1zM1273 1064.5h1V1068h-1zM1276 1064.5h1V1068h-1zM1287 1064.5h2V1068h-2zM1299 1064.5h1V1068h-1zM1303 1064.5h1V1068h-1zM1308 1064.5h1V1068h-1zM1361 1064.5h1V1068h-1zM1199 1060h1V1064.5h-1zM1205 1060h2V1064.5h-2zM1210 1060h1V1064.5h-1zM1218 1060h1V1064.5h-1zM1223 1060h1V1064.5h-1zM1239 1060h1V1064.5h-1zM1246 1060h1V1064.5h-1zM1302 1060h3V1064.5h-3zM1307 1060h1V1064.5h-1zM1324 1060h1V1064.5h-1zM1329 1060h1V1064.5h-1zM1358 1060h1V1064.5h-1zM1361 1060h1V1064.5h-1zM1388 1060h1V1064.5h-1zM1184 1056.3h1V1060h-1zM1198 1056.3h1V1060h-1zM1205 1056.3h2V1060h-2zM1215 1056.3h1V1060h-1zM1219 1056.3h1V1060h-1zM1224 1056.3h1V1060h-1zM1247 1056.3h1V1060h-1zM1261 1056.3h1V1060h-1zM1268 1056.3h1V1060h-1zM1295 1056.3h1V1060h-1zM1303 1056.3h1V1060h-1zM1346 1056.3h1V1060h-1zM1359 1056.3h1V1060h-1zM1185 1052.2h1V1056.3h-1zM1196 1052.2h2V1056.3h-2zM1200 1052.2h1V1056.3h-1zM1203 1052.2h1V1056.3h-1zM1219 1052.2h1V1056.3h-1zM1223 1052.2h1V1056.3h-1zM1230 1052.2h2V1056.3h-2zM1234 1052.2h1V1056.3h-1zM1251 1052.2h1V1056.3h-1zM1254 1052.2h1V1056.3h-1zM1288 1052.2h1V1056.3h-1zM1303 1052.2h1V1056.3h-1zM1307 1052.2h1V1056.3h-1zM1195 1047.9h1V1052.2h-1zM1201 1047.9h1V1052.2h-1zM1206 1047.9h1V1052.2h-1zM1208 1047.9h1V1052.2h-1zM1212 1047.9h1V1052.2h-1zM1219 1047.9h1V1052.2h-1zM1226 1047.9h1V1052.2h-1zM1231 1047.9h1V1052.2h-1zM1235 1047.9h1V1052.2h-1zM1238 1047.9h1V1052.2h-1zM1250 1047.9h1V1052.2h-1zM1262 1047.9h1V1052.2h-1zM1281 1047.9h1V1052.2h-1zM1287 1047.9h2V1052.2h-2zM1307 1047.9h1V1052.2h-1zM1357 1047.9h1V1052.2h-1zM1205 1043.7h1V1047.9h-1zM1212 1043.7h1V1047.9h-1zM1223 1043.7h2V1047.9h-2zM1235 1043.7h1V1047.9h-1zM1240 1043.7h1V1047.9h-1zM1288 1043.7h1V1047.9h-1zM1202 1039.6h1V1043.7h-1zM1207 1039.6h2V1043.7h-2zM1266 1039.6h2V1043.7h-2zM1208 1035.7h2V1039.6h-2zM1234 1035.7h2V1039.6h-2zM1204 1031.6h2V1035.7h-2z"/><path fill="#00ffff" d="M783 1113.2h1V1122h-1zM904 1113.2h1V1122h-1zM1066 1113.2h1V1122h-1zM1099 1113.2h1V1122h-1zM1133 1113.2h1V1122h-1zM1139 1113.2h1V1122h-1zM1153 1113.2h1V1122h-1zM1160 1113.2h1V1122h-1zM1179 1113.2h1V1122h-1zM1187 1113.2h1V1122h-1zM1191 1113.2h1V1122h-1zM1194 1113.2h1V1122h-1zM1233 1113.2h1V1122h-1zM1236 1113.2h1V1122h-1zM1242 1113.2h1V1122h-1zM1257 1113.2h1V1122h-1zM1262 1113.2h1V1122h-1zM1264 1113.2h1V1122h-1zM1289 1113.2h1V1122h-1zM1292 1113.2h1V1122h-1zM1300 1113.2h1V1122h-1zM1309 1113.2h1V1122h-1zM1317 1113.2h1V1122h-1zM1368 1113.2h2V1122h-2zM1373 1113.2h1V1122h-1zM1387 1113.2h1V1122h-1zM907 1101.8h1V1113.2h-1zM925 1101.8h1V1113.2h-1zM1085 1101.8h1V1113.2h-1zM1105 1101.8h1V1113.2h-1zM1137 1101.8h2V1113.2h-2zM1150 1101.8h1V1113.2h-1zM1154 1101.8h1V1113.2h-1zM1178 1101.8h1V1113.2h-1zM1187 1101.8h1V1113.2h-1zM1221 1101.8h1V1113.2h-1zM1233 1101.8h1V1113.2h-1zM1241 1101.8h1V1113.2h-1zM1245 1101.8h1V1113.2h-1zM1284 1101.8h1V1113.2h-1zM1286 1101.8h1V1113.2h-1zM1312 1101.8h1V1113.2h-1zM1377 1101.8h1V1113.2h-1zM1382 1101.8h1V1113.2h-1zM1389 1101.8h1V1113.2h-1zM1405 1101.8h1V1113.2h-1zM761 1094.4h1V1101.8h-1zM1018 1094.4h1V1101.8h-1zM1053 1094.4h1V1101.8h-1zM1102 1094.4h1V1101.8h-1zM1104 1094.4h1V1101.8h-1zM1130 1094.4h1V1101.8h-1zM1159 1094.4h1V1101.8h-1zM1179 1094.4h1V1101.8h-1zM1221 1094.4h1V1101.8h-1zM1232 1094.4h1V1101.8h-1zM1241 1094.4h2V1101.8h-2zM1248 1094.4h1V1101.8h-1zM1263 1094.4h1V1101.8h-1zM1274 1094.4h1V1101.8h-1zM1283 1094.4h1V1101.8h-1zM1291 1094.4h1V1101.8h-1zM1300 1094.4h1V1101.8h-1zM1360 1094.4h1V1101.8h-1zM1018 1088.8h1V1094.4h-1zM1134 1088.8h1V1094.4h-1zM1159 1088.8h1V1094.4h-1zM1173 1088.8h1V1094.4h-1zM1181 1088.8h1V1094.4h-1zM1197 1088.8h1V1094.4h-1zM1218 1088.8h1V1094.4h-1zM1233 1088.8h1V1094.4h-1zM1237 1088.8h1V1094.4h-1zM1241 1088.8h1V1094.4h-1zM1248 1088.8h1V1094.4h-1zM1252 1088.8h1V1094.4h-1zM1264 1088.8h1V1094.4h-1zM1276 1088.8h1V1094.4h-1zM1284 1088.8h1V1094.4h-1zM1298 1088.8h1V1094.4h-1zM1300 1088.8h1V1094.4h-1zM1341 1088.8h1V1094.4h-1zM1345 1088.8h1V1094.4h-1zM1375 1088.8h2V1094.4h-2zM1133 1084.4h1V1088.8h-1zM1171 1084.4h1V1088.8h-1zM1179 1084.4h1V1088.8h-1zM1197 1084.4h1V1088.8h-1zM1199 1084.4h1V1088.8h-1zM1222 1084.4h1V1088.8h-1zM1243 1084.4h1V1088.8h-1zM1248 1084.4h1V1088.8h-1zM1252 1084.4h1V1088.8h-1zM1295 1084.4h1V1088.8h-1zM1299 1084.4h1V1088.8h-1zM1313 1084.4h1V1088.8h-1zM1319 1084.4h1V1088.8h-1zM1322 1084.4h1V1088.8h-1zM1324 1084.4h1V1088.8h-1zM1348 1084.4h1V1088.8h-1zM1358 1084.4h1V1088.8h-1zM1360 1084.4h1V1088.8h-1zM1395 1084.4h1V1088.8h-1zM1397 1084.4h1V1088.8h-1zM1159 1080.7h1V1084.4h-1zM1173 1080.7h1V1084.4h-1zM1195 1080.7h1V1084.4h-1zM1202 1080.7h1V1084.4h-1zM1222 1080.7h1V1084.4h-1zM1227 1080.7h1V1084.4h-1zM1248 1080.7h1V1084.4h-1zM1256 1080.7h1V1084.4h-1zM1261 1080.7h2V1084.4h-2zM1304 1080.7h1V1084.4h-1zM1318 1080.7h1V1084.4h-1zM1329 1080.7h1V1084.4h-1zM1346 1080.7h2V1084.4h-2zM1374 1080.7h1V1084.4h-1zM1381 1080.7h1V1084.4h-1zM1396 1080.7h2V1084.4h-2zM1183 1077.5h2V1080.7h-2zM1264 1077.5h1V1080.7h-1zM1266 1077.5h1V1080.7h-1zM1272 1077.5h2V1080.7h-2zM1286 1077.5h1V1080.7h-1zM1298 1077.5h1V1080.7h-1zM1303 1077.5h1V1080.7h-1zM1319 1077.5h1V1080.7h-1zM1358 1077.5h2V1080.7h-2zM1362 1077.5h1V1080.7h-1zM1187 1072.3h1V1077.5h-1zM1195 1072.3h1V1077.5h-1zM1197 1072.3h2V1077.5h-2zM1202 1072.3h1V1077.5h-1zM1222 1072.3h1V1077.5h-1zM1227 1072.3h1V1077.5h-1zM1229 1072.3h1V1077.5h-1zM1232 1072.3h1V1077.5h-1zM1263 1072.3h1V1077.5h-1zM1266 1072.3h1V1077.5h-1zM1272 1072.3h1V1077.5h-1zM1302 1072.3h1V1077.5h-1zM1304 1072.3h1V1077.5h-1zM1308 1072.3h1V1077.5h-1zM1341 1072.3h1V1077.5h-1zM1344 1072.3h1V1077.5h-1zM1354 1072.3h1V1077.5h-1zM1360 1072.3h1V1077.5h-1zM1362 1072.3h1V1077.5h-1zM1388 1072.3h1V1077.5h-1zM1398 1072.3h1V1077.5h-1zM1183 1068h1V1072.3h-1zM1203 1068h1V1072.3h-1zM1214 1068h1V1072.3h-1zM1219 1068h1V1072.3h-1zM1222 1068h1V1072.3h-1zM1224 1068h1V1072.3h-1zM1228 1068h1V1072.3h-1zM1231 1068h1V1072.3h-1zM1238 1068h1V1072.3h-1zM1281 1068h1V1072.3h-1zM1303 1068h1V1072.3h-1zM1324 1068h1V1072.3h-1zM1345 1068h1V1072.3h-1zM1348 1068h1V1072.3h-1zM1353 1068h1V1072.3h-1zM1201 1064.5h1V1068h-1zM1203 1064.5h1V1068h-1zM1215 1064.5h1V1068h-1zM1224 1064.5h2V1068h-2zM1235 1064.5h1V1068h-1zM1239 1064.5h1V1068h-1zM1268 1064.5h2V1068h-2zM1326 1064.5h1V1068h-1zM1349 1064.5h1V1068h-1zM1355 1064.5h1V1068h-1zM1362 1064.5h1V1068h-1zM1185 1060h1V1064.5h-1zM1209 1060h1V1064.5h-1zM1216 1060h1V1064.5h-1zM1219 1060h1V1064.5h-1zM1222 1060h1V1064.5h-1zM1227 1060h1V1064.5h-1zM1235 1060h1V1064.5h-1zM1238 1060h1V1064.5h-1zM1241 1060h1V1064.5h-1zM1251 1060h1V1064.5h-1zM1261 1060h1V1064.5h-1zM1264 1060h1V1064.5h-1zM1281 1060h1V1064.5h-1zM1348 1060h1V1064.5h-1zM1355 1060h3V1064.5h-3zM1197 1056.3h1V1060h-1zM1231 1056.3h1V1060h-1zM1234 1056.3h1V1060h-1zM1239 1056.3h1V1060h-1zM1241 1056.3h1V1060h-1zM1243 1056.3h1V1060h-1zM1246 1056.3h1V1060h-1zM1255 1056.3h1V1060h-1zM1287 1056.3h1V1060h-1zM1307 1056.3h1V1060h-1zM1358 1056.3h1V1060h-1zM1204 1052.2h1V1056.3h-1zM1224 1052.2h1V1056.3h-1zM1226 1052.2h1V1056.3h-1zM1235 1052.2h1V1056.3h-1zM1270 1052.2h1V1056.3h-1zM1281 1052.2h1V1056.3h-1zM1287 1052.2h1V1056.3h-1zM1302 1052.2h1V1056.3h-1zM1355 1052.2h1V1056.3h-1zM1185 1047.9h1V1052.2h-1zM1199 1047.9h1V1052.2h-1zM1202 1047.9h1V1052.2h-1zM1205 1047.9h1V1052.2h-1zM1215 1047.9h2V1052.2h-2zM1234 1047.9h1V1052.2h-1zM1254 1047.9h1V1052.2h-1zM1261 1047.9h1V1052.2h-1zM1267 1047.9h1V1052.2h-1zM1302 1047.9h1V1052.2h-1zM1204 1043.7h1V1047.9h-1zM1206 1043.7h1V1047.9h-1zM1208 1043.7h2V1047.9h-2zM1267 1043.7h1V1047.9h-1zM1270 1039.6h1V1043.7h-1z"/><path fill="#24ffdb" d="M763 1113.2h1V1122h-1zM1052 1113.2h1V1122h-1zM1080 1113.2h1V1122h-1zM1082 1113.2h1V1122h-1zM1134 1113.2h1V1122h-1zM1172 1113.2h1V1122h-1zM1189 1113.2h1V1122h-1zM1202 1113.2h1V1122h-1zM1217 1113.2h1V1122h-1zM1250 1113.2h1V1122h-1zM1279 1113.2h2V1122h-2zM1335 1113.2h1V1122h-1zM1345 1113.2h1V1122h-1zM1360 1113.2h1V1122h-1zM1377 1113.2h1V1122h-1zM1382 1113.2h1V1122h-1zM1388 1113.2h1V1122h-1zM761 1101.8h1V1113.2h-1zM763 1101.8h1V1113.2h-1zM1017 1101.8h1V1113.2h-1zM1080 1101.8h1V1113.2h-1zM1082 1101.8h1V1113.2h-1zM1139 1101.8h1V1113.2h-1zM1160 1101.8h1V1113.2h-1zM1171 1101.8h1V1113.2h-1zM1179 1101.8h1V1113.2h-1zM1196 1101.8h1V1113.2h-1zM1211 1101.8h1V1113.2h-1zM1240 1101.8h1V1113.2h-1zM1253 1101.8h1V1113.2h-1zM1258 1101.8h2V1113.2h-2zM1274 1101.8h1V1113.2h-1zM1289 1101.8h1V1113.2h-1zM1300 1101.8h1V1113.2h-1zM1314 1101.8h1V1113.2h-1zM1336 1101.8h1V1113.2h-1zM1340 1101.8h1V1113.2h-1zM1345 1101.8h1V1113.2h-1zM1387 1101.8h1V1113.2h-1zM1133 1094.4h2V1101.8h-2zM1137 1094.4h1V1101.8h-1zM1171 1094.4h1V1101.8h-1zM1188 1094.4h1V1101.8h-1zM1196 1094.4h1V1101.8h-1zM1215 1094.4h1V1101.8h-1zM1236 1094.4h1V1101.8h-1zM1240 1094.4h1V1101.8h-1zM1250 1094.4h1V1101.8h-1zM1252 1094.4h1V1101.8h-1zM1257 1094.4h3V1101.8h-3zM1295 1094.4h1V1101.8h-1zM1306 1094.4h1V1101.8h-1zM1308 1094.4h1V1101.8h-1zM1313 1094.4h1V1101.8h-1zM1323 1094.4h1V1101.8h-1zM1327 1094.4h1V1101.8h-1zM1341 1094.4h1V1101.8h-1zM1344 1094.4h1V1101.8h-1zM1373 1094.4h1V1101.8h-1zM1375 1094.4h1V1101.8h-1zM762 1088.8h1V1094.4h-1zM1186 1088.8h1V1094.4h-1zM1199 1088.8h1V1094.4h-1zM1212 1088.8h1V1094.4h-1zM1243 1088.8h1V1094.4h-1zM1246 1088.8h1V1094.4h-1zM1253 1088.8h1V1094.4h-1zM1262 1088.8h1V1094.4h-1zM1269 1088.8h1V1094.4h-1zM1280 1088.8h1V1094.4h-1zM1283 1088.8h1V1094.4h-1zM1299 1088.8h1V1094.4h-1zM1318 1088.8h1V1094.4h-1zM1327 1088.8h2V1094.4h-2zM1360 1088.8h1V1094.4h-1zM1381 1088.8h1V1094.4h-1zM762 1084.4h1V1088.8h-1zM1159 1084.4h1V1088.8h-1zM1173 1084.4h1V1088.8h-1zM1183 1084.4h1V1088.8h-1zM1191 1084.4h1V1088.8h-1zM1195 1084.4h2V1088.8h-2zM1212 1084.4h1V1088.8h-1zM1215 1084.4h1V1088.8h-1zM1225 1084.4h1V1088.8h-1zM1227 1084.4h1V1088.8h-1zM1259 1084.4h1V1088.8h-1zM1268 1084.4h2V1088.8h-2zM1271 1084.4h1V1088.8h-1zM1318 1084.4h1V1088.8h-1zM1326 1084.4h1V1088.8h-1zM1329 1084.4h1V1088.8h-1zM1346 1084.4h1V1088.8h-1zM1349 1084.4h1V1088.8h-1zM1355 1084.4h1V1088.8h-1zM1357 1084.4h1V1088.8h-1zM1362 1084.4h1V1088.8h-1zM1373 1084.4h1V1088.8h-1zM1396 1084.4h1V1088.8h-1zM1171 1080.7h1V1084.4h-1zM1197 1080.7h1V1084.4h-1zM1199 1080.7h1V1084.4h-1zM1232 1080.7h1V1084.4h-1zM1237 1080.7h1V1084.4h-1zM1241 1080.7h1V1084.4h-1zM1270 1080.7h1V1084.4h-1zM1272 1080.7h1V1084.4h-1zM1298 1080.7h1V1084.4h-1zM1306 1080.7h1V1084.4h-1zM1308 1080.7h1V1084.4h-1zM1319 1080.7h1V1084.4h-1zM1325 1080.7h1V1084.4h-1zM1328 1080.7h1V1084.4h-1zM1361 1080.7h1V1084.4h-1zM1388 1080.7h1V1084.4h-1zM1172 1077.5h1V1080.7h-1zM1180 1077.5h1V1080.7h-1zM1185 1077.5h1V1080.7h-1zM1199 1077.5h1V1080.7h-1zM1207 1077.5h1V1080.7h-1zM1219 1077.5h1V1080.7h-1zM1246 1077.5h1V1080.7h-1zM1251 1077.5h1V1080.7h-1zM1255 1077.5h1V1080.7h-1zM1269 1077.5h1V1080.7h-1zM1304 1077.5h1V1080.7h-1zM1326 1077.5h1V1080.7h-1zM1354 1077.5h3V1080.7h-3zM1381 1077.5h1V1080.7h-1zM1395 1077.5h1V1080.7h-1zM1171 1072.3h2V1077.5h-2zM1180 1072.3h1V1077.5h-1zM1186 1072.3h1V1077.5h-1zM1200 1072.3h1V1077.5h-1zM1216 1072.3h1V1077.5h-1zM1221 1072.3h1V1077.5h-1zM1225 1072.3h1V1077.5h-1zM1230 1072.3h1V1077.5h-1zM1238 1072.3h2V1077.5h-2zM1242 1072.3h1V1077.5h-1zM1265 1072.3h1V1077.5h-1zM1288 1072.3h1V1077.5h-1zM1303 1072.3h1V1077.5h-1zM1325 1072.3h1V1077.5h-1zM1358 1072.3h1V1077.5h-1zM1381 1072.3h1V1077.5h-1zM1396 1072.3h1V1077.5h-1zM1201 1068h1V1072.3h-1zM1221 1068h1V1072.3h-1zM1230 1068h1V1072.3h-1zM1232 1068h1V1072.3h-1zM1235 1068h1V1072.3h-1zM1242 1068h1V1072.3h-1zM1265 1068h1V1072.3h-1zM1272 1068h1V1072.3h-1zM1304 1068h1V1072.3h-1zM1358 1068h2V1072.3h-2zM1362 1068h1V1072.3h-1zM1374 1068h1V1072.3h-1zM1388 1068h1V1072.3h-1zM1207 1064.5h1V1068h-1zM1219 1064.5h1V1068h-1zM1282 1064.5h1V1068h-1zM1302 1064.5h1V1068h-1zM1307 1064.5h1V1068h-1zM1318 1064.5h1V1068h-1zM1356 1064.5h1V1068h-1zM1359 1064.5h1V1068h-1zM1183 1060h1V1064.5h-1zM1204 1060h1V1064.5h-1zM1226 1060h1V1064.5h-1zM1230 1060h2V1064.5h-2zM1287 1060h1V1064.5h-1zM1301 1060h1V1064.5h-1zM1216 1056.3h1V1060h-1zM1223 1056.3h1V1060h-1zM1230 1056.3h1V1060h-1zM1251 1056.3h1V1060h-1zM1267 1056.3h1V1060h-1zM1270 1056.3h2V1060h-2zM1281 1056.3h1V1060h-1zM1209 1052.2h1V1056.3h-1zM1225 1052.2h1V1056.3h-1zM1247 1052.2h1V1056.3h-1zM1204 1047.9h1V1052.2h-1zM1216 1043.7h1V1047.9h-1zM1251 1043.7h1V1047.9h-1z"/><path fill="#49ffb6" d="M1053 1113.2h1V1122h-1zM1130 1113.2h1V1122h-1zM1154 1113.2h1V1122h-1zM1159 1113.2h1V1122h-1zM1173 1113.2h1V1122h-1zM1186 1113.2h1V1122h-1zM1199 1113.2h1V1122h-1zM1229 1113.2h1V1122h-1zM1241 1113.2h1V1122h-1zM1243 1113.2h1V1122h-1zM1248 1113.2h1V1122h-1zM1306 1113.2h1V1122h-1zM1323 1113.2h1V1122h-1zM1332 1113.2h1V1122h-1zM1375 1113.2h1V1122h-1zM892 1101.8h1V1113.2h-1zM1102 1101.8h1V1113.2h-1zM1104 1101.8h1V1113.2h-1zM1143 1101.8h1V1113.2h-1zM1173 1101.8h1V1113.2h-1zM1193 1101.8h1V1113.2h-1zM1236 1101.8h1V1113.2h-1zM1248 1101.8h1V1113.2h-1zM1250 1101.8h1V1113.2h-1zM1257 1101.8h1V1113.2h-1zM1269 1101.8h1V1113.2h-1zM1291 1101.8h1V1113.2h-1zM1305 1101.8h2V1113.2h-2zM1317 1101.8h1V1113.2h-1zM1319 1101.8h1V1113.2h-1zM1325 1101.8h1V1113.2h-1zM1335 1101.8h1V1113.2h-1zM1375 1101.8h1V1113.2h-1zM762 1094.4h1V1101.8h-1zM1172 1094.4h1V1101.8h-1zM1181 1094.4h1V1101.8h-1zM1187 1094.4h1V1101.8h-1zM1195 1094.4h1V1101.8h-1zM1197 1094.4h1V1101.8h-1zM1202 1094.4h1V1101.8h-1zM1210 1094.4h1V1101.8h-1zM1212 1094.4h1V1101.8h-1zM1233 1094.4h1V1101.8h-1zM1260 1094.4h1V1101.8h-1zM1262 1094.4h1V1101.8h-1zM1264 1094.4h1V1101.8h-1zM1277 1094.4h1V1101.8h-1zM1292 1094.4h1V1101.8h-1zM1305 1094.4h1V1101.8h-1zM1326 1094.4h1V1101.8h-1zM1328 1094.4h1V1101.8h-1zM1345 1094.4h1V1101.8h-1zM1376 1094.4h1V1101.8h-1zM1388 1094.4h1V1101.8h-1zM1398 1094.4h1V1101.8h-1zM1406 1094.4h1V1101.8h-1zM1133 1088.8h1V1094.4h-1zM1182 1088.8h1V1094.4h-1zM1184 1088.8h1V1094.4h-1zM1194 1088.8h1V1094.4h-1zM1202 1088.8h1V1094.4h-1zM1221 1088.8h2V1094.4h-2zM1259 1088.8h1V1094.4h-1zM1268 1088.8h1V1094.4h-1zM1282 1088.8h1V1094.4h-1zM1291 1088.8h1V1094.4h-1zM1303 1088.8h1V1094.4h-1zM1307 1088.8h2V1094.4h-2zM1323 1088.8h2V1094.4h-2zM1329 1088.8h1V1094.4h-1zM1346 1088.8h1V1094.4h-1zM1361 1088.8h1V1094.4h-1zM1388 1088.8h1V1094.4h-1zM1397 1088.8h2V1094.4h-2zM1180 1084.4h1V1088.8h-1zM1184 1084.4h1V1088.8h-1zM1230 1084.4h1V1088.8h-1zM1233 1084.4h1V1088.8h-1zM1261 1084.4h1V1088.8h-1zM1270 1084.4h1V1088.8h-1zM1273 1084.4h1V1088.8h-1zM1288 1084.4h1V1088.8h-1zM1298 1084.4h1V1088.8h-1zM1307 1084.4h2V1088.8h-2zM1325 1084.4h1V1088.8h-1zM1345 1084.4h1V1088.8h-1zM1354 1084.4h1V1088.8h-1zM1198 1080.7h1V1084.4h-1zM1200 1080.7h1V1084.4h-1zM1205 1080.7h2V1084.4h-2zM1244 1080.7h1V1084.4h-1zM1266 1080.7h1V1084.4h-1zM1268 1080.7h1V1084.4h-1zM1271 1080.7h1V1084.4h-1zM1273 1080.7h1V1084.4h-1zM1348 1080.7h1V1084.4h-1zM1353 1080.7h1V1084.4h-1zM1355 1080.7h1V1084.4h-1zM1359 1080.7h1V1084.4h-1zM1362 1080.7h1V1084.4h-1zM1195 1077.5h1V1080.7h-1zM1206 1077.5h1V1080.7h-1zM1216 1077.5h1V1080.7h-1zM1230 1077.5h1V1080.7h-1zM1243 1077.5h1V1080.7h-1zM1254 1077.5h1V1080.7h-1zM1261 1077.5h1V1080.7h-1zM1268 1077.5h1V1080.7h-1zM1281 1077.5h1V1080.7h-1zM1288 1077.5h1V1080.7h-1zM1295 1077.5h1V1080.7h-1zM1308 1077.5h1V1080.7h-1zM1353 1077.5h1V1080.7h-1zM1361 1077.5h1V1080.7h-1zM1388 1077.5h1V1080.7h-1zM1184 1072.3h1V1077.5h-1zM1201 1072.3h1V1077.5h-1zM1203 1072.3h1V1077.5h-1zM1219 1072.3h1V1077.5h-1zM1223 1072.3h1V1077.5h-1zM1231 1072.3h1V1077.5h-1zM1233 1072.3h1V1077.5h-1zM1255 1072.3h1V1077.5h-1zM1261 1072.3h1V1077.5h-1zM1273 1072.3h1V1077.5h-1zM1318 1072.3h1V1077.5h-1zM1324 1072.3h1V1077.5h-1zM1329 1072.3h1V1077.5h-1zM1359 1072.3h1V1077.5h-1zM1184 1068h2V1072.3h-2zM1198 1068h1V1072.3h-1zM1206 1068h1V1072.3h-1zM1218 1068h1V1072.3h-1zM1225 1068h1V1072.3h-1zM1239 1068h1V1072.3h-1zM1246 1068h1V1072.3h-1zM1266 1068h1V1072.3h-1zM1287 1068h1V1072.3h-1zM1307 1068h1V1072.3h-1zM1328 1068h1V1072.3h-1zM1355 1068h2V1072.3h-2zM1202 1064.5h1V1068h-1zM1210 1064.5h1V1068h-1zM1226 1064.5h1V1068h-1zM1230 1064.5h1V1068h-1zM1234 1064.5h1V1068h-1zM1301 1064.5h1V1068h-1zM1200 1060h1V1064.5h-1zM1207 1060h1V1064.5h-1zM1234 1060h1V1064.5h-1zM1247 1060h1V1064.5h-1zM1266 1060h1V1064.5h-1zM1268 1060h1V1064.5h-1zM1270 1060h1V1064.5h-1zM1273 1060h1V1064.5h-1zM1288 1060h1V1064.5h-1zM1226 1056.3h1V1060h-1zM1356 1056.3h1V1060h-1zM1208 1052.2h1V1056.3h-1zM1267 1052.2h1V1056.3h-1zM1209 1047.9h1V1052.2h-1zM1247 1047.9h1V1052.2h-1zM1247 1043.7h1V1047.9h-1z"/><path fill="#6dff92" d="M761 1113.2h1V1122h-1zM1018 1113.2h1V1122h-1zM1170 1113.2h1V1122h-1zM1181 1113.2h3V1122h-3zM1188 1113.2h1V1122h-1zM1196 1113.2h1V1122h-1zM1210 1113.2h1V1122h-1zM1215 1113.2h1V1122h-1zM1218 1113.2h1V1122h-1zM1232 1113.2h1V1122h-1zM1240 1113.2h1V1122h-1zM1258 1113.2h1V1122h-1zM1269 1113.2h1V1122h-1zM1271 1113.2h1V1122h-1zM1286 1113.2h1V1122h-1zM1295 1113.2h1V1122h-1zM1325 1113.2h1V1122h-1zM1328 1113.2h1V1122h-1zM1341 1113.2h1V1122h-1zM1347 1113.2h1V1122h-1zM1353 1113.2h2V1122h-2zM1376 1113.2h1V1122h-1zM1406 1113.2h1V1122h-1zM1018 1101.8h1V1113.2h-1zM1159 1101.8h1V1113.2h-1zM1172 1101.8h1V1113.2h-1zM1181 1101.8h1V1113.2h-1zM1195 1101.8h1V1113.2h-1zM1212 1101.8h1V1113.2h-1zM1214 1101.8h1V1113.2h-1zM1220 1101.8h1V1113.2h-1zM1243 1101.8h1V1113.2h-1zM1254 1101.8h1V1113.2h-1zM1256 1101.8h1V1113.2h-1zM1262 1101.8h1V1113.2h-1zM1324 1101.8h1V1113.2h-1zM1341 1101.8h1V1113.2h-1zM1344 1101.8h1V1113.2h-1zM1354 1101.8h1V1113.2h-1zM1360 1101.8h1V1113.2h-1zM1369 1101.8h1V1113.2h-1zM1374 1101.8h1V1113.2h-1zM1406 1101.8h1V1113.2h-1zM1201 1094.4h1V1101.8h-1zM1213 1094.4h1V1101.8h-1zM1222 1094.4h1V1101.8h-1zM1231 1094.4h1V1101.8h-1zM1238 1094.4h1V1101.8h-1zM1243 1094.4h1V1101.8h-1zM1249 1094.4h1V1101.8h-1zM1254 1094.4h1V1101.8h-1zM1269 1094.4h1V1101.8h-1zM1280 1094.4h1V1101.8h-1zM1282 1094.4h1V1101.8h-1zM1298 1094.4h2V1101.8h-2zM1329 1094.4h1V1101.8h-1zM1332 1094.4h1V1101.8h-1zM1346 1094.4h1V1101.8h-1zM1354 1094.4h1V1101.8h-1zM1362 1094.4h1V1101.8h-1zM1397 1094.4h1V1101.8h-1zM1171 1088.8h1V1094.4h-1zM1180 1088.8h1V1094.4h-1zM1196 1088.8h1V1094.4h-1zM1215 1088.8h1V1094.4h-1zM1225 1088.8h1V1094.4h-1zM1227 1088.8h1V1094.4h-1zM1238 1088.8h1V1094.4h-1zM1255 1088.8h1V1094.4h-1zM1266 1088.8h1V1094.4h-1zM1295 1088.8h1V1094.4h-1zM1304 1088.8h1V1094.4h-1zM1319 1088.8h1V1094.4h-1zM1344 1088.8h1V1094.4h-1zM1354 1088.8h1V1094.4h-1zM1374 1088.8h1V1094.4h-1zM1186 1084.4h1V1088.8h-1zM1198 1084.4h1V1088.8h-1zM1201 1084.4h1V1088.8h-1zM1240 1084.4h1V1088.8h-1zM1246 1084.4h1V1088.8h-1zM1250 1084.4h1V1088.8h-1zM1260 1084.4h1V1088.8h-1zM1265 1084.4h1V1088.8h-1zM1287 1084.4h1V1088.8h-1zM1301 1084.4h1V1088.8h-1zM1328 1084.4h1V1088.8h-1zM1353 1084.4h1V1088.8h-1zM1359 1084.4h1V1088.8h-1zM1361 1084.4h1V1088.8h-1zM1180 1080.7h1V1084.4h-1zM1183 1080.7h1V1084.4h-1zM1203 1080.7h1V1084.4h-1zM1215 1080.7h1V1084.4h-1zM1224 1080.7h3V1084.4h-3zM1230 1080.7h1V1084.4h-1zM1238 1080.7h1V1084.4h-1zM1246 1080.7h1V1084.4h-1zM1282 1080.7h1V1084.4h-1zM1288 1080.7h1V1084.4h-1zM1303 1080.7h1V1084.4h-1zM1357 1080.7h1V1084.4h-1zM1201 1077.5h1V1080.7h-1zM1217 1077.5h1V1080.7h-1zM1223 1077.5h1V1080.7h-1zM1225 1077.5h1V1080.7h-1zM1231 1077.5h1V1080.7h-1zM1235 1077.5h2V1080.7h-2zM1239 1077.5h1V1080.7h-1zM1301 1077.5h1V1080.7h-1zM1348 1077.5h1V1080.7h-1zM1357 1077.5h1V1080.7h-1zM1396 1077.5h1V1080.7h-1zM1204 1072.3h1V1077.5h-1zM1209 1072.3h1V1077.5h-1zM1212 1072.3h1V1077.5h-1zM1224 1072.3h1V1077.5h-1zM1246 1072.3h1V1077.5h-1zM1251 1072.3h1V1077.5h-1zM1270 1072.3h1V1077.5h-1zM1281 1072.3h1V1077.5h-1zM1307 1072.3h1V1077.5h-1zM1200 1068h1V1072.3h-1zM1205 1068h1V1072.3h-1zM1207 1068h1V1072.3h-1zM1223 1068h1V1072.3h-1zM1255 1068h1V1072.3h-1zM1270 1068h1V1072.3h-1zM1288 1068h1V1072.3h-1zM1302 1068h1V1072.3h-1zM1200 1064.5h1V1068h-1zM1209 1064.5h1V1068h-1zM1212 1064.5h1V1068h-1zM1216 1064.5h1V1068h-1zM1223 1064.5h1V1068h-1zM1231 1064.5h1V1068h-1zM1358 1064.5h1V1068h-1zM1207 1056.3h1V1060h-1zM1209 1056.3h1V1060h-1zM1235 1056.3h1V1060h-1zM1207 1052.2h1V1056.3h-1z"/><path fill="#92ff6d" d="M1085 1113.2h1V1122h-1zM1103 1113.2h1V1122h-1zM1195 1113.2h1V1122h-1zM1214 1113.2h1V1122h-1zM1227 1113.2h1V1122h-1zM1256 1113.2h1V1122h-1zM1259 1113.2h1V1122h-1zM1291 1113.2h1V1122h-1zM1298 1113.2h2V1122h-2zM1313 1113.2h1V1122h-1zM1344 1113.2h1V1122h-1zM1398 1113.2h1V1122h-1zM762 1101.8h1V1113.2h-1zM1180 1101.8h1V1113.2h-1zM1199 1101.8h1V1113.2h-1zM1210 1101.8h1V1113.2h-1zM1215 1101.8h1V1113.2h-1zM1217 1101.8h2V1113.2h-2zM1249 1101.8h1V1113.2h-1zM1263 1101.8h2V1113.2h-2zM1271 1101.8h2V1113.2h-2zM1295 1101.8h1V1113.2h-1zM1299 1101.8h1V1113.2h-1zM1308 1101.8h1V1113.2h-1zM1323 1101.8h1V1113.2h-1zM1326 1101.8h1V1113.2h-1zM1361 1101.8h1V1113.2h-1zM1381 1101.8h1V1113.2h-1zM1396 1101.8h1V1113.2h-1zM1103 1094.4h1V1101.8h-1zM1173 1094.4h1V1101.8h-1zM1180 1094.4h1V1101.8h-1zM1182 1094.4h1V1101.8h-1zM1198 1094.4h2V1101.8h-2zM1246 1094.4h1V1101.8h-1zM1256 1094.4h1V1101.8h-1zM1261 1094.4h1V1101.8h-1zM1303 1094.4h1V1101.8h-1zM1318 1094.4h1V1101.8h-1zM1335 1094.4h1V1101.8h-1zM1347 1094.4h1V1101.8h-1zM1353 1094.4h1V1101.8h-1zM1374 1094.4h1V1101.8h-1zM1395 1094.4h1V1101.8h-1zM1195 1088.8h1V1094.4h-1zM1210 1088.8h1V1094.4h-1zM1223 1088.8h1V1094.4h-1zM1226 1088.8h1V1094.4h-1zM1230 1088.8h1V1094.4h-1zM1251 1088.8h1V1094.4h-1zM1265 1088.8h1V1094.4h-1zM1272 1088.8h2V1094.4h-2zM1281 1088.8h1V1094.4h-1zM1348 1088.8h1V1094.4h-1zM1353 1088.8h1V1094.4h-1zM1355 1088.8h1V1094.4h-1zM1358 1088.8h1V1094.4h-1zM1396 1088.8h1V1094.4h-1zM1182 1084.4h1V1088.8h-1zM1202 1084.4h1V1088.8h-1zM1207 1084.4h1V1088.8h-1zM1234 1084.4h1V1088.8h-1zM1239 1084.4h1V1088.8h-1zM1251 1084.4h1V1088.8h-1zM1255 1084.4h1V1088.8h-1zM1266 1084.4h1V1088.8h-1zM1304 1084.4h1V1088.8h-1zM1374 1084.4h1V1088.8h-1zM1184 1080.7h1V1084.4h-1zM1217 1080.7h1V1084.4h-1zM1219 1080.7h1V1084.4h-1zM1239 1080.7h1V1084.4h-1zM1251 1080.7h1V1084.4h-1zM1260 1080.7h1V1084.4h-1zM1287 1080.7h1V1084.4h-1zM1301 1080.7h2V1084.4h-2zM1324 1080.7h1V1084.4h-1zM1349 1080.7h1V1084.4h-1zM1198 1077.5h1V1080.7h-1zM1204 1077.5h1V1080.7h-1zM1208 1077.5h1V1080.7h-1zM1224 1077.5h1V1080.7h-1zM1270 1077.5h1V1080.7h-1zM1280 1077.5h1V1080.7h-1zM1349 1077.5h1V1080.7h-1zM1185 1072.3h1V1077.5h-1zM1206 1072.3h2V1077.5h-2zM1234 1072.3h1V1077.5h-1zM1247 1072.3h1V1077.5h-1zM1268 1072.3h1V1077.5h-1zM1287 1072.3h1V1077.5h-1zM1301 1072.3h1V1077.5h-1zM1357 1072.3h1V1077.5h-1zM1204 1068h1V1072.3h-1zM1216 1068h1V1072.3h-1zM1247 1068h1V1072.3h-1zM1267 1068h1V1072.3h-1zM1349 1068h1V1072.3h-1zM1185 1064.5h1V1068h-1zM1204 1064.5h2V1068h-2zM1261 1064.5h1V1068h-1zM1208 1060h1V1064.5h-1zM1255 1060h1V1064.5h-1zM1200 1056.3h1V1060h-1zM1208 1056.3h1V1060h-1zM1265 1056.3h1V1060h-1z"/><path fill="#b6ff49" d="M1252 1113.2h1V1122h-1zM1326 1113.2h1V1122h-1zM1329 1113.2h1V1122h-1zM1361 1113.2h1V1122h-1zM1381 1113.2h1V1122h-1zM1133 1101.8h1V1113.2h-1zM1183 1101.8h1V1113.2h-1zM1186 1101.8h1V1113.2h-1zM1197 1101.8h1V1113.2h-1zM1202 1101.8h1V1113.2h-1zM1222 1101.8h1V1113.2h-1zM1232 1101.8h1V1113.2h-1zM1237 1101.8h1V1113.2h-1zM1252 1101.8h1V1113.2h-1zM1260 1101.8h1V1113.2h-1zM1346 1101.8h3V1113.2h-3zM1397 1101.8h2V1113.2h-2zM1184 1094.4h1V1101.8h-1zM1186 1094.4h1V1101.8h-1zM1237 1094.4h1V1101.8h-1zM1273 1094.4h1V1101.8h-1zM1288 1094.4h1V1101.8h-1zM1319 1094.4h1V1101.8h-1zM1324 1094.4h2V1101.8h-2zM1357 1094.4h1V1101.8h-1zM1361 1094.4h1V1101.8h-1zM1183 1088.8h1V1094.4h-1zM1234 1088.8h1V1094.4h-1zM1250 1088.8h1V1094.4h-1zM1256 1088.8h1V1094.4h-1zM1260 1088.8h2V1094.4h-2zM1356 1088.8h2V1094.4h-2zM1359 1088.8h1V1094.4h-1zM1395 1088.8h1V1094.4h-1zM1203 1084.4h1V1088.8h-1zM1206 1084.4h1V1088.8h-1zM1231 1084.4h1V1088.8h-1zM1235 1084.4h1V1088.8h-1zM1247 1084.4h1V1088.8h-1zM1254 1084.4h1V1088.8h-1zM1302 1084.4h1V1088.8h-1zM1185 1080.7h1V1084.4h-1zM1209 1080.7h1V1084.4h-1zM1231 1080.7h1V1084.4h-1zM1250 1080.7h1V1084.4h-1zM1265 1080.7h1V1084.4h-1zM1307 1080.7h1V1084.4h-1zM1356 1080.7h1V1084.4h-1zM1358 1080.7h1V1084.4h-1zM1209 1077.5h1V1080.7h-1zM1238 1077.5h1V1080.7h-1zM1287 1077.5h1V1080.7h-1zM1307 1077.5h1V1080.7h-1zM1235 1072.3h1V1077.5h-1zM1356 1072.3h1V1077.5h-1zM1208 1068h2V1072.3h-2zM1234 1068h1V1072.3h-1zM1247 1064.5h1V1068h-1zM1251 1064.5h1V1068h-1zM1265 1064.5h1V1068h-1zM1267 1064.5h1V1068h-1zM1201 1060h1V1064.5h-1z"/><path fill="#dbff24" d="M762 1113.2h1V1122h-1zM1197 1113.2h2V1122h-2zM1216 1113.2h1V1122h-1zM1220 1113.2h1V1122h-1zM1222 1113.2h2V1122h-2zM1231 1113.2h1V1122h-1zM1238 1113.2h1V1122h-1zM1255 1113.2h1V1122h-1zM1260 1113.2h2V1122h-2zM1265 1113.2h1V1122h-1zM1272 1113.2h1V1122h-1zM1282 1113.2h1V1122h-1zM1287 1113.2h1V1122h-1zM1301 1113.2h3V1122h-3zM1308 1113.2h1V1122h-1zM1318 1113.2h2V1122h-2zM1374 1113.2h1V1122h-1zM1396 1113.2h2V1122h-2zM1185 1101.8h1V1113.2h-1zM1201 1101.8h1V1113.2h-1zM1206 1101.8h1V1113.2h-1zM1216 1101.8h1V1113.2h-1zM1219 1101.8h1V1113.2h-1zM1223 1101.8h1V1113.2h-1zM1230 1101.8h1V1113.2h-1zM1238 1101.8h2V1113.2h-2zM1266 1101.8h2V1113.2h-2zM1280 1101.8h1V1113.2h-1zM1298 1101.8h1V1113.2h-1zM1302 1101.8h1V1113.2h-1zM1307 1101.8h1V1113.2h-1zM1329 1101.8h1V1113.2h-1zM1358 1101.8h1V1113.2h-1zM1376 1101.8h1V1113.2h-1zM1388 1101.8h1V1113.2h-1zM1395 1101.8h1V1113.2h-1zM1183 1094.4h1V1101.8h-1zM1185 1094.4h1V1101.8h-1zM1200 1094.4h1V1101.8h-1zM1203 1094.4h1V1101.8h-1zM1205 1094.4h1V1101.8h-1zM1225 1094.4h1V1101.8h-1zM1234 1094.4h1V1101.8h-1zM1255 1094.4h1V1101.8h-1zM1268 1094.4h1V1101.8h-1zM1270 1094.4h1V1101.8h-1zM1272 1094.4h1V1101.8h-1zM1304 1094.4h1V1101.8h-1zM1349 1094.4h1V1101.8h-1zM1381 1094.4h1V1101.8h-1zM1396 1094.4h1V1101.8h-1zM1198 1088.8h1V1094.4h-1zM1204 1088.8h4V1094.4h-4zM1216 1088.8h1V1094.4h-1zM1219 1088.8h1V1094.4h-1zM1231 1088.8h1V1094.4h-1zM1239 1088.8h1V1094.4h-1zM1267 1088.8h1V1094.4h-1zM1287 1088.8h2V1094.4h-2zM1301 1088.8h2V1094.4h-2zM1349 1088.8h1V1094.4h-1zM1205 1084.4h1V1088.8h-1zM1209 1084.4h1V1088.8h-1zM1219 1084.4h1V1088.8h-1zM1238 1084.4h1V1088.8h-1zM1356 1084.4h1V1088.8h-1zM1208 1080.7h1V1084.4h-1zM1234 1080.7h1V1084.4h-1zM1281 1080.7h1V1084.4h-1zM1200 1077.5h1V1080.7h-1zM1203 1077.5h1V1080.7h-1zM1205 1077.5h1V1080.7h-1zM1234 1077.5h1V1080.7h-1zM1247 1077.5h1V1080.7h-1zM1265 1077.5h1V1080.7h-1zM1267 1077.5h1V1080.7h-1zM1302 1077.5h1V1080.7h-1zM1208 1072.3h1V1077.5h-1zM1267 1072.3h1V1077.5h-1zM1281 1064.5h1V1068h-1zM1224 1060h1V1064.5h-1zM1267 1060h1V1064.5h-1z"/><path fill="#ffff00" d="M1171 1113.2h1V1122h-1zM1180 1113.2h1V1122h-1zM1184 1113.2h1V1122h-1zM1200 1113.2h1V1122h-1zM1203 1113.2h1V1122h-1zM1207 1113.2h2V1122h-2zM1212 1113.2h1V1122h-1zM1219 1113.2h1V1122h-1zM1224 1113.2h1V1122h-1zM1226 1113.2h1V1122h-1zM1230 1113.2h1V1122h-1zM1234 1113.2h1V1122h-1zM1239 1113.2h1V1122h-1zM1246 1113.2h1V1122h-1zM1251 1113.2h1V1122h-1zM1254 1113.2h1V1122h-1zM1268 1113.2h1V1122h-1zM1270 1113.2h1V1122h-1zM1288 1113.2h1V1122h-1zM1304 1113.2h1V1122h-1zM1307 1113.2h1V1122h-1zM1346 1113.2h1V1122h-1zM1355 1113.2h4V1122h-4zM1395 1113.2h1V1122h-1zM1182 1101.8h1V1113.2h-1zM1184 1101.8h1V1113.2h-1zM1203 1101.8h1V1113.2h-1zM1208 1101.8h2V1113.2h-2zM1226 1101.8h1V1113.2h-1zM1231 1101.8h1V1113.2h-1zM1234 1101.8h1V1113.2h-1zM1242 1101.8h1V1113.2h-1zM1246 1101.8h2V1113.2h-2zM1251 1101.8h1V1113.2h-1zM1261 1101.8h1V1113.2h-1zM1265 1101.8h1V1113.2h-1zM1282 1101.8h1V1113.2h-1zM1287 1101.8h1V1113.2h-1zM1301 1101.8h1V1113.2h-1zM1303 1101.8h2V1113.2h-2zM1328 1101.8h1V1113.2h-1zM1349 1101.8h1V1113.2h-1zM1353 1101.8h1V1113.2h-1zM1356 1101.8h2V1113.2h-2zM1359 1101.8h1V1113.2h-1zM1362 1101.8h1V1113.2h-1zM1206 1094.4h4V1101.8h-4zM1217 1094.4h3V1101.8h-3zM1223 1094.4h2V1101.8h-2zM1226 1094.4h2V1101.8h-2zM1247 1094.4h1V1101.8h-1zM1265 1094.4h1V1101.8h-1zM1267 1094.4h1V1101.8h-1zM1271 1094.4h1V1101.8h-1zM1287 1094.4h1V1101.8h-1zM1307 1094.4h1V1101.8h-1zM1348 1094.4h1V1101.8h-1zM1356 1094.4h1V1101.8h-1zM1358 1094.4h2V1101.8h-2zM1200 1088.8h2V1094.4h-2zM1203 1088.8h1V1094.4h-1zM1208 1088.8h2V1094.4h-2zM1224 1088.8h1V1094.4h-1zM1235 1088.8h1V1094.4h-1zM1362 1088.8h1V1094.4h-1zM1185 1084.4h1V1088.8h-1zM1200 1084.4h1V1088.8h-1zM1208 1084.4h1V1088.8h-1zM1216 1084.4h1V1088.8h-1zM1223 1084.4h2V1088.8h-2zM1267 1084.4h1V1088.8h-1zM1201 1080.7h1V1084.4h-1zM1204 1080.7h1V1084.4h-1zM1223 1080.7h1V1084.4h-1zM1247 1080.7h1V1084.4h-1zM1255 1080.7h1V1084.4h-1zM1267 1080.7h1V1084.4h-1zM1226 1077.5h1V1080.7h-1zM1205 1072.3h1V1077.5h-1zM1226 1072.3h1V1077.5h-1zM1226 1068h1V1072.3h-1zM1204 1056.3h1V1060h-1z"/><path fill="#ffdb00" d="M1201 1113.2h1V1122h-1zM1235 1113.2h1V1122h-1zM1266 1113.2h1V1122h-1zM1281 1113.2h1V1122h-1zM1324 1113.2h1V1122h-1zM1348 1113.2h1V1122h-1zM1359 1113.2h1V1122h-1zM1198 1101.8h1V1113.2h-1zM1200 1101.8h1V1113.2h-1zM1204 1101.8h1V1113.2h-1zM1225 1101.8h1V1113.2h-1zM1227 1101.8h1V1113.2h-1zM1255 1101.8h1V1113.2h-1zM1270 1101.8h1V1113.2h-1zM1273 1101.8h1V1113.2h-1zM1288 1101.8h1V1113.2h-1zM1318 1101.8h1V1113.2h-1zM1355 1101.8h1V1113.2h-1zM1216 1094.4h1V1101.8h-1zM1230 1094.4h1V1101.8h-1zM1235 1094.4h1V1101.8h-1zM1239 1094.4h1V1101.8h-1zM1251 1094.4h1V1101.8h-1zM1266 1094.4h1V1101.8h-1zM1301 1094.4h2V1101.8h-2zM1185 1088.8h1V1094.4h-1zM1247 1088.8h1V1094.4h-1zM1270 1088.8h1V1094.4h-1zM1226 1084.4h1V1088.8h-1zM1281 1084.4h1V1088.8h-1zM1207 1080.7h1V1084.4h-1zM1216 1080.7h1V1084.4h-1zM1235 1080.7h1V1084.4h-1zM1208 1064.5h1V1068h-1z"/><path fill="#ffb600" d="M1185 1113.2h1V1122h-1zM1204 1113.2h3V1122h-3zM1209 1113.2h1V1122h-1zM1225 1113.2h1V1122h-1zM1247 1113.2h1V1122h-1zM1267 1113.2h1V1122h-1zM1273 1113.2h1V1122h-1zM1349 1113.2h1V1122h-1zM1362 1113.2h1V1122h-1zM1205 1101.8h1V1113.2h-1zM1207 1101.8h1V1113.2h-1zM1224 1101.8h1V1113.2h-1zM1235 1101.8h1V1113.2h-1zM1268 1101.8h1V1113.2h-1zM1281 1101.8h1V1113.2h-1zM1204 1094.4h1V1101.8h-1zM1281 1094.4h1V1101.8h-1zM1355 1094.4h1V1101.8h-1zM1204 1084.4h1V1088.8h-1z"/><path d="M1035 998.5H1132M1135 983.5H1226M1182 974.5H1199M777 1015.5H854M1035 1040.5H1125" stroke="#0061ff" stroke-width="1" stroke-dasharray="3 2" fill="none" opacity="0.55"/></g>
<path d="M260.5 969.5H1810.5V1122.5H260.5Z" fill="none" stroke="#000" shape-rendering="crispEdges"/>
<text x="203.87" y="1004.50">10</text>
<text x="235.18" y="988.00" style="font-size:18.5px">-1</text>
<text x="203.87" y="1055.50">10</text>
<text x="236.78" y="1039.00" style="font-size:18.5px">0</text>
<text x="203.87" y="1106.50">10</text>
<text x="236.59" y="1090.00" style="font-size:18.5px">1</text>
<text transform="translate(184.7 1046.7) rotate(-90)" text-anchor="middle">Wavelength (km)</text>
<g shape-rendering="crispEdges" fill="none">
<path d="M263 1179.5H1808M263 1244.5H1808M263 1309.5H1808M441.5 1151V1337M621.5 1151V1337M801.5 1151V1337M981.5 1151V1337M1162.5 1151V1337M1343.5 1151V1337M1628.5 1151V1337M1809.5 1135V1355" stroke="#000" stroke-dasharray="1 4"/>
<path d="M260 1179.5H277M1794 1179.5H1811M260 1244.5H277M1794 1244.5H1811M260 1309.5H277M1794 1309.5H1811M441.5 1133V1149M441.5 1339V1355M621.5 1133V1149M621.5 1339V1355M801.5 1133V1149M801.5 1339V1355M981.5 1133V1149M981.5 1339V1355M1162.5 1133V1149M1162.5 1339V1355M1343.5 1133V1149M1343.5 1339V1355M1628.5 1133V1149M1628.5 1339V1355" stroke="#000"/>
</g>
<path d="M338.3 1134.2 L349.6 1142.6 L352.4 1140.2 L345.4 1134.2M356.7 1134.2 L368 1146.2 L368 1154.6 L379.2 1164.5 L390.5 1170.2 L400 1173 L410.3 1174.4 L414.5 1172 L424.4 1180 L432.9 1184.3 L440 1187.4 L445.6 1188.1 L453.3 1200 L461 1207 L475 1214 L481.3 1205.6 L489 1214 L489.4 1219 L489.4 1216.8 L489.4 1229.5 L480.9 1238 L474.5 1249.2 L478 1257.7 L472.4 1264.8 L475.2 1274.7 L483.7 1283.1 L492.2 1302.9 L497.8 1311.4 L513.4 1319.8 L520.6 1326.9 L519.2 1345.2 L517.8 1355.5M401.8 1133.5 L400.4 1144.8 L404.7 1156.1 L413.1 1163.1 L423 1163.1 L430.8 1160.3 L432.9 1151.8 L441.4 1149.7 L448.4 1149.7 L445.6 1157.5 L442.8 1171.6 L440 1174.8 L459.6 1175.5 L463.1 1179 L462.4 1193 L462.4 1196.5 L471.5 1205.6 L480.6 1202.8 L491.8 1209.1 L496.7 1200 L497.4 1197.2 L514.2 1190.2 L515.6 1193 L519.8 1191.6 L527.5 1197.2 L528.9 1197.9 L547.1 1197.9 L559 1199.3 L560.4 1204.9 L569.5 1211.2 L574.3 1216.8 L582.8 1218.2 L596.9 1223.8 L602.5 1229.5 L607.5 1238 L605.4 1243.6 L601.1 1247.8 L606.8 1245 L613.8 1246.4 L622.3 1249.2 L628 1252.1 L636.4 1256.3 L649.1 1256.3 L663.2 1264.8 L670.3 1267.6 L673.1 1280.3 L664.7 1291.6 L654.8 1302.9 L654.1 1319.8 L652 1329.7 L644.9 1341 L636.4 1345.2 L628 1348.1 L618.1 1355.5M456.8 1147.5 L461 1144 L470.1 1140.8 L482 1144.7 L492.5 1148.9 L501.6 1153.8 L502.3 1156.6 L489 1156.6 L483.4 1151 L471.5 1145.4 L466.6 1147.5 L465.2 1150.3 L456.8 1147.5M485 1165 L489.7 1162.6 L494.6 1165 L489.7 1167.4 L485 1165M506.5 1156.6 L513.5 1156.6 L522.6 1159.4 L528.2 1162.9 L526.1 1164.3 L517 1163.6 L514.2 1167.8 L510 1164.3 L502.3 1164.3 L508.6 1160.8 L506.5 1156.6M532.4 1164.3 L536.6 1162.3 L540.8 1164.3 L536.6 1166.3 L532.4 1164.3M487.6 1134 L488.5 1138M498.1 1140.5 L503 1145.4M506 1145 L509 1146M505 1150 L508 1151M471 1134 L472 1136M514.2 1196.5 L515.6 1205.6M757.8 1133.5 L749.4 1147.6 L753.6 1161.7 L748 1180.1 L755 1194.2 L763.5 1204.1 L766.3 1211.1 L775 1216.8 L789.1 1226 L804.6 1221 L813.1 1223.1 L837.1 1215.4 L844.2 1218.2 L847 1225.2 L859.7 1225.2 L863.9 1232.3 L860.4 1249.2 L866.8 1256.3 L875.2 1267.6 L879.5 1283.1 L882.3 1294.4 L875.2 1305.7 L873.1 1322.7 L882.3 1339.6 L885.1 1355.5M972.7 1133.5 L976.9 1141.9 L982.5 1160.3 L991 1170.2 L1008 1190 L1009.4 1195.6 L1015 1199.1 L1023.5 1196.3 L1035 1194.2 L1042.8 1194.2 L1040.6 1204.1 L1034.8 1215.4 L1015 1235.1 L995.2 1254.9 L989.6 1270.4 L993.8 1280.3 L998.1 1290.2 L998.1 1308.5 L986.8 1321.2 L972.7 1332.5 L974.8 1355.5M981.8 1133.5 L989.6 1143.4 L992.4 1153.2 L1000.9 1161.7 L1006.5 1174.4 L1009.4 1190 L1020.7 1187.1 L1036.2 1179.4 L1047.7 1175.8 L1054.8 1171.6 L1063.2 1167.4 L1071.7 1161.7 L1073.1 1154.6 L1080.2 1144.8 L1064.6 1133.5M1043.5 1135.6 L1049.1 1137.7 L1054.8 1134.9M1026.3 1355.5 L1035 1325.5 L1039.9 1310 L1035 1307.1 L1027 1310 L1015 1315.6 L1012.2 1329.7 L1008 1342.4 L1010.8 1355.5M948 1259.1 L955.7 1281.7M969.8 1286 L974 1307.1M880 1183 L886 1186 L884 1189 L880 1183M1111.2 1133.5 L1119.7 1143.4 L1125.4 1144.8 L1126.8 1152.5 L1133.8 1146.2 L1135.2 1153.2 L1138.1 1174.4 L1148 1195.6 L1155 1208.3 L1164.9 1198.4 L1166.3 1178.6 L1176.2 1170.2 L1190.3 1158.9 L1197.4 1149 L1214.3 1144.8 L1220 1152.6 L1223.8 1155.4 L1228.5 1163 L1229.4 1173.3 L1239.8 1171.4 L1243.5 1179.9 L1247.3 1190.2 L1248.2 1195.9 L1245.4 1205.3 L1250.1 1212.8 L1255.8 1220.4 L1257.6 1233.5 L1271.8 1237.3 L1266.1 1223.2 L1265.2 1217.5 L1255.8 1212.8 L1249.2 1201.5 L1253.9 1186.5 L1257.6 1186.5 L1265.2 1194 L1272.7 1201.5 L1274.6 1205.3 L1281.2 1201.5 L1291.5 1194 L1292.5 1177.1 L1278.4 1162 L1284.9 1149.8 L1290.6 1147.9 L1295.3 1150.7 L1309.4 1145.1 L1323.5 1141.3 L1333.9 1133.5M1167.7 1202 L1174.8 1212.5 L1170.5 1218.9 L1166.3 1215.4 L1167.7 1202M1222 1187 L1221 1193M1291 1157 L1296 1155 L1300 1159 L1296 1163 L1291 1161 L1291 1157M1340.2 1137.7 L1347.2 1134.4 L1345.8 1143.4 L1343 1147.6 L1340.2 1137.7M1233.2 1219.4 L1240.7 1220.8 L1248.2 1227.9 L1259.5 1235.4 L1267.1 1241.1 L1272.7 1251.4 L1280.2 1255.2 L1278.4 1268.4 L1271.8 1267.5 L1260.5 1255.2 L1252 1242.9 L1244.5 1233.5 L1235.1 1224.1 L1233.2 1219.4M1277 1269 L1286 1276.8 L1300 1280.6 L1314.1 1282.5 L1332.9 1285.3 L1342.4 1284.4 L1351.8 1281.5 L1368 1279 L1356 1288 L1342 1287 L1325 1288 L1305 1284 L1288 1280 L1277 1269M1290.6 1238.2 L1300 1234.4 L1302.8 1230.7 L1314.1 1224.1 L1325.4 1213.8 L1334.8 1222.2 L1328.2 1231.7 L1333.9 1240.1 L1323.5 1255.2 L1316 1261.8 L1304.7 1259 L1295.3 1257.1 L1293.4 1245.8 L1290.6 1238.2M1327.3 1207.2 L1337.6 1195.9M1341.4 1163.9 L1349.9 1163.9 L1349.9 1171.4 L1345.2 1178.9 L1346.1 1184.6 L1341.4 1186.5 L1338.6 1175.2 L1341.4 1163.9M1343 1187 L1351.8 1182.7 L1362.2 1191.2 L1363.1 1197.8 L1366.8 1205.3 L1363.1 1215.4 L1357 1216 L1354 1205 L1347 1199 L1343 1187M1337.6 1242.9 L1342.4 1238.2 L1361.2 1237.3 L1359.3 1241.1 L1345.2 1243.9 L1342.4 1251.4 L1351.8 1248.6 L1347.1 1252.4 L1349.9 1266.5 L1344.2 1264.6 L1340.5 1257.1 L1335.8 1265.5 L1333.9 1256.1 L1337.6 1242.9M1372 1235 L1376 1238 L1374 1243 L1377 1250 L1373 1247 L1372 1235M1366 1258 L1375 1256.5 L1385 1259 L1375 1260 L1366 1258M1384 1245 L1394 1245 L1399 1249 L1395 1253 L1389 1252 L1386 1249 L1384 1245M1392 1256 L1400 1260 L1412 1265 L1418 1272 L1418 1277 L1415 1280 L1426 1282 L1435 1284 L1445 1276 L1452 1280 L1460 1286 L1470 1289 L1461 1280 L1455 1274 L1460 1273 L1458 1270 L1452 1268 L1445 1262 L1430 1255 L1416 1251 L1407 1253 L1404 1257 L1399 1258 L1392 1256M1472 1256 L1482 1262 L1475 1269 L1462 1269 L1474 1265 L1472 1256M1488 1267 L1500 1276M1506 1278 L1520 1290M1354 1289 L1370 1280 L1365 1278 L1354 1285 L1354 1289M1387 1276 L1388 1278M1400 1269 L1401 1272M959 1243 L966 1242 L968 1248 L965 1255 L960 1253 L959 1243M1310.5 1355.5 L1313.4 1342.4 L1324.6 1335.4 L1343 1329.7 L1351.5 1315.6 L1365.6 1305.7 L1376.9 1308.5 L1382.5 1298.7 L1393.8 1294.4 L1412.2 1297.2 L1406.5 1309.9 L1410.8 1314.2 L1426.3 1322.7 L1432 1314.2 L1434.8 1291.6 L1439 1295.8 L1447.5 1308.5 L1451.7 1325.5 L1463 1334 L1478.5 1355.5M1373 1287 L1385 1281M1388 1270 L1391 1274M1540.7 1308.5 L1544.9 1317M1529.4 1334 L1542.1 1342.4 L1536 1336 L1529.4 1334M1586.1 1321.2 L1592 1317 L1597.4 1315.6 L1590 1323 L1586.1 1321.2M1682.1 1147.6 L1684 1147M1692 1149.7 L1700.4 1153.2 L1706.1 1158.9 L1701.8 1161.7 L1700 1155M1631.2 1303 L1634 1305" fill="none" stroke="#000" stroke-width="2.1" stroke-linejoin="round" stroke-linecap="round"/>
<g fill="#000"><circle cx="430.0" cy="1246.4" r="2"/><circle cx="556.9" cy="1173.7" r="2"/><circle cx="559.7" cy="1180.4" r="2"/><circle cx="1355.0" cy="1252.5" r="2"/><circle cx="1407.0" cy="1248.0" r="2"/><circle cx="1054.1" cy="1190.0" r="2"/><circle cx="1061.1" cy="1336.8" r="2"/><circle cx="1070.3" cy="1332.5" r="2"/><circle cx="1729.4" cy="1321.2" r="2"/><circle cx="1061.0" cy="1335.0" r="2"/></g>
<path d="M260.4 1193.7 L264.4 1193.1 L268.4 1192.5 L272.4 1192 L276.4 1191.5 L280.4 1191 L284.4 1190.5 L288.4 1190.1 L292.4 1189.7 L296.4 1189.3 L300.4 1188.9 L304.4 1188.6 L308.4 1188.3 L312.4 1188 L316.4 1187.7 L320.4 1187.5 L324.4 1187.3 L328.4 1187.1 L332.4 1187 L336.4 1186.8 L340.4 1186.7 L344.4 1186.6 L348.4 1186.6 L352.4 1186.5 L356.4 1186.5 L360.4 1186.5 L364.4 1186.5 L368.4 1186.6 L372.4 1186.7 L376.4 1186.8 L380.4 1186.9 L384.4 1187 L388.4 1187.2 L392.4 1187.3 L396.4 1187.5 L400.4 1187.8 L404.4 1188 L408.4 1188.2 L412.4 1188.5 L416.4 1188.8 L420.4 1189.1 L424.4 1189.5 L428.4 1189.8 L432.4 1190.2 L436.4 1190.6 L440.4 1191 L444.4 1191.4 L448.4 1191.8 L452.4 1192.3 L456.4 1192.7 L460.4 1193.2 L464.4 1193.7 L468.4 1194.2 L472.4 1194.8 L476.4 1195.3 L480.4 1195.9 L484.4 1196.4 L488.4 1197 L492.4 1197.6 L496.4 1198.3 L500.4 1198.9 L504.4 1199.5 L508.4 1200.2 L512.4 1200.9 L516.4 1201.5 L520.4 1202.2 L524.4 1202.9 L528.4 1203.6 L532.4 1204.4 L536.4 1205.1 L540.4 1205.9 L544.4 1206.6 L548.4 1207.4 L552.4 1208.2 L556.4 1209 L560.4 1209.8 L564.4 1210.6 L568.4 1211.4 L572.4 1212.2 L576.4 1213 L580.4 1213.9 L584.4 1214.7 L588.4 1215.6 L592.4 1216.5 L596.4 1217.3 L600.4 1218.2 L604.4 1219.1 L608.4 1220 L612.4 1220.9 L616.4 1221.8 L620.4 1222.7 L624.4 1223.6 L628.4 1224.5 L632.4 1225.4 L636.4 1226.4 L640.4 1227.3 L644.4 1228.2 L648.4 1229.2 L652.4 1230.1 L656.4 1231.1 L660.4 1232 L664.4 1233 L668.4 1233.9 L672.4 1234.9 L676.4 1235.8 L680.4 1236.8 L684.4 1237.8 L688.4 1238.7 L692.4 1239.7 L696.4 1240.7 L700.4 1241.6 L704.4 1242.6 L708.4 1243.5 L712.4 1244.5 L716.4 1245.5 L720.4 1246.4 L724.4 1247.4 L728.4 1248.3 L732.4 1249.3 L736.4 1250.3 L740.4 1251.2 L744.4 1252.2 L748.4 1253.1 L752.4 1254 L756.4 1255 L760.4 1255.9 L764.4 1256.9 L768.4 1257.8 L772.4 1258.7 L776.4 1259.6 L780.4 1260.5 L784.4 1261.4 L788.4 1262.3 L792.4 1263.2 L796.4 1264.1 L800.4 1265 L804.4 1265.9 L808.4 1266.8 L812.4 1267.6 L816.4 1268.5 L820.4 1269.3 L824.4 1270.2 L828.4 1271 L832.4 1271.8 L836.4 1272.6 L840.4 1273.5 L844.4 1274.3 L848.4 1275 L852.4 1275.8 L856.4 1276.6 L860.4 1277.3 L864.4 1278.1 L868.4 1278.8 L872.4 1279.6 L876.4 1280.3 L880.4 1281 L884.4 1281.7 L888.4 1282.3 L892.4 1283 L896.4 1283.7 L900.4 1284.3 L904.4 1284.9 L908.4 1285.5 L912.4 1286.1 L916.4 1286.7 L920.4 1287.3 L924.4 1287.9 L928.4 1288.4 L932.4 1289 L936.4 1289.5 L940.4 1290 L944.4 1290.5 L948.4 1291 L952.4 1291.4 L956.4 1291.9 L960.4 1292.3 L964.4 1292.8 L968.4 1293.2 L972.4 1293.6 L976.4 1294 L980.4 1294.3 L984.4 1294.7 L988.4 1295 L992.4 1295.4 L996.4 1295.7 L1000.4 1296 L1004.4 1296.3 L1008.4 1296.6 L1012.4 1296.8 L1016.4 1297.1 L1020.4 1297.3 L1024.4 1297.5 L1028.4 1297.7 L1032.4 1297.9 L1036.4 1298.1 L1040.4 1298.3 L1044.4 1298.4 L1048.4 1298.6 L1052.4 1298.7 L1056.4 1298.8 L1060.4 1298.9 L1064.4 1299 L1068.4 1299 L1072.4 1299.1 L1076.4 1299.1 L1080.4 1299.1 L1084.4 1299.1 L1088.4 1299.1 L1092.4 1299.1 L1096.4 1299.1 L1100.4 1299 L1104.4 1299 L1108.4 1298.9 L1112.4 1298.8 L1116.4 1298.7 L1120.4 1298.6 L1124.4 1298.4 L1128.4 1298.3 L1132.4 1298.1 L1136.4 1297.9 L1140.4 1297.7 L1144.4 1297.5 L1148.4 1297.3 L1152.4 1297.1 L1156.4 1296.8 L1160.4 1296.5 L1164.4 1296.2 L1168.4 1295.9 L1172.4 1295.6 L1176.4 1295.3 L1180.4 1295 L1184.4 1294.6 L1188.4 1294.2 L1192.4 1293.8 L1196.4 1293.4 L1200.4 1293 L1204.4 1292.6 L1208.4 1292.1 L1212.4 1291.6 L1216.4 1291.2 L1220.4 1290.7 L1224.4 1290.1 L1228.4 1289.6 L1232.4 1289.1 L1236.4 1288.5 L1240.4 1287.9 L1244.4 1287.3 L1248.4 1286.7 L1252.4 1286.1 L1256.4 1285.5 L1260.4 1284.8 L1264.4 1284.2 L1268.4 1283.5 L1272.4 1282.8 L1276.4 1282.1 L1280.4 1281.3 L1284.4 1280.6 L1288.4 1279.9 L1292.4 1279.1 L1296.4 1278.3 L1300.4 1277.5 L1304.4 1276.7 L1308.4 1275.9 L1312.4 1275 L1316.4 1274.2 L1320.4 1273.3 L1324.4 1272.4 L1328.4 1271.5 L1332.4 1270.6 L1336.4 1269.7 L1340.4 1268.8 L1344.4 1267.8 L1348.4 1266.9 L1352.4 1265.9 L1356.4 1264.9 L1360.4 1263.9 L1364.4 1262.9 L1368.4 1261.9 L1372.4 1260.8 L1376.4 1259.8 L1380.4 1258.7 L1384.4 1257.6 L1388.4 1256.5 L1392.4 1255.4 L1396.4 1254.3 L1400.4 1253.2 L1404.4 1252.1 L1408.4 1250.9 L1412.4 1249.7 L1416.4 1248.6 L1420.4 1247.4 L1424.4 1246.2 L1428.4 1245 L1432.4 1243.8 L1436.4 1242.5 L1437.6 1242.2M1543.5 1244.3 L1547.5 1243.3 L1551.5 1242.3 L1555.5 1241.3 L1559.5 1240.3 L1563.5 1239.3 L1567.5 1238.3 L1571.5 1237.3 L1575.5 1236.3 L1579.5 1235.3 L1583.5 1234.4 L1587.5 1233.4 L1591.5 1232.5 L1595.5 1231.5 L1599.5 1230.6 L1603.5 1229.6 L1607.5 1228.7 L1611.5 1227.8 L1615.5 1226.9 L1619.5 1226 L1623.5 1225.1 L1627.5 1224.2 L1631.5 1223.3 L1635.5 1222.4 L1639.5 1221.5 L1643.5 1220.7 L1647.5 1219.8 L1651.5 1219 L1655.5 1218.1 L1659.5 1217.3 L1663.5 1216.5 L1667.5 1215.6 L1671.5 1214.8 L1675.5 1214 L1679.5 1213.2 L1683.5 1212.5 L1687.5 1211.7 L1691.5 1210.9 L1695.5 1210.2 L1699.5 1209.4 L1703.5 1208.7 L1707.5 1207.9 L1711.5 1207.2 L1715.5 1206.5 L1719.5 1205.8 L1723.5 1205.1 L1727.5 1204.4 L1731.5 1203.7 L1735.5 1203.1 L1739.5 1202.4 L1743.5 1201.8 L1747.5 1201.1 L1751.5 1200.5 L1755.5 1199.9 L1759.5 1199.3 L1763.5 1198.7 L1767.5 1198.1 L1771.5 1197.6 L1775.5 1197 L1779.5 1196.4 L1783.5 1195.9 L1787.5 1195.4 L1791.5 1194.9 L1795.5 1194.4 L1799.5 1193.9 L1803.5 1193.4 L1807.5 1192.9 L1810.5 1192.6" fill="none" stroke="#d00000" stroke-width="1.2"/>
<path d="M258.5 1260.5 L432.9 1292.3 L489.4 1296.5 L499.2 1298 L520 1290.9 L564.4 1280.3 L695.7 1215.4 L755 1199.1 L780 1198.4 L817.4 1194.9 L866.8 1196.3 L916.2 1201.2 L972.7 1208.3 L1015 1211.8 L1040 1211.8 L1091.5 1213.2 L1133.8 1209.7 L1197.4 1208.3 L1300 1209 L1372.6 1208.3 L1415 1208.3 L1464.4 1210.4 L1560 1224.5 L1812 1260.5" fill="none" stroke="#00ee00" stroke-width="5.2" stroke-linejoin="round"/>
<g fill="#ff0000"><rect x="744.1" y="1247.6" width="10.6" height="11.5" transform="rotate(13.3 749.4 1253.3)"/><rect x="758.0" y="1250.8" width="10.6" height="11.5" transform="rotate(13.1 763.3 1256.6)"/><rect x="771.9" y="1254.1" width="10.6" height="11.5" transform="rotate(12.9 777.2 1259.8)"/><rect x="785.8" y="1257.2" width="10.6" height="11.5" transform="rotate(12.6 791.1 1262.9)"/><rect x="799.7" y="1260.3" width="10.6" height="11.5" transform="rotate(12.3 805.0 1266.0)"/><rect x="813.6" y="1263.3" width="10.6" height="11.5" transform="rotate(12.0 818.9 1269.0)"/><rect x="827.5" y="1266.2" width="10.6" height="11.5" transform="rotate(11.6 832.8 1271.9)"/><rect x="841.4" y="1268.9" width="10.6" height="11.5" transform="rotate(11.1 846.7 1274.7)"/><rect x="855.3" y="1271.6" width="10.6" height="11.5" transform="rotate(10.7 860.6 1277.4)"/><rect x="869.1" y="1274.2" width="10.6" height="11.5" transform="rotate(10.1 874.4 1279.9)"/><rect x="883.0" y="1276.6" width="10.6" height="11.5" transform="rotate(9.5 888.3 1282.3)"/><rect x="896.9" y="1278.8" width="10.6" height="11.5" transform="rotate(8.9 902.2 1284.6)"/><rect x="910.8" y="1280.9" width="10.6" height="11.5" transform="rotate(8.3 916.1 1286.7)"/><rect x="924.7" y="1282.9" width="10.6" height="11.5" transform="rotate(7.6 930.0 1288.6)"/><rect x="938.6" y="1284.7" width="10.6" height="11.5" transform="rotate(7.0 943.9 1290.4)"/><rect x="952.5" y="1286.3" width="10.6" height="11.5" transform="rotate(6.3 957.8 1292.0)"/><rect x="966.4" y="1287.8" width="10.6" height="11.5" transform="rotate(5.7 971.7 1293.5)"/><rect x="980.3" y="1289.0" width="10.6" height="11.5" transform="rotate(5.0 985.6 1294.8)"/><rect x="994.2" y="1290.2" width="10.6" height="11.5" transform="rotate(4.3 999.5 1295.9)"/><rect x="1008.1" y="1291.1" width="10.6" height="11.5" transform="rotate(3.6 1013.4 1296.9)"/><rect x="1022.0" y="1291.9" width="10.6" height="11.5" transform="rotate(2.9 1027.3 1297.7)"/><rect x="1035.9" y="1292.5" width="10.6" height="11.5" transform="rotate(2.2 1041.2 1298.3)"/><rect x="1049.8" y="1293.0" width="10.6" height="11.5" transform="rotate(1.5 1055.1 1298.8)"/><rect x="1063.7" y="1293.3" width="10.6" height="11.5" transform="rotate(0.8 1069.0 1299.0)"/><rect x="1077.6" y="1293.4" width="10.6" height="11.5" transform="rotate(0.1 1082.9 1299.1)"/><rect x="1091.5" y="1293.3" width="10.6" height="11.5" transform="rotate(-0.6 1096.8 1299.1)"/><rect x="1105.4" y="1293.1" width="10.6" height="11.5" transform="rotate(-1.4 1110.7 1298.8)"/><rect x="1119.2" y="1292.7" width="10.6" height="11.5" transform="rotate(-2.1 1124.5 1298.4)"/><rect x="1133.1" y="1292.1" width="10.6" height="11.5" transform="rotate(-2.8 1138.4 1297.8)"/><rect x="1147.0" y="1291.3" width="10.6" height="11.5" transform="rotate(-3.5 1152.3 1297.1)"/><rect x="1160.9" y="1290.4" width="10.6" height="11.5" transform="rotate(-4.3 1166.2 1296.1)"/><rect x="1174.8" y="1289.2" width="10.6" height="11.5" transform="rotate(-5.0 1180.1 1295.0)"/><rect x="1188.7" y="1287.9" width="10.6" height="11.5" transform="rotate(-5.8 1194.0 1293.7)"/><rect x="1202.6" y="1286.4" width="10.6" height="11.5" transform="rotate(-6.5 1207.9 1292.2)"/><rect x="1216.5" y="1284.7" width="10.6" height="11.5" transform="rotate(-7.3 1221.8 1290.5)"/><rect x="1230.4" y="1282.9" width="10.6" height="11.5" transform="rotate(-8.0 1235.7 1288.6)"/><rect x="1244.3" y="1280.8" width="10.6" height="11.5" transform="rotate(-8.8 1249.6 1286.6)"/></g>
<path d="M491.5 1288.4 L493.3 1293.4 L498.5 1293.5 L494.4 1296.7 L495.8 1301.8 L491.5 1298.8 L487.2 1301.8 L488.6 1296.7 L484.5 1293.5 L489.7 1293.4ZM632.2 1248.2 L634.0 1253.2 L639.2 1253.3 L635.1 1256.5 L636.5 1261.6 L632.2 1258.6 L627.9 1261.6 L629.3 1256.5 L625.2 1253.3 L630.4 1253.2ZM1446.1 1176.9 L1447.9 1181.9 L1453.1 1182.0 L1449.0 1185.2 L1450.4 1190.3 L1446.1 1187.3 L1441.8 1190.3 L1443.2 1185.2 L1439.1 1182.0 L1444.3 1181.9ZM1542.8 1195.3 L1544.6 1200.3 L1549.8 1200.4 L1545.7 1203.6 L1547.1 1208.7 L1542.8 1205.7 L1538.5 1208.7 L1539.9 1203.6 L1535.8 1200.4 L1541.0 1200.3ZM1694.1 1227.0 L1695.9 1232.0 L1701.1 1232.1 L1697.0 1235.3 L1698.4 1240.4 L1694.1 1237.4 L1689.8 1240.4 L1691.2 1235.3 L1687.1 1232.1 L1692.3 1232.0Z" fill="none" stroke="#ff00ff" stroke-width="1"/>
<path d="M260.5 1133.5H1810.5V1355.5H260.5Z" fill="none" stroke="#000" shape-rendering="crispEdges"/>
<text x="187.27" y="1193.30">15</text><text x="218.92" y="1179.80" style="font-size:18.5px">o</text><text x="232.10" y="1193.30">N</text>
<text x="214.91" y="1257.60">0</text><text x="231.22" y="1245.20" style="font-size:18.5px">o</text>
<text x="187.87" y="1323.00">15</text><text x="220.22" y="1309.60" style="font-size:18.5px">o</text><text x="232.23" y="1323.00">S</text>
<text x="215.59" y="1410.00">GLON</text>
<text x="403.50" y="1410">271.5</text>
<text x="583.50" y="1410">313.4</text>
<text x="764.50" y="1410">355.1</text>
<text x="944.50" y="1410">036.9</text>
<text x="1124.50" y="1410">078.9</text>
<text x="1305.50" y="1410">120.9</text>
<text x="1591.50" y="1410">187.2</text>
<text x="1772.50" y="1410">229.3</text>
<text x="218.09" y="1451.00">GLAT</text>
<text x="403.50" y="1451">+12.2</text>
<text x="583.50" y="1451">+05.3</text>
<text x="764.50" y="1451">-04.8</text>
<text x="944.50" y="1451">-12.0</text>
<text x="1124.50" y="1451">-12.2</text>
<text x="1305.50" y="1451">-05.3</text>
<text x="1591.50" y="1451">+04.8</text>
<text x="1772.50" y="1451">+12.0</text>
<text x="222.34" y="1492.00">GALT</text>
<text x="420.00" y="1492">585</text>
<text x="600.00" y="1492">746</text>
<text x="781.00" y="1492">832</text>
<text x="961.00" y="1492">782</text>
<text x="1141.00" y="1492">637</text>
<text x="1322.00" y="1492">480</text>
<text x="1608.00" y="1492">402</text>
<text x="1789.00" y="1492">448</text>
<text x="214.70" y="1533.00">MLON</text>
<text x="403.50" y="1533">340.3</text>
<text x="583.50" y="1533">028.4</text>
<text x="764.50" y="1533">065.4</text>
<text x="944.50" y="1533">107.0</text>
<text x="1124.50" y="1533">148.0</text>
<text x="1305.50" y="1533">191.8</text>
<text x="1591.50" y="1533">257.1</text>
<text x="1772.50" y="1533">297.5</text>
<text x="218.95" y="1574.00">MLAT</text>
<text x="403.50" y="1574">+23.0</text>
<text x="583.50" y="1574">+12.7</text>
<text x="764.50" y="1574">-15.8</text>
<text x="944.50" y="1574">-22.7</text>
<text x="1124.50" y="1574">-23.1</text>
<text x="1305.50" y="1574">-14.5</text>
<text x="1591.50" y="1574">+04.0</text>
<text x="1772.50" y="1574">+16.0</text>
<text x="236.59" y="1614.00">UT</text>
<text x="403.50" y="1614">20:55</text>
<text x="583.50" y="1614">21:07</text>
<text x="764.50" y="1614">21:20</text>
<text x="944.50" y="1614">21:33</text>
<text x="1124.50" y="1614">21:45</text>
<text x="1305.50" y="1614">21:57</text>
<text x="1591.50" y="1614">20:32</text>
<text x="1772.50" y="1614">20:44</text>
<text x="225.73" y="1655.00">SLT</text>
<text x="403.50" y="1655">15:00</text>
<text x="583.50" y="1655">18:00</text>
<text x="764.50" y="1655">21:00</text>
<text x="944.50" y="1655">00:00</text>
<text x="1124.50" y="1655">03:00</text>
<text x="1305.50" y="1655">06:00</text>
<text x="1591.50" y="1655">09:00</text>
<text x="1772.50" y="1655">12:00</text>
<text transform="translate(1899.7 1663) rotate(-90)" style="font-size:21.5px">Preliminary corrected calibration, 2/11/09</text>
<text transform="translate(1924.8 1663) rotate(-90)" style="font-size:21.5px">Produced 28-Jun-2010 14:12:11</text>
</svg></body></html>
